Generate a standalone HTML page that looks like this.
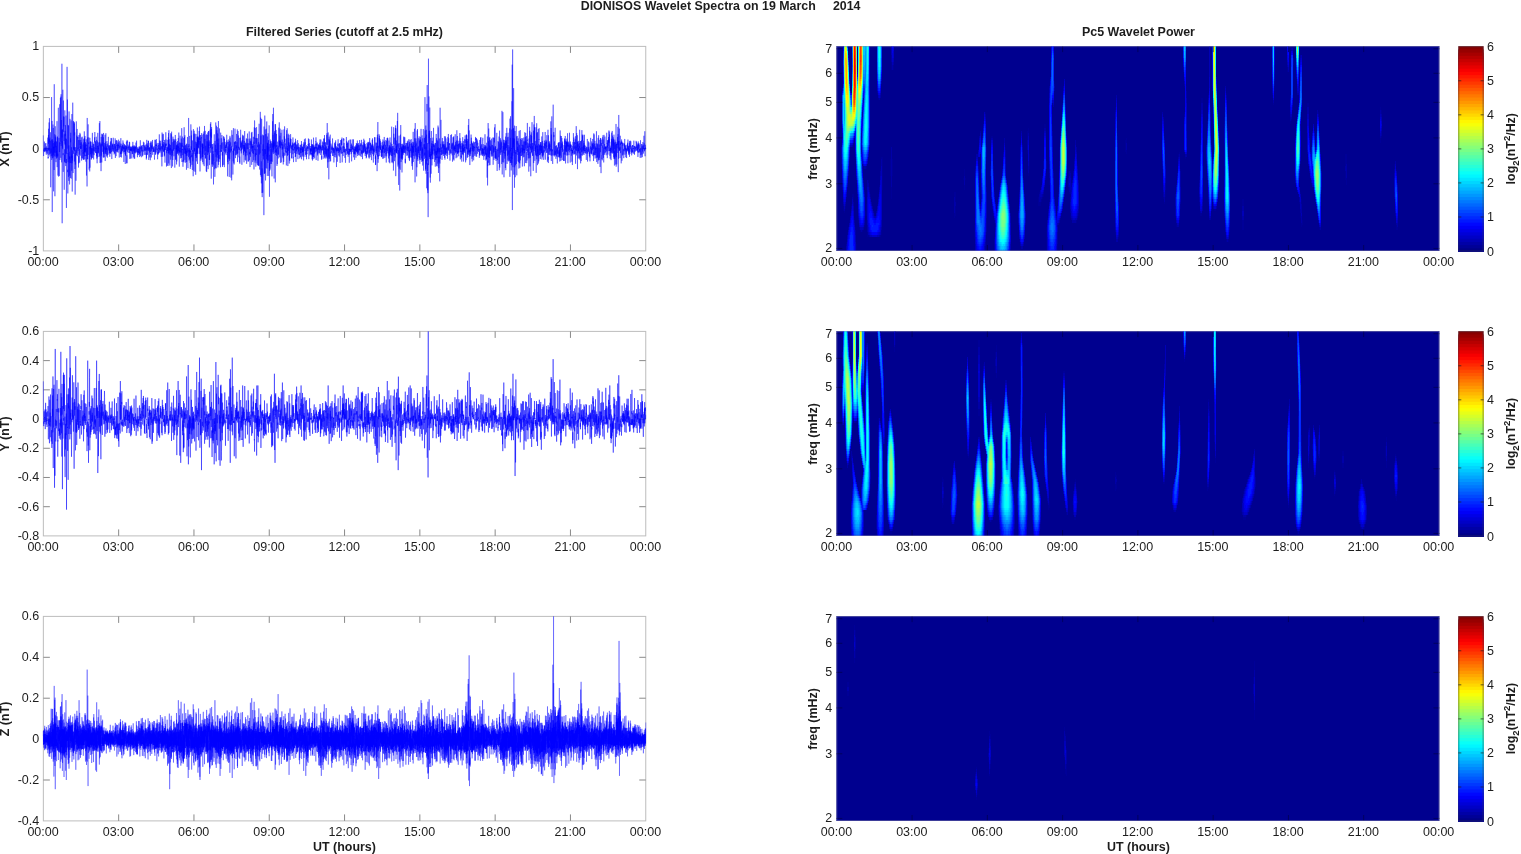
<!DOCTYPE html>
<html><head><meta charset="utf-8"><title>DIONISOS Wavelet Spectra</title><style>html,body{margin:0;padding:0;background:#fff;overflow:hidden}body{font-family:"Liberation Sans",sans-serif}svg{display:block}</style></head><body><svg width="1521" height="854" viewBox="0 0 1521 854" font-family="'Liberation Sans', sans-serif" fill="#1c1c1c"><defs></defs><rect width="1521" height="854" fill="#fff"/><rect x="43.35" y="46.40" width="602.40" height="204.50" fill="none" stroke="#bdbdbd" stroke-width="1"/>
<rect x="118.15" y="46.40" width="1" height="6.50" fill="#8a8a8a"/>
<rect x="118.15" y="244.40" width="1" height="6.50" fill="#8a8a8a"/>
<rect x="193.45" y="46.40" width="1" height="6.50" fill="#8a8a8a"/>
<rect x="193.45" y="244.40" width="1" height="6.50" fill="#8a8a8a"/>
<rect x="268.75" y="46.40" width="1" height="6.50" fill="#8a8a8a"/>
<rect x="268.75" y="244.40" width="1" height="6.50" fill="#8a8a8a"/>
<rect x="344.05" y="46.40" width="1" height="6.50" fill="#8a8a8a"/>
<rect x="344.05" y="244.40" width="1" height="6.50" fill="#8a8a8a"/>
<rect x="419.35" y="46.40" width="1" height="6.50" fill="#8a8a8a"/>
<rect x="419.35" y="244.40" width="1" height="6.50" fill="#8a8a8a"/>
<rect x="494.65" y="46.40" width="1" height="6.50" fill="#8a8a8a"/>
<rect x="494.65" y="244.40" width="1" height="6.50" fill="#8a8a8a"/>
<rect x="569.95" y="46.40" width="1" height="6.50" fill="#8a8a8a"/>
<rect x="569.95" y="244.40" width="1" height="6.50" fill="#8a8a8a"/>
<rect x="43.35" y="97.03" width="6.50" height="1" fill="#8a8a8a"/>
<rect x="639.25" y="97.03" width="6.50" height="1" fill="#8a8a8a"/>
<rect x="43.35" y="148.15" width="6.50" height="1" fill="#8a8a8a"/>
<rect x="639.25" y="148.15" width="6.50" height="1" fill="#8a8a8a"/>
<rect x="43.35" y="199.28" width="6.50" height="1" fill="#8a8a8a"/>
<rect x="639.25" y="199.28" width="6.50" height="1" fill="#8a8a8a"/>
<path transform="translate(43.35 148.65) scale(0.08325 .1)" d="M0 -133l1 95 1 45 1 67 1-49 1-15 1-2 1 12 1-13 1 18 1 4 1-53 1-24 1-23 1 61 1 20 1 13 1 5 1-38 1 37 1 8 1-33 1-55 1 44 1 33 1-8 1-25 1 11 1 14 1-13 1-33 1-25 1 72 1 1 1 11 1 31 1-29 1-11 1-42 1 25 1 24 1-32 1 16 1 30 1-19 1-7 1 1 1-5 1 45 1-43 1-59 1-22 1-27 1-15 1 5 1 124 1-28 1 109 1-15 1 8 1-175 1-55 1 89 1-151 1 211 1-14 1 4 1 61 1-127 1-198 1 284 1-117 1 30 1-240 1 146 1 11 1 37 1 103 1 64 1-167 1 191 1-87 1-70 1 126 1-81 1-132 1 160 1 140 1 250 1-224 1-73 1-3 1 4 1-93 1 43 1-33 1-96 1 166 1-77 1-516 1 285 1 344 1-89 1-168 1-133 1 220 1 155 1 536 1-728 1 48 1 142 1-18 1-24 1-134 1 151 1-156 1-156 1 145 1 184 1-295 1 267 1-77 1 295 1 149 1-409 1-73 1 49 1-16 1 161 1 75 1-233 1-625 1 357 1 326 1-108 1 146 1-25 1-196 1 267 1 353 1-185 1-279 1-75 1-161 1 265 1-155 1 52 1 48 1-118 1 69 1 143 1-156 1 211 1-108 1-37 1-15 1 125 1-65 1-40 1-64 1 140 1-50 1 51 1 20 1-367 1 255 1 205 1-298 1 200 1-124 1-84 1 188 1 7 1 1 1-24 1 218 1-96 1-159 1-215 1-24 1-184 1 269 1 182 1 42 1 196 1-68 1-83 1-162 1-75 1 176 1 77 1 128 1-230 1-100 1-6 1 97 1-478 1 3 1 431 1 123 1-41 1-84 1-11 1-118 1-167 1-200 1 84 1 374 1-4 1 145 1-53 1-558 1 449 1-473 1 516 1-69 1-189 1 223 1-6 1 120 1 86 1-54 1-14 1-918 1 738 1-75 1 932 1-659 1-161 1 64 1-183 1 30 1 168 1-147 1-447 1 411 1 142 1 101 1-20 1 187 1-238 1-475 1 196 1 117 1-94 1-62 1 101 1-93 1 157 1 83 1-67 1 554 1-275 1-129 1 121 1-67 1 77 1-112 1-409 1 190 1 144 1-130 1 144 1-115 1 25 1-110 1 377 1-215 1 69 1 178 1-274 1 150 1-381 1 180 1 4 1 66 1-17 1 691 1-489 1 41 1-161 1-10 1-58 1 138 1-329 1-543 1 767 1 51 1-136 1-355 1 67 1 659 1-24 1 175 1 62 1-56 1-348 1 91 1-372 1 64 1 329 1 126 1-191 1-321 1 339 1 213 1-281 1-74 1 59 1-398 1 250 1 64 1 159 1-73 1 42 1 288 1-279 1 191 1-191 1 63 1-440 1 142 1 16 1 17 1 304 1 112 1-221 1-174 1 38 1-95 1 44 1 259 1-194 1-232 1 348 1 234 1-209 1-54 1-51 1 109 1-36 1 162 1-314 1-253 1 104 1 388 1-72 1 355 1-391 1-20 1 101 1-141 1-49 1-389 1 402 1 72 1 219 1 11 1-186 1-83 1-43 1-209 1 328 1-8 1-61 1 23 1-63 1 72 1-283 1 212 1-206 1 131 1-118 1 379 1-144 1 40 1-88 1-100 1 295 1 72 1-32 1-129 1 417 1-391 1 90 1 0 1-108 1-65 1 87 1-18 1-41 1 85 1 222 1-239 1-101 1-109 1-145 1 171 1 101 1 67 1-69 1-98 1-30 1 176 1-58 1-112 1-72 1 150 1 88 1 35 1-22 1-15 1-99 1-58 1 26 1-26 1 124 1-17 1 34 1-38 1-73 1 98 1 179 1-114 1 18 1 54 1-65 1-183 1-35 1 129 1-79 1 16 1 129 1-38 1-20 1 10 1 129 1-109 1-131 1-58 1 0 1 124 1-110 1 96 1 118 1-94 1 27 1-23 1 5 1-72 1 58 1 29 1-52 1 31 1 24 1-68 1 82 1 37 1 19 1 46 1-93 1-138 1 144 1-3 1 65 1-65 1-149 1 42 1 101 1-4 1 42 1 9 1 28 1-21 1-92 1-26 1 6 1 58 1 86 1-72 1 13 1-107 1-4 1 7 1 98 1 69 1-184 1-29 1 207 1-112 1-88 1 129 1-209 1 185 1 64 1-185 1 59 1 84 1-56 1 129 1-234 1 155 1-29 1 20 1-81 1-4 1 105 1-80 1 62 1 52 1-11 1 68 1-60 1-122 1 26 1-68 1 52 1 194 1 117 1-152 1-125 1 18 1 62 1-110 1 234 1 182 1-404 1-281 1 247 1 164 1-155 1-60 1 7 1 148 1 63 1-109 1-62 1-112 1-67 1 278 1 27 1-37 1-14 1-48 1-25 1 17 1-68 1 121 1 175 1 27 1-20 1 2 1 1 1-212 1 0 1 72 1 88 1 87 1-145 1-191 1 298 1-176 1-85 1 57 1 21 1-41 1 91 1-90 1-38 1 137 1 14 1-88 1-61 1 4 1 32 1 86 1 57 1-112 1-4 1 105 1-92 1-24 1-13 1 75 1-47 1 92 1-34 1-61 1-90 1-63 1 122 1 14 1-4 1 120 1-99 1 63 1-105 1-15 1 44 1 38 1-65 1 27 1 10 1 2 1 114 1-114 1-40 1 29 1 17 1 65 1-80 1-1 1 20 1 23 1-95 1-45 1 49 1-41 1-61 1 19 1 118 1 42 1 16 1-31 1-56 1-17 1 83 1 0 1 35 1-111 1 69 1-7 1 51 1-17 1-8 1-139 1 69 1 67 1 58 1-29 1-108 1-25 1 180 1 8 1-67 1 37 1 75 1-136 1-36 1 114 1-91 1-69 1 6 1 50 1-142 1 122 1 69 1-57 1 68 1-56 1 59 1-59 1 17 1-66 1 10 1 23 1 10 1-16 1 117 1-87 1-18 1-20 1-51 1-162 1 199 1 13 1 11 1-32 1 141 1-353 1 316 1 103 1-50 1-76 1-23 1-1 1-36 1 38 1 39 1 105 1-150 1-48 1 92 1 192 1-121 1-221 1 139 1 48 1-13 1-100 1 82 1 60 1 39 1-125 1-163 1 117 1-112 1 91 1 32 1-5 1-9 1-103 1 65 1 105 1-30 1-7 1-57 1 17 1 35 1 98 1-120 1-81 1 164 1-207 1 115 1 69 1 62 1-121 1 83 1-21 1-44 1 81 1 19 1-18 1-59 1-64 1 8 1 16 1 39 1-5 1 5 1-147 1 127 1 136 1-70 1-124 1 121 1-25 1-28 1 38 1-110 1-80 1 161 1-52 1 85 1 17 1-60 1-4 1 21 1-36 1 100 1-6 1-12 1-104 1-31 1 51 1 91 1-65 1-6 1 94 1-41 1-80 1-20 1 29 1-9 1 6 1 17 1 19 1 49 1-34 1-28 1-116 1 85 1 33 1 10 1 0 1-3 1-26 1 8 1-22 1 55 1-41 1-15 1 80 1-45 1-10 1 24 1 22 1 44 1-109 1 68 1 5 1-44 1 50 1-99 1-15 1 21 1 49 1 36 1 5 1-123 1 81 1 0 1-113 1 114 1 4 1-3 1 1 1 26 1-25 1-114 1 82 1 126 1-22 1-79 1-1 1 1 1-29 1 54 1-79 1 26 1-12 1 13 1-19 1 47 1 4 1-36 1 25 1 27 1-104 1-29 1 14 1 72 1 13 1 26 1 19 1-32 1-4 1 7 1-55 1 107 1-5 1-32 1-66 1 46 1 19 1 26 1-9 1 9 1-87 1-4 1 4 1 38 1-100 1 137 1 59 1-69 1-33 1-14 1 49 1-55 1-53 1 106 1 30 1 21 1-76 1-52 1 5 1-9 1-27 1 56 1-6 1 66 1 3 1-31 1 19 1-57 1-47 1 52 1 61 1-10 1-64 1 56 1-11 1 4 1-15 1-43 1 72 1 19 1-104 1 37 1-10 1 26 1-39 1-40 1 12 1 79 1 9 1-24 1-3 1 0 1 53 1 53 1-92 1-29 1-8 1-34 1 31 1 42 1-31 1 18 1-38 1 36 1-4 1 9 1 19 1 48 1-25 1 52 1-90 1-60 1-38 1 81 1 64 1 12 1-101 1 81 1-33 1 89 1-75 1-34 1 6 1 21 1 44 1-18 1-59 1 5 1 22 1 1 1 26 1-58 1-8 1 58 1-24 1-29 1 33 1-81 1 11 1 63 1-40 1-11 1 96 1-47 1 12 1 2 1-23 1 61 1 91 1-32 1-90 1-33 1 20 1 11 1-16 1-40 1 28 1 54 1-25 1-47 1 61 1 5 1-11 1 37 1-62 1 160 1-186 1 48 1 51 1-50 1 55 1-82 1-18 1 46 1-3 1-40 1 45 1-18 1-31 1-40 1 74 1-11 1-13 1 168 1-82 1 79 1-64 1-168 1 37 1-27 1 69 1-4 1 27 1 17 1-25 1-20 1-30 1 36 1 1 1 10 1 5 1 34 1-61 1 30 1-8 1-4 1-30 1 11 1 15 1-2 1-7 1-15 1 4 1-29 1-16 1 50 1 63 1-106 1-2 1 64 1 51 1 53 1-105 1 14 1-36 1 121 1-86 1-29 1 30 1 9 1-21 1 18 1-7 1-5 1 10 1-13 1-23 1 24 1-3 1 16 1-31 1 41 1-28 1 98 1-29 1-14 1-76 1 17 1 58 1-37 1-46 1 21 1 3 1 55 1 4 1-76 1-46 1 66 1-4 1 25 1-40 1 29 1 32 1 47 1-53 1-41 1-24 1 57 1-43 1 24 1 22 1 35 1 36 1-53 1-79 1 73 1-20 1-35 1 114 1-92 1 6 1-18 1-22 1 28 1 3 1-24 1 3 1 39 1 1 1 23 1-64 1 48 1-36 1-56 1 33 1 40 1 28 1-16 1-46 1 9 1-3 1-64 1 95 1 15 1-14 1-20 1-3 1 9 1-18 1 0 1 49 1 53 1-85 1 33 1 5 1-18 1 42 1-27 1-28 1 5 1-11 1 31 1-3 1 15 1-26 1-20 1 20 1 46 1-45 1-25 1-14 1 19 1 34 1 3 1-60 1 52 1 26 1-23 1 52 1-96 1 5 1 4 1 44 1-21 1-35 1-15 1-54 1 63 1 93 1-54 1-12 1-25 1 16 1-1 1 9 1-21 1-12 1 54 1 60 1-40 1-77 1 22 1 24 1 15 1-49 1 8 1 17 1 16 1-12 1-2 1-31 1-13 1 99 1 14 1-65 1 0 1 56 1-32 1-11 1-1 1-3 1-19 1-62 1-9 1 14 1 46 1 38 1-6 1-58 1 11 1-37 1 40 1 14 1 5 1 64 1-28 1-16 1-43 1 48 1-19 1 9 1-35 1-13 1 39 1-4 1-10 1-10 1 28 1 1 1 21 1 32 1-60 1-6 1 27 1-65 1 57 1-30 1 14 1 110 1-62 1 48 1-78 1-52 1-53 1 69 1 77 1-45 1-54 1 16 1-30 1 75 1 20 1 22 1-48 1-43 1 47 1-40 1 1 1-6 1 32 1-15 1-69 1 100 1-41 1-58 1 30 1 6 1 155 1-68 1-5 1-19 1-16 1-10 1 24 1-25 1 45 1-55 1 33 1 49 1 13 1 9 1-31 1-58 1-57 1 37 1 79 1 58 1-71 1 8 1-27 1-19 1-79 1 106 1-38 1-54 1 69 1 13 1-56 1 111 1 9 1-25 1-66 1-18 1 8 1-58 1 68 1 11 1-2 1-46 1 40 1 5 1-79 1-13 1 52 1 96 1 1 1-35 1-6 1 6 1-17 1-19 1 42 1-26 1 17 1 4 1-12 1-35 1 14 1 38 1-35 1-4 1-3 1 10 1-28 1 20 1 76 1 41 1-19 1-86 1 24 1 3 1-35 1-49 1-38 1 65 1-61 1 34 1 2 1 60 1 52 1-81 1-21 1 91 1-37 1-24 1-5 1 52 1-20 1-60 1-52 1 70 1-17 1 21 1 5 1 26 1 1 1 5 1-22 1-51 1 36 1-7 1 38 1-7 1 103 1-16 1-55 1 21 1-66 1 4 1 37 1-16 1 44 1-13 1-13 1 13 1-84 1 43 1-62 1 46 1 7 1 41 1-13 1-6 1-48 1-113 1 154 1-1 1-55 1-36 1 81 1 36 1 9 1-42 1-8 1 35 1-20 1-63 1 52 1 19 1-65 1-31 1 20 1 9 1 54 1-15 1-9 1 24 1 77 1-72 1-33 1-3 1 31 1 7 1 73 1 37 1 55 1-159 1-179 1 43 1 136 1-61 1-37 1 97 1 64 1-131 1 54 1-2 1-144 1 67 1-5 1-68 1 148 1 28 1-70 1 24 1-49 1 44 1 58 1-26 1 10 1-4 1-16 1-21 1 20 1 80 1-80 1 69 1-154 1 101 1-18 1-57 1 67 1 134 1-40 1-103 1-21 1-17 1 27 1 27 1-45 1-16 1 38 1-154 1 135 1-35 1-28 1 25 1 37 1-20 1 13 1 216 1-171 1 12 1 25 1-47 1-11 1-1 1 22 1-28 1 190 1-51 1-18 1-85 1 6 1-33 1 34 1-111 1 26 1 111 1 124 1-39 1-30 1-218 1 40 1 123 1-205 1 179 1 125 1-237 1-95 1 178 1 47 1-135 1 109 1-14 1-49 1 26 1 57 1 24 1-60 1 170 1-165 1-42 1 3 1 47 1-31 1-18 1 99 1-58 1-11 1 117 1-46 1-219 1 72 1 104 1-60 1-35 1-69 1 79 1 258 1-161 1-191 1-12 1 197 1 49 1-68 1 33 1-16 1 38 1-111 1-16 1 41 1 127 1 74 1-79 1-88 1 103 1-164 1-70 1 137 1-12 1-103 1 12 1 107 1-5 1-18 1 7 1-39 1-29 1-19 1 158 1-137 1-11 1 64 1-42 1-43 1 65 1 33 1-9 1 88 1 106 1-46 1-55 1-103 1-63 1 10 1-70 1 129 1 85 1 36 1-27 1-72 1-109 1 198 1-121 1-3 1-44 1 70 1-35 1 39 1-15 1 164 1-173 1-19 1 162 1-141 1 67 1-90 1 18 1-26 1 30 1 63 1-114 1-11 1 108 1-52 1-3 1 64 1-3 1-90 1 44 1-62 1-37 1 67 1 62 1-46 1 91 1-47 1-181 1 159 1 1 1 50 1-40 1 3 1 168 1-124 1-100 1-17 1 45 1 53 1-45 1 31 1 13 1-54 1-112 1 132 1-62 1 50 1 107 1-39 1-41 1-1 1-17 1 72 1-23 1-101 1 49 1 44 1-58 1-83 1 122 1 72 1-173 1-125 1 118 1 175 1 46 1-192 1 40 1-14 1 12 1-101 1 95 1 37 1-6 1 60 1-62 1 27 1 151 1-69 1 21 1-26 1-123 1-89 1 87 1 117 1 24 1-151 1 34 1 22 1 110 1-18 1-334 1 222 1 30 1 10 1-165 1 120 1 8 1-10 1-30 1-105 1 246 1-116 1 41 1 9 1 3 1-47 1 138 1-81 1-93 1 88 1-16 1-71 1 28 1 33 1-8 1 50 1-118 1 156 1 103 1-188 1 111 1-21 1-83 1-79 1 86 1 34 1-28 1-48 1 46 1-60 1-98 1 123 1 70 1 63 1 15 1 24 1 17 1-128 1-82 1-13 1 57 1-19 1 75 1-195 1-197 1 272 1 13 1 5 1-28 1 112 1 52 1-126 1 77 1-56 1 93 1-29 1-170 1-35 1 127 1 38 1-37 1 82 1 59 1-67 1 128 1-185 1 16 1-6 1 152 1-77 1-156 1-190 1 78 1 141 1 111 1-111 1 17 1 14 1-140 1 146 1-194 1 228 1 38 1-22 1 99 1-99 1-19 1 127 1 19 1 23 1-163 1-132 1 109 1-3 1-9 1 111 1-106 1 53 1 73 1 130 1-186 1-248 1-37 1 202 1 11 1 68 1 123 1 12 1-366 1 199 1-83 1-150 1 193 1 8 1-27 1 35 1-31 1 8 1-159 1 97 1 198 1 89 1-108 1-5 1-60 1-129 1 143 1-22 1-9 1 219 1-267 1-86 1-54 1 239 1-31 1-62 1 70 1 57 1-178 1 52 1-3 1 92 1-156 1 92 1 29 1-124 1-48 1 166 1-150 1-110 1 184 1 180 1-189 1-74 1 162 1-177 1 114 1 5 1-104 1 42 1-47 1 81 1 0 1 22 1-15 1-49 1 27 1 47 1-102 1 64 1-137 1 59 1 124 1 48 1-75 1-200 1 135 1-49 1 128 1 50 1 80 1 105 1-221 1-18 1-4 1-60 1 111 1-172 1 236 1-71 1 92 1-100 1-130 1 202 1-86 1-29 1-12 1-36 1-45 1 9 1 2 1-52 1 39 1 138 1 87 1-157 1 33 1-124 1 177 1 47 1-136 1 117 1 70 1-173 1 121 1-130 1 98 1-65 1 20 1 151 1-109 1-12 1-45 1-52 1-88 1 145 1-16 1-151 1 48 1 81 1 208 1 9 1-110 1-48 1-91 1-153 1 291 1-21 1-83 1-1 1-57 1 113 1 13 1-206 1 129 1 148 1-58 1-4 1 59 1-125 1 17 1 40 1 0 1-163 1 131 1 116 1 114 1-133 1-163 1-73 1 233 1 144 1-202 1-38 1-69 1 112 1-1 1 135 1-46 1-55 1-37 1-122 1-48 1 201 1-226 1 195 1-5 1-97 1 274 1-7 1-91 1-116 1-167 1 5 1 210 1-89 1 48 1-175 1 158 1-66 1 139 1-70 1 129 1-63 1 115 1-99 1 47 1-22 1-104 1-58 1 43 1-9 1-83 1-69 1 61 1 6 1-126 1 241 1-23 1 71 1-306 1 242 1-9 1-130 1 171 1 165 1 126 1-280 1-216 1 86 1-106 1 101 1 169 1 103 1-111 1-91 1 50 1-19 1-32 1 102 1 126 1-123 1-78 1 139 1 31 1 3 1-92 1-38 1 24 1 119 1-114 1 63 1 65 1 177 1-171 1-87 1-100 1-52 1 43 1 17 1 117 1-205 1-63 1 63 1 117 1 3 1 61 1 105 1-78 1 154 1-30 1-270 1-57 1-3 1 113 1-32 1-42 1 136 1 98 1-420 1-37 1 70 1 182 1 91 1-75 1-2 1 193 1-115 1-143 1-168 1 135 1 153 1 70 1-313 1 105 1-13 1 103 1 80 1-306 1 56 1 13 1 207 1-68 1-145 1 168 1 99 1 73 1-25 1-218 1 75 1 109 1-212 1-193 1 154 1 284 1-161 1-102 1 186 1 14 1-36 1 70 1-132 1-139 1-6 1-58 1 163 1 42 1 19 1 45 1 39 1-27 1-54 1 5 1-30 1-15 1-23 1 86 1 138 1-106 1-240 1 76 1 99 1 7 1-5 1 17 1-50 1-64 1-24 1 114 1 22 1-2 1-41 1-47 1 59 1-137 1 36 1 45 1 123 1 0 1-14 1-16 1 145 1-153 1 137 1-178 1-53 1 58 1 23 1 4 1-6 1-34 1-53 1-9 1-43 1 104 1 66 1 29 1 87 1-73 1-69 1-138 1 33 1-15 1 285 1-197 1-86 1 64 1 65 1-40 1-3 1-4 1-21 1-31 1 34 1 11 1 11 1-8 1 68 1-66 1 12 1-33 1 67 1-24 1 21 1 40 1-107 1 5 1 15 1-33 1 51 1-9 1-67 1-59 1 95 1-40 1 64 1 60 1-77 1-30 1 38 1 9 1 135 1 162 1-243 1 99 1-94 1-2 1-49 1-10 1 178 1-103 1-59 1-62 1 60 1 108 1-72 1-120 1 127 1-29 1-6 1 126 1 46 1 111 1-170 1-156 1 47 1 117 1-199 1 183 1-42 1-191 1 47 1 50 1-80 1 90 1 6 1 54 1-22 1-27 1-53 1 100 1 35 1 218 1-81 1-225 1 42 1 0 1-53 1 41 1-10 1 62 1 251 1-355 1-146 1 30 1 126 1 9 1-30 1-86 1-3 1 148 1 14 1 11 1 23 1 13 1 2 1 186 1-236 1 26 1 78 1-60 1-11 1-261 1 273 1-55 1-15 1 105 1 43 1-139 1 35 1 103 1 13 1-182 1-43 1 77 1-41 1-31 1-1 1 85 1-47 1-57 1-118 1 151 1-7 1-18 1 49 1 120 1-113 1-54 1 72 1 2 1 61 1-69 1-19 1-10 1 59 1 40 1 2 1-75 1-28 1-110 1 145 1-22 1 73 1-17 1-97 1 19 1 30 1 71 1-247 1 60 1 172 1 94 1-71 1-58 1 42 1-44 1-5 1-174 1 163 1 14 1-133 1 92 1 37 1-1 1-15 1 29 1-8 1 40 1 45 1-57 1-55 1-82 1 78 1 41 1-22 1 3 1 145 1-58 1 72 1-3 1-92 1-45 1-15 1-27 1-81 1 60 1 22 1 18 1-178 1 89 1 119 1 7 1-77 1-24 1 64 1-50 1 108 1-41 1-66 1 73 1-16 1 3 1 39 1 122 1-122 1-51 1-17 1-57 1 20 1 72 1-14 1-131 1 30 1 93 1 9 1-113 1-4 1 99 1-11 1 21 1-22 1-94 1 177 1-64 1 83 1-9 1-91 1 130 1 19 1 23 1-76 1-102 1-35 1 82 1-41 1 61 1-202 1 177 1 28 1-43 1 5 1 42 1 79 1-166 1 3 1 72 1 56 1-92 1-45 1 180 1-42 1-58 1 24 1-14 1-29 1-74 1-4 1-26 1 34 1 116 1 105 1-146 1-56 1 26 1 31 1-103 1 163 1-111 1-40 1-24 1-43 1 88 1 38 1 27 1-60 1 6 1 16 1 127 1 39 1-123 1-16 1 135 1-26 1-66 1-50 1-24 1-14 1 49 1-36 1-59 1 65 1-137 1 162 1 31 1 95 1-76 1 12 1-3 1-44 1 54 1-28 1 153 1-142 1-120 1 40 1 11 1 108 1 0 1-177 1-6 1 4 1 62 1-43 1 79 1-64 1 7 1 86 1-189 1 99 1 5 1 207 1 11 1-109 1-140 1-81 1 97 1 62 1-36 1 48 1-23 1-9 1 75 1-42 1 130 1-57 1-106 1 54 1-49 1 2 1 10 1-107 1 77 1 94 1 2 1-32 1 94 1-186 1 84 1 194 1-113 1-206 1 12 1-114 1 168 1-43 1-194 1 15 1 284 1-52 1 113 1-2 1 64 1-138 1 74 1-37 1-247 1 89 1 147 1 91 1-74 1 135 1-62 1-173 1-50 1 50 1-51 1 88 1 82 1-87 1-192 1 166 1-6 1 17 1 163 1 23 1-3 1-140 1 48 1 80 1 33 1-236 1-34 1 57 1 30 1-23 1 26 1-6 1 90 1 95 1-18 1-185 1-109 1 271 1 50 1-231 1-10 1 156 1 80 1-81 1-172 1-165 1 252 1 1 1 55 1-63 1-36 1 36 1 213 1-72 1-187 1 20 1 7 1-1 1 70 1-414 1 509 1 124 1-78 1-196 1-301 1 255 1 10 1-85 1 195 1 217 1-97 1-58 1 220 1-248 1-133 1-263 1 178 1 118 1 135 1 57 1 253 1-246 1 287 1-412 1-213 1 158 1-10 1 286 1 146 1-368 1-36 1-56 1 1 1-24 1 118 1-135 1-69 1 237 1-37 1-206 1 55 1 221 1 524 1-581 1-305 1 286 1 64 1 124 1-163 1-71 1-14 1 243 1-77 1-502 1 301 1 275 1-177 1-149 1-111 1 155 1 92 1-49 1 312 1-115 1-349 1 106 1 90 1 145 1-1 1-176 1-49 1-168 1 269 1-3 1 33 1 6 1-374 1-4 1 274 1 198 1-195 1-34 1 208 1 94 1-394 1 239 1-177 1 144 1-37 1-100 1 194 1-55 1-84 1-157 1 6 1 155 1 112 1-204 1 103 1 21 1 234 1-216 1-77 1 47 1-117 1-143 1 6 1 293 1 111 1 304 1-335 1 76 1-160 1 135 1-242 1 68 1 187 1-199 1-102 1 15 1 68 1-65 1 19 1 89 1 1 1 93 1-128 1 153 1-39 1 37 1-226 1 79 1 119 1-98 1 1 1-81 1 60 1 31 1 95 1 145 1-280 1-47 1 181 1-174 1-115 1-3 1-113 1 144 1 119 1-335 1 311 1 75 1-179 1 169 1-98 1 122 1-264 1-199 1 420 1-82 1-16 1 70 1-41 1 85 1 156 1 116 1-313 1-79 1-67 1 58 1 25 1 53 1-153 1 223 1-119 1 73 1-17 1-227 1 141 1 440 1-347 1-3 1-232 1 279 1-23 1 52 1-11 1-172 1-67 1 41 1 135 1 52 1-77 1 19 1-130 1 219 1-70 1 143 1 2 1 26 1-7 1-177 1 79 1 87 1-2 1-32 1-92 1-99 1 55 1 19 1-5 1-34 1 92 1-49 1 90 1-17 1-105 1 18 1 32 1 35 1-99 1-172 1 136 1 31 1 23 1-63 1 46 1-226 1 191 1 50 1-56 1 137 1 28 1-33 1-56 1-127 1 127 1-198 1 34 1 2 1 146 1 160 1-48 1-174 1 74 1-23 1-22 1-107 1 38 1 62 1 23 1-31 1 144 1-1 1 60 1-8 1-4 1-176 1 21 1-159 1 174 1 0 1 25 1-101 1 28 1 64 1-16 1 73 1 20 1-3 1-120 1 120 1 21 1-164 1 77 1 149 1-36 1-43 1 6 1-46 1 94 1-17 1-177 1-131 1 64 1 129 1-30 1 6 1-100 1 56 1-19 1-137 1 59 1 152 1 85 1-27 1 15 1-160 1 70 1-23 1 38 1 43 1-40 1-13 1 22 1 0 1-6 1 50 1-24 1 16 1 7 1-16 1 143 1-41 1-120 1-192 1 110 1 86 1-155 1 117 1 58 1-35 1-200 1 111 1 137 1 23 1-72 1 76 1-36 1-62 1 201 1-102 1-71 1-4 1-104 1 77 1-32 1-2 1 86 1-112 1-59 1 152 1 60 1-55 1-144 1 124 1 97 1 64 1-87 1 48 1-143 1 99 1 57 1-184 1 13 1 27 1 66 1-86 1 3 1 14 1-72 1-5 1 65 1-109 1 79 1 57 1-29 1-13 1-45 1 64 1 36 1-11 1-19 1 93 1 28 1-80 1-44 1-7 1 53 1 75 1 7 1-68 1-17 1-27 1-25 1 54 1-77 1 69 1 4 1 0 1 44 1-168 1 93 1-26 1 74 1 60 1-7 1 1 1 52 1-27 1-105 1 17 1-26 1-47 1 64 1-11 1-53 1 29 1 25 1 44 1-3 1-60 1 18 1-62 1-2 1 30 1-21 1 13 1 0 1 126 1-26 1-88 1-69 1 178 1-47 1-59 1-45 1 108 1 97 1-133 1-42 1 14 1 8 1 6 1 40 1-45 1-14 1 34 1 52 1-19 1-45 1 22 1-54 1 30 1 15 1-22 1-2 1-63 1 14 1 89 1 30 1 57 1-117 1-7 1 21 1 47 1-104 1 5 1 60 1 18 1-14 1-32 1 6 1 16 1 14 1 44 1-19 1 20 1-77 1 13 1 9 1 22 1 22 1 46 1-37 1-28 1-14 1-57 1-2 1 86 1-9 1-43 1 91 1-59 1-61 1 33 1 16 1-25 1 41 1 14 1-42 1-1 1-40 1-37 1 21 1 161 1-100 1-50 1-4 1 60 1 0 1-12 1 50 1 30 1-100 1 0 1 55 1-53 1 43 1-17 1 61 1-44 1 11 1-7 1-37 1-3 1 41 1-71 1 95 1 64 1-100 1-81 1 89 1 55 1-21 1-64 1-18 1-5 1-39 1-28 1 72 1 8 1 11 1-18 1-29 1 38 1 36 1-55 1-34 1 23 1-60 1 57 1 107 1-15 1 3 1-17 1 5 1-39 1-3 1 86 1-88 1 0 1-29 1 54 1 87 1-87 1-29 1-4 1 23 1 48 1-8 1 5 1-14 1-35 1-22 1-10 1 13 1 14 1-16 1 20 1 20 1-47 1 22 1-2 1-44 1 18 1-21 1-52 1 38 1 25 1 44 1 69 1 31 1-75 1-125 1 89 1 15 1-34 1-30 1 28 1 0 1 17 1 23 1 19 1 36 1-50 1-16 1-14 1-14 1 74 1 3 1-49 1 58 1-50 1-10 1-6 1 31 1-24 1 31 1-58 1 30 1 16 1-31 1-81 1 143 1-6 1 15 1-105 1 16 1 97 1-23 1 61 1-92 1-52 1 70 1 16 1 71 1-164 1 122 1-48 1-11 1-48 1 46 1 37 1 52 1-116 1 96 1-146 1-49 1 14 1 158 1 21 1-86 1-35 1 84 1-69 1 74 1-63 1 9 1 1 1 2 1-6 1 103 1-113 1 37 1 3 1 15 1-57 1 6 1 42 1 0 1-80 1 44 1-4 1 10 1-56 1-18 1 10 1-49 1 47 1 180 1-31 1-34 1-67 1 12 1 34 1-75 1 14 1-28 1 62 1-35 1-26 1 59 1-8 1 8 1 11 1-5 1 63 1-80 1 11 1 53 1-52 1 121 1-51 1-113 1 22 1 28 1-47 1 40 1 9 1-13 1-21 1 10 1 56 1-25 1-41 1-9 1 15 1-16 1 12 1 70 1-49 1-56 1 48 1-3 1 28 1-108 1 90 1-18 1 11 1 74 1-57 1-39 1 36 1-30 1 19 1-46 1-38 1 109 1-18 1 28 1 12 1-37 1-12 1-5 1 12 1 113 1-40 1 30 1-102 1-31 1 22 1 25 1-32 1-17 1 9 1 41 1-9 1-78 1 54 1 6 1-1 1-49 1 6 1 64 1 13 1-10 1-28 1-7 1 84 1-161 1 149 1-24 1 76 1-38 1-59 1-65 1 11 1-53 1 80 1-113 1 226 1-87 1-23 1 51 1-4 1 51 1-85 1 20 1-78 1 19 1 6 1 40 1 57 1-97 1-21 1 83 1 78 1-60 1-73 1 123 1-85 1 0 1-25 1 98 1-72 1 52 1-104 1-90 1 98 1-116 1 114 1-47 1-169 1 137 1 107 1 204 1-82 1-112 1 81 1 18 1-94 1 133 1-10 1-181 1-107 1 187 1-27 1-23 1 86 1 22 1-80 1 304 1-259 1-146 1 202 1-216 1-8 1 122 1-91 1 73 1 113 1-30 1-35 1-110 1 154 1 54 1-59 1-53 1-158 1 155 1 55 1-6 1 40 1 21 1-85 1 8 1-34 1-65 1 6 1 28 1 64 1-19 1 7 1-7 1-7 1-6 1-29 1 26 1-43 1 17 1 15 1-5 1 22 1-8 1-29 1-1 1-82 1 124 1 51 1-92 1 41 1 39 1 13 1-38 1 7 1-49 1 38 1-25 1-15 1 7 1 50 1 25 1 64 1-22 1-117 1 42 1-2 1-37 1-18 1-39 1 34 1 49 1 56 1-83 1 7 1 14 1 42 1-71 1-59 1 65 1-44 1 46 1 7 1-91 1 86 1 7 1 78 1-107 1 39 1 4 1 2 1-24 1 44 1 138 1-178 1-8 1 24 1-41 1-5 1 51 1-34 1 5 1 115 1 16 1 2 1-144 1 27 1 11 1-45 1-30 1 24 1-28 1-20 1-20 1 102 1 36 1-15 1-34 1 28 1-25 1 71 1-80 1-11 1-26 1 28 1 13 1 10 1 77 1-54 1-36 1-42 1 51 1 36 1-91 1 74 1-4 1 57 1 72 1-138 1 0 1-26 1 35 1-54 1-46 1 41 1 50 1 12 1 1 1 29 1-43 1-16 1 63 1-6 1-128 1 45 1-59 1 38 1 23 1 4 1-79 1 14 1 106 1 128 1-35 1-67 1 10 1-61 1-5 1-3 1 1 1 12 1-1 1 14 1 72 1-58 1-17 1-27 1 54 1 9 1-141 1 25 1-1 1-14 1 89 1-50 1 54 1 43 1-39 1-13 1-7 1 30 1 12 1 12 1-35 1 92 1-64 1-6 1 5 1-24 1 27 1 56 1 55 1-8 1-67 1-35 1-8 1-19 1-3 1 30 1 32 1-22 1-22 1-135 1 56 1 83 1-18 1-79 1 40 1-12 1 26 1 4 1-9 1 56 1 18 1-39 1-72 1 53 1 60 1-92 1-9 1-6 1 33 1 37 1 67 1-56 1 38 1-53 1-92 1 57 1 20 1 20 1-9 1 50 1-40 1-18 1 21 1 50 1 72 1-81 1-13 1-23 1-20 1 57 1-58 1 28 1-121 1 12 1 61 1 45 1-25 1-2 1 30 1-11 1-50 1 3 1-64 1 40 1 45 1-14 1 22 1 52 1-54 1 15 1-66 1 28 1 150 1-91 1-10 1-65 1 32 1-1 1-3 1 46 1-38 1-24 1 35 1-15 1-2 1-81 1-3 1 84 1 13 1-13 1 11 1 14 1-5 1-64 1-39 1 75 1 103 1 0 1-83 1 50 1-22 1-25 1 2 1-31 1 71 1-29 1 37 1-26 1 82 1-79 1-51 1 40 1-19 1 16 1-14 1 5 1-14 1 63 1-44 1-31 1 38 1-54 1-2 1 37 1 87 1-117 1 66 1-30 1-33 1-31 1 49 1 37 1-64 1-17 1 77 1-41 1 10 1 1 1 9 1-22 1-32 1-33 1 133 1-103 1 43 1 82 1-14 1-83 1 57 1-74 1 81 1-37 1 50 1 8 1-43 1-75 1 43 1 2 1-25 1 12 1 39 1-21 1 4 1 23 1 46 1-83 1-2 1 7 1-75 1 97 1 1 1-13 1 23 1-25 1-33 1 76 1 32 1-24 1-4 1-12 1-8 1-30 1-48 1 30 1-26 1 46 1 36 1 51 1-75 1-34 1-62 1 139 1-6 1-24 1-7 1 2 1 25 1-17 1 25 1 8 1-61 1-35 1 77 1 67 1-67 1-29 1-10 1-31 1 73 1-12 1-15 1-80 1 40 1 48 1 14 1-44 1 54 1-104 1-41 1 58 1 31 1 4 1-37 1 41 1-29 1 67 1-90 1 33 1-61 1 62 1 42 1-4 1-2 1-29 1 64 1 22 1-118 1 27 1 45 1-26 1 51 1-32 1 28 1-71 1 21 1 12 1 70 1 17 1-4 1-60 1-6 1 61 1-42 1-36 1-18 1 14 1-26 1-37 1 113 1-73 1 74 1-35 1 7 1-25 1-2 1-46 1 88 1-79 1-19 1-10 1 68 1-72 1 46 1-1 1 13 1-28 1-22 1 81 1 67 1-77 1-31 1 55 1 8 1 56 1-87 1 29 1-75 1-34 1-38 1 3 1 54 1 17 1-37 1 155 1-13 1-127 1 82 1 33 1-23 1-76 1-18 1 28 1 50 1-11 1-26 1 21 1-9 1 45 1-81 1 26 1 22 1 47 1 59 1-141 1 41 1-4 1-12 1-41 1 28 1-75 1 44 1 64 1-15 1-107 1 119 1 19 1 20 1-49 1-10 1-37 1 90 1 10 1-84 1 164 1-79 1 13 1-67 1 22 1-39 1 28 1-8 1 51 1-39 1-25 1-8 1-33 1-23 1-46 1 151 1-37 1-2 1-24 1-58 1-30 1 22 1 159 1 34 1-9 1-31 1 103 1-87 1 84 1-94 1-68 1-60 1 61 1 25 1-36 1 54 1-102 1 45 1-6 1 39 1-3 1 25 1 20 1-60 1-27 1 251 1-217 1-122 1 108 1-134 1 83 1 136 1-47 1-174 1-124 1 210 1 78 1 119 1-77 1 40 1-62 1-31 1-6 1-34 1 34 1 73 1-53 1-132 1-38 1 177 1-56 1-82 1 68 1 28 1-97 1-23 1 106 1 85 1 12 1-114 1-54 1 93 1 4 1-11 1-69 1 90 1-30 1 29 1-42 1-8 1-20 1 60 1 38 1 3 1-1 1-74 1 39 1 79 1-78 1 23 1 51 1-45 1-23 1 26 1 14 1 24 1-20 1-125 1 108 1-52 1-14 1 42 1 85 1-119 1 20 1-94 1 104 1 29 1-74 1 37 1-16 1-20 1 76 1 54 1-94 1-46 1 43 1 5 1-84 1 4 1 41 1-84 1 115 1 3 1 43 1-68 1-44 1 80 1 81 1-90 1-2 1-3 1 79 1-71 1 27 1-71 1 29 1 19 1-19 1-49 1-29 1 81 1 6 1 56 1-19 1 102 1-118 1-99 1 69 1 39 1 37 1 10 1-93 1 45 1 11 1-146 1 34 1 56 1 40 1-111 1-23 1 86 1 4 1-31 1-53 1 63 1 25 1 43 1 22 1-60 1-1 1 52 1 58 1-65 1 4 1-50 1-65 1-3 1 7 1 210 1-169 1 97 1-67 1-2 1-14 1 94 1-74 1 145 1-178 1 61 1-141 1 122 1 24 1-20 1-34 1 38 1 35 1 8 1-55 1-67 1 89 1-16 1 30 1-7 1-48 1 13 1 74 1-77 1 4 1-52 1-169 1 215 1 144 1-186 1 109 1 11 1-15 1-58 1 132 1-20 1-19 1-118 1 11 1 30 1 25 1 88 1 17 1-172 1 74 1-4 1 69 1 106 1-19 1-227 1-187 1 167 1-102 1 151 1 9 1-17 1 69 1-31 1 0 1-19 1 112 1-203 1-32 1 74 1 22 1 32 1 2 1-9 1 76 1-11 1-62 1-220 1 167 1-193 1 310 1 197 1-201 1-98 1-179 1 234 1-27 1 36 1-52 1-18 1 73 1-125 1 41 1 83 1-90 1 71 1-42 1 65 1 9 1-220 1-112 1 65 1 142 1 51 1-339 1 285 1 35 1 139 1 78 1-211 1-16 1 208 1-50 1-95 1 16 1 205 1 127 1-203 1-176 1-39 1 54 1-129 1 329 1-41 1-131 1-32 1 5 1 143 1 48 1 228 1-423 1 101 1-92 1-58 1 68 1 196 1-138 1-104 1-109 1 114 1 28 1-238 1 101 1 121 1 111 1 37 1-97 1-35 1 31 1-41 1 41 1 69 1-149 1 145 1-115 1 68 1 187 1-143 1-121 1 138 1-71 1-90 1 96 1-45 1 97 1-61 1-12 1-7 1 17 1-71 1 100 1-106 1 48 1 39 1-64 1-11 1 32 1 1 1-125 1 107 1 44 1-145 1 56 1 61 1 42 1-70 1 45 1 2 1 20 1-1 1-153 1 55 1 11 1 53 1-28 1 163 1-39 1 46 1-139 1-42 1 23 1 59 1-28 1-12 1-28 1-37 1 65 1-49 1-16 1 23 1 66 1 7 1-1 1 32 1-25 1-1 1-42 1 19 1-36 1 15 1-74 1 59 1 40 1 42 1-97 1-30 1 57 1-39 1-40 1 103 1-39 1 22 1 21 1 66 1-63 1-31 1-20 1 58 1-33 1-99 1 73 1-7 1 24 1 116 1-93 1-3 1 110 1-192 1 90 1 71 1-101 1-39 1-1 1 18 1-58 1 38 1 35 1-6 1 44 1-3 1-32 1 80 1 18 1-79 1 8 1 19 1 6 1-135 1 79 1-43 1 29 1 120 1-88 1-37 1-14 1 207 1 17 1-197 1 132 1 38 1-166 1 13 1-22 1 238 1-241 1-38 1 120 1 17 1-108 1 80 1-209 1 86 1 215 1-92 1-67 1-37 1 100 1-46 1 26 1 57 1-12 1-89 1 15 1-28 1 2 1-3 1-158 1 39 1 115 1 146 1-205 1 52 1 49 1 340 1-318 1-275 1 136 1 101 1 8 1 45 1-73 1 108 1-14 1-157 1 72 1-42 1 152 1-36 1-97 1 22 1 12 1 55 1 242 1-282 1 18 1 172 1-226 1-120 1-22 1 140 1 18 1 129 1-301 1 156 1 20 1 36 1 86 1 20 1-111 1 71 1-98 1 40 1-49 1 30 1 38 1-12 1-72 1-60 1-4 1 165 1-28 1-44 1-111 1 132 1 86 1-19 1 35 1-191 1 39 1 41 1 152 1-96 1 12 1-61 1-105 1 121 1-141 1 95 1-63 1 102 1-40 1-56 1 194 1-141 1-140 1-31 1 69 1 162 1 16 1 49 1-122 1-43 1 148 1 51 1-66 1-36 1-47 1-116 1 182 1-15 1-29 1-17 1 137 1-124 1 63 1 105 1-272 1 172 1 52 1-58 1-64 1-23 1-172 1 106 1 164 1 12 1 134 1-89 1-107 1-66 1 12 1 106 1-29 1-21 1-68 1-5 1 50 1-110 1 211 1-63 1 23 1-64 1-515 1 450 1-117 1 192 1 82 1-212 1 340 1-53 1-61 1 97 1-434 1 236 1-24 1 270 1-180 1-87 1-172 1 283 1 62 1-297 1 232 1 304 1-313 1-150 1-380 1 76 1-36 1-229 1 756 1-176 1 146 1 134 1-77 1 269 1-183 1 212 1-428 1 14 1 654 1-593 1-36 1-282 1-674 1 1064 1-26 1-50 1-359 1-172 1-79 1 476 1-134 1 75 1-49 1 228 1 10 1-263 1 281 1-253 1-260 1 493 1-24 1-59 1 290 1-258 1 237 1 72 1-284 1 46 1-185 1-23 1 48 1 167 1-5 1-50 1 197 1-260 1-103 1-64 1 185 1 61 1-124 1 118 1-89 1 73 1 119 1-122 1-85 1-38 1 52 1 130 1-96 1 43 1-19 1-80 1 105 1-167 1 87 1 129 1-43 1-4 1-16 1-75 1-114 1-62 1 190 1-28 1 66 1-3 1-13 1-47 1 98 1 6 1 7 1-74 1-27 1 24 1 142 1-54 1-43 1-31 1 43 1-90 1-16 1 79 1 159 1-62 1-173 1 71 1 68 1 30 1-69 1-25 1 78 1-60 1-156 1-29 1 188 1 52 1-69 1 40 1-169 1 90 1 187 1-92 1 11 1 87 1-266 1 93 1 29 1-43 1 55 1 48 1-93 1 48 1-123 1 224 1-55 1-326 1 227 1 33 1-241 1 229 1 226 1-139 1-116 1 8 1 199 1-107 1 47 1-58 1 18 1-95 1 34 1-136 1 149 1-53 1 137 1 196 1-282 1 104 1-47 1-21 1-490 1 339 1 52 1 119 1-32 1-6 1-45 1-66 1 65 1 17 1-322 1 156 1 188 1 8 1-65 1 4 1-17 1 37 1 39 1-17 1-16 1-16 1 33 1 66 1-72 1-112 1 67 1-102 1 115 1 49 1-27 1-48 1 2 1-31 1 27 1-20 1 59 1 31 1-85 1-38 1 77 1 69 1-62 1-50 1 50 1 29 1 15 1-94 1-6 1 52 1-41 1-2 1-88 1 121 1 96 1-42 1-77 1 84 1 52 1-152 1 71 1 31 1-65 1 55 1-112 1-60 1 100 1 44 1 39 1-43 1-120 1 68 1 27 1 31 1 15 1-47 1 17 1-10 1 45 1-4 1 11 1 23 1-55 1-36 1 67 1-17 1-10 1-90 1 74 1 94 1-113 1-93 1-1 1-11 1 46 1 16 1 54 1 9 1-52 1-103 1 37 1 108 1 16 1-118 1 70 1 57 1-51 1 25 1 54 1 11 1-12 1-103 1 19 1-20 1 32 1 21 1 1 1 33 1 87 1-86 1-18 1 25 1-26 1 1 1-14 1-7 1-96 1-36 1 28 1 115 1 48 1-50 1 27 1 12 1-51 1-14 1-4 1-117 1 106 1 40 1-52 1-3 1 54 1-35 1 64 1 36 1-38 1-79 1 100 1 80 1-69 1-95 1-26 1 32 1-5 1-43 1-37 1 59 1 71 1-131 1 24 1 153 1 45 1-85 1-147 1 70 1 173 1-100 1-44 1 30 1-21 1 78 1-55 1-21 1-10 1 31 1-45 1 62 1-29 1 12 1-55 1-96 1 159 1 17 1-20 1 34 1-29 1-83 1 73 1-51 1 44 1 96 1-12 1-82 1-83 1 71 1 21 1 25 1-30 1-5 1-63 1-122 1 179 1 93 1-81 1-87 1 55 1-101 1 149 1 28 1-85 1 54 1 31 1-26 1 19 1-21 1 11 1-22 1-57 1 80 1-59 1-26 1 70 1 56 1-112 1-43 1 95 1 22 1-16 1-32 1 2 1 8 1-53 1 6 1 38 1-73 1-38 1-36 1 137 1-85 1 97 1 25 1 3 1 86 1-149 1-6 1 82 1-27 1-82 1 69 1 11 1-30 1 34 1 74 1-10 1 22 1-34 1-40 1 3 1 17 1 89 1-119 1-69 1 76 1 16 1-86 1 76 1-55 1 72 1 17 1-17 1-152 1-4 1 167 1-93 1-2 1 109 1-12 1-25 1-105 1 128 1 77 1-60 1-74 1 40 1-74 1 7 1-9 1 65 1-30 1 35 1-7 1-8 1-34 1 15 1-89 1 137 1-35 1-24 1 8 1-124 1 75 1-34 1 16 1 66 1 110 1 36 1-28 1-82 1-35 1-39 1 163 1-5 1-168 1-82 1 109 1-7 1-104 1 130 1 13 1-111 1-25 1 142 1-107 1 93 1-70 1 56 1 112 1-101 1 41 1 24 1-2 1-33 1 63 1-4 1-48 1-127 1 101 1 26 1-268 1 186 1 80 1 31 1-51 1-307 1 315 1 27 1-7 1-141 1-79 1 109 1 17 1 90 1-22 1 65 1-57 1 40 1 104 1-116 1-34 1-18 1 35 1-78 1 119 1-73 1-12 1 40 1 24 1-58 1 6 1 28 1-86 1-82 1 141 1-91 1-18 1 68 1-25 1-9 1 42 1-2 1 70 1 67 1-43 1-57 1-62 1 189 1-132 1 24 1-53 1-14 1 50 1-26 1-33 1 66 1 73 1-72 1-40 1 37 1 21 1-102 1 90 1 57 1 42 1-84 1-61 1 17 1 6 1 25 1-20 1-65 1 45 1 14 1-11 1 73 1 4 1 12 1-79 1-51 1 17 1 19 1 80 1-50 1-77 1 13 1-61 1 32 1-18 1 119 1 56 1 6 1-11 1-49 1-3 1-37 1 14 1-38 1-61 1 105 1 83 1-90 1-44 1-43 1 61 1 3 1 1 1-39 1-12 1 133 1-33 1-33 1 38 1-54 1-28 1 4 1 13 1 34 1 9 1-6 1-5 1-10 1-4 1 40 1-11 1-2 1 30 1-30 1 6 1 26 1-32 1 15 1 74 1-58 1 2 1 32 1-36 1-89 1-30 1 79 1 19 1 32 1 24 1-30 1-20 1-61 1-66 1 114 1 10 1-38 1 47 1-138 1 39 1 50 1-3 1 3 1 32 1-17 1-33 1 22 1 88 1-18 1-33 1 34 1-48 1 55 1-31 1-30 1 21 1-15 1 73 1-84 1-77 1 2 1-24 1 169 1-50 1-18 1-38 1 12 1 75 1-37 1 50 1 3 1-24 1 12 1 67 1-122 1 87 1-71 1-23 1 2 1-19 1 46 1-6 1-2 1-19 1 87 1-65 1-74 1-77 1 64 1 139 1-16 1-78 1 67 1 27 1-77 1 9 1 9 1-28 1 144 1 3 1-139 1 130 1-15 1 4 1-53 1 56 1-90 1-71 1 33 1 63 1 29 1-64 1 288 1 0 1-207 1-49 1-155 1 65 1 424 1-247 1 53 1-185 1 95 1-25 1-57 1-258 1 203 1 139 1-94 1-66 1 215 1-89 1-253 1 57 1 83 1 45 1 9 1 106 1 67 1-271 1 93 1 105 1-123 1 87 1-173 1 68 1 54 1 159 1-169 1-83 1 28 1 82 1-21 1 5 1-29 1 4 1 34 1-81 1-14 1 70 1 11 1 9 1 14 1 52 1-10 1-59 1-108 1 145 1 12 1-62 1-33 1 45 1 36 1 37 1-54 1-51 1 0 1-5 1-6 1 4 1 46 1 58 1-129 1-54 1 107 1 165 1-94 1-177 1 13 1 106 1-2 1 34 1-64 1 37 1 66 1 32 1-122 1 42 1-46 1-94 1 46 1-137 1-13 1 112 1 32 1 31 1 60 1 69 1-337 1 250 1 8 1-38 1 124 1-82 1-37 1 119 1-74 1 30 1 6 1 20 1 42 1-102 1-18 1 72 1-1 1 27 1-62 1-39 1-140 1-18 1 134 1 18 1 151 1 78 1-173 1-35 1 27 1 57 1 16 1-29 1-86 1 22 1-28 1-20 1-49 1 126 1 102 1-8 1-87 1-33 1-67 1-26 1 154 1-43 1-86 1-1 1-77 1 94 1 13 1 230 1-111 1-225 1-60 1 174 1 195 1-186 1-54 1 34 1 36 1 23 1 4 1-52 1 17 1-115 1 60 1 107 1-1 1-68 1-81 1 85 1-70 1 37 1 71 1 0 1-93 1-5 1 63 1 19 1 134 1-38 1-69 1-425 1 393 1 56 1 187 1-181 1-46 1-13 1 22 1 95 1-97 1-52 1-351 1 212 1 172 1-45 1 31 1 40 1-36 1-67 1-4 1-27 1 227 1-133 1-67 1 348 1-144 1-229 1 88 1-59 1 75 1-19 1 15 1 36 1-15 1 66 1-27 1-121 1 49 1-52 1 127 1-155 1 272 1-313 1 105 1 8 1 75 1 148 1-154 1-133 1 37 1-121 1 157 1 17 1-103 1 77 1-20 1-81 1-57 1-43 1 143 1 176 1 42 1-50 1-7 1-210 1 105 1 80 1-1 1-107 1 116 1 40 1-201 1 2 1-79 1 118 1-77 1 115 1 11 1 15 1 104 1-151 1-13 1 97 1-42 1 36 1 55 1-129 1 62 1 52 1 9 1 16 1-2 1-320 1 163 1 100 1 222 1-582 1 92 1 333 1-13 1 31 1-252 1 135 1-350 1 169 1 105 1 192 1-132 1 85 1-11 1 32 1 102 1-409 1 197 1-12 1 172 1-24 1-101 1 102 1-303 1-314 1 579 1-117 1-828 1 842 1 612 1-360 1-469 1-777 1 1037 1 26 1-177 1 291 1-147 1-234 1 197 1-85 1 68 1-191 1 163 1-561 1 657 1 208 1-223 1-138 1 146 1-129 1-16 1 114 1-14 1 391 1-621 1 127 1 289 1-43 1-209 1-110 1 76 1 228 1 158 1-108 1-113 1-29 1 130 1-48 1-104 1 26 1 13 1-103 1-93 1-47 1-36 1 318 1 61 1-115 1-160 1 64 1 243 1 82 1-282 1-8 1-52 1 33 1-79 1-6 1 36 1 105 1-33 1 53 1-108 1 137 1-60 1 61 1 63 1-150 1-80 1 71 1 45 1 120 1-134 1 1 1-14 1-38 1 251 1-100 1-105 1-171 1 321 1-75 1-105 1-1 1 77 1 41 1 66 1-114 1 159 1-74 1-135 1-56 1-113 1 270 1 33 1-74 1-134 1-5 1 140 1-41 1 71 1-82 1 1 1 10 1-36 1-73 1 87 1 93 1-67 1-9 1-84 1-1 1 45 1 15 1-7 1 68 1-42 1 16 1 171 1-75 1-208 1 22 1 149 1-107 1 43 1 44 1-65 1-16 1 47 1 74 1-41 1-40 1-3 1-2 1 17 1-129 1 119 1-85 1 159 1-148 1 67 1 56 1 119 1-172 1 41 1-113 1-56 1-40 1 29 1 149 1-64 1-23 1 11 1-18 1-37 1 180 1 80 1-186 1-114 1 121 1-29 1 64 1-80 1 53 1 4 1 48 1-86 1-63 1 43 1 70 1 157 1-111 1 68 1 17 1-16 1-71 1-123 1 14 1-180 1 212 1 38 1-53 1 89 1-23 1 35 1-46 1-23 1 91 1-16 1 50 1-4 1-13 1-64 1-68 1 59 1 223 1-172 1-12 1-147 1 158 1 41 1-34 1-193 1 114 1-66 1-137 1 88 1-46 1-2 1 356 1-144 1 57 1-37 1-103 1 59 1-31 1 15 1-129 1 7 1 404 1-220 1-47 1-151 1 5 1 69 1-95 1 20 1 92 1 89 1-165 1 145 1 18 1-176 1-2 1-123 1 315 1-106 1-1 1 64 1-32 1 25 1 71 1-22 1 22 1-21 1-106 1 6 1 178 1 46 1 48 1-212 1-190 1 206 1 83 1 35 1-56 1-23 1-307 1 189 1 76 1-112 1-238 1 233 1-115 1 176 1-182 1 136 1 11 1 190 1-86 1-6 1-6 1-101 1 81 1-36 1 63 1-45 1 81 1-110 1 91 1-1 1-126 1-135 1 306 1 150 1-155 1-38 1 22 1-58 1-161 1-106 1 360 1-132 1 15 1-146 1 235 1-40 1-125 1-79 1 197 1 134 1-196 1 27 1 58 1-51 1 6 1 66 1-106 1-5 1-160 1 222 1 123 1-113 1-27 1-56 1 174 1-46 1-177 1 8 1-117 1 6 1 186 1 14 1 64 1-104 1 26 1 60 1 17 1-91 1 17 1 29 1-39 1-16 1 140 1-7 1-78 1-85 1 123 1-108 1 1 1 62 1 8 1-11 1-75 1 46 1-7 1 71 1-73 1 2 1 20 1 48 1-163 1 144 1 87 1-138 1 21 1 77 1 2 1-147 1 39 1 98 1 26 1-104 1-148 1 158 1 24 1 54 1-43 1 33 1-4 1-48 1-10 1-24 1 6 1 131 1-23 1-2 1-75 1 17 1 12 1-97 1 87 1-3 1-108 1 48 1 24 1 1 1-6 1 13 1-47 1 24 1-78 1-66 1 175 1 102 1-151 1-21 1 81 1-7 1-22 1-24 1 1 1-55 1 38 1-24 1 71 1-1 1-65 1 50 1 60 1-71 1 11 1-116 1 75 1 102 1-12 1-8 1-24 1 85 1 48 1-120 1-19 1-74 1 0 1-67 1-16 1-24 1 169 1 131 1-29 1 62 1-189 1-89 1 136 1 59 1-113 1-19 1 70 1-39 1 26 1 19 1-33 1-26 1 85 1 31 1-65 1-70 1 103 1-48 1-30 1 4 1 24 1-10 1 69 1 20 1 7 1-1 1-56 1-8 1 24 1-298 1 260 1 25 1-218 1 12 1 305 1 13 1-264 1 106 1 74 1 31 1-241 1-153 1 184 1 31 1 174 1-52 1 8 1-18 1 29 1 1 1 5 1 114 1-131 1 3 1-6 1-11 1-170 1-278 1 305 1 114 1 89 1-25 1-108 1-10 1-91 1 51 1-23 1 40 1 33 1 60 1 10 1 67 1 6 1-150 1 138 1-16 1-13 1-19 1 6 1 39 1-219 1-53 1 228 1 48 1-93 1 4 1 15 1 57 1-1 1-23 1 76 1-33 1-99 1 18 1 19 1 64 1-3 1-55 1-46 1 59 1-9 1 42 1 24 1-24 1-38 1-20 1 44 1 103 1-83 1-32 1-47 1 34 1 30 1-58 1 61 1-33 1-7 1-12 1-58 1 54 1-49 1 31 1-43 1 34 1 117 1-71 1 47 1 18 1-40 1-11 1 54 1-15 1-60 1 60 1-134 1 112 1 82 1-63 1-83 1 110 1-108 1-167 1 198 1 53 1-83 1-115 1 85 1 32 1 19 1 116 1-82 1-62 1 13 1-46 1 86 1 58 1-15 1-201 1 28 1 87 1-36 1-59 1 76 1 11 1 106 1 27 1-118 1 18 1-65 1 58 1-78 1 94 1 9 1-15 1 7 1 3 1-21 1 20 1 38 1 22 1 11 1 26 1-85 1 57 1 25 1-61 1-35 1-60 1 50 1 25 1 19 1-7 1-21 1-132 1 129 1 97 1-81 1-62 1-60 1 35 1-50 1 156 1-189 1 135 1-10 1 6 1 144 1-179 1 59 1-57 1 5 1-22 1-31 1 73 1-59 1 22 1 67 1-94 1 48 1 55 1-103 1-32 1 5 1 164 1-116 1-10 1 124 1-40 1-88 1 5 1-98 1 133 1-51 1 139 1 79 1-176 1-27 1 30 1 6 1-18 1 7 1 58 1-35 1-60 1 48 1 11 1 75 1-16 1-45 1-29 1-9 1 29 1 19 1-173 1 148 1 28 1 20 1-88 1 31 1-1 1 14 1 62 1 84 1-80 1-130 1 39 1 25 1-33 1 21 1-24 1 35 1 32 1-37 1-23 1 56 1 50 1-65 1-9 1 28 1-7 1 8 1 64 1 42 1-110 1-5 1-37 1-6 1 87 1 104 1-151 1 31 1-20 1-9 1 30 1-98 1-15 1 47 1 78 1-43 1-25 1-144 1 77 1-5 1 97 1-22 1-103 1 31 1 7 1 133 1-28 1-54 1 24 1-37 1-32 1 7 1 29 1 85 1-33 1 14 1 15 1-110 1 50 1-85 1 50 1-79 1 98 1 177 1-135 1-48 1 45 1-23 1 34 1-42 1 12 1-219 1 151 1 142 1-48 1-45 1-131 1 4 1 155 1 21 1-64 1-21 1-7 1 57 1-123 1 145 1 194 1-145 1-125 1 38 1 72 1-119 1 121 1 51 1-91 1-6 1-45 1 71 1-32 1 4 1 26 1-10 1-93 1 14 1 56 1 106 1-64 1-89 1 102 1-49 1-23 1 16 1-180 1 247 1 51 1-53 1-17 1-10 1 63 1-100 1 24 1-80 1-10 1 78 1 143 1-209 1-1 1-13 1 15 1 39 1 124 1 22 1-68 1 6 1-85 1-60 1 113 1 7 1-23 1-199 1 215 1-45 1 87 1-119 1-93 1 56 1 6 1-51 1 42 1 82 1 67 1-96 1-73 1-32 1 86 1 72 1-46 1 76 1-60 1-23 1-2 1-43 1 96 1-74 1 121 1-40 1-61 1 37 1 6 1-6 1-139 1 180 1-28 1 7 1-48 1-10 1 60 1-6 1-2 1 6 1-26 1 27 1 26 1-41 1 0 1-12 1-19 1 12 1 61 1-25 1 8 1 46 1 36 1-37 1-41 1-49 1 23 1-8 1 29 1-19 1-14 1-14 1 68 1-63 1-85 1 16 1 74 1 136 1-27 1-70 1 8 1-27 1 15 1-16 1-10 1 8 1-21 1-62 1 7 1 101 1-12 1-39 1 22 1-6 1 21 1-83 1 83 1 31 1-7 1 30 1-47 1 29 1 30 1-45 1-33 1 77 1 41 1-38 1 2 1-30 1-56 1-29 1 30 1-45 1-69 1 48 1 52 1 59 1-21 1-35 1 48 1-56 1-2 1 49 1-3 1 26 1-60 1-69 1 73 1 46 1 9 1-108 1 64 1-7 1 13 1-13 1-55 1 37 1 13 1-97 1 30 1 73 1 69 1-61 1-52 1 39 1-59 1 121 1-25 1 86 1-54 1-186 1-37 1 150 1 3 1 2 1-144 1 38 1 145 1 25 1-36 1-13 1-66 1 84 1 26 1-61 1-78 1 24 1 153 1-73 1 28 1 10 1-85 1 20 1 21 1-25 1 40 1 9 1-52 1 10 1-54 1 70 1 75 1-116 1-151 1 141 1 67 1 100 1-100 1-14 1-23 1-6 1 65 1 19 1 9 1-135 1 140 1 2 1-34 1-100 1 119 1 76 1-191 1-32 1-37 1 78 1 42 1 106 1-166 1-1 1-85 1 168 1 73 1-35 1-78 1 37 1 83 1-69 1-60 1-27 1 133 1-80 1-15 1-6 1-78 1 100 1 118 1 53 1-22 1-78 1-43 1-147 1 1 1 142 1-73 1-49 1-18 1 87 1 95 1 167 1-264 1-71 1 61 1-5 1-23 1 3 1 25 1-1 1 28 1 105 1-3 1 7 1-42 1 52 1-149 1 15 1 19 1 64 1-79 1-101 1 42 1 24 1-86 1 128 1-86 1 23 1 58 1 103 1-23 1-79 1 85 1 63 1-66 1-86 1-115 1-9 1 23 1 178 1-1 1-63 1 3 1-48 1 33 1-1 1 62 1-70 1-99 1 73 1 46 1-12 1 15 1 6 1-28 1 59 1-19 1-38 1 26 1-25 1-2 1 62 1 13 1 11 1-82 1-2 1 45 1-10 1-16 1-160 1 108 1-4 1 14 1 31 1-19 1 39 1 85 1-76 1-47 1-56 1 67 1-43 1 79 1 29 1 11 1-145 1 87 1 24 1-36 1 7 1-26 1-87 1 57 1-33 1 64 1-2 1-151 1 69 1 54 1-112 1 180 1 13 1-97 1-67 1 14 1 87 1 63 1-13 1 62 1-101 1 52 1 79 1-98 1-12 1 31 1-31 1 10 1-6 1 47 1-37 1 0 1 110 1-142 1-41 1 55 1 51 1-136 1 28 1-90 1 169 1-45 1-41 1 81 1 42 1-45 1-178 1 64 1 162 1-4 1-175 1 12 1 113 1 34 1-30 1-50 1-46 1 66 1-18 1-64 1 65 1 92 1-136 1 178 1-77 1-80 1 88 1-157 1 97 1 147 1-77 1 72 1-81 1 151 1-229 1 27 1 37 1-13 1-81 1 120 1 63 1 7 1-126 1-15 1 119 1-147 1 142 1 86 1-61 1-16 1-128 1-74 1-127 1 241 1 186 1-174 1-56 1 135 1-64 1-66 1 5 1 197 1-139 1-65 1 8 1-26 1 62 1-16 1-46 1-4 1-46 1 9 1 105 1 44 1-261 1 180 1-102 1-5 1 226 1 154 1-312 1 10 1 168 1-160 1-73 1-205 1 197 1 142 1-79 1 97 1-2 1-194 1-25 1 110 1 113 1-26 1 18 1-2 1-28 1 18 1 93 1-15 1-168 1-41 1 39 1 53 1-18 1 100 1-54 1 5 1-50 1-16 1 102 1-2 1 117 1-136 1-76 1 0 1 17 1-44 1 42 1-24 1 76 1 119 1-55 1-60 1-8 1-57 1 0 1 42 1 85 1-84 1-26 1-19 1 32 1-19 1-4 1-1 1 113 1-19 1-1 1-28 1-7 1 1 1 19 1 70 1-74 1-8 1-13 1 24 1-79 1 54 1 6 1-52 1 26 1-8 1-68 1 3 1 131 1 24 1-99 1 65 1-30 1-23 1 39 1-24 1 2 1 46 1 12 1 37 1-35 1-38 1-49 1 11 1 13 1 62 1-49 1 18 1 45 1 30 1-96 1 0 1 11 1 5 1-5 1 9 1 10 1-71 1 4 1 60 1-80 1 36 1 11 1 20 1-27 1-72 1 91 1 7 1-36 1 33 1 23 1-37 1 60 1-2 1-73 1 11 1 78 1-48 1-10 1 0 1 34 1-41 1-57 1 54 1 86 1-90 1-68 1 44 1 68 1 16 1-51 1-35 1 17 1-63 1 56 1 2 1 21 1 2 1-8 1 2 1-68 1 51 1 35 1 19 1-35 1 20 1-8 1-31 1 41 1 6 1 42 1-46 1 24 1-43 1 21 1-7 1 19 1-65 1 10 1-16 1 0 1 17 1 53 1-38 1 5 1-37 1 37 1 43 1 4 1-26 1-28 1 9 1-2 1-4 1 2 1-29 1-50 1 51 1 79 1-29 1-45 1 0 1 8 1-8 1 85 1-23 1-37 1-7 1-9 1 11 1-23 1 35 1 23 1-34 1 8 1-1 1-10 1-11 1 32 1 7 1-15 1-21 1-36 1-28 1 3 1 14 1-7 1 48 1 13 1-54 1 49 1 20 1 10 1-28 1 31 1-20 1-24 1 36 1-51 1 66 1-38 1-1 1-40 1 22 1 49 1 63 1-29 1-31 1 17 1-112 1 110 1-18 1-70 1 3 1 5 1 44 1-44 1 12 1-24 1 3 1 47 1-8 1-21 1 39 1 13 1-16 1 36 1-35 1 18 1 10 1-26 1 37 1 49 1-37 1-23 1-54 1-62 1 46 1 40 1 32 1 30 1-67 1 12 1-6 1 35 1 52 1-69 1-26 1-41 1 8 1 27 1 3 1-13 1 40 1 39 1-64 1-37 1 71 1 57 1-75 1-9 1 28 1-54 1-5 1 25 1-61 1 17 1 55 1-9 1-8 1 22 1 38 1-30 1-51 1 32 1-29 1-11 1-89 1 81 1 28 1-34 1 50 1 31 1-26 1-8 1 11 1 15 1-46 1-147 1 164 1 69 1 17 1-88 1 20 1-47 1 10 1 32 1-3 1-7 1 6" fill="none" stroke="#0000ff" stroke-width="0.42" stroke-linejoin="round" vector-effect="non-scaling-stroke"/>
<rect x="836.30" y="46.10" width="603.15" height="204.90" fill="#00008f"/>
<g transform="translate(837.5 46)" fill="none" stroke-width="1" shape-rendering="crispEdges"><path stroke="#000097" d="M4 99v2M4 118v5M5 144v2M6 160v5M7 165v2M8 160v3M9 151v2M9 196v2M10 141v3M10 186v3M11 130v2M12 28v3M12 115v3M12 174v3M13 167v3M14 45v2M14 158v2M15 148v3M16 97v2M16 148v8M17 92v2M17 172v2M18 113v2M18 181v3M19 134v3M19 198v7M20 151v5M21 174v3M22 181v3M23 184v2M25 118v2M25 184v2M26 120v3M26 132v2M27 179v2M28 165v5M29 120v3M29 158v12M30 186v5M31 111v2M31 134v3M31 189v2M32 101v3M32 141v3M33 148v3M37 167v3M40 47v2M40 158v2M41 52v2M41 148v3M42 139v2M43 123v2M43 189v2M44 111v2M44 184v5M45 111v33M53 113v17M54 16v8M54 141v12M55 113v17M56 19v5M117 146v5M117 167v5M118 146v10M118 160v10M126 132v2M127 123v7M127 139v5M128 132v2M137 179v14M138 118v2M141 101v3M141 118v2M142 141v3M143 108v3M144 92v2M146 75v3M148 66v2M148 200v5M149 99v2M149 111v4M149 134v7M149 186v3M153 118v2M153 130v4M154 90v2M154 153v3M155 90v2M156 118v2M157 144v2M157 174v3M157 191v2M160 156v2M161 148v3M162 141v3M165 120v3M166 104v2M168 101v3M171 146v2M172 156v2M181 163v2M181 179v2M182 141v3M182 193v3M183 97v2M185 97v2M187 146v2M187 193v3M188 163v2M188 179v2M190 85v9M190 104v4M191 82v5M191 127v3M192 108v15M201 151v9M202 146v2M202 156v4M203 156v4M204 153v3M205 151v2M206 111v4M206 148v3M207 78v4M207 141v3M208 78v4M209 111v4M209 181v24M210 172v2M212 132v7M212 153v3M215 57v2M215 80v5M216 120v5M217 35v3M217 148v3M218 158v2M219 167v3M220 198v7M221 144v2M222 101v3M223 172v2M224 73v2M224 167v3M228 52v2M228 141v3M229 132v2M231 125v7M231 141v3M232 146v2M233 125v2M233 148v3M233 167v5M234 132v5M235 132v2M237 111v2M239 174v3M240 118v2M240 172v2M241 167v3M278 61v3M278 186v3M280 85v5M281 191v2M288 94v12M289 92v5M289 104v4M325 123v4M326 151v2M327 90v2M327 156v2M328 115v3M328 144v7M338 170v2M339 137v2M339 177v4M340 125v2M341 108v3M342 106v2M342 174v3M343 123v2M343 158v5M347 40v2M347 66v2M347 106v2M348 111v2M349 40v5M362 130v4M362 156v4M363 94v3M363 167v3M364 52v5M364 167v3M365 52v5M369 97v2M369 118v2M370 134v3M371 47v2M371 156v4M373 57v4M374 97v2M375 45v2M376 82v3M377 163v2M378 163v2M380 156v2M381 148v3M382 108v3M387 64v7M387 172v2M388 186v3M389 47v2M389 193v3M390 78v2M391 108v3M391 193v3M392 186v3M405 153v7M405 174v10M406 153v7M406 174v10M435 49v3M436 57v2M437 40v5M450 21v5M453 75v3M454 73v2M456 19v21M458 137v2M459 33v2M459 141v3M461 148v3M462 38v2M462 132v2M462 156v2M463 146v2M463 167v5M464 153v5M464 177v4M465 52v2M465 174v5M470 57v4M471 57v4M472 87v3M473 132v2M474 137v2M479 85v2M481 66v2M482 85v2M482 181v3M483 104v2M484 123v2M484 144v2M508 108v12M508 125v9M509 108v10M509 132v7M543 61v3M543 92v5M544 64v4M544 90v2M557 118v5M558 170v2M559 123v2M559 179v5M560 181v3"/><path stroke="#0000a7" d="M4 111v7M5 141v3M6 158v2M7 163v2M8 158v2M9 198v2M11 181v3M12 113v2M14 160v3M15 99v2M15 151v2M16 156v4M17 174v3M18 111v2M18 184v5M20 24v2M20 148v3M21 172v2M24 184v2M25 66v5M26 52v2M26 181v3M27 120v3M27 144v2M27 177v2M28 120v3M30 134v7M30 179v7M31 137v4M32 144v2M32 189v2M33 151v2M34 156v2M35 160v3M36 165v2M39 165v2M40 45v2M41 151v2M42 52v2M42 141v3M42 189v2M43 49v3M43 125v5M44 35v3M44 113v7M44 181v3M54 9v7M54 101v40M55 19v5M56 16v3M117 151v16M118 156v4M127 130v9M138 120v3M139 108v3M140 108v3M141 120v3M142 90v2M142 144v4M143 85v2M143 158v2M144 94v7M145 90v2M148 68v3M148 196v4M149 101v10M149 141v5M149 172v14M153 120v5M154 92v2M155 92v2M155 160v3M156 120v5M156 167v3M157 146v2M157 193v12M158 156v2M166 106v2M167 92v5M168 104v7M169 132v2M173 167v3M173 203v2M181 177v2M182 144v2M183 99v2M183 198v2M184 85v2M184 200v3M185 99v2M185 200v3M186 132v2M186 198v2M188 177v2M190 94v10M191 87v3M191 120v7M202 148v8M203 151v5M204 139v2M204 151v2M205 130v2M205 148v3M206 115v8M206 146v2M207 82v3M208 82v3M208 132v2M209 115v8M211 163v2M212 40v2M212 127v5M215 85v5M216 59v2M216 125v2M217 38v2M217 42v3M217 151v2M220 160v3M220 179v2M220 186v12M221 146v2M221 177v2M222 104v11M222 174v3M223 87v3M225 57v2M225 163v2M226 40v2M226 156v2M228 54v3M229 85v2M231 132v9M232 125v5M232 141v5M233 127v5M233 144v4M233 151v5M233 163v4M234 137v4M234 172v2M235 174v3M236 125v2M236 174v3M237 113v2M237 174v3M238 94v5M238 174v3M239 101v5M240 120v3M240 170v2M241 134v3M241 163v4M278 64v2M278 184v2M279 49v3M279 193v3M280 90v4M280 193v3M281 151v2M281 189v2M289 97v7M325 66v2M325 120v3M326 71v2M326 146v5M327 92v2M327 151v5M328 118v2M328 137v7M338 148v3M338 160v10M340 179v2M341 111v2M341 179v2M342 108v3M343 125v16M343 156v2M346 24v2M347 38v2M347 68v3M348 108v3M349 45v7M349 108v3M362 134v3M362 151v5M363 97v2M363 165v2M364 57v7M365 57v7M365 160v5M369 115v3M370 75v3M371 49v3M371 153v3M372 172v2M373 61v5M373 172v2M374 163v2M375 113v2M375 153v3M376 80v2M376 160v3M379 160v3M380 59v2M381 146v2M382 101v7M387 71v7M387 170v2M388 40v2M389 49v3M390 80v2M390 193v3M392 130v2M392 184v2M405 160v5M405 170v4M406 160v5M406 170v4M435 47v2M436 54v3M437 35v5M450 19v2M451 24v2M453 49v3M453 71v4M454 2v3M454 71v2M455 61v3M456 12v7M458 90v2M459 31v2M459 75v3M460 47v2M461 47v2M461 59v2M462 40v2M462 130v2M462 151v5M463 9v3M463 115v3M463 163v4M464 158v9M464 170v7M470 61v7M470 106v2M471 61v7M471 118v2M472 90v2M472 125v2M473 104v2M475 85v2M477 85v2M479 87v3M479 160v3M480 64v4M480 167v3M481 68v3M481 174v3M483 106v2M483 181v3M508 120v5M509 118v14M543 64v4M543 90v2M544 68v3M544 85v5M557 123v4M557 151v2M558 115v3M558 167v3M559 177v2M560 137v2M560 177v4"/><path stroke="#0000b7" d="M4 101v10M5 42v3M5 137v4M6 156v2M7 160v3M8 156v2M9 148v3M9 200v5M10 139v2M10 189v4M11 127v3M12 31v2M12 111v2M12 177v2M13 99v2M13 170v2M14 99v2M14 163v2M15 153v5M16 160v5M17 177v2M18 189v7M19 132v2M21 170v2M22 179v2M23 181v3M24 87v7M24 101v5M24 181v3M25 120v3M25 181v3M26 134v3M27 146v2M27 174v3M30 115v3M30 141v10M30 174v5M31 108v3M31 141v3M31 186v3M32 99v2M32 146v2M33 189v2M34 158v2M34 189v2M37 170v2M38 170v2M40 160v3M40 189v2M41 49v3M41 153v3M41 189v2M42 144v2M43 47v2M43 130v4M43 186v3M44 120v10M44 174v7M54 0v9M55 16v3M56 12v4M138 123v2M138 198v7M139 111v2M140 111v2M141 104v2M141 123v2M142 92v2M142 148v3M143 87v3M143 160v3M144 148v5M146 78v2M147 66v2M147 200v5M148 71v2M148 193v3M149 146v26M153 125v5M154 151v2M156 125v2M157 148v3M157 172v2M158 177v4M159 163v2M160 158v2M165 123v2M166 108v3M167 97v2M168 111v7M171 148v3M172 158v2M173 170v7M173 198v5M181 165v2M181 172v5M182 146v2M182 191v2M183 101v3M183 196v2M184 87v3M185 101v3M186 196v2M187 148v3M187 191v2M188 165v2M188 172v5M191 90v4M191 115v5M203 144v7M204 148v3M206 144v2M207 85v2M207 139v2M208 85v2M208 130v2M210 174v3M211 165v2M212 42v5M212 123v4M212 156v2M213 31v2M215 90v4M216 57v2M216 127v5M217 40v2M218 160v3M219 170v2M220 163v2M220 177v2M220 181v5M221 148v3M222 115v5M223 170v2M226 42v3M227 33v2M227 148v3M228 57v2M229 87v3M232 130v7M232 139v2M233 132v12M233 156v7M234 141v5M234 170v2M235 134v3M235 172v2M236 127v3M237 115v3M238 99v5M238 172v2M239 106v2M239 172v2M240 123v4M240 167v3M241 137v9M241 160v3M278 66v2M278 181v3M279 52v2M279 191v2M280 94v3M280 191v2M281 153v3M281 186v3M325 68v3M325 118v2M326 73v2M326 144v2M327 148v3M328 120v3M328 132v5M338 151v9M339 139v2M339 174v3M340 127v3M340 177v2M341 113v2M341 177v2M342 111v2M342 172v2M343 141v15M346 21v3M347 35v3M349 52v5M362 137v4M362 148v3M363 99v5M364 64v4M364 165v2M365 64v4M365 156v4M369 99v2M369 113v2M370 78v2M370 132v2M371 52v2M371 151v2M372 0v31M372 170v2M373 66v5M373 170v2M374 99v2M375 115v3M376 78v2M376 108v3M379 31v2M381 80v2M387 78v4M387 97v33M387 167v3M388 42v3M388 184v2M389 52v2M389 191v2M390 82v3M391 111v2M391 191v2M392 132v2M392 181v3M405 165v5M406 165v5M435 42v5M437 33v2M450 16v3M451 21v3M453 52v2M453 68v3M454 68v3M455 2v3M455 59v2M458 134v3M460 45v2M460 144v2M461 45v2M462 42v3M462 127v3M463 12v2M463 78v2M463 148v3M463 156v7M464 9v3M464 64v2M464 167v3M470 68v5M470 104v2M471 68v5M472 92v2M474 101v3M474 134v3M475 139v2M476 78v2M478 101v3M479 90v2M482 87v3M482 179v2M484 125v2M484 141v3M543 68v3M543 87v3M544 71v4M544 82v3M557 127v5M557 146v5M558 118v2M559 125v2M560 139v2M560 174v3"/><path stroke="#0000c7" d="M5 87v5M5 134v3M6 153v3M7 158v2M9 146v2M10 137v2M10 193v3M11 9v3M11 125v2M11 184v2M12 179v2M13 45v2M13 172v2M14 165v2M15 97v2M15 158v2M16 94v3M16 165v5M17 90v2M17 179v2M18 108v3M18 196v9M19 130v2M20 26v2M20 146v2M21 167v3M22 177v2M24 85v2M24 94v3M24 99v2M24 106v2M25 64v2M25 71v2M25 115v3M25 123v2M26 54v3M26 118v2M26 179v2M27 148v3M27 172v2M29 118v2M30 151v23M31 144v2M31 181v5M32 148v3M32 186v3M33 153v3M35 163v2M35 189v2M36 167v3M36 189v2M37 189v2M38 189v2M39 167v3M39 189v2M40 42v3M40 163v2M41 156v2M42 49v3M42 146v2M42 186v3M43 134v5M43 181v5M44 33v2M44 130v44M55 12v4M56 5v7M138 125v2M138 191v7M139 113v2M140 113v2M141 106v5M141 125v2M142 94v3M142 151v2M143 90v2M143 106v2M144 144v4M145 92v2M146 80v2M147 68v3M147 198v2M148 73v2M148 189v4M154 94v3M155 94v3M155 158v2M156 127v3M156 165v2M158 181v3M161 151v2M162 144v2M163 137v2M164 132v2M165 125v2M167 99v2M168 118v7M170 139v2M173 177v12M173 196v2M181 167v5M182 148v3M182 189v2M183 104v4M184 90v2M184 198v2M185 104v2M185 198v2M186 134v3M187 189v2M188 167v5M191 94v5M191 104v11M204 141v3M204 146v2M205 132v2M205 146v2M207 87v3M208 87v3M210 177v2M210 191v14M211 167v3M212 47v5M212 118v5M212 158v2M215 54v3M215 94v7M216 54v3M216 132v2M217 153v3M218 163v2M219 172v2M219 200v5M221 174v3M222 120v3M222 172v2M225 59v2M227 35v3M228 59v2M229 130v2M232 137v2M234 146v2M234 165v5M235 170v2M236 172v2M237 118v5M237 172v2M238 104v4M239 108v5M239 170v2M240 127v3M240 165v2M241 146v14M278 68v5M278 177v4M279 54v3M279 189v2M280 97v4M280 189v2M281 184v2M325 71v4M325 115v3M326 75v3M326 139v5M327 94v3M327 146v2M328 123v9M341 115v3M342 113v2M342 170v2M347 71v2M347 104v2M349 57v28M349 106v2M362 141v7M363 104v2M363 163v2M364 68v3M364 163v2M365 68v3M365 153v3M369 101v3M369 108v5M370 80v2M370 130v2M371 54v3M371 148v3M372 31v11M372 167v3M373 71v4M374 101v3M374 160v3M375 42v3M375 118v7M376 158v2M377 160v3M378 160v3M380 153v3M381 144v2M387 82v15M387 130v4M387 165v2M388 45v2M388 181v3M389 189v2M390 191v2M391 189v2M392 179v2M435 40v2M436 52v2M437 28v5M450 14v2M451 19v2M453 66v2M458 92v2M459 28v3M460 42v3M460 68v3M461 40v5M462 45v2M462 141v3M463 14v2M463 80v5M463 111v4M463 151v5M464 12v2M470 73v7M470 87v17M471 73v7M472 123v2M473 106v2M473 130v2M474 104v7M475 87v3M475 137v2M476 80v2M476 139v2M477 87v3M478 153v3M479 92v2M480 68v3M481 71v2M483 179v2M484 127v14M543 71v2M543 85v2M544 75v3M544 80v2M557 132v14M558 120v3M558 165v2M559 127v3M559 174v3M560 141v3M560 172v2"/><path stroke="#0000d7" d="M5 92v2M5 132v2M6 151v2M7 156v2M8 153v3M10 196v7M11 186v3M12 108v3M13 97v2M13 174v3M14 97v2M14 167v3M15 160v5M16 170v4M17 181v5M18 106v2M20 144v2M21 163v4M22 174v3M23 179v2M24 82v3M24 97v2M24 179v2M25 73v2M25 113v2M25 125v2M25 179v2M26 137v2M26 177v2M27 170v2M30 113v2M31 106v2M31 146v7M31 177v4M32 19v23M32 94v5M32 151v2M33 156v2M33 186v3M34 160v3M35 165v2M36 170v2M38 172v2M39 170v2M40 40v2M40 165v2M41 47v2M41 158v2M41 186v3M42 148v5M43 45v2M43 139v9M43 179v2M44 31v2M55 7v5M56 0v5M138 127v3M138 186v5M139 200v5M141 127v3M142 97v2M142 108v3M142 153v3M143 92v2M143 163v2M144 141v3M144 153v3M146 203v2M147 71v2M147 196v2M148 75v3M148 186v3M154 97v2M154 146v5M155 97v2M156 130v2M157 151v2M157 170v2M158 158v2M158 174v3M158 184v2M159 165v2M166 111v2M167 101v3M168 125v2M171 151v2M172 160v3M173 189v7M182 151v2M182 186v3M183 108v5M184 92v2M185 106v5M187 151v2M187 186v3M191 99v5M204 144v2M205 134v3M205 144v2M206 123v2M206 141v3M207 90v2M207 137v2M208 90v2M208 127v3M210 179v12M211 170v2M212 52v5M212 115v3M213 33v2M214 0v2M215 101v5M216 134v5M217 156v2M218 165v2M219 174v3M219 193v7M220 165v2M220 174v3M221 151v2M222 123v2M224 75v3M224 165v2M225 160v3M226 45v2M226 153v3M227 38v2M228 61v3M228 139v2M229 90v2M234 148v5M234 160v5M235 137v2M235 167v3M236 130v2M236 170v2M237 170v2M238 108v3M238 170v2M239 113v2M239 167v3M240 130v4M240 160v5M278 73v5M278 172v5M279 57v4M279 186v3M280 101v7M281 156v2M281 181v3M325 75v3M325 113v2M326 78v2M326 137v2M327 141v5M339 141v3M339 172v2M340 130v2M340 174v3M341 118v2M341 174v3M342 115v3M346 19v2M347 33v2M347 73v2M348 106v2M349 85v7M363 106v5M363 158v5M364 71v4M364 160v3M365 71v7M365 151v2M369 104v4M370 82v3M371 57v2M371 146v2M372 42v3M372 165v2M373 75v7M373 167v3M374 158v2M375 40v2M375 125v2M375 151v2M376 75v3M379 33v2M379 158v2M380 61v3M387 134v7M387 160v5M388 47v2M388 179v2M389 54v3M390 85v2M391 113v2M392 134v3M392 177v2M435 38v2M437 19v9M450 9v5M451 16v3M453 54v5M453 61v5M454 5v2M454 66v2M455 5v2M455 57v2M458 132v2M460 40v2M461 38v2M461 146v2M462 47v5M462 125v2M462 148v3M463 16v3M463 85v5M463 104v7M464 14v2M470 80v7M471 80v2M471 115v3M472 94v3M474 111v4M477 146v2M479 94v3M480 71v2M481 73v2M482 90v2M482 177v2M483 108v3M483 177v2M543 73v2M543 82v3M544 78v2M558 123v2M558 163v2M559 172v2M560 144v2M560 170v2"/><path stroke="#0000e7" d="M5 45v2M5 85v2M5 130v2M6 0v2M6 146v5M7 153v3M8 151v2M9 144v2M10 134v3M10 203v2M11 123v2M11 189v4M12 33v2M12 106v2M12 181v3M13 177v2M14 47v2M14 170v2M15 165v5M16 174v5M17 186v12M18 104v2M19 127v3M20 141v3M21 158v5M22 172v2M23 177v2M24 108v3M25 61v3M25 75v3M25 111v2M25 177v2M26 49v3M26 57v2M26 139v2M26 174v3M27 118v2M27 151v19M28 118v2M31 153v24M32 9v10M32 42v10M32 90v4M32 153v5M32 181v5M33 158v2M34 163v2M34 186v3M35 167v3M37 172v2M40 38v2M40 167v3M40 186v3M41 160v5M42 47v2M42 153v7M42 181v5M43 42v3M43 148v31M44 28v3M55 2v5M138 130v2M138 151v21M138 177v9M139 115v3M139 196v4M140 115v3M140 203v2M141 130v2M142 99v2M142 106v2M142 156v2M143 94v5M143 104v2M144 101v3M144 137v4M145 203v2M146 82v3M146 198v5M147 73v2M147 193v3M148 177v9M154 99v2M154 144v2M155 99v2M155 156v2M156 132v2M156 163v2M158 160v3M158 172v2M158 186v5M158 198v7M160 160v3M165 127v3M166 113v2M167 104v2M168 127v3M169 134v3M170 141v3M172 203v2M182 153v3M182 184v2M183 113v7M183 193v3M184 94v3M184 196v2M185 111v4M185 196v2M186 137v2M186 193v3M187 153v3M187 184v2M205 137v7M206 125v2M206 139v2M207 92v2M207 134v3M208 92v2M211 172v2M211 200v5M212 57v2M212 111v4M212 160v3M213 146v7M214 2v5M215 52v2M215 106v5M216 52v2M216 139v5M217 158v2M218 167v3M218 203v2M219 177v4M219 186v7M220 167v7M221 153v3M221 172v2M222 125v2M222 170v2M223 90v2M223 167v3M225 61v3M227 40v2M227 146v2M228 64v2M234 153v7M235 139v5M235 163v4M236 132v2M236 167v3M237 123v2M237 167v3M238 111v4M238 167v3M239 115v5M239 163v4M240 134v5M240 158v2M278 78v7M278 167v5M279 61v3M279 184v2M280 108v15M280 186v3M281 158v2M281 177v4M325 78v4M325 111v2M326 80v2M326 134v3M327 97v2M327 139v2M339 144v2M339 170v2M340 132v2M342 118v2M342 165v5M346 16v3M347 31v2M347 75v3M348 38v23M349 92v9M349 104v2M363 111v4M363 156v2M364 75v7M364 158v2M365 78v14M365 146v5M370 127v3M371 59v2M371 144v2M372 45v4M373 82v3M373 165v2M374 104v2M374 156v2M375 19v21M375 146v5M376 73v2M376 156v2M381 82v3M381 141v3M387 141v5M387 156v4M388 49v3M388 177v2M389 57v2M389 186v3M390 87v3M390 189v2M391 186v3M392 137v2M392 174v3M435 35v3M436 49v3M437 0v19M450 5v4M451 12v4M453 59v2M454 7v2M454 64v2M455 54v3M458 94v3M458 130v2M459 26v2M460 38v2M461 35v3M461 61v3M462 52v2M462 144v4M463 75v3M463 90v4M463 101v3M464 16v3M464 61v3M471 82v5M471 113v2M472 97v4M472 120v3M473 127v3M474 115v3M474 132v2M475 90v2M475 123v2M475 134v3M476 82v3M476 137v2M477 90v2M478 104v2M479 97v2M480 73v2M480 165v2M481 172v2M543 75v7M558 125v2M558 160v3M559 130v2M559 170v2M560 146v2M560 167v3"/><path stroke="#0000f7" d="M5 82v3M5 94v3M5 125v5M6 2v3M6 35v3M6 144v2M7 151v2M8 148v3M9 141v3M10 132v2M11 120v3M11 193v7M12 104v2M12 184v5M13 179v2M14 172v5M15 170v4M16 92v2M16 179v5M17 198v7M18 97v7M19 125v2M20 28v3M20 139v2M21 153v5M22 170v2M23 174v3M24 80v2M24 177v2M25 78v2M25 108v3M25 127v3M26 47v2M26 59v2M26 115v3M26 172v2M29 115v3M30 111v2M31 104v2M32 0v9M32 52v12M32 82v8M32 158v9M32 177v4M33 160v5M33 184v2M34 165v2M35 170v2M35 186v3M36 172v2M36 186v3M37 174v3M37 186v3M38 174v3M38 186v3M39 172v2M39 186v3M40 35v3M40 170v2M41 45v2M41 165v5M41 184v2M42 160v14M42 179v2M55 0v2M138 132v19M138 172v5M139 118v2M139 191v5M140 118v2M140 200v3M141 132v2M141 203v2M142 101v5M143 99v5M143 165v2M144 104v2M144 132v5M144 156v4M144 203v2M145 94v3M145 200v3M146 196v2M147 189v4M148 78v4M148 167v10M154 101v3M154 141v3M155 101v3M156 134v5M156 160v3M157 153v3M157 167v3M158 170v2M158 191v7M159 167v3M161 153v3M162 146v2M163 139v2M166 115v3M167 106v5M171 153v3M172 163v2M172 200v3M182 156v2M183 120v5M183 191v2M184 97v2M185 115v3M186 139v2M186 191v2M187 156v2M206 127v3M206 137v2M207 94v7M207 132v2M208 94v7M208 125v2M211 174v3M211 193v7M212 59v35M212 104v7M212 163v4M213 35v3M213 137v9M213 153v3M214 7v2M214 59v9M215 111v7M216 0v5M216 49v3M216 144v7M217 160v3M218 170v2M218 198v5M219 181v5M221 156v4M221 170v2M222 127v5M225 158v2M226 47v2M227 42v3M228 66v2M228 137v2M229 92v2M235 144v7M235 160v3M236 134v3M236 165v2M237 125v5M237 165v2M238 115v5M238 163v4M239 120v7M239 160v3M240 139v19M278 85v5M278 163v4M279 64v2M280 123v16M280 184v2M281 160v17M325 82v3M325 108v3M326 82v3M326 130v4M327 99v2M327 137v2M340 172v2M341 120v3M341 172v2M342 120v3M342 160v5M346 14v2M347 78v26M348 31v7M348 61v5M349 101v3M363 115v5M363 151v5M364 82v5M364 153v5M365 92v14M365 139v7M370 85v2M371 61v3M371 141v3M372 49v3M372 163v2M373 85v2M374 153v3M375 14v5M375 127v5M375 144v2M376 71v2M376 111v2M377 158v2M378 158v2M379 35v3M379 156v2M387 146v10M388 52v2M389 59v2M390 90v2M391 115v3M391 184v2M392 139v2M392 172v2M435 31v4M436 47v2M450 2v3M451 9v3M454 61v3M455 7v2M459 24v2M459 78v2M459 139v2M460 141v3M461 31v4M461 144v2M462 123v2M463 19v2M463 94v7M471 87v5M471 111v2M472 101v3M473 108v3M473 125v2M474 130v2M475 92v2M475 120v3M475 125v5M475 132v2M476 85v2M476 134v3M477 92v2M479 99v2M479 158v2M480 75v3M481 75v3M482 92v2M483 111v2M483 174v3M558 127v3M558 158v2M559 132v2M559 167v3M560 148v19"/><path stroke="#0008ff" d="M5 123v2M6 31v4M6 141v3M7 148v3M8 146v2M10 130v2M11 12v2M11 200v5M12 189v4M13 47v2M13 181v5M14 177v4M15 94v3M15 174v7M16 184v16M17 87v3M18 85v12M19 123v2M20 137v2M21 151v2M22 167v3M23 172v2M24 78v2M24 111v2M24 174v3M25 59v2M25 80v2M25 106v2M25 130v2M25 174v3M26 45v2M26 61v3M26 141v3M26 170v2M32 64v18M32 167v10M33 165v7M33 179v5M34 167v5M34 184v2M35 172v2M36 174v3M37 177v2M38 177v2M39 174v3M40 172v5M40 184v2M41 170v7M41 179v5M42 45v2M42 174v5M43 40v2M44 26v2M139 186v5M140 198v2M141 134v3M141 200v3M142 158v2M142 203v2M143 203v2M144 106v17M144 127v5M144 160v3M144 200v3M145 198v2M146 85v2M146 193v3M147 75v3M147 186v3M148 82v5M148 156v11M154 104v4M154 137v4M155 104v4M155 153v3M156 139v2M157 156v2M157 165v2M158 163v7M159 170v2M160 163v2M164 134v3M166 118v2M167 111v2M170 144v2M172 165v2M172 196v4M182 158v2M182 179v5M183 125v5M183 189v2M184 99v2M184 193v3M185 118v5M185 193v3M186 141v3M186 189v2M187 158v2M187 179v5M206 130v7M207 101v12M207 130v2M208 101v12M208 123v2M211 177v2M211 186v7M212 94v10M212 167v3M212 200v5M213 38v2M213 130v7M213 156v2M214 9v3M214 68v10M215 49v3M215 118v5M216 5v2M216 47v2M216 151v2M217 163v2M217 200v5M218 172v2M218 193v5M221 160v5M221 167v3M222 132v2M222 167v3M223 92v2M224 78v2M224 163v2M225 64v2M226 151v2M227 45v2M227 144v2M229 127v3M235 151v9M236 137v4M236 160v5M237 130v2M237 163v2M238 120v5M238 160v3M239 127v7M239 158v2M278 90v4M278 156v7M279 66v5M279 181v3M280 139v2M280 181v3M325 85v9M325 104v4M326 85v2M326 127v3M327 101v3M327 132v5M339 146v2M339 163v7M340 134v3M341 123v2M341 170v2M342 123v2M342 156v4M346 12v2M347 28v3M348 24v7M348 66v5M348 104v2M363 120v5M363 148v3M364 87v7M364 151v2M365 106v14M365 132v7M370 87v3M370 125v2M371 64v2M372 52v5M372 160v3M373 87v3M373 163v2M374 106v2M374 151v2M375 9v5M375 132v7M375 141v3M376 68v3M380 151v2M381 139v2M388 54v3M388 174v3M389 61v3M389 184v2M390 92v2M390 186v3M391 181v3M392 141v3M392 167v5M435 28v3M436 45v2M450 0v2M451 5v4M454 59v2M455 52v2M458 97v4M458 127v3M459 137v2M460 35v3M461 28v3M461 137v7M462 54v3M463 21v5M464 19v2M471 92v7M471 106v5M472 104v2M472 118v2M473 111v2M473 123v2M474 118v5M474 127v3M475 130v2M481 78v2M481 170v2M483 113v2M483 160v14M558 130v2M558 156v2M559 134v3"/><path stroke="#0018ff" d="M5 47v2M5 80v2M5 97v2M5 118v5M6 5v2M6 26v5M6 137v4M7 146v2M8 144v2M9 139v2M11 118v2M12 35v3M12 101v3M12 193v12M13 94v3M13 186v3M14 94v3M14 181v5M15 181v8M16 200v5M19 120v3M20 134v3M21 148v3M22 163v4M23 170v2M24 75v3M24 113v2M24 172v2M25 82v3M25 104v2M25 172v2M26 113v2M26 144v4M26 165v5M27 115v3M28 115v3M29 113v2M30 108v3M31 101v3M33 172v7M34 172v12M35 174v5M35 181v5M36 177v9M37 179v7M38 179v7M39 177v9M40 33v2M40 177v7M41 42v3M41 177v2M43 38v2M44 24v2M139 120v5M139 184v2M140 120v5M140 193v5M141 137v4M141 198v2M142 160v3M142 200v3M143 167v3M143 200v3M144 123v4M144 163v2M144 198v2M145 148v5M145 196v2M146 191v2M147 78v2M147 181v5M148 87v5M148 123v33M154 108v7M154 134v3M155 108v7M155 151v2M156 141v10M156 156v4M157 158v7M159 172v5M159 203v2M161 156v2M162 148v3M166 120v3M167 113v5M168 130v2M170 146v2M171 156v2M171 203v2M172 193v3M182 160v3M182 177v2M183 130v7M184 101v5M185 123v4M187 160v3M187 177v2M207 113v10M207 125v5M208 113v10M211 179v7M212 170v2M212 193v7M213 40v7M213 123v7M213 158v5M213 200v5M214 12v4M214 57v2M214 78v12M214 203v2M215 123v9M215 203v2M216 7v2M216 45v2M216 153v5M216 203v2M217 165v2M217 196v4M218 174v5M218 186v7M221 165v2M222 134v5M223 165v2M225 156v2M226 49v3M227 47v2M228 68v3M229 94v3M236 141v12M236 158v2M237 132v5M237 160v3M238 125v9M238 158v2M239 134v24M278 94v7M278 148v8M279 71v4M279 177v4M280 141v3M280 179v2M325 94v10M326 87v3M326 123v4M327 104v4M327 130v2M339 148v3M339 153v10M340 137v2M340 170v2M341 125v2M342 125v19M342 153v3M347 26v2M348 21v3M348 71v7M363 125v23M364 94v5M364 148v3M365 120v12M370 90v2M370 123v2M371 66v2M371 139v2M372 57v2M372 158v2M373 90v2M373 160v3M374 108v3M374 148v3M375 5v4M375 139v2M376 153v3M379 38v2M380 64v2M381 85v2M381 137v2M388 57v4M388 172v2M389 64v4M389 181v3M390 94v3M390 184v2M391 118v2M392 144v2M392 165v2M435 21v7M436 42v3M451 0v5M454 9v3M454 57v2M458 101v26M459 21v3M459 80v2M460 33v2M460 71v2M461 26v2M461 134v3M462 120v3M463 26v2M463 73v2M464 21v5M464 59v2M471 99v7M472 106v2M472 115v3M473 113v2M473 120v3M474 123v4M475 94v3M475 118v2M476 87v3M476 132v2M477 94v3M477 144v2M478 106v2M478 151v2M479 101v3M480 78v2M480 163v2M482 94v3M482 174v3M483 156v4M558 132v2M558 153v3M559 137v2M559 163v4"/><path stroke="#0028ff" d="M5 78v2M5 113v5M6 7v5M6 21v5M6 38v2M6 134v3M7 144v2M9 137v2M10 127v3M11 115v3M13 189v16M14 186v19M15 189v16M16 90v2M18 82v3M19 118v2M21 146v2M22 158v5M23 167v3M24 73v2M24 170v2M25 57v2M25 85v2M25 101v3M25 132v2M25 170v2M26 42v3M26 64v2M26 111v2M26 148v3M26 156v9M27 42v5M30 106v2M35 179v2M40 28v5M42 42v3M44 21v3M139 125v2M139 179v5M140 125v2M140 189v4M141 141v5M141 196v2M142 198v2M143 198v2M144 165v5M144 196v2M145 97v2M145 144v4M145 153v3M145 193v3M146 87v3M146 189v2M147 80v2M147 170v11M148 92v5M148 118v5M154 115v8M154 130v4M155 115v8M155 146v5M156 151v5M159 177v4M159 198v5M160 165v2M163 141v3M165 130v2M166 123v2M167 118v5M169 137v2M172 167v12M172 181v12M182 163v4M182 172v5M183 137v4M183 186v3M184 106v5M184 191v2M185 127v3M185 191v2M186 144v2M186 186v3M187 163v4M187 172v5M207 123v2M212 172v2M212 189v4M213 47v24M213 115v8M213 163v2M213 196v4M214 16v8M214 54v3M214 90v11M214 139v17M214 200v3M215 0v2M215 47v2M215 132v21M215 200v3M216 9v3M216 14v21M216 42v3M216 158v5M216 198v5M217 167v5M217 193v3M218 179v7M222 139v2M222 165v2M223 163v2M224 80v2M224 160v3M225 66v2M226 52v2M228 71v2M228 134v3M229 125v2M236 153v5M237 137v23M238 134v24M278 101v14M278 144v4M279 75v7M279 172v5M280 144v4M280 174v5M326 90v4M326 120v3M327 108v22M339 151v2M340 139v2M340 167v3M341 127v5M341 163v7M342 144v9M346 5v7M347 24v2M348 19v2M348 78v26M364 99v9M364 141v7M370 92v2M370 120v3M371 68v5M371 137v2M372 59v5M372 153v5M373 92v2M373 158v2M374 146v2M375 0v5M376 66v2M376 113v2M377 156v2M378 156v2M379 40v2M379 153v3M380 148v3M388 61v5M388 170v2M389 68v3M389 179v2M390 97v2M390 181v3M391 177v4M392 146v2M392 160v5M435 12v9M436 40v2M454 12v9M454 52v5M455 9v3M455 49v3M459 134v3M460 139v2M461 24v2M461 132v2M463 28v3M464 26v5M472 108v7M473 115v5M475 97v2M476 90v2M476 130v2M477 97v2M480 80v2M481 80v2M482 97v2M483 115v3M483 151v5M558 134v7M558 151v2M559 139v2M559 160v3"/><path stroke="#0038ff" d="M5 99v2M5 108v5M6 12v2M6 19v2M6 40v2M6 132v2M7 141v3M8 141v3M9 134v3M10 125v2M11 14v2M11 113v2M12 99v2M14 49v3M15 92v2M20 31v2M20 132v2M21 144v2M22 156v2M23 165v2M24 115v3M24 167v3M25 87v5M25 99v2M25 134v3M25 165v5M26 40v2M26 66v2M26 108v3M26 151v5M27 40v2M27 47v2M27 113v2M28 113v2M29 111v2M31 99v2M40 26v2M41 40v2M43 35v3M44 12v9M139 127v3M139 177v2M140 127v3M140 186v3M141 146v5M141 193v3M142 163v2M142 196v2M143 170v2M143 196v2M144 170v2M144 193v3M145 141v3M145 156v7M145 191v2M146 90v2M146 186v3M147 82v3M147 158v12M148 97v2M148 111v7M154 123v7M155 123v7M155 134v12M159 181v17M161 158v2M166 125v2M167 123v4M168 132v2M170 148v3M171 158v2M171 200v3M172 179v2M182 167v5M183 141v3M183 184v2M184 111v7M184 189v2M185 130v2M185 189v2M186 146v2M186 184v2M187 167v5M212 174v5M212 184v5M213 71v30M213 104v11M213 165v5M213 193v3M214 24v7M214 49v5M214 101v38M214 156v4M214 196v4M215 2v3M215 45v2M215 153v7M215 196v4M216 12v2M216 35v7M216 163v2M216 193v5M217 172v2M217 189v4M222 141v7M222 160v5M223 94v3M226 148v3M227 49v3M227 141v3M228 73v2M229 97v2M229 123v2M278 115v29M279 82v5M279 167v5M280 148v5M280 170v4M326 94v3M326 115v5M340 141v5M340 160v7M341 132v5M341 158v5M346 0v5M347 21v3M348 16v3M364 108v10M364 134v7M370 94v3M370 118v2M371 73v2M371 134v3M372 64v4M372 151v2M373 94v3M373 156v2M374 111v2M374 144v2M376 64v2M376 151v2M380 66v2M381 87v3M381 134v3M388 66v5M388 167v3M389 71v4M389 177v2M390 99v2M390 179v2M391 120v3M391 174v3M392 148v12M435 0v12M436 38v2M454 21v31M455 12v37M459 19v2M459 82v3M460 31v2M460 137v2M461 21v3M461 64v2M461 130v2M463 31v4M463 71v2M464 31v4M464 57v2M475 99v2M475 115v3M476 92v2M477 99v2M479 156v2M480 82v3M481 82v3M481 167v3M482 172v2M483 118v2M483 148v3M558 141v10M559 141v5M559 156v4"/><path stroke="#0048ff" d="M5 75v3M5 101v7M6 14v5M6 127v5M7 137v4M8 139v2M9 132v2M10 123v2M11 111v2M13 49v3M14 52v2M14 92v2M15 19v2M17 85v2M19 115v3M20 130v2M21 141v3M22 151v5M23 160v5M24 71v2M24 118v5M24 165v2M25 54v3M25 92v5M25 137v4M25 160v5M26 38v2M26 68v3M26 106v2M27 38v2M27 49v3M27 111v2M28 111v2M29 108v3M30 104v2M40 24v2M41 38v2M42 40v2M44 0v12M139 130v2M139 163v14M140 130v2M140 181v5M141 151v2M141 189v4M142 165v2M142 193v3M143 172v2M143 193v3M144 172v5M144 191v2M145 99v2M145 137v4M145 163v9M145 189v2M146 148v38M147 85v2M147 148v10M148 99v2M148 106v5M155 130v4M160 167v3M160 203v2M162 151v2M163 144v2M164 137v2M165 132v2M166 127v3M167 127v3M169 139v2M170 203v2M171 160v3M171 196v4M183 144v7M183 181v3M184 118v5M184 186v3M185 132v2M185 186v3M186 148v3M186 181v3M212 179v5M213 101v3M213 170v4M213 189v4M214 31v18M214 160v7M214 193v3M215 5v2M215 40v5M215 160v5M215 193v3M216 165v5M216 191v2M217 174v5M217 184v5M222 148v12M223 160v3M224 158v2M225 153v3M226 54v3M227 52v2M229 99v2M229 120v3M279 87v7M279 165v2M280 153v7M280 165v5M326 97v4M326 108v7M340 146v2M340 153v7M341 137v9M341 153v5M364 118v16M370 97v2M370 115v3M371 75v3M372 68v7M372 148v3M373 97v2M373 153v3M374 113v2M374 137v7M376 61v3M376 115v3M377 153v3M379 42v3M380 146v2M381 132v2M388 71v4M388 165v2M389 75v3M389 174v3M390 177v2M391 123v2M391 172v2M459 132v2M460 28v3M460 134v3M461 127v3M462 57v2M462 118v2M463 35v5M464 35v12M464 54v3M476 127v3M477 141v3M482 99v2M482 170v2M559 146v2M559 151v5"/><path stroke="#0058ff" d="M5 49v26M6 125v2M7 134v3M8 134v5M9 130v2M10 0v2M11 108v3M13 92v2M14 54v5M15 12v7M15 21v3M19 113v2M20 127v3M21 139v2M22 148v3M23 156v4M24 123v4M24 160v5M25 97v2M25 141v3M25 156v4M26 71v2M26 104v2M27 52v2M27 108v3M31 94v5M40 16v8M42 38v2M43 33v2M139 132v31M140 132v7M140 179v2M141 153v5M141 184v5M142 167v3M142 189v4M143 174v3M143 191v2M144 177v2M144 189v2M145 132v5M145 172v17M146 92v2M146 144v4M147 87v3M147 139v9M148 101v5M160 200v3M161 160v3M168 134v3M169 141v3M170 151v2M170 200v3M183 151v2M183 179v2M184 123v7M184 184v2M185 134v3M185 184v2M186 151v2M186 179v2M213 174v5M213 184v5M214 167v5M214 189v4M215 7v2M215 35v5M215 165v5M215 189v4M216 170v4M216 186v5M217 179v5M223 158v2M224 82v3M224 156v2M225 68v3M227 54v3M228 75v3M228 132v2M229 118v2M279 94v7M279 156v9M280 160v5M326 101v7M340 148v5M341 146v7M347 19v2M348 14v2M370 99v2M370 111v4M371 78v4M371 130v4M372 75v5M372 146v2M373 99v2M373 151v2M374 115v10M374 132v5M376 148v3M378 153v3M379 151v2M381 90v2M381 130v2M388 75v5M388 163v2M389 78v4M389 172v2M390 101v3M390 174v3M391 125v2M391 170v2M436 35v3M459 16v3M459 85v2M459 130v2M460 73v2M461 19v2M461 66v2M463 40v5M463 68v3M464 47v7M475 101v7M475 113v2M476 94v3M477 101v3M478 148v3M479 104v2M480 85v2M480 160v3M481 85v2M482 167v3M483 120v3M483 146v2M559 148v3"/><path stroke="#0068ff" d="M6 42v3M6 120v5M7 132v2M8 132v2M9 127v3M10 120v3M11 16v3M11 106v2M12 38v2M12 97v2M15 7v5M15 24v2M15 90v2M16 87v3M18 80v2M19 111v2M20 33v2M20 125v2M21 137v2M22 146v2M23 153v3M24 68v3M24 127v3M24 156v4M25 52v2M25 144v12M26 35v3M26 73v2M27 35v3M27 54v3M28 108v3M29 106v2M30 101v3M31 87v7M40 0v16M41 35v3M140 139v9M140 177v2M141 158v5M141 179v5M142 170v4M142 184v5M143 177v4M143 186v5M144 179v10M145 127v5M146 94v3M146 139v5M147 90v4M147 130v9M160 170v4M160 196v4M161 203v2M162 153v3M163 146v2M164 139v2M166 130v2M167 130v2M170 153v3M171 163v2M171 191v5M183 153v7M183 174v5M184 130v4M185 137v4M186 153v7M186 174v5M213 179v5M214 172v5M214 184v5M215 9v26M215 170v7M215 186v3M216 174v12M223 97v2M223 156v2M225 151v2M226 57v2M226 146v2M227 57v2M228 78v2M229 101v3M229 115v3M279 101v55M347 16v3M348 12v2M370 101v10M371 82v3M371 127v3M372 80v5M372 144v2M373 101v3M373 148v3M374 125v7M376 59v2M380 68v3M380 144v2M388 80v7M388 158v5M389 82v3M389 170v2M390 104v2M390 172v2M391 127v3M391 167v3M436 33v2M460 26v2M460 132v2M461 16v3M461 125v2M462 59v2M463 45v7M463 66v2M475 108v5M476 97v2M476 123v4M477 104v2M478 108v3M480 87v3M481 87v3M481 165v2M482 101v3M482 165v2M483 123v2M483 144v2"/><path stroke="#0078ff" d="M6 118v2M7 127v5M8 130v2M9 125v2M10 118v2M11 104v2M13 52v2M14 90v2M15 0v7M15 26v2M19 108v3M20 123v2M21 134v3M22 144v2M23 97v7M23 148v5M24 66v2M24 130v4M24 151v5M26 31v4M26 75v5M26 101v3M27 31v4M27 57v2M27 106v2M28 24v9M28 106v2M29 104v2M31 40v9M31 82v5M42 35v3M43 31v2M140 148v29M141 163v11M141 177v2M142 174v10M143 181v5M145 101v3M145 111v16M146 134v5M147 94v3M147 123v7M160 174v3M160 193v3M161 163v2M161 200v3M165 134v3M167 132v2M169 144v2M169 203v2M170 198v2M171 165v2M171 186v5M183 160v5M183 172v2M184 134v7M184 181v3M185 141v3M185 181v3M186 160v5M186 172v2M214 177v7M215 177v9M223 99v2M223 151v5M224 153v3M226 59v2M227 59v2M227 139v2M228 80v2M229 104v11M348 5v7M371 85v5M371 125v2M372 85v5M372 139v5M373 104v2M373 144v4M376 118v2M376 146v2M377 151v2M379 45v2M381 92v2M381 125v5M388 87v5M388 156v2M389 85v2M389 167v3M390 106v2M390 170v2M391 130v2M391 165v2M436 31v2M459 14v2M459 87v3M459 127v3M460 24v2M460 130v2M461 14v2M461 123v2M462 115v3M463 52v2M476 99v2M476 120v3M477 139v2M479 153v3M480 90v4M481 90v2M482 104v2M482 163v2M483 125v2M483 141v3"/><path stroke="#0087ff" d="M6 45v2M6 113v5M7 125v2M8 127v3M9 123v2M10 115v3M11 101v3M12 94v3M13 90v2M21 132v2M22 139v5M23 90v7M23 104v4M23 146v2M24 134v17M25 49v3M26 28v3M26 80v5M27 28v3M27 59v2M27 104v2M28 16v8M28 33v9M30 99v2M31 33v7M31 49v33M41 33v2M43 28v3M141 174v3M145 104v7M146 97v2M146 127v7M147 97v2M147 115v8M160 177v16M162 156v2M162 203v2M163 148v3M164 141v3M166 132v2M168 137v2M168 203v2M169 146v2M169 200v3M170 156v2M170 196v2M171 167v3M171 177v9M183 165v7M184 141v7M184 177v4M185 144v4M185 177v4M186 165v7M223 148v3M224 85v2M224 151v2M225 71v2M225 148v3M226 144v2M227 61v3M228 82v3M228 130v2M347 14v2M348 0v5M371 90v4M371 123v2M372 90v4M372 137v2M373 106v2M373 139v5M376 57v2M376 120v3M376 144v2M377 101v3M378 151v2M379 148v3M380 141v3M381 120v5M388 92v5M388 120v21M388 153v3M389 87v5M389 165v2M390 108v3M390 167v3M391 132v5M391 163v2M436 26v5M459 12v2M459 125v2M460 127v3M462 61v3M462 113v2M463 54v5M463 61v5M476 101v3M476 118v2M477 106v2M480 94v3M480 158v2M481 92v2M481 163v2M482 106v2M482 160v3M483 127v14"/><path stroke="#0097ff" d="M6 94v5M6 111v2M7 123v2M8 125v2M9 120v3M10 113v2M11 19v2M12 40v2M14 59v2M15 28v3M15 87v3M19 106v2M20 120v3M21 130v2M22 137v2M23 87v3M23 108v3M23 141v5M24 64v2M25 47v2M26 24v4M26 85v5M26 99v2M27 24v4M27 61v5M28 5v11M28 42v5M28 104v2M31 28v5M41 31v2M42 33v2M43 26v2M146 99v2M146 120v7M147 99v2M147 111v4M161 165v2M161 196v4M162 158v2M162 200v3M165 137v2M167 134v3M168 139v2M169 148v3M169 198v2M170 158v2M170 193v3M171 170v7M184 148v8M184 172v5M185 148v8M185 172v5M223 101v17M223 144v4M225 73v2M226 61v3M227 137v2M347 12v2M371 94v3M371 120v3M372 94v3M372 132v5M373 108v3M373 134v5M376 141v3M377 99v2M377 148v3M379 47v2M380 71v2M381 94v3M381 118v2M388 97v23M388 141v12M389 92v2M389 163v2M390 111v2M391 137v4M391 158v5M436 24v2M459 90v2M459 123v2M460 21v3M460 75v3M460 125v2M461 12v2M461 68v3M462 111v2M463 59v2M476 104v4M476 115v3M477 108v3M477 137v2M478 146v2M480 97v2M482 108v3M482 158v2"/><path stroke="#00a7ff" d="M6 47v2M6 87v7M6 99v2M6 106v5M7 64v11M7 120v3M8 123v2M9 118v2M10 2v3M10 111v2M13 54v3M14 87v3M15 31v2M17 82v3M18 78v2M19 104v2M20 35v3M20 118v2M21 127v3M22 134v3M23 82v5M23 111v4M23 125v16M24 61v3M26 21v3M26 90v9M27 19v5M27 66v2M27 101v3M28 0v5M28 47v2M29 101v3M30 97v2M31 24v4M41 28v3M43 24v2M146 113v7M147 101v10M161 193v3M163 151v2M163 203v2M164 144v2M164 203v2M166 134v3M166 203v2M167 203v2M168 200v3M169 196v2M170 160v3M170 191v2M184 156v16M185 156v16M223 118v12M223 134v10M224 87v3M224 148v3M225 146v2M226 64v2M226 141v3M227 64v2M228 85v2M347 9v3M371 97v4M371 118v2M372 97v4M372 130v2M373 111v4M373 125v9M376 54v3M376 123v2M377 97v2M377 104v2M378 148v3M379 146v2M380 139v2M381 115v3M389 94v3M389 160v3M390 113v2M390 163v4M391 141v5M391 156v2M436 19v5M459 92v2M459 118v5M461 120v3M462 64v2M462 78v7M462 108v3M476 108v7M477 111v2M477 134v3M479 106v2M480 99v2M481 94v3M481 160v3M482 111v2M482 156v2"/><path stroke="#00b7ff" d="M6 82v5M6 101v5M7 57v7M7 75v3M7 115v5M8 120v3M9 115v3M10 108v3M11 21v3M11 99v2M12 92v2M13 57v2M13 87v3M15 33v2M16 85v2M19 99v5M20 115v3M21 125v2M22 130v4M23 80v2M23 115v10M25 45v2M26 9v12M27 9v10M27 68v5M28 49v5M28 101v3M30 90v7M31 19v5M41 24v4M42 31v2M43 21v3M146 101v12M161 167v3M161 189v4M162 160v3M162 198v2M163 200v3M164 146v2M165 139v2M165 203v2M167 137v2M167 200v3M168 141v3M168 198v2M169 151v2M170 186v5M223 130v4M224 146v2M225 75v3M227 66v2M227 134v3M228 87v3M228 127v3M347 5v4M371 101v17M372 101v5M372 123v7M373 115v10M376 125v2M376 137v4M377 94v3M377 146v2M379 49v3M380 73v2M381 97v2M381 111v4M389 97v4M389 158v2M390 115v3M390 160v3M391 146v10M436 16v3M459 9v3M459 94v3M459 115v3M460 19v2M460 123v2M461 9v3M461 71v2M462 66v2M462 73v5M462 85v9M462 104v4M477 113v2M478 111v2M478 144v2M479 151v2M480 101v3M480 156v2M481 97v2M482 113v2M482 153v3"/><path stroke="#00c7ff" d="M6 78v4M7 54v3M7 78v2M7 113v2M8 115v5M9 113v2M10 106v2M11 97v2M12 42v3M15 35v5M19 78v21M20 113v2M21 123v2M22 125v5M23 75v5M24 59v2M25 42v3M26 0v9M27 0v9M27 73v5M27 99v2M28 54v3M29 0v26M29 38v4M29 99v2M30 40v5M30 85v5M31 7v12M41 21v3M42 28v3M43 12v9M161 170v7M161 184v5M162 196v2M163 153v3M163 198v2M164 200v3M165 141v3M165 200v3M166 137v2M166 200v3M167 139v2M168 144v2M168 196v2M169 153v3M169 193v3M170 163v2M170 184v2M224 90v2M224 144v2M225 144v2M226 66v2M227 68v3M228 90v2M347 0v5M372 106v7M372 118v5M376 52v2M376 127v10M377 92v2M377 106v2M379 144v2M380 137v2M381 108v3M389 101v3M389 156v2M390 118v5M390 158v2M436 2v14M459 97v2M459 111v4M460 78v2M460 120v3M461 118v2M462 68v5M462 94v10M477 115v3M477 132v2M481 99v2M481 158v2M482 115v3M482 151v2"/><path stroke="#00d7ff" d="M6 49v29M7 52v2M7 80v5M7 111v2M8 113v2M9 111v2M10 104v2M11 24v2M12 90v2M13 59v2M19 73v5M20 38v2M20 111v2M21 120v3M22 120v5M23 73v2M24 57v2M27 78v9M27 97v2M28 57v4M28 99v2M29 26v12M29 42v7M29 97v2M30 35v5M30 45v40M31 0v7M41 12v9M42 24v4M43 0v12M161 177v7M162 163v2M162 193v3M163 156v2M163 196v2M164 148v3M164 198v2M166 139v2M166 198v2M167 141v3M167 198v2M168 146v2M169 156v2M169 191v2M170 165v2M170 177v7M225 78v2M226 139v2M227 71v2M228 92v2M228 125v2M372 113v5M377 87v5M377 144v2M378 146v2M379 52v2M380 75v3M380 134v3M381 99v2M381 106v2M389 104v7M389 153v3M390 123v4M390 156v2M436 0v2M459 7v2M459 99v2M459 104v7M460 16v3M460 80v2M461 7v2M461 73v2M477 118v5M477 130v2M481 101v3M481 156v2M482 118v2M482 148v3"/><path stroke="#00e7ff" d="M7 47v5M7 85v2M7 106v5M8 111v2M9 108v3M10 101v3M11 94v3M14 85v2M15 40v2M15 85v2M17 80v2M18 75v3M21 118v2M22 118v2M23 71v2M25 40v2M27 87v10M28 61v7M29 49v8M29 92v5M30 28v7M41 2v10M42 21v3M162 165v2M162 189v4M163 158v2M164 151v2M164 196v2M165 144v2M165 198v2M166 141v3M167 144v2M167 196v2M168 148v3M168 193v3M169 158v2M169 189v2M170 167v10M224 92v2M224 141v3M225 141v3M226 68v3M227 73v2M227 132v2M228 123v2M377 85v2M377 108v3M378 144v2M379 141v3M381 101v5M389 111v42M390 127v14M390 153v3M459 5v2M459 101v3M460 82v3M460 118v2M461 5v2M461 75v3M461 115v3M477 123v7M478 141v3M479 108v3M479 148v3M480 104v2M480 153v3M481 104v2M482 120v3M482 146v2"/><path stroke="#00f7ff" d="M7 45v2M7 87v3M7 94v12M8 108v3M9 106v2M11 26v2M12 45v2M12 87v3M14 61v3M16 82v3M19 71v2M20 40v2M20 108v3M21 0v16M21 115v3M22 111v7M23 68v3M24 54v3M28 68v10M28 87v12M29 57v16M29 82v10M30 24v4M41 0v2M42 16v5M162 186v3M163 193v3M165 146v2M165 196v2M166 144v2M166 196v2M167 146v2M167 193v3M168 151v2M168 191v2M169 160v3M169 184v5M224 137v4M225 80v2M226 71v2M226 137v2M227 75v3M228 94v3M228 120v3M376 49v3M377 82v3M377 141v3M378 0v5M379 54v3M380 78v2M380 132v2M390 141v12M459 0v5M460 14v2M460 85v2M460 115v3M461 0v5M461 78v4M461 113v2M478 113v2M481 106v2M481 153v3M482 144v2"/><path stroke="#08fff7" d="M7 42v3M7 90v4M8 71v2M8 106v2M9 104v2M10 5v2M10 99v2M11 28v3M11 92v2M13 85v2M20 106v2M21 16v3M21 111v4M22 97v14M23 66v2M25 38v2M28 78v9M29 73v9M30 12v12M42 5v11M162 167v7M162 181v5M163 160v3M163 191v2M164 153v3M164 193v3M165 148v3M165 193v3M166 146v2M166 193v3M167 148v3M168 153v3M168 189v2M169 163v2M169 181v3M224 94v3M224 134v3M225 139v2M226 73v2M227 78v2M227 130v2M228 97v2M228 118v2M377 80v2M377 111v2M378 5v16M379 57v2M380 130v2M460 87v3M460 113v2M461 82v5M461 111v2M478 139v2M479 146v2M480 106v2M480 151v2M481 108v3M481 151v2M482 123v4M482 139v5"/><path stroke="#18ffe7" d="M7 40v2M8 68v3M8 73v14M8 101v5M9 101v3M10 97v2M12 47v2M13 61v3M19 68v3M20 42v3M20 104v2M21 108v3M22 90v7M23 64v2M24 52v2M30 0v12M42 0v5M162 174v7M163 163v2M163 186v5M164 156v2M164 191v2M165 151v2M166 148v3M167 151v2M167 191v2M168 156v2M168 186v3M169 165v2M169 177v4M224 132v2M225 82v3M225 137v2M226 134v3M227 80v2M228 99v2M376 47v2M377 78v2M377 113v2M377 139v2M378 21v3M378 141v3M379 59v2M379 139v2M380 80v2M460 12v2M460 90v4M460 111v2M461 87v5M461 108v3M478 115v3M478 137v2M479 111v2M481 111v2M481 148v3M482 127v12"/><path stroke="#28ffd7" d="M7 38v2M8 64v4M8 87v14M9 99v2M10 7v2M10 94v3M11 31v2M11 90v2M15 42v3M15 82v3M17 78v2M18 73v2M19 66v2M20 45v4M20 97v7M21 19v2M21 106v2M22 82v8M23 61v3M25 35v3M163 165v2M163 184v2M164 158v2M164 189v2M165 153v3M165 191v2M166 151v2M166 191v2M167 153v3M167 189v2M168 158v2M168 184v2M169 167v10M224 97v2M224 127v5M225 85v2M226 75v3M227 82v3M228 101v17M376 45v2M377 75v3M377 137v2M379 137v2M380 82v3M380 127v3M460 94v3M460 108v3M461 92v5M461 106v2M478 118v2M478 134v3M479 144v2M480 108v3M480 148v3M481 113v2"/><path stroke="#38ffc7" d="M8 61v3M9 94v5M10 92v2M11 87v3M12 49v3M12 85v2M14 82v3M19 64v2M20 49v38M20 92v5M21 21v3M21 101v5M22 75v7M23 59v2M24 49v3M163 181v3M164 160v3M164 186v3M165 156v2M165 189v2M166 153v3M166 189v2M167 156v2M167 186v3M168 160v3M168 181v3M224 99v5M224 120v7M225 134v3M226 78v2M226 132v2M227 85v2M227 127v3M377 73v2M377 115v5M377 134v3M378 24v4M378 139v2M379 61v3M380 123v4M460 97v4M460 104v4M461 97v9M478 120v3M478 132v2M479 113v2M480 111v2M480 146v2M481 115v3M481 144v4"/><path stroke="#48ffb7" d="M7 35v3M8 59v2M9 92v2M10 90v2M11 33v2M13 64v2M13 82v3M14 64v2M16 80v2M20 87v5M21 24v2M21 94v7M22 71v4M25 33v2M163 167v14M164 163v2M164 184v2M165 158v2M165 186v3M166 156v2M166 186v3M167 158v2M167 184v2M168 163v4M168 177v4M224 104v16M225 87v3M225 132v2M226 80v2M227 87v3M227 125v2M376 42v3M377 68v5M377 120v3M377 130v4M378 28v3M378 137v2M379 134v3M380 85v2M380 120v3M460 9v3M460 101v3M478 123v2M478 130v2M479 141v3M480 113v2M480 144v2M481 118v2"/><path stroke="#58ffa7" d="M7 0v2M7 31v4M8 57v2M9 82v10M10 9v3M10 87v3M11 35v3M12 52v2M18 71v2M19 0v5M19 57v7M21 26v2M21 75v19M22 68v3M23 57v2M24 47v2M25 31v2M164 165v2M164 181v3M165 160v3M165 184v2M166 158v2M166 184v2M167 160v3M167 181v3M168 167v10M225 90v2M225 130v2M226 82v3M226 130v2M227 90v2M227 123v2M376 40v2M377 66v2M377 123v7M378 31v2M378 134v3M379 64v2M379 132v2M380 87v3M380 118v2M478 125v5M479 115v3M479 139v2M481 120v3M481 141v3"/><path stroke="#68ff97" d="M7 28v3M8 54v3M9 78v4M10 85v2M11 85v2M12 54v3M15 45v2M15 80v2M17 75v3M19 5v7M19 54v3M21 28v3M21 66v9M22 64v4M23 54v3M24 45v2M164 167v3M164 172v9M165 163v2M165 181v3M166 160v3M166 181v3M167 163v2M167 177v4M225 127v3M226 85v2M226 127v3M227 92v2M227 120v3M376 33v7M377 64v2M378 33v5M379 66v2M379 130v2M380 90v2M380 115v3M479 118v2M479 137v2M480 115v5M480 141v3M481 123v4M481 132v9"/><path stroke="#78ff87" d="M7 2v3M7 24v4M8 52v2M9 68v10M10 12v2M12 57v4M12 82v3M13 66v2M14 66v2M14 80v2M16 78v2M19 12v4M19 52v2M21 59v7M22 59v5M25 26v5M164 170v2M165 165v2M165 174v7M166 163v4M166 174v7M167 165v12M225 92v2M225 125v2M226 87v3M227 94v3M376 26v7M377 61v3M378 38v2M378 99v7M378 132v2M379 68v3M380 92v2M380 111v4M460 7v2M479 120v3M479 132v5M480 120v3M480 139v2M481 127v5"/><path stroke="#87ff78" d="M7 5v4M7 19v5M9 66v2M10 82v3M11 38v2M11 82v3M12 61v3M13 80v2M15 47v2M19 16v5M19 49v3M21 31v2M21 54v5M22 57v2M23 52v2M24 42v3M25 21v5M165 167v7M166 167v7M225 94v3M225 120v5M226 90v2M226 125v2M227 97v4M227 118v2M376 21v5M377 59v2M378 40v5M378 97v2M378 106v2M378 130v2M379 127v3M380 94v3M380 108v3M479 123v4M479 130v2M480 123v2M480 134v5"/><path stroke="#97ff68" d="M7 9v10M8 49v3M9 0v2M9 64v2M10 14v2M10 80v2M11 40v2M12 64v2M12 80v2M17 73v2M18 68v3M19 21v3M19 47v2M21 33v2M21 52v2M25 0v21M225 97v4M225 118v2M226 92v2M226 123v2M227 101v17M376 14v7M377 57v2M378 45v2M378 92v5M378 108v3M378 127v3M379 71v4M379 123v4M380 97v4M380 106v2M460 5v2M479 127v3M480 125v9"/><path stroke="#a7ff58" d="M8 47v2M9 61v3M10 16v3M10 75v5M11 80v2M14 68v3M15 78v2M16 75v3M19 24v4M19 45v2M21 35v3M21 47v5M22 54v3M23 49v3M225 101v17M226 94v3M226 118v5M376 9v5M377 54v3M378 47v5M378 87v5M378 111v16M379 75v3M379 120v3M380 101v5M460 2v3"/><path stroke="#b7ff48" d="M8 45v2M10 68v7M11 42v3M12 66v2M13 68v3M13 78v2M14 78v2M15 49v12M18 66v2M19 28v7M19 42v3M21 38v9M22 52v2M24 40v2M226 97v4M226 115v3M376 2v7M377 52v2M378 52v9M378 80v7M379 78v2M379 115v5M460 0v2"/><path stroke="#c7ff38" d="M9 2v3M9 57v4M10 19v2M10 64v4M11 45v4M11 61v7M11 75v5M12 78v2M13 71v7M14 71v7M15 61v5M15 75v3M17 71v2M19 35v7M22 49v3M23 47v2M24 38v2M226 101v14M376 0v2M377 49v3M378 61v19M379 80v7M379 108v7"/><path stroke="#d7ff28" d="M8 42v3M10 21v3M10 61v3M11 49v5M11 57v4M11 68v7M12 68v10M15 66v5M15 73v2M16 73v2M18 64v2M22 47v2M23 45v2M377 45v4M379 87v21"/><path stroke="#e7ff18" d="M8 0v2M8 40v2M9 54v3M10 24v2M10 59v2M11 54v3M15 71v2M16 71v2M377 28v17"/><path stroke="#f7ff08" d="M8 38v2M9 5v2M9 52v2M10 26v5M10 57v2M17 68v3M22 45v2M23 42v3M24 35v3M377 9v19"/><path stroke="#fff700" d="M8 2v3M9 49v3M10 31v2M10 54v3M16 68v3M18 61v3M22 42v3M377 0v9"/><path stroke="#ffe700" d="M8 33v5M9 7v2M9 47v2M10 33v5M10 49v5M16 66v2M17 66v2M22 40v2M23 40v2M24 33v2"/><path stroke="#ffd700" d="M8 5v2M8 26v7M9 9v3M9 45v2M10 38v11M18 59v2M22 38v2"/><path stroke="#ffc700" d="M8 7v5M8 19v7M9 12v2M9 42v3M16 0v28M16 64v2M17 64v2M18 57v2M22 0v7M22 35v3M23 38v2M24 31v2"/><path stroke="#ffb700" d="M8 12v7M9 14v5M9 38v4M16 28v14M16 61v3M18 54v3M22 7v28M23 35v3M24 28v3"/><path stroke="#ffa700" d="M9 19v19M17 61v3M24 26v2"/><path stroke="#ff9700" d="M16 42v3M16 59v2M18 52v2M23 33v2M24 24v2"/><path stroke="#ff8700" d="M16 45v2M16 57v2M18 49v3M24 19v5"/><path stroke="#ff7800" d="M16 47v2M16 52v5M17 59v2M18 47v2M23 31v2M24 0v9M24 16v3"/><path stroke="#ff6800" d="M16 49v3M18 45v2M23 28v3M24 9v7"/><path stroke="#ff5800" d="M17 57v2M18 0v5M18 42v3M23 24v4"/><path stroke="#ff4800" d="M17 54v3M18 5v7M23 19v5"/><path stroke="#ff3800" d="M17 52v2M18 12v7M18 28v14M23 0v14M23 16v3"/><path stroke="#ff2800" d="M17 47v5M18 19v9M23 14v2"/><path stroke="#ff1800" d="M17 40v7"/><path stroke="#ff0800" d="M17 0v9M17 28v12"/><path stroke="#f70000" d="M17 9v19"/></g>
<rect x="911.57" y="46.10" width="1" height="6.00" fill="#000050" fill-opacity="0.75"/>
<rect x="911.57" y="245.00" width="1" height="6.00" fill="#000050" fill-opacity="0.75"/>
<rect x="986.84" y="46.10" width="1" height="6.00" fill="#000050" fill-opacity="0.75"/>
<rect x="986.84" y="245.00" width="1" height="6.00" fill="#000050" fill-opacity="0.75"/>
<rect x="1062.11" y="46.10" width="1" height="6.00" fill="#000050" fill-opacity="0.75"/>
<rect x="1062.11" y="245.00" width="1" height="6.00" fill="#000050" fill-opacity="0.75"/>
<rect x="1137.38" y="46.10" width="1" height="6.00" fill="#000050" fill-opacity="0.75"/>
<rect x="1137.38" y="245.00" width="1" height="6.00" fill="#000050" fill-opacity="0.75"/>
<rect x="1212.64" y="46.10" width="1" height="6.00" fill="#000050" fill-opacity="0.75"/>
<rect x="1212.64" y="245.00" width="1" height="6.00" fill="#000050" fill-opacity="0.75"/>
<rect x="1287.91" y="46.10" width="1" height="6.00" fill="#000050" fill-opacity="0.75"/>
<rect x="1287.91" y="245.00" width="1" height="6.00" fill="#000050" fill-opacity="0.75"/>
<rect x="1363.18" y="46.10" width="1" height="6.00" fill="#000050" fill-opacity="0.75"/>
<rect x="1363.18" y="245.00" width="1" height="6.00" fill="#000050" fill-opacity="0.75"/>
<rect x="836.30" y="247.91" width="6.00" height="1" fill="#000050" fill-opacity="0.75"/>
<rect x="1433.45" y="247.91" width="6.00" height="1" fill="#000050" fill-opacity="0.75"/>
<rect x="836.30" y="183.28" width="6.00" height="1" fill="#000050" fill-opacity="0.75"/>
<rect x="1433.45" y="183.28" width="6.00" height="1" fill="#000050" fill-opacity="0.75"/>
<rect x="836.30" y="137.42" width="6.00" height="1" fill="#000050" fill-opacity="0.75"/>
<rect x="1433.45" y="137.42" width="6.00" height="1" fill="#000050" fill-opacity="0.75"/>
<rect x="836.30" y="101.86" width="6.00" height="1" fill="#000050" fill-opacity="0.75"/>
<rect x="1433.45" y="101.86" width="6.00" height="1" fill="#000050" fill-opacity="0.75"/>
<rect x="836.30" y="72.79" width="6.00" height="1" fill="#000050" fill-opacity="0.75"/>
<rect x="1433.45" y="72.79" width="6.00" height="1" fill="#000050" fill-opacity="0.75"/>
<rect x="836.30" y="48.22" width="6.00" height="1" fill="#000050" fill-opacity="0.75"/>
<rect x="1433.45" y="48.22" width="6.00" height="1" fill="#000050" fill-opacity="0.75"/>
<rect x="836.80" y="46.60" width="602.15" height="203.90" fill="none" stroke="#8a8aa8" stroke-opacity=".45" stroke-width="1"/>
<rect x="1458.30" y="46.200" width="25.30" height="205.350" fill="#870000"/>
<rect x="1458.30" y="49.409" width="25.30" height="202.141" fill="#970000"/>
<rect x="1458.30" y="52.617" width="25.30" height="198.933" fill="#a70000"/>
<rect x="1458.30" y="55.826" width="25.30" height="195.724" fill="#b70000"/>
<rect x="1458.30" y="59.034" width="25.30" height="192.516" fill="#c70000"/>
<rect x="1458.30" y="62.243" width="25.30" height="189.307" fill="#d70000"/>
<rect x="1458.30" y="65.452" width="25.30" height="186.098" fill="#e70000"/>
<rect x="1458.30" y="68.660" width="25.30" height="182.890" fill="#f70000"/>
<rect x="1458.30" y="71.869" width="25.30" height="179.681" fill="#ff0800"/>
<rect x="1458.30" y="75.077" width="25.30" height="176.473" fill="#ff1800"/>
<rect x="1458.30" y="78.286" width="25.30" height="173.264" fill="#ff2800"/>
<rect x="1458.30" y="81.495" width="25.30" height="170.055" fill="#ff3800"/>
<rect x="1458.30" y="84.703" width="25.30" height="166.847" fill="#ff4800"/>
<rect x="1458.30" y="87.912" width="25.30" height="163.638" fill="#ff5800"/>
<rect x="1458.30" y="91.120" width="25.30" height="160.430" fill="#ff6800"/>
<rect x="1458.30" y="94.329" width="25.30" height="157.221" fill="#ff7800"/>
<rect x="1458.30" y="97.537" width="25.30" height="154.013" fill="#ff8700"/>
<rect x="1458.30" y="100.746" width="25.30" height="150.804" fill="#ff9700"/>
<rect x="1458.30" y="103.955" width="25.30" height="147.595" fill="#ffa700"/>
<rect x="1458.30" y="107.163" width="25.30" height="144.387" fill="#ffb700"/>
<rect x="1458.30" y="110.372" width="25.30" height="141.178" fill="#ffc700"/>
<rect x="1458.30" y="113.580" width="25.30" height="137.970" fill="#ffd700"/>
<rect x="1458.30" y="116.789" width="25.30" height="134.761" fill="#ffe700"/>
<rect x="1458.30" y="119.998" width="25.30" height="131.552" fill="#fff700"/>
<rect x="1458.30" y="123.206" width="25.30" height="128.344" fill="#f7ff08"/>
<rect x="1458.30" y="126.415" width="25.30" height="125.135" fill="#e7ff18"/>
<rect x="1458.30" y="129.623" width="25.30" height="121.927" fill="#d7ff28"/>
<rect x="1458.30" y="132.832" width="25.30" height="118.718" fill="#c7ff38"/>
<rect x="1458.30" y="136.041" width="25.30" height="115.509" fill="#b7ff48"/>
<rect x="1458.30" y="139.249" width="25.30" height="112.301" fill="#a7ff58"/>
<rect x="1458.30" y="142.458" width="25.30" height="109.092" fill="#97ff68"/>
<rect x="1458.30" y="145.666" width="25.30" height="105.884" fill="#87ff78"/>
<rect x="1458.30" y="148.875" width="25.30" height="102.675" fill="#78ff87"/>
<rect x="1458.30" y="152.084" width="25.30" height="99.466" fill="#68ff97"/>
<rect x="1458.30" y="155.292" width="25.30" height="96.258" fill="#58ffa7"/>
<rect x="1458.30" y="158.501" width="25.30" height="93.049" fill="#48ffb7"/>
<rect x="1458.30" y="161.709" width="25.30" height="89.841" fill="#38ffc7"/>
<rect x="1458.30" y="164.918" width="25.30" height="86.632" fill="#28ffd7"/>
<rect x="1458.30" y="168.127" width="25.30" height="83.423" fill="#18ffe7"/>
<rect x="1458.30" y="171.335" width="25.30" height="80.215" fill="#08fff7"/>
<rect x="1458.30" y="174.544" width="25.30" height="77.006" fill="#00f7ff"/>
<rect x="1458.30" y="177.752" width="25.30" height="73.798" fill="#00e7ff"/>
<rect x="1458.30" y="180.961" width="25.30" height="70.589" fill="#00d7ff"/>
<rect x="1458.30" y="184.170" width="25.30" height="67.380" fill="#00c7ff"/>
<rect x="1458.30" y="187.378" width="25.30" height="64.172" fill="#00b7ff"/>
<rect x="1458.30" y="190.587" width="25.30" height="60.963" fill="#00a7ff"/>
<rect x="1458.30" y="193.795" width="25.30" height="57.755" fill="#0097ff"/>
<rect x="1458.30" y="197.004" width="25.30" height="54.546" fill="#0087ff"/>
<rect x="1458.30" y="200.213" width="25.30" height="51.338" fill="#0078ff"/>
<rect x="1458.30" y="203.421" width="25.30" height="48.129" fill="#0068ff"/>
<rect x="1458.30" y="206.630" width="25.30" height="44.920" fill="#0058ff"/>
<rect x="1458.30" y="209.838" width="25.30" height="41.712" fill="#0048ff"/>
<rect x="1458.30" y="213.047" width="25.30" height="38.503" fill="#0038ff"/>
<rect x="1458.30" y="216.255" width="25.30" height="35.295" fill="#0028ff"/>
<rect x="1458.30" y="219.464" width="25.30" height="32.086" fill="#0018ff"/>
<rect x="1458.30" y="222.673" width="25.30" height="28.877" fill="#0008ff"/>
<rect x="1458.30" y="225.881" width="25.30" height="25.669" fill="#0000f7"/>
<rect x="1458.30" y="229.090" width="25.30" height="22.460" fill="#0000e7"/>
<rect x="1458.30" y="232.298" width="25.30" height="19.252" fill="#0000d7"/>
<rect x="1458.30" y="235.507" width="25.30" height="16.043" fill="#0000c7"/>
<rect x="1458.30" y="238.716" width="25.30" height="12.834" fill="#0000b7"/>
<rect x="1458.30" y="241.924" width="25.30" height="9.626" fill="#0000a7"/>
<rect x="1458.30" y="245.133" width="25.30" height="6.417" fill="#000097"/>
<rect x="1458.30" y="248.341" width="25.30" height="3.209" fill="#000087"/>
<rect x="1458.80" y="46.70" width="24.30" height="204.35" fill="none" stroke="#3a3a4a" stroke-opacity=".5" stroke-width="1"/>
<rect x="1458.30" y="216.49" width="3.00" height="1" fill="#222" fill-opacity="0.7"/>
<rect x="1480.60" y="216.49" width="3.00" height="1" fill="#222" fill-opacity="0.7"/>
<rect x="1458.30" y="182.43" width="3.00" height="1" fill="#222" fill-opacity="0.7"/>
<rect x="1480.60" y="182.43" width="3.00" height="1" fill="#222" fill-opacity="0.7"/>
<rect x="1458.30" y="148.38" width="3.00" height="1" fill="#222" fill-opacity="0.7"/>
<rect x="1480.60" y="148.38" width="3.00" height="1" fill="#222" fill-opacity="0.7"/>
<rect x="1458.30" y="114.32" width="3.00" height="1" fill="#222" fill-opacity="0.7"/>
<rect x="1480.60" y="114.32" width="3.00" height="1" fill="#222" fill-opacity="0.7"/>
<rect x="1458.30" y="80.26" width="3.00" height="1" fill="#222" fill-opacity="0.7"/>
<rect x="1480.60" y="80.26" width="3.00" height="1" fill="#222" fill-opacity="0.7"/>
<rect x="43.35" y="331.40" width="602.40" height="204.50" fill="none" stroke="#bdbdbd" stroke-width="1"/>
<rect x="118.15" y="331.40" width="1" height="6.50" fill="#8a8a8a"/>
<rect x="118.15" y="529.40" width="1" height="6.50" fill="#8a8a8a"/>
<rect x="193.45" y="331.40" width="1" height="6.50" fill="#8a8a8a"/>
<rect x="193.45" y="529.40" width="1" height="6.50" fill="#8a8a8a"/>
<rect x="268.75" y="331.40" width="1" height="6.50" fill="#8a8a8a"/>
<rect x="268.75" y="529.40" width="1" height="6.50" fill="#8a8a8a"/>
<rect x="344.05" y="331.40" width="1" height="6.50" fill="#8a8a8a"/>
<rect x="344.05" y="529.40" width="1" height="6.50" fill="#8a8a8a"/>
<rect x="419.35" y="331.40" width="1" height="6.50" fill="#8a8a8a"/>
<rect x="419.35" y="529.40" width="1" height="6.50" fill="#8a8a8a"/>
<rect x="494.65" y="331.40" width="1" height="6.50" fill="#8a8a8a"/>
<rect x="494.65" y="529.40" width="1" height="6.50" fill="#8a8a8a"/>
<rect x="569.95" y="331.40" width="1" height="6.50" fill="#8a8a8a"/>
<rect x="569.95" y="529.40" width="1" height="6.50" fill="#8a8a8a"/>
<rect x="43.35" y="360.11" width="6.50" height="1" fill="#8a8a8a"/>
<rect x="639.25" y="360.11" width="6.50" height="1" fill="#8a8a8a"/>
<rect x="43.35" y="389.33" width="6.50" height="1" fill="#8a8a8a"/>
<rect x="639.25" y="389.33" width="6.50" height="1" fill="#8a8a8a"/>
<rect x="43.35" y="418.54" width="6.50" height="1" fill="#8a8a8a"/>
<rect x="639.25" y="418.54" width="6.50" height="1" fill="#8a8a8a"/>
<rect x="43.35" y="447.76" width="6.50" height="1" fill="#8a8a8a"/>
<rect x="639.25" y="447.76" width="6.50" height="1" fill="#8a8a8a"/>
<rect x="43.35" y="476.97" width="6.50" height="1" fill="#8a8a8a"/>
<rect x="639.25" y="476.97" width="6.50" height="1" fill="#8a8a8a"/>
<rect x="43.35" y="506.19" width="6.50" height="1" fill="#8a8a8a"/>
<rect x="639.25" y="506.19" width="6.50" height="1" fill="#8a8a8a"/>
<path transform="translate(43.35 419.04) scale(0.09990 .1)" d="M0 -377l1 291 1 72 1 33 1 52 1-47 1 24 1-39 1-5 1-81 1 71 1 13 1 23 1-50 1 10 1-66 1-19 1 14 1 98 1 84 1-43 1-118 1-102 1 5 1 171 1 16 1-115 1-11 1 81 1 25 1 45 1-51 1-71 1 87 1-1 1-10 1 20 1 50 1-38 1-18 1-11 1 1 1-3 1 3 1-90 1 52 1-77 1-28 1 123 1 92 1 117 1-69 1-99 1-31 1 44 1-47 1-226 1 173 1 122 1-69 1 103 1 139 1-195 1 10 1-77 1-173 1 173 1 49 1-93 1 246 1-12 1-353 1-62 1 254 1 66 1-83 1-21 1 30 1 105 1 118 1-18 1-81 1-7 1-7 1 39 1 139 1-399 1-197 1 399 1 157 1-248 1-103 1 77 1-211 1 308 1 62 1-560 1 447 1 161 1 308 1-353 1-54 1-82 1-302 1 295 1 91 1-420 1-8 1 52 1 266 1 58 1 203 1 451 1-520 1-79 1 23 1 456 1-327 1-157 1-784 1 747 1 21 1-61 1 6 1 212 1-63 1-181 1-12 1-2 1-67 1 194 1-47 1-8 1-22 1 50 1-116 1-339 1 229 1 89 1-127 1 13 1-63 1 302 1 157 1 165 1-163 1 10 1-324 1 41 1 11 1 23 1 27 1 67 1 53 1-230 1 43 1-236 1 173 1 298 1-42 1-28 1 48 1-25 1-28 1 77 1 25 1-158 1 17 1 105 1-155 1 61 1-75 1-25 1-76 1 316 1-878 1 639 1-225 1 343 1-34 1-56 1 95 1 53 1-114 1-248 1 594 1-300 1-426 1 307 1-86 1 376 1 455 1-392 1-41 1-98 1-136 1 162 1-167 1-24 1-17 1-429 1 340 1-363 1 480 1-24 1 11 1 58 1-195 1-218 1 184 1 89 1-363 1 205 1 267 1 345 1-296 1-103 1 223 1 382 1-325 1-113 1 161 1-184 1-72 1 152 1-117 1-222 1 190 1 110 1-151 1-65 1 69 1 892 1-871 1-642 1 671 1-30 1-144 1-137 1 268 1-4 1 73 1-13 1 241 1-452 1-20 1-5 1 256 1 511 1-263 1-304 1-347 1 199 1-140 1 248 1 149 1-70 1-214 1 35 1 197 1-81 1-64 1-368 1 94 1 451 1 73 1-24 1-909 1 725 1 61 1-568 1 464 1 48 1-61 1 45 1 167 1-114 1-132 1 54 1 55 1 75 1 170 1 118 1-195 1-177 1-7 1 34 1-69 1-178 1 182 1 8 1-413 1 344 1 98 1-96 1 100 1-13 1-81 1-79 1 159 1-31 1 163 1-102 1-60 1-113 1-218 1 291 1 81 1 492 1-493 1-92 1-39 1-73 1 166 1-138 1 21 1 58 1-36 1 44 1 81 1 53 1 264 1-36 1-248 1-657 1 501 1 161 1 96 1-125 1 42 1 92 1-260 1-197 1 339 1 238 1-204 1-20 1 89 1-127 1-51 1-70 1 155 1-14 1-39 1-76 1 158 1-81 1-344 1 365 1 51 1-208 1 73 1 193 1-62 1 41 1-73 1-107 1 42 1 144 1-43 1-197 1 96 1 62 1 4 1 97 1 84 1-54 1-121 1 12 1-72 1-51 1 85 1 67 1-12 1 14 1-71 1-124 1 30 1-148 1 189 1 115 1 99 1-9 1-43 1-102 1-40 1-149 1 30 1 110 1 113 1-15 1-75 1 23 1 72 1-30 1-53 1-71 1 52 1 49 1-6 1-51 1 45 1 218 1-100 1-178 1-187 1 125 1 218 1-39 1-348 1 203 1 104 1-40 1-38 1 48 1-44 1-106 1 173 1 28 1-73 1 21 1 12 1-1 1 59 1-38 1-15 1-159 1 170 1-23 1-115 1 132 1-3 1 89 1 23 1 11 1-38 1 1 1 226 1-266 1-29 1 127 1 23 1-129 1-56 1-575 1 279 1 301 1 51 1-14 1 233 1-52 1-165 1 389 1-288 1-11 1-109 1-30 1 12 1-90 1 34 1-127 1 47 1-290 1-88 1 510 1 304 1-138 1-103 1 115 1-90 1-182 1 132 1-38 1-114 1 246 1 16 1-99 1 72 1-122 1-137 1 40 1 127 1 37 1-73 1 5 1-85 1-156 1 345 1-151 1 58 1-80 1 64 1 26 1-27 1-207 1 29 1 82 1 197 1-21 1 1 1-56 1-138 1 10 1 155 1 98 1-72 1 21 1-28 1-91 1-94 1-196 1 369 1 85 1-3 1-176 1 90 1-52 1-113 1 147 1-24 1 65 1-76 1 152 1-5 1-58 1-63 1-160 1-97 1-82 1 120 1 388 1-194 1-217 1-370 1 309 1 246 1-111 1 160 1 100 1-244 1 99 1 15 1-103 1 11 1 225 1 417 1-276 1-72 1-183 1-89 1 98 1 153 1 200 1-358 1-19 1-207 1-167 1 204 1 165 1-274 1-166 1 528 1-131 1-87 1 60 1 81 1 126 1-88 1-104 1 192 1 20 1-54 1-216 1-64 1 292 1 95 1 203 1-465 1-231 1 190 1 173 1-186 1-179 1 355 1-8 1-176 1 116 1-63 1 102 1 39 1 90 1-82 1-91 1-52 1-86 1 55 1 66 1-150 1 40 1 104 1-12 1-25 1 51 1 28 1-39 1 19 1 68 1-61 1-36 1 56 1 34 1-267 1-60 1 68 1 129 1 118 1 143 1-254 1-68 1 158 1-23 1-17 1-38 1 83 1-109 1 65 1 143 1 30 1-175 1-53 1 106 1 11 1-20 1-52 1 38 1 57 1 51 1-7 1-120 1-56 1 91 1 44 1 74 1-127 1-11 1-18 1 123 1-137 1 28 1 6 1 0 1 26 1-35 1-2 1 15 1-38 1 30 1 43 1-6 1-21 1-64 1-121 1 138 1 8 1 130 1 36 1-72 1-39 1-24 1-47 1 44 1 2 1-17 1 53 1-32 1-40 1 22 1-101 1 61 1 39 1-11 1 17 1 118 1-97 1-4 1-57 1 102 1-57 1-131 1-44 1 134 1 13 1 11 1 45 1 39 1-8 1-61 1-26 1 40 1-14 1 23 1 80 1-84 1 33 1-64 1-10 1 18 1 7 1 57 1 47 1-111 1 15 1-213 1 116 1 277 1 3 1-167 1 31 1 60 1 43 1-68 1-4 1 70 1-70 1 28 1-39 1 18 1-123 1 46 1 149 1-9 1-192 1-123 1 158 1 195 1-83 1-59 1 39 1-90 1-40 1-8 1-31 1 89 1 118 1 25 1-111 1 155 1-375 1-44 1 178 1 149 1-5 1 120 1-85 1-86 1 36 1 192 1-167 1 1 1-45 1-28 1 71 1-104 1-223 1-47 1 211 1 18 1 45 1 9 1 125 1-148 1-376 1 388 1-15 1 8 1-141 1 135 1-252 1 234 1 74 1-23 1 35 1-14 1-40 1-180 1 24 1-131 1 209 1 85 1 110 1-47 1-49 1-3 1-21 1 61 1-31 1-5 1 36 1-27 1-24 1-50 1-29 1-51 1 99 1 73 1 21 1-8 1-71 1-139 1 129 1 8 1 4 1 24 1-48 1 50 1 2 1 36 1-196 1 36 1 102 1-6 1-43 1 110 1-80 1-84 1 64 1-43 1 61 1 6 1-163 1 96 1-20 1 74 1 29 1-14 1 140 1 5 1-127 1-53 1-39 1-14 1 189 1-72 1-111 1 84 1-71 1 54 1 36 1-17 1 16 1-217 1 136 1 75 1 80 1-89 1-41 1 23 1-65 1 87 1 34 1 103 1-46 1-163 1 78 1 32 1-86 1 84 1-59 1-69 1-41 1 15 1 68 1-69 1 144 1 134 1 9 1-198 1-74 1 6 1 144 1 108 1-102 1-191 1 30 1 219 1-195 1-33 1 79 1 39 1 32 1 16 1-1 1-21 1-86 1 5 1 46 1-34 1-12 1 4 1 58 1-17 1 6 1 22 1-39 1 81 1-69 1 92 1-131 1-159 1 89 1 91 1 14 1-13 1 140 1-52 1-32 1 1 1-12 1-23 1-6 1 24 1-31 1 0 1-43 1 47 1 69 1-43 1-252 1 219 1 183 1-50 1-95 1 10 1-22 1 27 1-37 1 3 1 60 1-30 1-31 1-29 1 115 1-25 1-7 1-54 1-114 1 120 1 114 1-95 1-25 1 69 1-8 1-62 1 32 1 5 1-11 1 22 1-77 1 29 1-1 1 13 1-136 1-13 1 41 1 42 1 111 1 23 1-39 1-153 1 87 1 42 1-17 1-53 1 43 1-13 1 19 1 169 1-75 1-61 1 68 1-390 1 167 1 108 1 21 1 13 1-49 1-49 1 16 1 20 1 43 1-90 1-17 1-50 1 85 1 128 1-21 1-68 1-92 1 94 1-177 1 109 1-11 1-119 1 182 1 36 1-31 1 32 1 29 1 29 1 21 1-209 1 150 1 131 1-101 1-25 1 67 1 46 1 24 1-159 1-131 1-41 1 95 1 81 1-39 1-138 1-32 1 193 1-51 1-118 1 149 1 51 1-8 1 29 1 109 1-88 1 52 1 24 1 27 1 35 1-76 1-39 1-21 1-124 1-75 1-70 1 133 1-22 1 74 1 74 1 5 1-47 1 66 1-41 1 77 1-122 1 85 1-90 1-42 1 37 1-69 1-33 1 188 1 125 1-252 1-11 1 39 1-54 1 46 1-42 1 93 1 200 1-66 1-165 1-33 1 13 1 54 1-20 1 75 1-94 1-31 1 57 1-76 1 6 1 62 1 53 1-19 1-227 1 188 1 269 1-246 1 89 1 133 1-147 1-82 1-14 1-3 1-24 1-60 1 62 1 97 1-69 1 47 1 107 1-93 1-43 1-104 1 71 1 44 1-36 1 39 1 6 1-44 1-3 1-23 1 47 1-46 1-48 1 57 1-44 1-117 1 160 1 82 1-28 1-108 1 28 1 49 1 35 1-73 1 7 1-63 1 106 1 49 1-75 1 44 1 42 1 22 1 94 1 47 1-26 1-199 1 24 1-54 1-68 1-18 1 53 1-67 1 277 1-86 1-53 1 33 1-215 1 142 1 196 1-43 1-141 1-61 1-119 1 241 1 138 1-215 1 13 1 31 1 18 1-26 1 193 1-140 1-43 1 47 1-90 1-73 1 39 1 47 1 11 1-72 1-43 1 36 1 81 1-90 1 101 1-70 1 37 1 33 1 14 1 30 1 71 1 25 1-79 1-34 1 134 1 3 1-48 1-306 1 192 1-4 1-112 1-23 1 104 1-85 1 109 1 26 1 13 1-20 1-3 1 27 1-32 1-7 1-94 1 99 1 71 1-72 1 9 1-45 1 19 1 94 1 1 1-114 1 19 1 170 1-142 1-3 1 127 1-117 1-169 1 66 1-71 1-1 1 153 1 7 1 25 1 39 1-144 1 130 1-27 1-61 1-56 1-194 1 294 1 8 1-10 1 38 1-74 1 29 1 12 1 6 1-78 1-302 1 384 1 50 1-20 1-38 1 53 1 91 1-20 1 4 1-125 1-19 1 44 1 99 1-56 1-212 1-170 1 186 1 74 1 49 1-7 1-45 1 39 1 1 1 24 1-16 1 6 1-91 1 81 1 11 1-16 1-16 1-27 1 59 1-135 1 41 1 53 1 21 1 42 1 185 1-177 1-207 1 32 1 43 1 101 1-10 1-1 1 16 1-11 1-21 1 89 1-117 1 45 1-1 1 137 1-156 1-87 1 10 1-21 1-115 1 214 1 226 1-202 1 10 1-115 1 35 1 43 1 99 1-90 1-26 1 199 1-184 1-64 1 201 1-101 1-128 1 64 1 69 1-40 1-61 1 19 1 64 1 36 1-36 1 6 1 53 1-16 1 8 1-53 1-286 1 215 1 319 1 115 1-367 1-98 1 188 1 80 1-9 1-23 1-125 1 38 1-83 1 38 1 25 1-86 1-319 1 236 1 150 1 74 1-210 1 113 1-34 1-110 1 29 1 88 1-104 1-143 1 159 1 123 1 25 1 82 1 236 1 32 1-175 1-172 1-6 1-256 1 189 1-7 1 23 1 5 1 471 1-444 1-4 1-46 1-63 1 24 1 68 1-71 1-19 1 69 1 40 1-39 1 13 1 13 1-6 1-70 1 34 1 207 1 17 1-134 1-13 1 104 1-123 1-74 1 164 1-30 1 276 1-266 1-245 1 348 1 125 1-150 1 140 1-295 1 51 1-52 1-144 1 155 1-64 1 35 1-26 1 58 1 78 1-162 1 59 1 24 1-91 1-4 1-18 1 14 1 69 1 44 1 78 1-41 1-100 1 43 1-78 1-54 1-288 1 16 1 303 1 170 1 133 1 177 1-175 1-84 1-202 1 115 1 184 1-124 1-42 1 46 1 0 1-23 1-86 1-522 1 620 1 373 1-441 1 10 1 253 1-277 1-222 1 149 1 80 1 1 1 193 1-172 1-64 1 186 1-171 1 123 1-30 1-77 1 155 1 124 1 111 1-408 1-2 1 51 1 63 1-98 1-247 1-40 1 451 1-2 1-173 1-171 1 86 1 249 1 101 1-110 1-92 1 74 1-107 1-12 1 203 1-174 1-147 1 186 1 22 1-105 1-46 1 167 1-128 1 42 1-29 1 207 1-268 1 64 1 101 1-122 1 125 1 9 1-81 1-29 1 11 1 97 1 97 1 25 1-209 1-60 1 12 1-103 1-154 1 212 1 105 1-49 1-44 1-25 1-40 1 47 1 258 1 142 1-224 1-17 1-114 1 52 1-47 1-130 1-307 1 458 1-99 1 182 1 110 1-164 1-40 1-28 1-39 1 55 1 61 1-12 1-86 1 23 1-100 1-65 1 262 1 12 1-23 1 177 1-203 1-174 1 139 1-344 1 315 1 67 1 20 1-106 1-541 1 525 1-3 1 84 1 295 1-28 1-15 1-168 1-71 1 157 1-103 1-60 1 132 1 25 1-149 1-289 1 275 1-397 1 420 1 198 1 297 1-337 1-252 1-1 1-34 1 111 1 142 1-59 1-53 1 40 1-59 1-141 1-85 1 38 1-6 1 113 1 133 1 54 1-25 1-206 1-105 1 186 1 118 1-87 1-212 1 72 1-56 1-100 1 123 1 174 1 160 1 90 1-324 1 39 1-153 1-59 1 50 1 121 1 122 1-60 1 145 1-132 1 96 1 115 1-85 1-34 1-222 1 124 1-39 1 15 1 146 1 64 1-49 1-47 1-60 1 47 1-112 1-30 1 202 1-31 1-93 1-48 1 69 1 182 1-146 1 41 1-78 1 1 1 147 1-161 1 49 1-110 1 43 1 21 1-61 1 28 1-39 1 103 1-20 1 260 1-351 1-206 1 141 1 3 1 53 1 59 1 49 1 66 1 94 1-85 1-151 1-75 1 88 1-91 1 135 1-253 1-100 1 340 1 80 1-67 1-23 1-159 1 258 1 102 1-74 1 103 1 160 1-269 1 7 1 97 1-320 1 228 1 15 1-103 1-35 1 132 1-39 1 150 1-232 1-390 1 315 1 182 1 97 1-72 1-2 1-27 1-119 1 458 1-473 1-75 1 63 1 82 1-28 1 127 1-90 1 61 1-130 1 351 1-180 1-223 1 9 1 154 1 22 1-423 1-270 1 284 1 242 1 467 1-378 1-190 1-109 1 427 1 37 1-324 1-171 1-33 1 119 1 80 1 161 1-86 1 20 1 287 1-247 1-13 1-2 1-2 1-76 1-365 1 160 1 134 1-3 1-72 1 251 1 14 1 180 1 189 1-316 1-179 1 181 1-95 1-39 1 81 1-55 1-37 1-163 1 144 1 534 1-301 1-187 1 0 1 243 1-548 1-8 1 377 1-346 1-40 1 335 1-249 1 624 1 47 1-87 1-38 1-40 1-263 1-241 1 316 1 78 1-110 1 183 1-4 1-140 1-233 1 54 1 188 1-28 1-81 1 101 1-120 1 107 1-67 1-81 1 37 1 55 1-29 1-22 1-7 1 111 1-32 1-19 1 36 1-21 1 6 1-72 1-217 1 141 1 63 1 62 1 15 1 17 1 36 1 199 1-118 1-133 1-4 1 29 1-57 1 13 1-43 1 8 1 10 1-92 1 7 1-75 1 167 1 23 1-88 1 80 1-6 1-114 1 163 1 63 1-31 1-53 1-27 1 4 1-6 1 106 1 125 1-254 1 23 1 114 1-147 1 19 1-106 1-92 1 83 1-20 1 49 1 74 1 93 1-37 1-85 1-335 1 259 1 210 1 51 1-106 1 80 1 347 1-423 1-512 1 559 1-11 1-365 1 137 1 10 1 93 1 83 1 12 1-142 1 133 1 46 1-73 1-67 1 83 1-51 1 175 1-80 1-659 1 449 1 174 1-9 1 156 1 6 1-354 1-138 1 324 1 29 1 1 1 15 1-8 1-10 1 12 1-43 1-16 1-119 1 185 1-22 1 354 1-188 1-1 1-165 1-36 1 8 1 38 1 20 1 144 1-55 1-138 1-31 1-58 1-2 1 89 1-108 1 119 1 386 1-404 1-22 1-5 1 51 1-30 1-112 1 141 1-278 1 204 1 32 1-144 1 90 1 84 1 33 1-75 1 33 1-61 1 34 1-25 1-25 1 81 1-2 1-63 1 111 1 102 1-196 1-25 1 58 1 239 1-67 1-169 1-12 1-174 1-89 1 267 1 21 1-20 1 205 1-86 1 116 1-88 1-105 1 78 1-36 1-79 1-20 1-152 1 174 1 46 1 13 1 73 1-195 1-44 1 107 1 98 1-48 1-55 1 60 1-77 1 247 1-12 1 10 1-281 1 50 1 137 1-74 1-375 1 346 1-9 1-30 1-88 1 395 1-390 1 5 1 93 1 2 1-85 1 116 1-15 1 52 1-111 1-16 1 79 1 2 1-10 1-16 1-91 1-223 1 150 1 185 1 4 1-12 1 171 1 26 1-61 1-115 1 13 1-31 1 55 1 10 1-82 1-36 1-108 1-25 1 69 1 137 1-58 1-57 1 102 1-16 1 18 1-10 1-25 1 45 1 83 1 53 1-169 1-58 1 108 1-55 1-122 1-146 1 290 1 21 1-211 1 0 1 42 1 150 1-2 1 26 1-59 1 182 1 92 1-176 1-52 1 20 1-108 1 80 1 3 1-24 1 38 1 7 1 45 1-65 1 49 1-39 1-1 1-65 1 44 1-142 1-94 1 168 1-8 1 65 1 64 1 31 1 83 1-309 1-113 1 229 1-96 1-1 1 124 1 65 1 76 1-86 1-129 1 32 1 5 1-29 1-11 1 62 1-46 1-115 1 77 1-133 1-72 1 331 1-47 1-58 1 32 1 40 1 3 1 215 1-11 1 124 1-70 1-126 1-171 1 67 1 14 1-74 1 27 1 40 1-76 1-116 1 49 1 65 1 51 1 94 1-259 1 67 1-106 1 89 1 151 1-50 1 373 1-377 1-323 1 222 1 194 1-89 1 71 1-177 1 282 1-197 1 20 1 136 1-148 1-315 1 374 1 195 1-278 1-45 1 132 1 136 1-44 1-136 1-30 1 31 1 62 1-58 1 77 1-85 1 6 1 123 1-75 1-24 1-46 1 5 1-126 1 94 1 95 1-38 1-79 1-74 1 78 1-183 1 230 1 308 1-173 1-24 1 24 1-133 1-52 1 60 1 66 1-49 1 99 1-97 1-91 1 39 1-30 1 41 1-14 1 37 1-57 1-26 1 52 1 122 1 8 1 91 1 11 1-114 1-38 1 56 1-117 1 179 1-206 1 58 1-40 1-25 1 117 1 105 1-223 1-131 1 310 1-28 1-110 1-24 1 19 1 48 1-7 1-80 1 50 1 140 1 15 1-148 1 147 1-38 1 45 1 9 1-121 1-65 1-13 1 16 1-30 1-6 1 57 1-96 1-60 1 44 1 100 1 17 1-28 1-51 1 110 1 10 1-37 1 32 1-29 1-10 1 59 1-28 1 103 1-81 1-78 1 19 1-19 1 22 1-24 1 27 1 26 1-24 1-32 1-4 1 71 1 7 1-89 1 64 1 3 1-84 1 13 1 66 1-62 1-69 1-114 1 187 1 115 1 62 1-107 1 53 1-63 1-20 1-247 1 82 1 161 1 284 1-242 1 6 1 139 1 79 1-314 1-54 1 170 1 31 1 82 1 88 1-116 1-232 1-3 1 114 1 6 1-152 1 177 1 77 1-112 1-197 1 91 1-16 1 41 1 20 1-40 1-86 1-291 1 368 1 7 1 388 1-335 1 25 1 438 1-450 1-234 1 224 1-24 1 4 1-49 1-167 1 129 1 54 1-50 1 125 1-21 1-110 1 149 1 81 1 27 1-52 1-151 1-60 1 24 1 103 1 13 1 91 1-17 1-168 1-3 1 51 1 101 1-22 1 123 1 34 1-48 1-129 1-238 1 126 1 33 1 45 1-92 1-75 1 104 1 11 1-140 1 180 1 12 1 18 1 36 1 24 1-113 1 55 1 10 1-2 1-41 1 70 1-126 1 152 1-31 1-23 1-99 1-118 1 204 1-102 1 70 1-235 1 107 1 144 1 186 1 53 1-192 1-10 1 45 1-12 1-79 1 34 1-372 1 358 1 28 1 179 1-168 1-26 1-5 1 54 1-29 1 13 1-65 1 121 1-71 1-249 1-62 1 212 1 112 1-2 1-31 1 0 1 11 1-74 1-87 1 149 1-21 1-61 1-33 1 54 1 90 1 53 1-75 1 2 1-44 1 135 1-32 1-123 1 286 1-298 1 14 1 17 1 84 1 131 1-165 1 34 1-74 1-155 1 150 1 96 1 49 1 34 1-146 1-174 1 94 1 235 1-61 1-94 1-16 1 61 1-39 1 12 1 51 1-19 1 60 1-52 1-23 1-15 1-126 1-138 1 239 1 102 1 53 1-111 1-54 1-147 1 203 1 134 1-180 1 6 1 89 1-114 1 1 1 6 1 76 1 11 1-16 1-69 1-29 1 48 1 108 1-117 1 28 1 3 1 3 1-33 1-52 1-198 1 71 1 191 1 66 1-46 1-29 1-144 1 146 1 21 1 14 1-26 1-46 1 8 1-101 1 86 1 8 1-61 1-49 1 70 1 109 1-16 1-82 1 37 1 50 1 70 1-42 1-56 1 23 1-23 1 11 1 43 1 31 1 30 1-20 1-59 1-121 1-111 1 218 1-3 1-91 1-173 1 249 1-158 1 88 1-78 1 151 1-43 1-288 1 150 1-62 1-23 1 221 1-41 1 84 1-14 1-59 1 77 1-57 1 95 1-59 1 24 1-3 1 16 1-176 1-76 1 281 1 47 1 50 1-43 1-27 1-132 1 70 1 0 1 68 1-61 1-65 1-59 1 85 1 81 1-170 1-161 1 79 1 131 1 13 1 3 1-77 1 152 1 67 1-68 1-63 1-131 1 29 1-208 1 336 1 36 1-238 1 163 1 216 1-150 1-61 1-3 1 6 1-109 1 142 1-14 1-47 1-202 1 77 1 180 1-28 1-61 1-123 1 139 1 70 1-2 1-143 1 158 1 107 1-107 1-47 1 251 1-231 1-40 1 112 1 168 1-249 1 25 1 23 1-163 1-72 1 190 1 154 1-94 1 75 1-116 1-4 1-10 1 1 1-158 1-3 1 173 1 5 1 190 1 18 1-328 1-65 1 79 1 61 1 45 1 1 1 19 1 68 1-100 1 14 1 31 1-35 1-51 1-38 1 61 1-29 1 55 1 9 1 22 1-23 1 30 1-4 1-22 1-21 1 26 1-52 1-14 1 167 1-108 1-71 1 18 1 184 1-180 1-161 1 234 1 53 1 11 1 79 1-87 1-66 1-24 1 14 1-6 1-40 1-67 1 45 1 65 1-15 1 10 1-11 1 24 1-3 1-9 1-59 1 28 1 10 1 39 1 25 1-29 1 21 1-23 1 28 1 35 1 74 1-97 1-10 1-19 1-16 1-31 1-5 1 65 1-53 1-55 1-18 1 43 1 72 1-20 1-3 1-124 1-14 1-9 1 143 1-33 1 19 1 16 1-51 1 90 1 69 1-22 1-104 1 4 1 153 1-82 1-47 1-46 1-81 1 10 1 67 1 2 1-29 1 86 1 17 1-80 1-41 1 63 1 22 1-28 1-22 1 104 1 87 1-105 1-39 1 93 1-111 1 23 1-29 1 25 1-23 1 131 1-16 1-89 1 46 1 83 1-154 1-44 1 47 1 43 1-79 1-16 1 54 1 19 1-14 1-80 1 102 1-101 1 96 1-5 1-93 1-54 1 23 1 130 1 175 1-16 1-268 1 125 1 124 1-184 1 33 1 105 1-22 1-123 1 7 1 4 1 141 1-108 1 72 1-63 1-5 1-7 1 17 1 48 1 45 1-121 1 4 1-146 1 130 1 58 1-108 1 72 1 88 1-139 1 54 1-81 1 35 1 34 1 189 1-3 1-171 1-7 1 27 1-37 1-31 1-39 1 17 1 196 1-118 1-34 1 37 1 125 1-56 1-154 1-102 1 15 1 44 1 52 1-15 1 242 1-52 1-172 1-103 1 247 1 57 1 28 1-198 1-110 1 113 1 18 1-10 1 90 1-49 1-3 1-87 1-60 1 223 1-35 1-116 1 62 1-29 1-122 1-188 1 189 1 241 1 29 1-103 1-70 1-60 1 103 1 40 1-4 1 219 1-137 1-111 1-51 1-73 1 114 1 3 1 29 1 126 1 1 1-202 1 72 1-74 1-27 1 225 1-171 1-102 1 126 1-137 1-17 1 129 1 250 1-138 1-13 1-37 1-20 1-38 1 112 1-88 1-178 1 88 1 86 1 43 1 27 1 118 1-51 1-134 1-112 1 100 1-5 1 15 1 24 1 69 1-102 1 13 1-11 1 40 1 82 1-75 1 123 1-144 1-51 1-62 1-61 1 60 1 74 1 29 1 65 1-196 1-118 1 142 1 105 1 1 1 87 1-159 1-56 1 95 1 1 1-28 1 5 1-16 1 62 1 24 1 9 1-82 1-18 1-57 1 98 1 31 1 13 1 82 1 34 1-10 1-127 1-34 1 48 1 59 1-128 1-47 1-59 1-37 1 217 1-79 1 94 1 12 1 49 1-80 1-21 1-60 1 62 1 17 1 72 1-58 1-20 1 189 1-168 1-31 1 50 1-102 1-12 1 31 1-186 1 33 1 153 1-24 1 45 1 37 1-1 1 13 1 9 1-31 1-2 1 25 1-41 1 234 1-143 1-133 1-31 1 70 1 63 1 41 1 29 1-327 1 194 1-2 1-128 1 140 1-103 1 118 1-56 1-287 1 296 1-116 1-2 1 104 1 5 1-102 1 254 1-23 1-148 1 65 1-207 1-46 1 152 1 126 1 61 1-183 1 92 1-41 1 53 1-1 1-2 1-1 1-97 1-18 1-48 1 167 1-88 1 82 1-200 1 165 1 124 1 45 1-169 1-161 1 214 1 8 1 151 1-57 1-94 1 108 1-128 1-90 1 116 1-19 1 26 1 22 1-5 1-42 1-8 1 39 1 25 1-51 1-2 1-227 1 68 1 145 1 86 1-93 1 27 1 129 1-140 1-146 1 145 1 0 1-66 1-64 1-27 1 130 1 19 1-106 1 84 1 18 1 93 1-80 1 51 1 29 1 7 1-283 1 162 1 52 1-43 1-91 1 72 1-23 1-27 1 46 1 57 1 48 1-58 1-1 1 27 1-32 1-151 1-24 1 165 1 98 1-73 1 9 1 38 1-26 1-55 1 15 1-98 1 88 1 104 1-60 1-42 1-45 1 160 1-79 1-17 1-9 1-18 1-42 1-56 1 109 1 32 1-41 1-44 1 16 1-135 1-26 1 205 1 4 1 11 1 61 1 69 1 15 1-166 1-115 1 4 1-119 1 110 1 79 1-31 1 100 1 66 1-91 1-76 1 79 1 9 1-3 1 28 1 163 1-169 1-202 1-41 1 245 1-166 1-186 1 306 1-11 1 3 1 27 1 14 1-2 1-8 1 64 1-22 1 19 1-60 1-27 1-177 1 108 1 67 1 14 1-39 1 142 1-47 1 18 1 148 1-153 1-90 1 32 1-6 1-174 1 4 1 171 1-50 1 24 1 14 1-256 1 283 1 1 1-274 1 193 1 18 1 67 1-208 1 264 1-151 1-196 1-4 1 109 1-95 1 265 1 88 1-4 1-52 1 115 1 24 1-91 1-33 1-8 1 95 1-22 1-86 1 28 1-146 1 92 1-4 1 80 1-36 1-109 1-49 1 77 1 39 1-232 1 57 1 273 1-52 1-69 1 93 1 58 1-78 1 29 1-210 1-110 1-12 1 40 1 216 1 52 1-170 1-17 1 44 1 135 1 185 1-160 1 9 1-129 1-12 1 117 1-5 1-208 1 187 1-14 1 51 1 60 1-42 1-174 1 124 1-295 1 90 1 224 1-120 1 99 1-3 1 14 1-87 1-42 1 60 1 36 1 133 1-49 1-63 1 30 1 33 1-118 1 64 1-4 1-100 1 57 1 17 1-5 1-4 1 3 1-9 1-17 1 17 1 13 1 116 1-18 1-120 1-64 1 52 1-19 1 37 1-52 1 77 1-35 1-196 1 62 1 221 1 2 1-61 1-16 1-63 1 78 1 86 1-94 1-58 1 0 1 68 1-43 1 12 1 49 1 162 1-179 1 54 1-76 1-25 1 113 1-50 1 22 1-126 1 151 1-97 1-18 1 283 1-64 1 86 1-18 1-136 1-200 1 261 1-144 1-245 1 43 1 98 1 55 1-142 1 147 1 369 1-311 1-315 1 136 1 120 1 71 1 185 1 49 1-91 1-210 1-13 1-3 1 78 1 385 1-456 1-7 1-105 1 58 1 129 1 27 1-405 1 173 1 129 1 21 1-92 1 53 1 182 1 190 1-384 1-218 1 169 1 78 1-79 1 80 1 166 1 27 1-205 1 7 1-120 1 34 1 81 1 26 1 25 1 20 1 9 1 26 1-59 1-72 1-2 1 61 1 112 1-53 1 60 1 58 1-148 1 44 1-237 1 34 1 115 1-48 1 49 1 31 1-49 1-26 1 53 1 28 1-62 1 9 1 59 1-24 1-41 1-134 1 156 1 77 1-68 1-34 1 124 1 58 1-94 1-282 1 15 1 200 1 154 1-79 1 17 1-175 1 10 1 174 1-53 1-51 1 245 1-114 1 50 1-142 1-169 1 68 1 79 1 27 1-222 1 57 1 174 1 24 1 7 1-34 1-31 1-47 1 56 1-2 1-110 1-280 1 348 1 144 1-113 1 146 1 93 1-248 1-76 1 119 1 14 1-54 1 25 1 3 1-16 1-33 1-217 1-42 1 367 1-48 1 30 1 24 1-169 1-114 1 112 1-19 1 145 1 46 1-1 1-49 1-50 1-66 1 287 1-190 1-100 1 57 1-205 1-7 1 322 1-70 1-33 1 39 1 41 1 6 1 112 1-197 1 8 1 61 1 15 1 211 1-254 1 46 1 4 1 31 1 49 1-180 1-3 1-19 1 54 1-6 1-233 1 34 1 103 1-36 1 3 1 34 1-9 1 83 1 125 1-126 1-93 1-127 1-53 1 166 1 109 1 3 1 104 1-13 1 165 1-6 1-63 1-115 1 119 1-154 1 33 1-48 1 13 1-234 1 98 1 531 1-369 1-43 1-34 1-231 1 210 1 92 1-36 1-118 1-24 1 93 1-134 1-121 1 58 1 172 1 69 1 73 1-56 1 48 1-44 1-31 1 524 1-407 1-528 1 442 1-233 1 218 1-6 1 152 1 216 1-137 1-131 1-145 1-166 1 137 1-84 1 147 1-99 1 112 1 122 1-8 1-94 1 151 1-134 1-184 1 202 1 62 1 65 1 55 1-65 1-75 1-252 1 101 1-127 1 205 1 224 1-207 1-20 1 27 1 33 1-28 1 8 1-56 1-49 1 63 1 41 1-29 1-27 1 18 1 96 1-50 1 3 1-61 1 29 1 14 1 1 1-72 1-38 1 58 1-23 1-151 1 92 1 83 1 16 1-34 1-93 1 84 1-38 1 61 1 44 1-84 1-60 1-172 1 235 1 225 1-25 1-207 1-27 1 25 1 46 1 45 1 6 1-47 1-20 1 24 1-2 1 42 1 45 1-175 1 70 1 24 1-7 1-78 1-166 1 168 1-67 1 157 1 26 1-42 1 25 1-26 1 13 1-76 1 21 1-109 1 162 1 17 1-344 1 249 1 110 1-34 1 45 1 30 1 20 1 0 1-74 1 7 1-31 1-20 1 28 1 1 1-351 1 365 1 32 1-73 1 8 1 87 1 38 1-118 1-117 1-46 1-16 1-130 1 208 1 115 1 7 1-19 1-160 1 164 1-33 1 27 1-127 1 66 1 58 1 16 1-13 1 75 1-106 1-105 1 105 1 96 1 59 1-157 1 31 1 13 1-48 1 36 1 42 1-103 1-150 1 141 1 49 1-122 1-46 1 156 1 127 1 71 1-92 1-68 1-71 1 58 1-17 1 126 1-67 1-106 1-18 1 132 1-18 1-143 1 79 1 134 1-98 1 46 1-40 1 54 1 27 1-36 1-135 1-31 1 5 1 83 1 64 1-72 1-214 1-9 1 139 1 49 1 50 1 118 1-47 1-181 1 113 1 21 1 21 1-27 1-21 1-15 1 37 1 0 1 31 1-93 1 130 1-28 1 34 1-169 1 84 1-131 1 161 1 160 1-92 1-112 1 41 1-2 1-182 1 128 1 142 1-52 1-48 1 25 1 42 1-1 1-54 1 44 1-2 1-53 1 138 1 11 1-52 1-71 1 36 1-92 1 69 1 177 1-64 1-182 1-7 1-39 1 25 1-270 1 255 1 30 1 32 1 12 1-6 1 101 1-118 1-108 1-91 1 44 1 40 1 137 1 33 1-46 1 55 1 54 1 189 1-164 1-152 1-47 1 81 1-8 1-20 1 22 1 151 1-150 1-4 1-43 1 34 1-44 1-104 1-95 1 25 1 226 1 134 1-166 1-295 1 126 1 65 1 9 1-309 1 198 1 397 1 228 1-320 1-64 1-26 1-85 1 196 1-105 1 157 1 444 1-562 1-898 1 877 1-162 1 0 1-58 1 90 1 157 1 36 1-16 1-336 1 415 1 185 1-131 1-128 1-102 1-36 1 133 1 45 1-18 1-16 1-61 1-55 1 101 1-64 1 33 1-47 1-62 1 96 1-6 1 94 1-54 1-212 1 107 1 18 1 47 1-37 1 19 1 24 1-22 1 6 1-7 1 25 1-30 1-26 1 11 1 27 1 207 1-103 1-125 1 46 1 107 1-104 1-9 1 5 1 54 1-14 1-61 1-5 1 12 1-81 1-141 1 107 1 102 1 0 1 13 1-34 1 29 1 14 1-22 1 20 1-51 1 13 1-17 1 52 1 72 1-70 1-27 1 36 1 71 1-29 1 142 1-136 1-67 1-80 1-47 1 24 1 59 1-134 1 208 1-18 1-35 1 47 1-10 1 13 1-86 1-35 1 26 1 126 1 102 1-64 1-90 1-120 1 175 1-1 1 130 1-64 1-100 1 21 1 136 1-172 1-4 1-245 1 209 1 98 1-25 1-66 1-69 1 103 1 15 1-11 1-5 1 19 1 214 1-231 1-69 1 233 1-10 1-39 1-69 1-39 1 53 1-77 1 16 1 96 1-79 1-56 1 7 1 16 1 74 1 15 1-81 1 9 1-1 1-77 1-122 1 119 1 109 1 2 1-24 1 3 1-14 1 3 1-5 1 5 1-7 1-56 1 8 1 95 1-7 1-62 1 6 1 74 1 63 1-111 1 11 1-74 1-7 1 74 1 14 1-69 1 51 1 110 1-53 1-1 1 3 1-69 1-24 1 85 1-5 1-78 1 21 1 6 1-58 1-109 1 40 1 150 1-20 1-114 1 48 1 70 1 45 1 6 1-3 1-74 1 22 1 6 1-13 1-81 1 62 1-27 1-31 1 143 1-55 1 77 1 12 1-109 1-55 1-16 1 16 1 156 1-87 1-65 1 5 1 101 1-62 1 10 1 19 1-37 1-118 1 70 1 82 1 7 1-21 1-21 1 54 1 96 1-102 1-9 1 62 1-32 1 114 1-116 1 88 1-157 1 42 1 12 1-18 1 126 1-132 1-54 1-76 1-37 1 65 1 246 1-62 1-80 1 27 1-26 1 58 1 85 1-182 1 46 1 122 1-133 1-46 1 113 1-88 1 39 1 49 1-82 1 24 1-4 1-1 1 199 1-23 1-17 1-122 1-256 1 95 1 80 1 41 1-4 1-24 1 59 1-138 1 111 1-16 1 71 1-157 1 185 1-34 1-78 1 6 1-176 1 99 1 104 1 42 1-11 1-19 1 201 1-213 1-119 1 148 1-8 1-142 1-177 1 383 1-98 1-81 1-4 1 111 1 14 1 71 1 32 1-152 1 63 1-245 1 110 1 84 1-155 1 164 1 43 1-15 1-3 1 4 1-201 1 88 1 0 1 15 1 48 1-4 1-31 1 82 1 57 1 109 1-92 1-84 1-206 1 100 1 7 1 109 1 3 1-218 1 182 1 23 1 18 1-62 1-179 1 168 1-4 1 99 1-24 1-93 1-137 1 164 1-53 1 52 1 48 1 36 1 114 1-52 1-104 1-56 1 44 1-42 1 7 1 60 1 104 1 65 1-70 1-81 1 16 1-41 1 92 1-45 1-53 1-9 1 8 1-10 1-32 1-153 1-41 1-10 1 72 1 225 1-84 1 20 1 55 1-23 1-19 1-181 1 60 1-16 1 80 1 65 1 33 1-57 1-13 1 86 1 151 1-121 1 4 1-88 1-397 1 222 1 75 1 66 1 95 1 30 1 19 1-147 1 23 1 101 1-46 1 29 1-60 1 42 1-25 1 17 1-164 1-361 1 350 1 77 1 10 1-110 1 94 1 62 1 36 1 44 1-57 1-36 1 0 1-322 1 303 1 53 1-9 1-27 1-188 1 38 1 144 1 67 1-43 1 0 1 36 1 82 1-35 1-80 1-78 1 8 1-87 1 69 1 28 1-35 1 52 1-13 1 17 1-6 1-34 1-52 1 103 1 5 1-22 1 26 1-12 1-35 1 17 1-5 1-43 1-49 1-50 1 23 1 112 1 15 1 25 1 45 1 9 1-19 1-23 1-13 1 16 1-49 1-13 1 4 1-28 1 20 1 53 1 30 1 71 1-35 1-33 1 49 1-35 1-140 1-115 1 233 1-28 1-11 1-89 1 95 1 16 1-12 1 16 1-34 1-50 1-38 1 6 1 94 1 7 1 23 1-12 1-28 1 16 1-9 1-138 1 35 1 103 1 42 1 98 1-97 1-21 1 98 1-59 1-49 1-1 1 3 1-40 1-101 1 38 1 102 1 30 1-120 1 53 1 19 1 18 1 0 1-12 1-1 1-77 1-161 1 212 1 40 1 71 1-29 1-69 1-91 1 5 1 16 1-68 1 69 1 89 1 118 1-50 1-111 1 65 1 103 1-115 1 18 1-22 1-247 1 153 1 72 1 59 1-7 1-33 1-25 1 42 1 32 1-125 1 33 1 65 1-22 1 15 1-9 1-2 1 132 1 0 1-130 1-62 1 85 1 14 1-57 1-51 1 45 1 45 1-94 1 65 1-41 1-108 1-16 1 7 1 226 1-33 1 24 1 12 1-216 1 49 1 120 1-42 1 21 1-20 1 24 1 23 1-33 1 12 1 34 1-35 1 20 1-19 1-167 1 106 1 49 1 57 1 84 1-110 1 2 1-8 1-81 1-149 1 219 1 3 1 49 1-23 1 24 1 28 1-47 1-43 1-56 1 16 1 76 1-45 1-25 1 24 1-70 1-69 1-51 1 176 1-6 1 15 1 38 1-74 1-83 1 187 1 35 1 11 1-69 1-118 1 102 1 1 1-37 1-44 1-46 1 209 1 2 1-92 1-84 1 43 1 2 1 3 1 42 1 68 1-70 1-144 1 37 1 58 1-30 1-19 1 53 1-36 1 86 1 118 1-90 1-22 1-111 1 102 1-12 1 7 1 37 1-88 1 39 1-87 1 90 1-114 1 36 1 92 1 17 1-175 1 75 1-50 1 150 1 58 1-43 1-57 1-20 1 32 1 3 1 48 1-34 1-50 1 61 1-17 1-5 1 32 1-23 1-13 1 1 1 10 1 6 1 85 1 16 1-36 1 9 1-74 1-7 1 6 1-32 1 20 1 33 1 25 1-49 1-60 1 74 1-2 1-55 1-39 1-6 1-134 1 110 1 149 1 8 1-57 1-23 1 27 1-1 1 77 1 30 1-43 1-23 1-86 1-23 1 59 1 5 1-21 1 6 1 17 1 83 1 73 1-15 1 26 1-160 1-30 1 158 1-117 1-23 1 41 1 214 1-119 1 188 1-248 1-108 1-214 1 180 1 81 1 92 1-101 1-13 1 8 1-363 1 303 1 57 1-33 1 95 1-136 1 70 1-72 1 80 1 49 1-73 1 78 1 239 1-160 1 66 1-186 1-155 1 232 1-1 1-106 1 90 1-149 1-154 1 227 1 151 1-18 1-36 1 10 1 74 1-122 1 112 1-55 1-30 1-12 1-77 1 52 1 69 1-122 1-23 1 40 1 94 1-146 1 141 1-76 1-82 1-138 1 16 1 193 1 24 1 130 1-247 1 120 1-37 1 0 1 77 1-74 1-58 1 66 1-64 1 173 1-119 1-12 1 10 1 35 1-65 1 6 1 157 1-153 1 35 1 57 1-377 1 269 1 41 1-12 1 73 1-92 1 17 1 221 1-75 1-174 1 33 1 173 1-168 1-130 1 223 1-79 1-19 1-231 1 356 1-42 1-160 1-36 1-336 1 439 1 24 1-34 1 103 1 132 1-325 1 127 1-132 1 125 1-1 1-232 1 125 1-51 1-6 1 149 1-110 1-65 1 69 1 101 1 179 1 406 1-382 1-108 1-213 1 172 1 395 1-431 1-147 1-252 1 256 1 161 1-22 1 63 1-59 1-26 1 117 1-64 1-136 1 107 1-52 1 102 1 82 1-115 1-30 1 18 1-96 1-21 1 62 1 44 1 5 1-87 1 53 1 227 1-95 1 13 1 62 1-164 1-18 1 3 1-27 1 44 1-26 1-27 1 77 1 4 1-52 1 38 1 23 1-49 1 1 1 19 1-17 1 231 1-14 1-243 1-41 1 50 1 54 1 88 1-284 1 145 1 117 1-1 1-106 1 8 1 79 1-49 1-186 1 75 1 132 1 52 1-24 1-5 1 17 1-227 1-48 1 51 1 56 1 78 1-25 1 19 1 32 1-77 1-89 1-44 1 241 1 55 1-162 1 26 1 324 1-309 1-26 1 104 1-75 1 11 1-100 1 39 1 33 1 15 1 217 1-214 1-50 1 34 1 6 1-167 1 102 1 53 1 90 1-62 1 32 1 185 1-244 1-81 1-35 1-36 1 108 1 63 1 49 1-58 1 7 1 112 1-72 1-113 1-49 1 119 1 48 1-25 1 96 1-67 1 155 1-26 1-187 1-44 1 16 1 86 1-165 1-127 1 216 1-3 1 16 1 13 1-71 1 134 1-59 1-4 1-106 1 44 1 149 1-119 1 34 1-95 1-167 1 280 1 180 1-13 1-73 1-57 1-50 1-19 1-6 1 62 1-39 1-88 1-123 1 360 1-48 1 176 1-272 1 11 1 106 1-53 1-45 1 125 1 9 1 19 1-214 1 30 1 41 1 81 1-6 1-72 1-50 1 126 1-78 1 10 1-33 1-84 1 48 1 223 1-229 1-32 1 8 1 52 1-47 1-134 1 144 1-3 1-59 1 8 1 91 1-9 1 57 1-14 1-24 1 45 1-21 1-5 1 41 1-60 1 16 1 63 1 3 1-39 1-142 1-90 1 259 1 144 1-60 1-266 1-48 1 116 1 24 1 61 1-13 1 117 1 114 1-204 1-136 1 6 1 99 1 31 1-163 1-52 1 112 1 59 1-150 1-19 1 178 1-41 1-33 1 73 1-25 1 6 1-203 1 126 1 124 1 16 1-4 1-89 1 94 1-126 1-95 1 143 1 51 1 159 1-152 1-176 1-49 1 197 1-24 1 119 1 62 1-55 1 179 1-311 1-9 1 15 1-36 1-66 1 1 1 25 1 74 1 15 1-34 1 53 1-1 1-126 1-25 1 16 1 107 1-28 1-123 1 50 1 43 1 45 1 75 1-11 1-104 1-78 1 71 1 21 1 84 1 149 1-13 1-180 1-40 1 0 1-170 1 135 1 115 1 124 1-133 1 18 1-95 1 36 1 32 1 5 1-27 1 42 1 44 1-90 1-18 1 32 1 51 1-81 1-117 1 117 1 29 1-72 1-41 1 115 1-13 1-33 1 55 1 38 1 35 1-51 1 11 1 65 1-14 1-98 1-151 1 80 1 58 1-90 1 34 1 63 1-2 1-44 1-55 1 26 1 3 1-56 1 53 1 44 1 15 1-33 1 1 1 42 1-2 1-161 1 126 1-55 1-179 1 289 1-2 1-48 1-174 1 106 1 41 1 15 1-375 1 236 1 242 1 116 1-125 1-239 1-212 1 54 1 201 1 158 1-125 1 118 1 28 1-61 1-105 1 141 1 45 1-137 1-25 1 14 1-504 1 568 1 59 1-90 1 62 1 51 1-43 1-2 1-36 1-8 1 70 1-111 1-291 1 336 1 172 1 17 1-160 1-28 1 204 1-122 1-309 1 69 1 132 1-10 1 60 1-15 1 1 1 29 1 15 1 9 1-56 1 70 1-22 1-127 1 271 1 60 1-114 1-41 1 50 1-96 1 41 1-62 1-291 1 124 1 101 1 68 1 126 1 29 1-75 1-28 1-96 1-60 1 23 1 23 1 140 1 57 1-164 1-70 1-97 1-94 1 276 1-51 1 18 1 34 1 120 1-47 1-34 1-34 1-396 1 400 1-94 1 55 1 20 1-28 1 50 1 254 1-221 1-63 1-35 1 197 1-67 1 108 1 51 1-181 1-43 1-5 1 33 1 58 1-68 1 26 1-44 1 19 1-20 1 92 1-20 1-58 1-89 1 9 1 140 1 6 1-90 1-44 1 166 1-27 1-82 1 4 1 83 1-100 1-55 1-101 1 11 1 61 1 85 1-2 1-55 1 47 1-31 1 32 1 76 1-61 1 9 1 6 1-32 1-4 1 34 1-41 1 67 1 130 1-131 1-168 1 132 1-74 1 7 1-59 1-31 1 75 1 133 1-39 1-74 1 98 1 18 1-12 1-15 1-141 1 16 1 71 1-82 1 55 1 55 1 4 1-170 1 169 1-2 1-43 1-36 1 101 1-14 1 57 1-68 1-13 1-45 1 60 1 96 1-96 1-1 1 68 1-35 1 19 1-49 1 55 1-39 1-333 1 216 1-46 1 201 1-4 1 17 1-163 1 201 1-44 1-49 1 70 1 1 1-59 1-56 1 14 1-181 1 8 1 112 1 115 1-5 1-96 1-209 1 257 1-15 1 55 1 213 1-114 1 78 1-193 1-63 1 96 1 35 1-5 1-114 1-46 1 82 1 65 1-65 1 102 1-25 1-7 1-70 1-92 1-16 1 228 1-39 1 209 1-228 1-93 1 52 1 42 1-54 1-75 1 73 1-27 1-75 1-44 1 68 1 117 1-2 1-25 1 39 1 70 1 2 1 36 1 47 1-200 1-171 1-40 1 57 1 154 1 66 1-42 1-26 1 135 1-8 1-41 1-90 1 10 1-73 1-10 1 99 1-29 1-11 1 212 1-32 1-166 1-23 1-101 1 88 1 11 1 7 1-46 1 28 1 30 1-166 1-35 1 199 1-18 1 26 1 10 1 59 1-38 1 62 1-199 1-4 1-19 1-29 1 137 1 13 1-88 1 70 1 38 1-34 1-30 1 2 1 55 1-89 1-18 1 125 1-55 1 3 1 29 1 105 1 91 1-173 1-130 1 156 1-13 1-55 1-10 1 76 1-143 1 79 1 51 1-9 1-56 1-122 1 121 1 37 1-25 1 82 1-147 1-49 1 20 1 61 1 40 1 33 1 73 1-104 1-31 1 193 1-42 1-118 1 40 1-39 1 59 1-94 1-116 1 127 1-40 1 20 1-97 1 143 1-2 1 26 1 25 1-32 1-38 1-5 1 21 1 81 1-73 1-21 1 68 1 78 1 12 1-30 1-157 1 62 1 46 1-60 1-20 1 14 1-30 1-7 1 46 1 6 1 16 1-37 1-78 1-52 1 40 1 86 1 38 1-29 1-45 1 122 1 128 1-200 1-8 1-58 1 141 1-25 1-88 1 38 1-59 1 76 1 166 1-85 1-170 1-77 1 23 1 125 1 247 1-164 1 19 1-145 1-31 1-14 1 84 1-77 1-13 1 103 1 60 1-12 1-47 1-241 1 75 1-59 1 159 1-120 1 36 1 169 1-79 1 52 1 0 1 72 1-81 1-119 1 37 1 28 1 119 1-58 1-89 1 234 1 34 1-37 1-42 1-47 1-67 1 47 1-42 1-189 1 223 1 122 1-185 1 21 1-7 1-52 1 25 1 88 1-89 1 155 1-28 1-102 1 51 1 144 1-168 1-49 1 107 1-13 1 3 1 26 1 20 1-3 1 54 1-132 1-321 1 432 1-118 1 21 1 60 1-116 1 83 1-61 1 43 1-172 1-4 1-21 1-127 1 212 1 266 1-151 1-41 1-75 1-2 1 1 1 74 1-6 1 172 1-234 1 66 1 23 1-18 1 57 1-218 1 82 1 78 1-76 1 10 1 13 1-11 1 99 1-72 1 45 1-35 1-140 1 179 1-8 1-276 1 212 1 117 1 40 1-87 1 63 1 68 1 35 1-153 1-16 1 21 1 37 1-11 1-218 1 124 1 62 1-48 1-1 1 117 1 27 1 78 1 9 1-191 1-10 1-22 1-70 1 98 1 39 1 4 1-22 1 24 1-46 1-14 1-97 1 105 1-171 1-142 1 111 1 203 1 21 1 20 1 11 1-185 1 141 1-46 1 43 1 39 1-153 1 150 1-13 1-45 1 70 1-51 1 50 1 81 1 0 1-110 1-39 1-57 1-54 1 91 1 34 1-72 1-79 1-41 1 234 1 51 1-26 1-311 1 92 1-10 1-1 1 117 1 48 1-53 1 62 1-347 1 178 1 120 1-101 1 72 1 129 1 14 1-29 1 143 1-38 1-187 1-62 1 140 1 198 1-241 1-44 1 111 1 132 1-58 1 48 1-213 1-2 1 197 1-71 1-55 1-8 1 72 1-56 1 82 1-113 1 72 1-14 1-89 1 9 1 111 1 225 1-341 1 48 1 56 1-37 1-109 1-174 1 114 1-46 1 113 1 39 1-53 1 68 1-73 1-144 1 170 1-8 1 6 1 131 1-57 1 84 1 152 1-85 1-110 1-93 1-83 1-42 1 34 1 101 1 70 1 42 1 72 1-135 1-139 1-86 1 66 1 104 1 155 1-117 1-50 1 45 1 83 1-82 1-150 1-230 1 22 1 365 1-21 1-123 1-32 1-88 1 37 1 204 1 96 1-84 1-459 1 314 1 158 1 85 1-71 1 9 1 106 1-99 1-55 1-235 1 187 1 100 1 2 1 65 1-58 1-67 1 28 1-8 1 6 1 46 1-26 1-68 1-9 1 13 1 20 1-12 1 36 1 137 1-48 1-66 1 28 1 1 1-107 1-109 1 119 1-20 1 59 1-23 1 26 1-6 1-79 1 58 1 29 1-75 1 60 1 7 1-100 1 44 1 27 1 57 1-107 1 67 1 36 1-92 1 110 1-67 1-152 1 56 1 108 1-36 1 100 1 60 1-77 1-52 1 16 1-41 1 45 1 3 1-114 1 45 1 22 1-91 1 92 1 121 1 36 1-134 1-24 1 54 1-176 1 119 1 26 1-11 1-75 1-118 1 185 1 5 1-67 1 114 1-90 1 12 1 5 1-96 1 168 1-101 1 23 1-158 1 210 1-34 1 11 1 10 1 79 1-74 1-84 1 121 1 0 1-63 1 90 1-35 1 99 1-10 1-71 1-62 1 45 1 94 1-85 1 18 1-7 1-41 1-9 1-131 1-118 1 87 1 191 1 29 1-57 1 5 1 35 1 19 1-62 1-34 1-41 1 30 1-244 1 352 1-46 1 47 1-48 1-13 1 41 1-99 1 14 1 34 1 58 1-13 1 59 1-46 1-134 1 31 1 126 1 63 1-90 1 46 1-83 1 21 1-1 1-68 1 35 1 85 1-289 1 144 1 82 1 48 1-92 1-24 1 109 1 7 1-53 1-38 1 15 1 4 1-50 1 49 1 18 1 31 1 51 1-57 1-39 1-38 1-56 1 37 1 35 1 56 1-26 1-57 1 97 1 97 1-126 1-67 1 57 1-46 1-68 1-80 1 182 1-1 1 8 1-20 1-73 1-49 1 67 1 102 1 16 1-48 1 72 1-133 1 53 1 58 1-6 1-40 1 139 1-31 1-87 1-121 1 10 1 4 1 175 1 12 1-98 1 89 1-12 1-246 1 53 1 147 1 52 1-93 1-38 1 24 1 10 1-27 1 23 1-23 1-40 1-168 1 345 1-110 1-156 1 128 1 29 1-168 1 73 1 91 1-4 1 57 1 5 1-44 1 29 1 121 1 30 1-80 1-59 1-86 1 50 1 38 1-17 1-96 1 28 1 118 1-82 1-97 1 63 1-127 1 138 1 74 1-19 1-133 1 16 1 11 1-35 1 62 1 56 1-40 1-2" fill="none" stroke="#0000ff" stroke-width="0.48" stroke-linejoin="round" vector-effect="non-scaling-stroke"/>
<rect x="836.30" y="331.10" width="603.15" height="204.90" fill="#00008f"/>
<g transform="translate(837.5 331)" fill="none" stroke-width="1" shape-rendering="crispEdges"><path stroke="#000097" d="M5 19v2M5 35v3M5 40v2M7 85v2M9 130v2M11 7v2M12 24v2M13 118v2M13 181v15M14 130v2M14 167v3M15 97v2M15 123v2M15 148v3M15 153v3M16 130v2M17 137v2M19 90v2M20 87v3M20 153v3M21 104v2M21 158v2M22 113v2M23 165v2M25 68v3M25 134v3M26 80v2M27 45v4M28 42v3M29 12v2M31 33v2M32 71v2M32 165v2M33 137v2M33 153v5M39 174v10M39 198v7M40 156v2M41 24v2M41 87v7M43 0v2M46 153v3M47 75v5M49 132v7M49 163v4M51 87v3M53 200v3M54 200v3M55 90v2M56 99v2M57 16v5M57 189v2M58 0v14M58 132v5M58 177v2M105 146v5M105 172v5M106 148v8M106 167v7M113 170v4M114 153v3M114 191v2M115 141v3M117 191v2M119 146v2M119 179v2M120 160v3M120 165v2M130 123v2M131 125v2M132 66v2M132 108v5M134 172v2M134 186v7M136 146v2M140 113v2M141 9v7M141 78v7M142 9v7M142 78v7M144 127v3M145 137v2M146 33v2M146 104v2M147 163v2M148 49v3M149 172v2M151 186v3M152 94v3M152 189v2M153 68v3M154 68v3M154 189v2M155 90v2M158 21v7M158 35v7M158 127v3M158 158v5M159 14v7M159 42v5M161 167v5M161 184v5M162 198v7M164 101v3M165 85v2M166 75v3M173 90v2M174 137v7M177 167v5M177 198v7M180 153v3M180 181v8M182 104v4M183 7v2M183 59v2M185 9v3M185 94v7M185 104v4M187 137v2M188 144v2M190 189v7M194 146v2M195 118v2M195 193v3M201 148v3M203 193v5M207 94v3M208 153v3M209 92v2M209 160v3M210 130v2M210 170v2M211 151v2M211 174v5M212 170v7M224 106v2M225 68v3M225 153v3M226 40v2M227 40v2M228 73v2M229 141v3M229 181v3M230 163v2M235 170v4M237 151v2M237 186v3M238 148v3M238 186v3M239 156v2M240 167v3M240 172v2M278 141v5M278 153v7M279 144v4M279 151v7M324 111v7M325 71v2M326 54v3M326 151v2M327 28v5M327 151v2M328 49v3M328 78v4M328 130v2M335 156v2M335 174v3M336 179v2M338 141v3M340 118v2M341 90v2M341 167v3M342 148v5M343 90v4M346 19v2M347 28v3M348 24v2M370 101v7M370 156v4M371 68v3M371 156v2M372 75v5M372 141v3M376 47v2M377 111v7M378 127v5M379 0v24M379 45v2M404 177v4M406 160v3M406 186v3M407 186v3M408 186v3M409 151v2M409 184v2M411 181v3M412 179v2M415 130v2M415 170v2M417 163v2M418 144v2M418 156v2M450 167v3M451 75v3M451 174v3M452 163v4M460 42v3M460 125v2M460 200v3M462 9v3M462 200v3M463 31v2M464 94v10M465 139v2M471 97v2M471 132v5M472 94v3M472 123v4M475 108v5M475 118v7M476 139v2M477 146v2M478 104v2M478 144v2M479 132v2M481 101v3M481 125v5M482 127v3M497 139v2M497 163v2M498 141v3M498 160v3M505 120v5M505 132v5M506 120v5M506 132v5M521 160v5M521 189v2M523 196v2M525 151v2M527 196v2M528 160v3M529 170v2M529 189v2M548 115v12M549 106v5M549 130v7M557 130v2M557 158v2M558 123v2M558 165v2M559 125v2M559 165v5"/><path stroke="#0000a7" d="M5 33v2M5 42v3M5 92v2M8 115v3M10 134v3M11 132v2M12 125v2M14 120v10M15 94v3M15 125v2M15 146v2M15 156v2M16 87v3M17 90v2M18 90v2M18 144v2M19 28v3M20 35v3M21 0v24M24 153v3M25 59v2M25 144v2M26 59v2M26 200v5M27 42v3M27 92v2M29 14v2M30 12v2M31 35v3M32 73v2M33 139v2M33 148v5M39 184v14M40 5v2M40 158v2M41 94v5M42 35v3M43 49v3M43 90v2M44 68v3M45 21v3M46 38v2M46 156v2M47 80v7M47 108v5M49 139v9M49 156v7M50 104v2M50 186v3M52 80v2M54 82v3M55 198v2M56 193v3M57 14v2M57 111v2M58 137v2M58 174v3M105 151v5M105 167v5M106 156v4M106 163v4M113 174v10M114 189v2M116 132v2M117 189v2M118 137v2M118 184v2M119 148v3M119 177v2M120 163v2M129 38v2M129 99v5M130 120v3M131 38v2M131 123v2M132 68v7M132 106v2M134 174v12M135 158v2M137 137v2M141 16v8M141 71v7M141 106v2M142 16v8M142 71v7M142 106v2M143 118v2M145 139v2M146 35v3M146 151v2M147 31v4M149 170v2M150 90v2M150 181v3M151 104v2M152 97v2M153 71v2M153 189v2M154 71v2M156 106v2M156 184v2M157 177v2M158 28v7M158 130v2M158 156v2M159 21v5M159 35v7M161 172v2M161 179v5M162 158v2M162 193v5M167 64v2M168 49v3M169 49v3M170 64v2M172 82v3M174 104v9M174 132v5M176 158v2M177 172v2M177 193v5M180 156v2M180 174v7M181 134v3M182 108v3M183 9v3M183 40v19M183 61v3M185 12v2M185 87v7M185 108v3M186 130v2M189 153v3M190 163v7M190 184v5M194 144v2M195 189v4M196 203v2M202 203v2M203 163v2M203 191v2M209 94v3M210 132v2M210 167v3M211 153v3M211 172v2M224 108v3M224 139v2M226 42v3M227 42v3M228 75v3M229 144v2M230 165v2M230 181v3M236 160v3M236 181v3M237 153v3M238 151v2M239 158v2M239 181v3M240 170v2M278 146v7M279 148v3M325 73v2M325 139v2M327 33v5M327 148v3M328 45v4M328 82v3M328 127v3M335 158v2M337 179v2M338 179v2M339 134v3M339 177v2M340 120v3M341 92v2M341 165v2M342 75v5M342 146v2M343 94v5M343 125v2M346 16v3M348 21v3M370 108v10M370 153v3M371 71v7M371 153v3M372 80v5M372 139v2M376 45v2M377 104v7M378 125v2M379 24v7M379 40v5M405 167v5M405 181v3M406 163v2M406 184v2M407 158v2M407 184v2M408 184v2M410 148v3M411 146v2M412 177v2M413 174v3M414 172v2M416 123v2M416 165v2M417 118v2M417 160v3M418 146v10M450 92v2M450 165v2M451 78v2M451 172v2M452 68v5M452 160v3M458 148v3M458 189v4M459 196v2M460 40v2M461 200v3M463 33v2M463 196v2M464 104v11M464 191v2M465 181v3M471 99v2M471 130v2M472 97v2M472 115v8M475 113v5M476 94v3M476 137v2M477 144v2M479 115v5M479 130v2M481 104v4M481 123v2M482 94v3M482 123v4M497 141v3M497 158v5M498 144v2M498 158v2M505 125v7M506 125v7M521 165v5M521 186v3M522 158v2M522 191v2M523 153v3M523 193v3M524 148v5M524 196v2M526 196v2M527 158v2M527 193v3M528 163v2M528 191v2M529 172v2M529 184v5M549 111v4M549 125v5M557 132v2M557 153v5M558 125v2M558 163v2M559 127v3M559 163v2M560 134v3M560 158v2"/><path stroke="#0000b7" d="M5 21v12M5 90v2M6 92v2M7 82v3M8 113v2M9 127v3M10 132v2M13 33v2M14 108v3M14 170v2M14 203v2M15 19v9M15 92v2M15 144v2M15 158v2M16 132v2M17 139v2M22 163v2M24 127v3M26 179v2M26 196v4M27 40v2M28 45v2M29 16v3M30 14v2M30 174v3M31 38v2M31 170v2M32 75v3M32 163v2M33 141v7M40 160v3M41 21v3M41 99v2M42 87v3M43 47v2M44 12v2M44 66v2M44 97v2M45 101v7M46 40v2M46 111v2M46 158v5M46 200v5M47 87v7M47 106v2M49 148v8M50 106v2M50 184v2M51 191v2M52 196v2M53 78v2M53 198v2M54 198v2M55 92v2M57 2v12M58 139v5M58 172v2M105 156v4M105 163v4M106 160v3M114 156v2M114 186v3M115 144v2M115 191v2M116 134v3M116 191v2M117 130v2M119 174v3M129 40v2M129 97v2M130 26v2M130 118v2M131 40v2M131 120v3M132 75v5M132 97v9M136 148v3M138 130v2M139 123v2M140 115v3M141 24v9M141 66v5M142 24v9M142 66v5M142 108v3M146 38v2M147 165v2M147 200v5M148 52v2M148 118v2M149 71v2M149 123v2M149 167v3M152 99v2M153 73v2M154 73v2M155 92v2M155 186v3M157 113v2M157 174v3M158 151v5M159 26v9M161 174v5M162 160v3M162 191v2M163 151v2M164 146v2M165 87v3M168 52v2M169 52v2M173 92v2M174 113v7M174 127v5M174 146v2M175 151v2M176 160v3M177 174v19M180 158v5M180 167v7M181 137v2M181 198v7M182 111v2M183 12v4M183 19v21M183 64v4M184 2v3M185 14v2M185 80v7M185 111v2M189 203v2M190 170v14M193 106v2M193 132v2M194 111v2M195 184v5M196 200v3M202 156v2M202 200v3M203 189v2M207 97v2M207 144v2M208 82v3M208 151v2M209 158v2M210 134v3M210 165v2M211 156v2M211 167v5M224 111v2M224 134v5M225 71v2M225 151v2M226 45v2M226 160v3M227 45v2M227 167v3M228 78v2M228 174v3M229 146v2M229 179v2M230 167v3M230 179v2M236 163v2M236 179v2M237 156v2M237 184v2M238 153v3M238 184v2M239 160v3M239 179v2M325 137v2M326 57v2M326 148v3M327 38v4M327 146v2M328 14v31M328 85v2M328 125v2M335 160v3M335 172v2M336 177v2M340 172v2M341 94v3M341 163v2M342 80v2M342 144v2M343 99v5M343 123v2M346 14v2M347 26v2M370 118v7M370 151v2M371 78v4M371 151v2M372 85v7M372 137v2M376 42v3M377 82v22M378 120v5M379 31v9M405 172v9M406 165v2M406 181v3M407 160v3M408 156v2M409 153v3M410 181v3M411 179v2M412 144v2M414 137v2M414 170v2M415 132v2M415 167v3M416 125v2M416 163v2M417 120v5M417 158v2M450 94v3M450 163v2M451 80v2M451 170v2M452 73v2M452 158v2M458 186v3M459 137v2M460 38v2M460 198v2M461 71v14M462 12v2M462 198v2M463 35v3M464 115v8M464 189v2M465 141v3M465 179v2M471 101v3M471 125v5M472 99v5M472 106v9M476 134v3M477 99v2M478 106v2M478 141v3M479 120v10M481 108v15M482 97v4M482 120v3M497 144v4M497 156v2M498 146v2M498 156v2M521 170v4M521 177v9M522 189v2M523 156v2M525 153v3M525 196v2M526 156v2M528 165v2M528 189v2M529 174v10M549 115v10M557 134v3M557 151v2M558 127v3M558 160v3M560 137v4M560 153v5"/><path stroke="#0000c7" d="M5 45v2M5 87v3M8 108v5M11 9v3M11 130v2M14 42v3M14 172v2M14 198v5M15 12v7M15 28v3M15 127v5M15 141v3M15 160v3M19 151v2M20 85v2M21 24v2M21 101v3M22 111v2M24 156v2M25 57v2M25 146v2M26 57v2M26 82v3M26 181v15M27 38v2M28 47v2M29 19v2M30 16v3M31 40v2M32 78v4M40 2v3M40 163v2M40 203v2M41 101v5M43 92v2M45 97v4M45 108v3M46 42v3M46 108v3M46 163v4M46 196v4M47 94v12M50 108v3M50 181v3M52 82v3M54 85v2M55 196v2M56 101v3M57 0v2M57 113v2M58 144v4M58 167v5M105 160v3M114 158v2M115 146v2M115 189v2M116 189v2M117 132v2M117 186v3M118 139v2M119 151v2M119 172v2M129 94v3M130 28v3M130 115v3M131 118v2M132 80v17M135 160v3M137 139v2M141 33v7M141 42v24M141 108v3M142 33v7M142 42v24M143 120v3M144 130v2M145 141v3M146 101v3M147 35v3M147 167v3M147 196v4M149 165v2M150 179v2M152 101v3M152 186v3M153 75v3M154 75v3M154 186v3M155 94v3M156 181v3M157 172v2M158 132v19M162 189v2M163 198v7M164 104v7M164 139v7M165 90v2M166 78v2M167 66v2M170 66v2M171 75v3M174 120v7M176 198v7M180 163v4M181 193v5M182 113v2M183 16v3M183 68v5M184 5v2M185 16v15M185 73v7M185 113v2M187 139v2M188 146v2M189 198v5M193 108v3M194 113v2M194 141v3M195 120v3M195 177v7M196 127v3M196 198v2M197 132v2M203 165v2M203 186v3M207 99v2M207 141v3M208 85v2M209 97v2M210 137v4M210 163v2M211 158v9M224 113v2M224 130v4M225 73v2M226 47v2M227 47v2M228 80v5M229 148v3M229 177v2M230 170v4M230 177v2M236 165v2M236 174v5M237 158v2M237 181v3M238 156v2M238 181v3M239 163v2M239 177v2M325 75v3M326 59v2M326 146v2M327 42v3M327 144v2M328 87v5M328 123v2M335 163v4M336 153v3M336 174v3M337 148v3M337 177v2M338 177v2M339 174v3M341 160v3M342 82v5M342 141v3M343 104v11M346 12v2M347 24v2M348 19v2M370 125v12M370 146v5M371 82v3M371 148v3M372 92v9M372 134v3M377 71v11M378 113v7M406 167v3M406 172v9M407 163v2M407 181v3M408 158v2M408 181v3M409 181v3M410 151v2M410 179v2M411 177v2M412 174v3M413 141v3M413 172v2M415 165v2M416 127v3M417 125v2M417 137v4M417 153v5M450 160v3M451 82v3M451 167v3M452 75v5M452 156v2M458 151v2M458 184v2M460 35v3M460 127v3M461 68v3M461 85v21M461 198v2M463 38v2M464 123v2M465 144v2M465 174v5M471 104v11M471 120v5M472 104v2M476 97v2M476 132v2M477 141v3M478 139v2M482 101v3M482 108v12M497 153v3M498 148v3M498 153v3M521 174v3M522 160v5M523 191v2M524 153v3M524 193v3M525 193v3M526 158v2M526 193v3M527 160v3M527 191v2M528 167v5M557 137v7M557 148v3M558 130v2M558 158v2M559 130v2M559 160v3M560 141v3M560 148v5"/><path stroke="#0000d7" d="M5 47v2M6 90v2M8 106v2M9 125v2M12 26v2M12 123v2M14 174v3M14 193v5M15 2v10M15 31v2M15 87v5M15 132v9M15 163v2M16 85v2M16 134v3M18 146v2M19 31v2M19 87v3M20 156v2M23 120v3M24 158v9M25 54v3M25 71v2M25 203v2M26 54v3M27 35v3M27 94v3M28 49v3M29 21v3M29 177v2M30 19v2M31 42v3M32 82v3M32 160v3M40 165v5M40 198v5M41 19v2M41 106v9M42 33v2M42 90v2M43 2v3M43 45v2M44 64v2M45 24v2M45 92v5M45 111v2M46 106v2M46 167v7M46 179v17M50 179v2M51 90v2M51 189v2M52 193v3M53 80v2M56 191v2M57 186v3M58 148v5M58 165v2M114 160v3M114 184v2M115 148v3M116 137v2M117 134v3M118 141v3M118 181v3M119 153v3M119 170v2M129 42v3M129 92v2M130 31v2M130 111v4M131 42v3M131 115v3M135 163v2M135 203v2M138 132v2M141 40v2M141 111v2M142 40v2M142 111v2M146 40v2M146 99v2M146 153v3M147 191v5M148 54v3M149 73v2M149 125v2M149 163v2M150 92v2M150 177v2M151 184v2M153 78v2M153 186v3M154 78v2M157 170v2M162 163v4M162 186v3M163 153v3M163 196v2M164 111v7M164 130v9M165 92v2M168 54v3M169 54v3M175 153v3M176 163v4M176 193v5M181 139v2M181 189v4M182 115v5M183 73v5M184 7v2M185 31v16M185 66v7M185 115v5M186 132v2M189 156v2M189 193v5M193 111v4M193 130v2M195 172v5M196 196v2M197 203v2M198 137v2M199 141v3M200 146v2M201 203v2M202 158v2M202 196v4M203 181v5M207 137v4M208 87v3M209 99v2M209 156v2M210 141v5M210 160v3M224 115v3M224 127v3M225 75v3M225 148v3M227 165v2M228 85v2M228 172v2M229 151v2M230 174v3M236 167v7M237 160v3M238 158v2M239 165v2M239 172v5M325 78v2M325 134v3M327 45v2M328 92v2M328 120v3M335 167v5M339 137v2M340 123v2M340 170v2M341 97v2M341 158v2M342 87v3M343 115v8M346 7v5M348 16v3M370 137v9M371 85v7M372 101v10M372 132v2M376 40v2M377 68v3M378 104v9M406 170v2M407 165v2M407 177v4M408 160v3M408 179v2M409 156v2M409 179v2M410 177v2M411 148v3M411 174v3M412 146v2M413 170v2M414 139v2M414 167v3M415 134v3M415 163v2M416 158v5M417 127v10M417 141v12M450 97v2M450 156v4M451 165v2M452 80v2M452 153v3M458 153v3M458 179v5M459 139v2M459 193v3M460 33v2M460 196v2M461 66v2M461 106v5M462 14v2M462 196v2M463 40v2M463 193v3M464 125v2M464 186v3M465 172v2M471 115v5M476 99v2M476 130v2M477 139v2M478 108v3M478 137v2M482 104v4M497 148v5M498 151v2M522 165v5M522 181v8M523 158v2M523 189v2M524 156v2M524 191v2M525 156v2M526 191v2M527 163v4M527 189v2M528 172v2M528 179v10M557 144v4M558 132v2M558 156v2M559 132v2M559 158v2M560 144v4"/><path stroke="#0000e7" d="M5 85v2M7 80v2M8 104v2M10 130v2M11 12v2M13 115v3M14 177v4M14 184v9M15 0v2M15 33v2M15 85v2M15 165v2M16 137v2M17 87v3M17 141v3M18 87v3M20 82v3M21 99v2M21 160v3M23 167v3M24 59v2M24 167v5M25 148v3M25 200v3M26 139v2M27 31v4M28 52v2M29 24v2M30 21v3M31 45v2M32 85v2M40 170v4M40 189v9M41 115v5M42 31v2M42 92v2M44 14v2M44 61v3M44 99v2M45 26v2M45 87v5M45 113v2M45 200v5M46 45v2M46 104v2M46 174v5M50 111v2M50 177v2M51 92v2M53 196v2M54 196v2M55 94v3M57 115v3M57 184v2M58 153v12M114 163v7M115 151v2M115 186v3M116 139v2M116 186v3M117 137v2M119 156v4M119 167v3M129 45v2M129 90v2M130 33v2M130 108v3M131 45v2M131 111v4M135 198v5M136 151v2M139 125v2M140 118v2M142 113v2M143 123v2M144 132v2M145 144v2M146 42v3M146 97v2M147 38v2M147 111v2M147 170v2M147 189v2M149 160v3M151 106v2M151 181v3M153 80v2M154 80v2M155 97v2M155 184v2M156 179v2M157 167v3M162 167v3M162 181v5M163 193v3M164 118v12M164 200v5M166 80v2M167 68v3M170 68v3M172 85v2M173 94v3M175 200v5M176 167v3M176 189v4M181 141v3M181 186v3M182 120v3M182 200v5M183 78v4M184 9v3M185 47v19M185 120v3M188 148v3M188 203v2M189 158v2M189 189v4M193 115v5M194 115v3M194 139v2M195 163v9M196 193v3M201 151v2M202 193v3M203 174v7M207 101v3M207 134v3M208 90v2M208 148v3M209 101v3M210 146v2M210 158v2M224 118v2M224 123v4M226 49v3M226 158v2M227 49v3M228 87v5M228 170v2M229 153v5M229 174v3M237 163v2M237 177v4M238 160v5M238 177v4M239 167v5M325 80v2M325 132v2M326 61v3M326 144v2M327 47v5M327 141v3M328 94v3M328 118v2M336 156v2M336 172v2M337 174v3M338 144v2M338 174v3M339 172v2M340 167v3M341 99v2M341 156v2M342 90v2M342 139v2M346 2v5M347 21v3M371 92v5M371 146v2M372 111v9M372 130v2M376 38v2M377 64v4M378 73v31M407 167v10M408 163v2M408 174v5M409 158v2M409 177v2M410 153v3M410 174v3M411 151v2M412 172v2M413 144v2M413 167v3M414 165v2M415 160v3M416 130v4M416 156v2M450 99v2M450 153v3M451 85v2M451 163v2M452 82v5M452 148v5M458 156v9M458 172v7M460 31v2M460 130v2M461 0v2M461 64v2M461 111v7M461 196v2M462 16v3M463 42v3M464 127v3M465 146v2M465 170v2M477 101v3M477 137v2M478 111v2M478 134v3M522 170v11M523 160v5M524 158v2M524 189v2M525 158v2M525 191v2M526 160v3M526 189v2M527 167v3M528 174v5M558 153v3M559 134v3M559 153v5"/><path stroke="#0000f7" d="M5 49v3M5 82v3M6 87v3M8 99v5M9 123v2M11 14v2M11 127v3M13 35v3M14 45v2M14 106v2M14 181v3M15 35v5M15 82v3M15 167v3M15 200v5M16 82v3M16 139v2M16 151v2M18 148v3M19 33v2M20 38v2M21 97v2M22 165v2M24 57v2M25 52v2M25 73v2M25 196v4M26 52v2M26 85v2M26 137v2M27 19v12M27 97v2M28 54v10M29 26v2M30 24v2M30 172v2M31 47v2M31 167v3M32 87v5M40 0v2M40 174v15M41 16v3M41 120v12M41 200v5M43 42v3M43 94v3M44 59v2M45 28v3M45 80v7M45 115v3M45 196v4M46 47v7M46 97v7M50 113v2M51 94v3M52 85v2M53 82v3M54 87v3M55 193v3M56 104v2M56 189v2M57 118v2M57 181v3M114 170v9M114 181v3M115 153v3M116 141v3M117 139v2M117 184v2M118 144v2M118 177v4M119 160v3M119 165v2M129 47v2M129 87v3M130 106v2M131 47v2M131 108v3M135 165v2M135 196v2M137 141v3M141 113v2M142 115v3M146 94v3M146 156v2M147 40v2M147 172v17M149 127v3M149 158v2M150 174v3M152 184v2M156 108v3M156 177v2M157 115v3M162 170v4M162 177v4M163 156v2M163 189v4M164 148v3M164 196v4M165 94v3M165 203v2M168 57v2M169 57v2M169 118v9M171 78v2M174 148v3M174 203v2M175 156v2M175 196v4M176 170v4M176 184v5M181 144v2M181 184v2M182 123v2M182 196v4M183 82v8M185 123v2M187 141v3M188 198v5M189 186v3M193 120v10M195 123v2M195 151v12M196 191v2M197 200v3M198 203v2M200 203v2M201 200v3M203 167v7M207 104v7M208 92v2M209 104v7M209 153v3M210 148v10M224 120v3M225 78v2M225 146v2M226 52v2M227 52v2M227 163v2M228 92v2M229 158v5M229 170v4M237 165v5M237 172v5M238 165v5M238 172v5M325 82v3M326 64v2M327 52v9M328 97v2M328 115v3M336 158v2M337 151v2M339 139v2M340 125v2M340 165v2M341 101v3M341 153v3M342 92v2M342 137v2M346 0v2M348 14v2M371 97v4M371 141v5M372 120v10M376 35v3M377 61v3M378 68v5M408 165v9M409 160v5M409 172v5M410 156v2M410 172v2M411 170v4M412 148v3M412 167v5M413 165v2M414 141v3M414 163v2M415 137v2M415 158v2M416 134v5M416 148v8M450 101v3M450 151v2M451 87v3M451 158v5M452 87v7M452 139v9M458 165v7M459 141v3M459 191v2M460 26v5M461 2v3M461 61v3M461 118v5M463 45v2M463 191v2M464 130v2M464 184v2M465 148v3M465 165v5M476 101v7M476 125v5M477 134v3M478 113v2M478 132v2M523 165v5M523 181v8M524 160v5M525 160v3M525 189v2M526 163v4M527 170v4M527 179v10M558 134v5M558 151v2M559 137v4M559 151v2"/><path stroke="#0008ff" d="M5 80v2M6 0v2M7 78v2M8 97v2M15 40v5M15 80v2M15 170v2M15 198v2M16 141v10M16 153v5M17 144v2M19 85v2M19 153v3M20 80v2M20 158v2M22 108v3M23 118v2M24 54v3M24 61v3M24 172v2M24 203v2M25 132v2M25 151v2M25 179v2M25 191v5M27 2v17M28 64v54M29 28v3M29 174v3M30 26v2M31 49v3M32 92v2M32 158v2M41 14v2M41 132v14M41 196v4M42 28v3M42 94v3M42 203v2M43 5v2M43 203v2M44 16v3M44 57v2M44 200v5M45 31v2M45 75v5M45 118v2M45 191v5M46 54v10M46 82v15M50 172v5M51 186v3M52 191v2M53 193v3M57 179v2M114 179v2M115 156v2M115 184v2M116 184v2M118 146v5M118 174v3M119 163v2M129 49v3M129 85v2M130 35v3M130 101v5M131 49v3M131 104v4M135 167v3M135 191v5M136 153v3M138 134v3M139 127v3M140 120v3M141 115v3M143 125v2M144 134v3M145 146v2M146 45v2M146 92v2M146 158v2M148 57v2M149 75v3M149 156v2M150 94v3M150 172v2M151 179v2M152 104v2M153 82v3M153 184v2M154 82v3M154 184v2M155 99v2M155 181v3M157 118v2M157 165v2M162 174v3M163 158v2M163 186v3M164 193v3M165 200v3M166 82v3M167 71v2M168 59v2M169 59v2M169 111v7M172 87v3M173 97v2M174 200v3M175 158v2M175 193v3M176 174v10M181 146v5M181 179v5M182 125v2M182 193v3M183 90v7M183 203v2M184 12v2M185 125v2M186 134v3M187 203v2M188 151v2M188 196v2M189 160v3M189 184v2M194 118v2M194 137v2M195 148v3M196 189v2M197 198v2M198 139v2M198 200v3M199 203v2M200 200v3M201 153v3M201 198v2M202 160v3M202 191v2M207 111v7M207 130v4M208 94v3M208 146v2M209 111v7M209 151v2M225 80v5M226 54v3M226 156v2M227 54v3M228 94v3M228 167v3M229 163v7M237 170v2M238 170v2M325 85v2M325 130v2M326 141v3M327 61v3M327 139v2M328 99v2M328 108v7M336 160v12M337 172v2M338 172v2M339 170v2M340 160v5M341 104v4M341 151v2M342 94v5M347 19v2M371 101v10M371 137v4M376 31v4M377 59v2M378 64v4M409 165v7M410 158v14M411 153v5M411 167v3M412 151v2M412 165v2M413 146v5M413 163v2M414 144v2M414 158v5M415 139v5M415 151v7M416 139v9M450 104v7M450 144v7M451 90v4M451 156v2M452 94v7M452 132v7M459 189v2M460 0v2M460 21v5M460 132v2M460 193v3M461 59v2M462 19v2M462 193v3M463 47v5M463 189v2M464 132v2M464 181v3M465 151v2M465 160v5M476 108v17M477 104v4M477 132v2M478 115v5M478 127v5M523 170v11M524 165v5M524 181v8M525 163v7M525 184v5M526 167v5M526 181v8M527 174v5M558 139v5M558 146v5M559 141v3M559 146v5"/><path stroke="#0018ff" d="M5 52v2M5 78v2M6 2v3M6 85v2M8 92v5M9 120v3M10 127v3M11 16v3M12 28v3M12 120v3M14 104v2M15 45v21M15 78v2M15 172v2M15 193v5M16 80v2M16 158v2M16 203v2M17 85v2M17 146v2M18 85v2M18 151v2M19 35v3M21 26v2M21 94v3M21 163v2M24 52v2M24 125v2M24 200v3M25 49v3M25 174v5M25 181v10M26 49v3M26 141v3M27 0v2M27 99v2M28 118v5M28 177v2M29 31v4M30 28v3M31 52v2M31 165v2M32 94v3M32 156v2M41 146v7M41 191v5M42 97v2M42 198v5M43 40v2M43 97v2M43 200v3M44 52v5M44 196v4M45 33v2M45 71v4M45 120v10M45 184v7M46 64v18M50 115v5M50 170v2M51 97v2M52 87v3M53 85v2M54 90v2M54 193v3M55 97v2M55 191v2M56 106v2M57 120v3M115 158v2M116 144v4M117 141v3M117 181v3M118 151v2M118 172v2M129 52v2M129 82v3M130 38v2M130 99v2M131 101v3M135 189v2M137 144v2M142 118v2M146 47v2M146 90v2M146 160v3M146 200v5M147 42v3M149 130v2M149 153v3M150 170v2M152 181v3M153 85v2M154 85v2M155 179v2M156 174v3M157 163v2M163 160v3M163 184v2M164 191v2M165 97v2M165 196v4M166 200v5M167 73v2M169 127v3M170 71v2M171 80v2M173 200v5M174 196v4M175 160v3M175 189v4M181 151v5M181 174v5M182 127v3M182 191v2M183 97v9M183 198v5M184 14v21M184 97v9M184 203v2M186 203v2M187 200v3M188 193v3M189 174v10M194 120v3M195 125v2M196 130v2M196 184v5M197 134v3M197 196v2M199 144v2M199 200v3M200 148v3M201 196v2M202 189v2M207 118v7M207 127v3M208 97v2M208 144v2M209 118v7M209 148v3M225 85v2M225 144v2M227 160v3M228 97v4M228 165v2M325 87v3M325 127v3M326 66v2M326 139v2M327 64v4M327 137v2M328 101v7M337 153v3M338 146v2M339 167v3M340 127v3M340 158v2M341 108v3M341 148v3M342 99v2M342 134v3M347 16v3M348 12v2M371 111v12M371 130v7M376 24v7M377 57v2M378 59v5M411 158v9M412 153v12M413 151v12M414 146v12M415 144v7M450 111v9M450 134v10M451 94v3M451 153v3M452 101v31M459 144v2M459 186v3M460 2v10M460 14v7M461 5v2M461 54v5M461 123v2M461 193v3M462 21v3M463 52v2M464 134v3M465 153v7M477 108v5M477 130v2M478 120v7M524 170v11M525 170v4M525 177v7M526 172v9M558 144v2M559 144v2"/><path stroke="#0028ff" d="M5 54v7M5 75v3M6 5v2M7 75v3M8 90v2M11 125v2M13 38v2M13 113v2M14 47v2M15 66v5M15 73v5M15 174v3M15 189v4M16 160v3M16 200v3M17 148v5M19 82v3M19 156v2M20 78v2M23 170v2M24 49v3M24 174v3M24 198v2M25 42v7M25 75v3M25 153v3M25 172v2M26 45v4M26 87v3M26 177v2M27 177v2M28 123v2M29 35v3M30 31v4M30 170v2M31 54v3M31 163v2M32 97v4M32 151v5M41 12v2M41 153v7M41 181v10M42 26v2M42 99v2M42 196v2M43 7v2M43 38v2M43 196v4M44 19v2M44 49v3M44 101v3M44 193v3M45 35v3M45 66v5M45 130v18M45 174v10M50 120v3M50 167v3M51 99v2M51 184v2M52 189v2M56 186v3M57 123v2M57 177v2M115 160v7M115 181v3M116 148v5M116 181v3M117 144v4M117 179v2M118 153v5M118 167v5M129 54v3M129 78v4M130 40v2M130 97v2M131 52v2M131 97v4M135 170v2M135 179v10M136 156v2M137 146v2M140 123v2M141 118v2M142 120v3M143 127v3M144 137v2M145 148v3M146 49v3M146 87v3M146 198v2M147 45v2M147 108v3M148 59v2M148 115v3M149 78v2M149 146v7M150 167v3M151 108v3M151 177v2M153 87v3M153 181v3M154 87v3M154 181v3M155 101v3M156 172v2M157 120v3M157 160v3M163 163v2M163 181v3M164 151v2M164 189v2M165 193v3M166 85v2M166 198v2M167 203v2M168 61v3M168 203v2M169 61v3M171 203v2M172 90v2M172 203v2M173 99v2M173 198v2M174 151v2M174 193v3M175 163v2M175 186v3M181 156v4M181 167v7M182 130v4M182 189v2M183 106v5M183 196v2M184 35v62M184 106v5M184 200v3M185 127v3M185 203v2M186 200v3M187 144v2M187 196v4M188 153v3M188 189v4M189 163v11M194 134v3M195 146v2M196 179v5M197 193v3M198 198v2M199 198v2M200 198v2M201 193v3M202 163v2M202 184v5M207 125v2M208 99v2M208 139v5M209 125v23M225 87v3M226 57v2M226 153v3M227 57v2M228 101v3M228 163v2M325 90v2M325 125v2M326 68v3M326 137v2M327 68v5M327 134v3M337 156v4M337 163v9M338 167v5M339 163v4M340 130v2M340 156v2M341 111v4M341 146v2M342 101v5M342 132v2M348 9v3M371 123v7M376 7v17M378 57v2M450 120v14M451 97v4M451 148v5M459 146v2M459 184v2M460 12v2M460 191v2M461 7v2M461 52v2M462 24v2M462 191v2M463 54v57M463 186v3M464 137v2M464 177v4M477 113v17M525 174v3"/><path stroke="#0038ff" d="M5 61v14M6 7v2M6 82v3M8 87v3M9 118v2M10 0v2M10 125v2M11 19v2M15 71v2M15 177v12M16 78v2M16 163v4M16 198v2M17 82v3M17 153v3M18 153v3M19 38v2M20 40v2M20 160v3M21 92v2M22 106v2M22 167v3M23 115v3M23 203v2M24 45v4M24 64v2M24 193v5M25 38v4M25 130v2M25 156v2M25 170v2M26 42v3M26 144v2M27 101v3M28 125v2M28 174v3M29 38v2M29 172v2M30 35v3M31 57v2M32 101v36M32 146v5M41 9v3M41 160v21M42 24v2M42 189v7M43 35v3M43 99v2M43 191v5M44 47v2M44 104v2M44 186v7M45 38v4M45 57v9M45 148v26M50 123v2M50 163v4M51 101v3M51 181v3M52 90v2M53 87v3M53 191v2M54 92v2M54 191v2M55 99v2M55 189v2M56 108v3M57 125v2M57 174v3M115 167v14M116 153v3M116 179v2M117 148v5M117 174v5M118 158v9M129 57v4M129 75v3M130 42v3M130 94v3M131 54v3M131 94v3M135 172v7M136 158v2M136 200v5M138 137v2M139 130v2M143 130v2M144 139v2M146 82v5M146 163v2M146 196v2M149 80v2M149 132v14M150 97v2M151 174v3M152 179v2M153 90v2M155 177v2M156 170v2M157 123v2M157 158v2M163 165v5M163 177v4M164 153v3M164 186v3M165 99v2M166 196v2M167 75v3M167 200v3M168 64v2M168 200v3M169 64v2M169 130v2M169 203v2M170 73v2M170 123v4M170 203v2M171 82v3M171 200v3M172 200v3M173 196v2M174 153v3M174 191v2M175 165v5M175 181v5M181 160v7M182 134v3M182 186v3M183 111v2M183 193v3M184 111v2M184 198v2M185 198v5M186 137v2M186 198v2M187 193v3M188 186v3M194 123v2M194 132v2M195 127v3M195 144v2M196 132v2M196 174v5M197 191v2M198 196v2M199 196v2M200 196v2M201 156v2M201 191v2M202 165v2M202 179v5M208 101v5M208 137v2M225 90v2M225 141v3M226 59v2M226 151v2M227 59v2M227 158v2M228 104v7M228 158v5M325 92v5M325 123v2M326 71v2M327 73v5M327 130v4M337 160v3M338 148v3M338 163v4M339 141v3M339 160v3M340 153v3M341 115v3M341 144v2M342 106v5M342 130v2M347 14v2M348 5v4M376 0v7M377 54v3M451 101v5M451 141v7M459 148v3M459 179v5M460 134v3M460 189v2M461 9v3M461 47v5M461 125v2M461 191v2M462 26v2M462 80v31M462 189v2M463 111v9M463 184v2M464 139v2M464 174v3"/><path stroke="#0048ff" d="M6 9v5M7 73v2M8 85v2M11 123v2M12 118v2M13 111v2M14 49v3M14 101v3M16 167v3M16 196v2M17 156v2M17 203v2M18 82v3M18 156v2M19 80v2M19 158v2M20 75v3M21 90v2M21 165v2M23 172v2M23 200v3M24 123v2M24 177v2M24 189v4M25 33v5M25 78v2M25 158v12M26 40v2M26 90v2M26 134v3M26 174v3M29 40v2M30 38v2M30 167v3M31 59v2M31 160v3M32 137v9M42 101v5M42 184v5M43 9v3M43 186v5M44 21v3M44 45v2M44 106v2M44 181v5M45 42v15M50 125v5M50 160v3M51 179v2M52 92v2M56 184v2M57 127v3M57 170v4M116 156v7M116 170v9M117 153v7M117 167v7M129 61v3M129 71v4M130 45v2M130 92v2M131 57v2M131 92v2M136 198v2M137 148v3M140 125v2M141 120v3M142 123v2M145 151v2M146 52v2M146 80v2M146 165v2M146 191v5M147 47v2M148 61v3M149 120v3M150 165v2M152 177v2M153 92v2M153 179v2M154 90v2M154 179v2M156 111v2M157 125v2M157 156v2M163 170v7M164 156v2M164 184v2M165 191v2M166 87v3M166 193v3M167 196v4M168 66v2M168 198v2M169 108v3M169 132v2M169 200v3M170 118v5M170 127v3M170 200v3M171 198v2M172 196v4M173 139v9M173 193v3M174 156v2M174 189v2M175 170v11M182 137v2M182 184v2M183 113v5M183 191v2M184 113v5M184 193v5M185 130v2M185 196v2M186 196v2M187 146v2M187 191v2M188 156v2M188 184v2M194 125v7M195 141v3M196 170v4M197 137v2M197 189v2M198 141v3M198 193v3M199 146v2M200 193v3M201 158v2M201 189v2M202 174v5M208 106v12M208 132v5M225 92v2M226 61v3M227 61v3M227 156v2M228 111v7M228 134v7M228 151v7M325 97v2M325 120v3M326 73v2M326 134v3M327 78v2M327 127v3M338 151v12M339 156v4M340 132v2M340 151v2M341 118v2M342 111v4M342 127v3M347 12v2M348 2v3M377 52v2M378 54v3M451 106v12M451 134v7M459 151v2M459 174v5M460 186v3M461 12v4M461 42v5M461 189v2M462 28v5M462 68v12M462 111v7M463 120v5M464 141v3M464 172v2"/><path stroke="#0058ff" d="M6 14v2M6 38v2M6 80v2M8 82v3M9 115v3M10 2v3M10 123v2M11 21v3M12 31v2M13 40v2M14 52v2M14 99v2M16 75v3M16 170v2M16 191v5M17 80v2M17 158v5M17 198v5M18 158v2M18 203v2M19 40v2M20 163v2M21 87v3M22 104v2M22 203v2M23 196v4M24 42v3M24 66v2M24 179v2M24 184v5M25 28v5M26 35v5M26 146v2M27 104v4M27 174v3M28 127v3M29 42v3M30 40v2M31 61v3M41 7v2M42 21v3M42 106v5M42 177v7M43 31v4M43 181v5M44 24v2M44 40v5M44 108v3M44 174v7M50 130v2M50 156v4M51 104v2M51 177v2M52 186v3M53 90v2M53 189v2M54 94v3M54 189v2M56 181v3M57 130v2M57 167v3M116 163v7M117 160v7M129 64v7M130 47v2M130 90v2M131 59v2M131 87v5M136 160v3M136 196v2M138 139v2M139 132v2M141 123v2M142 125v2M143 132v2M144 141v3M145 153v3M145 203v2M146 54v5M146 75v5M146 167v3M146 189v2M147 49v3M149 82v3M150 99v2M150 163v2M151 172v2M152 106v2M153 94v3M154 92v2M154 177v2M155 104v2M155 174v3M156 167v3M157 127v3M157 153v3M164 158v2M164 181v3M165 146v2M165 189v2M166 90v2M167 78v2M168 196v2M169 66v2M169 198v2M170 75v3M170 113v5M170 130v2M170 198v2M171 196v2M172 92v2M172 193v3M173 132v7M173 148v3M173 191v2M174 158v2M174 186v3M182 139v2M182 179v5M183 118v5M183 189v2M184 118v5M185 132v2M185 193v3M186 139v2M186 193v3M187 148v3M187 189v2M188 158v2M188 181v3M195 130v2M195 139v2M196 158v12M197 186v3M198 191v2M199 193v3M200 151v2M200 191v2M202 167v3M202 172v2M208 118v14M225 94v3M225 139v2M226 64v2M226 148v3M227 64v4M227 153v3M228 118v16M228 141v10M325 99v2M325 118v2M326 75v3M326 132v2M327 80v5M339 144v4M339 151v5M340 134v3M340 148v3M341 120v3M341 141v3M342 115v5M342 123v4M347 9v3M348 0v2M378 52v2M451 118v16M459 153v3M459 170v4M460 137v2M460 184v2M461 16v8M461 35v7M461 127v3M461 186v3M462 33v7M462 61v7M462 118v5M462 186v3M463 125v2M463 181v3M464 144v2M464 170v2"/><path stroke="#0068ff" d="M6 16v3M6 35v3M6 78v2M7 71v2M8 80v2M9 113v2M10 5v2M11 24v2M14 54v3M14 97v2M16 172v5M16 186v5M17 163v2M17 196v2M18 80v2M18 200v3M19 78v2M19 160v3M19 203v2M20 42v3M20 73v2M20 203v2M21 28v3M21 203v2M22 170v2M22 200v3M23 113v2M23 174v3M23 193v3M24 181v3M25 26v2M25 80v2M26 33v2M26 92v2M26 148v3M26 172v2M27 108v3M28 172v2M29 45v2M29 170v2M30 42v3M30 165v2M31 64v2M31 158v2M41 5v2M42 0v2M42 19v2M42 111v4M42 170v7M43 12v4M43 28v3M43 101v3M43 174v7M44 26v14M44 111v2M44 167v7M50 132v24M51 106v2M52 94v3M52 184v2M53 92v2M55 101v3M55 186v3M56 111v2M56 179v2M57 132v5M57 165v2M130 49v3M130 87v3M131 61v3M131 85v2M136 163v2M136 193v3M137 151v2M140 127v3M145 200v3M146 59v16M146 184v5M147 106v2M148 64v2M150 160v3M151 170v2M152 174v3M153 97v2M153 177v2M154 94v3M155 172v2M156 165v2M157 146v7M164 160v3M164 179v2M165 141v5M165 148v3M165 186v3M166 191v2M167 80v2M167 193v3M168 68v3M168 193v3M169 68v3M169 134v3M169 196v2M170 111v2M170 132v2M170 196v2M171 85v2M171 193v3M173 101v3M173 127v5M173 189v2M174 160v3M174 181v5M182 141v5M182 174v5M183 123v4M183 186v3M184 123v4M184 191v2M185 191v2M186 191v2M187 186v3M188 177v4M195 132v7M196 134v3M196 148v10M197 139v2M197 181v5M198 189v2M199 191v2M201 160v3M201 184v5M202 170v2M225 97v2M225 137v2M226 66v2M227 68v3M325 101v10M325 115v3M326 78v4M326 130v2M327 85v2M327 123v4M339 148v3M340 137v2M340 144v4M341 123v4M341 139v2M342 120v3M347 7v2M377 49v3M378 49v3M459 156v14M460 139v2M460 181v3M461 24v11M461 130v2M462 40v21M462 123v2M462 184v2M463 127v5M463 179v2M464 146v2M464 165v5"/><path stroke="#0078ff" d="M6 19v5M6 28v7M7 68v3M8 78v2M9 111v2M10 7v2M10 120v3M11 120v3M12 33v2M12 115v3M13 108v3M14 57v2M14 94v3M16 73v2M16 177v9M17 78v2M17 165v5M17 193v3M18 160v3M18 198v2M19 42v3M19 163v2M19 200v3M20 71v2M20 165v2M20 200v3M21 85v2M21 167v3M21 200v3M22 101v3M22 196v4M23 111v2M23 177v2M23 189v4M24 40v2M24 68v3M25 127v3M26 21v12M26 94v3M26 151v2M26 170v2M27 111v4M27 137v4M27 172v2M29 47v2M30 45v2M30 163v2M31 66v5M31 156v2M41 2v3M42 2v3M42 14v5M42 115v3M42 160v10M43 16v3M43 24v4M43 104v4M43 170v4M44 113v2M44 160v7M51 108v3M51 174v3M52 97v2M53 186v3M54 186v3M55 184v2M57 137v7M57 160v5M130 52v2M131 64v2M131 68v17M136 165v2M136 191v2M137 203v2M138 141v3M139 134v3M141 125v2M142 127v3M143 134v3M144 144v2M145 156v2M145 198v2M146 170v2M146 177v7M147 52v2M148 66v2M149 85v2M150 101v3M150 158v2M153 99v2M153 174v3M154 97v2M154 174v3M155 106v2M157 130v2M157 137v9M164 163v9M164 177v2M165 101v3M165 137v4M165 151v2M165 184v2M166 92v2M166 189v2M167 191v2M168 71v2M169 71v2M169 106v2M169 137v2M169 193v3M170 78v2M170 108v3M170 134v5M170 193v3M172 191v2M173 104v23M173 151v2M173 186v3M174 163v9M174 177v4M182 146v7M182 170v4M183 127v3M183 184v2M184 127v3M184 189v2M185 134v3M185 189v2M186 141v3M186 189v2M187 151v2M188 160v3M188 167v10M196 137v2M196 146v2M197 177v4M198 144v2M199 148v3M199 189v2M200 153v3M200 189v2M201 181v3M225 99v2M225 134v3M226 68v5M226 146v2M227 71v4M227 151v2M325 111v4M326 82v3M326 127v3M327 87v3M340 139v5M341 127v12M347 5v2M377 47v2M378 47v2M460 141v3M460 179v2M461 132v2M461 184v2M462 125v2M462 181v3M463 132v2M463 177v2M464 148v5M464 160v5"/><path stroke="#0087ff" d="M6 24v4M6 40v5M6 75v3M7 66v2M8 75v3M9 108v3M13 42v3M14 59v2M14 92v2M16 71v2M17 170v2M17 189v4M18 78v2M18 163v4M18 196v2M19 45v2M19 75v3M19 198v2M20 45v2M20 198v2M21 82v3M21 198v2M22 99v2M22 172v2M22 193v3M23 179v2M23 186v3M24 120v3M25 0v26M25 82v3M26 0v21M26 153v3M26 163v7M27 115v3M27 141v3M27 170v2M28 130v2M28 170v2M29 49v3M29 167v3M30 47v2M31 71v2M31 151v5M41 0v2M42 5v9M42 118v42M43 19v5M43 108v3M43 163v7M44 115v5M44 153v7M51 172v2M52 181v3M53 94v3M54 97v2M55 104v2M56 113v2M56 177v2M57 144v16M130 54v3M130 82v5M131 66v2M136 167v3M136 189v2M137 153v3M137 200v3M138 144v2M140 130v2M141 127v3M142 130v2M143 137v2M144 146v2M145 158v2M145 196v2M146 172v5M147 54v3M147 104v2M148 113v2M150 156v2M151 111v2M151 167v3M152 172v2M153 101v3M154 99v2M155 170v2M156 113v2M156 163v2M157 132v5M164 172v5M165 130v7M165 153v3M165 181v3M166 186v3M167 82v3M167 189v2M168 73v2M168 191v2M169 73v2M169 191v2M170 80v2M170 191v2M171 87v3M171 191v2M172 94v3M172 189v2M173 153v3M173 184v2M174 172v5M182 153v7M182 165v5M183 130v4M183 181v3M184 130v2M184 186v3M185 137v2M186 144v2M186 186v3M187 153v3M187 184v2M188 163v4M196 139v7M197 141v3M197 174v3M198 146v2M198 184v5M200 156v2M200 186v3M201 163v2M201 177v4M225 101v5M225 132v2M226 73v2M226 144v2M227 75v3M227 148v3M326 85v2M326 125v2M327 90v4M327 120v3M377 45v2M378 42v5M460 144v2M460 177v2M461 181v3M462 127v3M463 134v3M463 174v3M464 153v7"/><path stroke="#0097ff" d="M6 45v4M7 64v2M8 73v2M9 104v4M10 9v3M10 118v2M11 26v2M11 118v2M14 61v3M14 90v2M17 75v3M17 172v5M17 186v3M18 167v3M18 193v3M19 47v2M19 165v2M19 196v2M20 47v2M20 68v3M20 167v3M20 196v2M21 170v2M21 196v2M22 97v2M22 174v3M22 191v2M23 108v3M23 181v5M24 38v2M24 71v2M25 85v2M26 97v2M26 132v2M26 156v7M27 118v2M27 134v3M29 52v2M29 165v2M30 49v3M30 160v3M31 73v5M31 148v3M43 111v2M43 158v5M44 120v33M51 111v2M51 167v5M52 99v2M52 179v2M53 184v2M54 184v2M55 181v3M56 115v3M56 174v3M130 57v4M130 78v4M136 181v8M137 198v2M139 137v2M140 132v2M142 132v2M144 148v3M144 203v2M145 160v3M145 193v3M148 68v3M149 87v3M149 118v2M150 104v2M150 125v2M151 165v2M152 170v2M153 172v2M154 172v2M155 167v3M156 160v3M165 104v19M165 127v3M165 156v4M165 179v2M166 94v3M166 184v2M167 85v2M167 186v3M168 75v3M168 189v2M169 75v3M169 189v2M170 106v2M170 189v2M171 90v2M171 189v2M172 186v3M173 156v4M173 179v5M182 160v5M183 134v5M183 179v2M184 132v2M184 184v2M185 186v3M186 146v2M186 184v2M187 181v3M197 144v4M197 170v4M198 181v3M199 151v2M199 184v5M200 158v2M200 181v5M201 165v2M201 174v3M225 106v5M225 127v5M226 75v3M227 78v7M227 144v4M326 87v5M326 123v2M327 94v5M327 118v2M347 2v3M377 42v3M378 40v2M460 146v2M460 172v5M461 134v3M461 179v2M462 130v4M462 177v4M463 137v4M463 172v2"/><path stroke="#00a7ff" d="M6 49v3M6 73v2M7 61v3M8 71v2M9 101v3M10 12v2M12 35v3M12 113v2M13 106v2M14 64v2M14 85v5M16 68v3M17 177v9M18 75v3M18 170v2M18 189v4M19 73v2M19 167v3M19 193v3M20 49v3M20 193v3M21 31v2M21 80v2M21 172v2M21 193v3M22 94v3M22 177v2M22 186v5M24 73v2M24 118v2M25 125v2M26 99v2M27 120v5M27 144v4M27 165v5M28 132v2M28 167v3M29 54v5M29 163v2M30 52v2M30 158v2M31 78v7M31 141v7M43 113v5M43 153v5M51 113v2M51 165v2M52 101v3M52 177v2M53 97v2M53 181v3M54 99v2M55 106v2M55 179v2M56 118v2M56 172v2M130 61v3M130 73v5M136 170v2M136 174v7M137 156v2M137 196v2M138 146v2M138 203v2M141 130v2M143 139v2M144 200v3M145 191v2M147 57v4M147 101v3M149 90v2M150 123v2M150 153v3M152 108v3M153 104v2M154 101v3M154 170v2M156 158v2M165 123v4M165 160v5M165 177v2M166 181v3M167 87v3M167 184v2M168 78v2M168 118v9M168 186v3M169 78v2M170 82v3M171 125v2M171 186v3M172 184v2M173 160v5M173 177v2M183 139v5M183 174v5M184 134v3M184 181v3M185 139v2M185 184v2M186 148v3M187 156v4M187 174v7M197 148v22M198 148v3M198 177v4M199 153v3M199 181v3M200 160v3M200 179v2M201 167v7M225 111v4M225 125v2M226 78v4M226 141v3M227 85v2M227 141v3M326 92v5M326 120v3M327 99v2M327 111v7M347 0v2M377 40v2M378 35v5M460 148v5M460 167v5M461 137v2M461 177v2M462 134v3M462 174v3M463 141v5M463 167v5"/><path stroke="#00b7ff" d="M6 52v2M6 64v9M8 68v3M9 97v4M10 14v2M10 115v3M13 45v2M14 66v2M14 82v3M16 66v2M17 73v2M18 172v5M18 186v3M19 49v3M19 71v2M19 170v2M19 189v4M20 52v2M20 66v2M20 170v2M20 191v2M21 78v2M21 174v3M21 189v4M22 92v2M22 179v7M23 106v2M25 87v3M26 130v2M27 125v9M27 148v3M27 160v5M28 134v3M28 165v2M29 59v9M30 54v3M30 156v2M31 85v7M31 134v7M43 118v2M43 127v26M51 115v3M51 163v2M53 99v2M54 181v3M56 120v3M56 170v2M130 64v2M130 68v5M136 172v2M137 158v2M137 193v3M138 148v3M139 139v2M140 134v3M141 132v2M142 134v3M143 141v3M144 151v2M145 163v2M145 189v2M147 61v3M147 99v2M148 71v2M148 111v2M150 106v2M150 127v3M150 148v5M151 163v2M152 167v3M153 170v2M155 108v3M155 165v2M156 115v3M156 156v2M165 165v12M166 97v2M166 153v3M166 179v2M167 90v2M168 80v2M168 111v7M168 127v3M168 184v2M169 80v2M169 104v2M169 186v3M170 85v2M170 186v3M171 118v7M171 127v12M171 184v2M172 97v2M172 125v23M172 153v3M172 181v3M173 165v12M183 144v7M183 170v4M184 137v4M184 179v2M185 141v3M185 181v3M186 151v2M186 181v3M187 170v4M198 151v5M198 174v3M199 156v2M199 177v4M200 163v2M200 174v5M225 115v5M225 123v2M226 82v3M226 139v2M227 87v7M227 137v4M326 97v2M326 118v2M327 101v10M377 38v2M378 16v19M460 153v14M461 139v5M461 172v5M462 137v2M462 172v2M463 146v2M463 163v4"/><path stroke="#00c7ff" d="M6 54v10M7 0v5M7 59v2M9 94v3M10 16v3M10 113v2M11 28v3M11 115v3M12 111v2M13 104v2M14 68v3M14 78v4M16 64v2M18 73v2M18 177v9M19 52v2M19 172v5M19 186v3M20 54v3M20 64v2M20 172v5M20 186v5M21 75v3M21 177v2M21 184v5M22 90v2M23 59v2M24 35v3M24 75v3M24 115v3M25 90v2M25 123v2M26 101v3M26 127v3M27 151v9M28 137v2M28 160v5M29 68v62M29 160v3M30 57v4M30 151v5M31 92v7M31 130v4M43 120v7M51 118v5M51 160v3M52 104v2M52 174v3M53 179v2M54 101v3M54 179v2M55 108v3M55 177v2M56 123v2M56 167v3M130 66v2M137 160v3M137 191v2M138 200v3M139 141v3M139 203v2M141 134v3M143 144v2M143 203v2M144 153v3M144 196v4M145 165v2M145 186v3M147 64v2M147 94v5M148 73v2M149 92v2M149 115v3M150 130v2M150 141v7M151 113v2M151 160v3M153 167v3M154 104v2M154 167v3M155 163v2M156 118v2M156 153v3M166 148v3M166 156v4M166 177v2M167 181v3M168 82v3M168 108v3M168 130v4M169 82v3M169 184v2M170 87v3M170 104v2M170 139v2M170 184v2M171 92v2M171 113v5M171 181v3M172 99v2M172 118v7M172 148v5M172 156v4M172 177v4M183 151v9M183 165v5M184 141v3M184 174v5M185 144v4M185 179v2M186 153v3M186 174v7M187 160v10M198 156v9M198 170v4M199 158v5M199 174v3M200 165v2M200 172v2M225 120v3M226 85v5M226 137v2M227 94v3M227 132v5M326 99v7M326 115v3M377 31v7M378 0v16M461 144v4M461 170v2M462 139v5M462 170v2M463 148v5M463 158v5"/><path stroke="#00d7ff" d="M7 5v4M7 57v2M8 66v2M9 0v2M9 90v4M10 19v2M10 111v2M12 38v2M13 47v2M14 71v7M16 61v3M17 71v2M19 54v3M19 68v3M19 177v9M20 57v2M20 61v3M20 177v2M20 184v2M21 33v2M21 179v5M22 87v3M23 57v2M23 61v3M23 104v2M24 78v2M24 113v2M25 92v2M26 104v7M26 125v2M28 139v5M28 158v2M29 158v2M30 61v5M30 146v5M31 99v31M51 123v2M51 156v4M52 106v2M52 172v2M53 101v3M53 177v2M54 177v2M55 174v3M56 125v2M56 165v2M137 163v2M137 189v2M138 151v2M138 198v2M140 137v2M142 137v2M142 203v2M143 200v3M145 167v3M145 181v5M147 66v2M147 92v2M148 75v3M148 108v3M149 94v3M150 108v3M150 120v3M150 132v9M151 158v2M152 165v2M153 106v2M156 120v3M166 99v2M166 137v11M166 151v2M166 160v17M167 92v2M167 179v2M168 85v5M168 106v2M168 134v5M168 181v3M169 85v2M169 139v2M169 181v3M170 90v2M170 141v3M170 181v3M171 108v5M171 139v5M171 179v2M172 108v10M172 160v17M183 160v5M184 144v7M184 172v2M185 148v3M185 174v5M186 156v2M186 170v4M198 165v5M199 163v4M199 170v4M200 167v5M226 90v4M226 132v5M227 97v4M227 127v5M326 106v9M377 26v5M461 148v3M461 163v7M462 144v4M462 163v7M463 153v5"/><path stroke="#00e7ff" d="M7 9v7M7 52v5M8 64v2M9 2v3M9 87v3M10 21v3M10 108v3M11 31v2M11 113v2M12 108v3M13 49v3M13 101v3M16 59v2M18 71v2M19 57v2M20 59v2M20 179v5M21 73v2M22 85v2M23 54v3M23 64v2M23 101v3M24 80v2M24 111v2M25 94v3M25 120v3M26 111v9M26 123v2M28 144v14M29 130v4M29 151v7M30 66v5M30 141v5M51 125v5M51 153v3M52 108v3M52 170v2M53 174v3M54 104v2M55 111v2M55 172v2M56 127v3M56 160v5M137 165v2M137 186v3M138 196v2M139 144v2M139 200v3M140 139v2M140 203v2M141 137v2M141 203v2M142 139v2M143 146v2M144 156v2M144 193v3M145 170v2M145 174v7M147 68v3M147 85v7M148 78v2M149 97v2M150 118v2M152 111v2M152 163v2M153 165v2M154 106v2M154 165v2M155 111v2M155 160v3M156 123v4M156 148v5M166 130v7M167 153v3M167 177v2M168 90v2M168 104v2M168 179v2M169 87v3M169 101v3M169 141v3M169 179v2M170 101v3M170 179v2M171 94v3M171 106v2M171 144v2M171 153v3M171 177v2M172 101v7M184 151v7M184 167v5M185 151v5M185 170v4M186 158v5M186 165v5M199 167v3M226 94v5M226 130v2M227 101v17M227 123v4M377 16v10M461 151v12M462 148v5M462 158v5"/><path stroke="#00f7ff" d="M7 16v5M7 35v5M7 45v7M8 61v3M9 5v4M9 82v5M10 24v2M11 111v2M12 40v2M13 52v2M13 97v4M16 57v2M17 68v3M18 0v7M19 59v9M21 71v2M22 82v3M23 52v2M23 66v2M23 97v4M24 33v2M24 82v5M24 108v3M25 97v2M25 115v5M26 120v3M29 134v17M30 71v16M30 134v7M51 130v23M52 167v3M53 104v2M54 106v2M54 174v3M55 170v2M56 130v4M56 156v4M137 167v3M137 181v5M138 153v3M138 193v3M139 146v2M140 141v3M140 200v3M141 139v2M142 141v3M142 200v3M143 148v3M143 198v2M144 158v2M144 191v2M145 172v2M147 71v14M148 80v5M148 106v2M149 99v5M149 113v2M150 111v7M151 115v3M151 156v2M154 163v2M155 158v2M156 127v3M156 141v7M166 101v3M166 115v15M167 94v3M167 123v7M167 134v5M167 156v21M168 177v2M169 90v2M169 144v2M169 177v2M170 92v2M170 144v2M170 177v2M171 104v2M171 146v2M171 156v21M184 158v9M185 156v4M185 165v5M186 163v2M226 99v5M226 127v3M227 118v5M377 0v16M462 153v5"/><path stroke="#08fff7" d="M7 21v14M7 40v5M8 0v2M8 59v2M9 9v3M9 80v2M10 106v2M11 33v2M12 106v2M13 54v3M13 94v3M16 54v3M18 7v7M18 68v3M21 35v3M21 68v3M22 78v4M23 49v3M23 68v5M23 92v5M24 87v3M24 104v4M25 99v16M30 87v47M52 111v2M52 165v2M53 106v2M53 170v4M54 172v2M55 113v2M55 167v3M56 134v22M137 170v2M137 177v4M138 156v2M138 191v2M139 148v3M139 198v2M141 141v3M141 200v3M142 144v2M143 151v2M143 196v2M144 160v3M144 189v2M148 85v2M148 104v2M149 104v2M151 153v3M152 160v3M153 108v3M153 163v2M155 156v2M156 130v2M156 137v4M166 104v11M167 111v12M167 130v4M167 139v5M168 92v2M168 101v3M168 139v5M168 153v10M168 165v12M169 92v2M169 99v2M169 153v3M169 170v7M170 94v3M170 99v2M170 146v2M170 153v10M170 165v12M171 97v7M171 148v5M185 160v5M226 104v11M226 123v4"/><path stroke="#18ffe7" d="M8 2v7M8 57v2M9 12v4M9 75v5M10 26v2M10 101v5M11 108v3M12 42v3M13 57v4M13 92v2M16 52v2M18 14v7M21 66v2M22 75v3M23 47v2M23 73v19M24 90v14M52 113v2M52 160v5M53 108v3M53 167v3M54 108v3M54 170v2M55 115v3M55 165v2M137 172v5M138 158v2M138 189v2M139 196v2M140 144v2M140 198v2M141 198v2M142 146v2M142 198v2M143 193v3M144 163v4M144 184v5M148 87v17M149 106v7M151 118v2M151 151v2M152 113v2M152 158v2M153 160v3M154 108v3M154 160v3M155 113v2M156 132v5M167 97v4M167 106v5M167 144v9M168 94v3M168 99v2M168 144v2M168 163v2M169 94v5M169 146v2M169 156v14M170 97v2M170 148v3M170 163v2M226 115v8"/><path stroke="#28ffd7" d="M8 9v7M8 54v3M9 16v5M9 73v2M10 97v4M11 35v3M11 106v2M12 104v2M13 61v3M13 87v5M16 47v5M17 66v2M18 21v5M21 38v2M21 64v2M22 71v4M23 45v2M24 31v2M52 115v3M52 158v2M54 111v2M54 167v3M55 118v5M55 163v2M138 160v3M138 186v3M139 151v2M139 193v3M140 146v2M140 196v2M141 144v2M141 196v2M142 148v3M142 196v2M143 153v3M143 191v2M144 167v3M144 181v3M151 120v7M151 146v5M152 156v2M154 158v2M155 153v3M167 101v5M168 97v2M168 146v5M169 148v3M170 151v2"/><path stroke="#38ffc7" d="M8 16v5M8 52v2M9 21v3M9 71v2M10 28v3M10 94v3M11 104v2M12 45v2M12 101v3M13 64v2M13 82v5M16 40v7M17 64v2M18 26v2M18 64v4M21 40v2M21 61v3M22 59v12M23 42v3M52 118v5M52 156v2M53 111v2M53 163v4M54 165v2M55 123v2M55 160v3M138 163v4M138 184v2M139 153v3M139 191v2M140 148v3M140 193v3M141 146v2M142 193v3M143 156v2M143 189v2M144 170v2M144 177v4M151 127v3M151 141v5M153 111v2M153 158v2M154 111v2M154 156v2M155 115v5M155 151v2M168 151v2M169 151v2"/><path stroke="#48ffb7" d="M8 21v7M8 49v3M9 24v2M9 68v3M10 31v2M10 90v4M11 38v2M11 101v3M12 47v2M12 97v4M13 66v5M13 78v4M16 33v7M17 61v3M18 28v3M18 61v3M21 42v19M22 0v24M22 57v2M52 123v4M52 153v3M53 113v2M53 160v3M54 113v2M54 163v2M55 125v2M55 156v4M138 167v3M138 179v5M139 156v2M139 189v2M140 151v2M141 148v3M141 193v3M142 151v2M142 191v2M143 158v5M143 186v3M144 172v5M151 130v2M151 137v4M152 115v3M152 153v3M153 156v2M155 120v3M155 146v5"/><path stroke="#58ffa7" d="M8 28v21M9 26v5M9 64v4M10 33v2M10 85v5M11 40v2M11 99v2M12 49v3M12 94v3M13 71v7M16 28v5M17 57v4M18 31v7M18 57v4M22 24v2M22 54v3M23 40v2M24 28v3M52 127v5M52 141v12M53 115v3M53 158v2M54 115v3M54 160v3M55 127v5M55 153v3M138 170v2M138 174v5M139 158v2M139 186v3M140 153v3M140 191v2M141 151v2M141 191v2M142 153v3M142 189v2M143 163v2M143 184v2M151 132v5M152 118v2M152 151v2M153 113v2M154 113v2M154 153v3M155 123v4M155 141v5"/><path stroke="#68ff97" d="M9 31v2M9 61v3M10 35v3M10 80v5M11 94v5M12 52v2M12 90v4M16 0v28M18 38v19M22 26v2M22 49v5M52 132v9M53 118v5M53 156v2M54 118v5M54 156v4M55 132v21M138 172v2M139 160v3M139 184v2M140 189v2M141 153v3M141 189v2M142 156v2M143 165v2M143 179v5M152 120v3M152 148v3M153 153v3M154 151v2M155 127v3M155 137v4"/><path stroke="#78ff87" d="M9 33v5M9 57v4M10 38v2M10 75v5M11 42v3M11 90v4M12 54v5M12 85v5M17 54v3M22 47v2M23 38v2M24 26v2M53 123v4M53 153v3M54 123v4M54 153v3M139 163v4M139 181v3M140 156v4M140 186v3M141 156v2M141 186v3M142 158v5M142 184v5M143 167v5M143 177v2M152 123v2M152 144v4M153 115v3M153 151v2M154 115v3M154 148v3M155 130v7"/><path stroke="#87ff78" d="M9 38v4M9 52v5M10 40v2M10 71v4M11 45v2M11 85v5M12 59v7M12 80v5M17 52v2M22 28v3M22 42v5M53 127v3M53 144v9M54 127v3M54 148v5M139 167v3M139 177v4M140 160v3M140 184v2M141 158v2M141 184v2M142 163v2M142 181v3M143 172v5M152 125v5M152 139v5M153 118v2M153 148v3M154 118v5M154 144v4"/><path stroke="#97ff68" d="M9 42v10M10 42v3M10 66v5M11 47v5M11 78v7M12 66v5M12 73v7M17 49v3M22 31v2M22 40v2M23 35v3M53 130v14M54 130v18M139 170v7M140 163v4M140 179v5M141 160v5M141 181v3M142 165v5M142 177v4M152 130v2M152 134v5M153 120v5M153 144v4M154 123v4M154 139v5"/><path stroke="#a7ff58" d="M10 45v2M10 57v9M11 52v9M11 73v5M12 71v2M17 42v7M22 33v7M23 33v2M24 0v26M140 167v3M140 177v2M141 165v5M141 177v4M142 170v2M142 174v3M152 132v2M153 125v5M153 139v5M154 127v5M154 134v5"/><path stroke="#b7ff48" d="M10 47v10M11 61v12M17 0v2M17 38v4M140 170v7M141 170v2M141 174v3M142 172v2M153 130v2M153 134v5M154 132v2"/><path stroke="#c7ff38" d="M17 2v10M17 33v5M23 31v2M141 172v2M153 132v2"/><path stroke="#d7ff28" d="M17 12v9M17 26v7M23 28v3"/><path stroke="#e7ff18" d="M17 21v5M23 26v2"/><path stroke="#f7ff08" d="M23 0v26"/></g>
<rect x="911.57" y="331.10" width="1" height="6.00" fill="#000050" fill-opacity="0.75"/>
<rect x="911.57" y="530.00" width="1" height="6.00" fill="#000050" fill-opacity="0.75"/>
<rect x="986.84" y="331.10" width="1" height="6.00" fill="#000050" fill-opacity="0.75"/>
<rect x="986.84" y="530.00" width="1" height="6.00" fill="#000050" fill-opacity="0.75"/>
<rect x="1062.11" y="331.10" width="1" height="6.00" fill="#000050" fill-opacity="0.75"/>
<rect x="1062.11" y="530.00" width="1" height="6.00" fill="#000050" fill-opacity="0.75"/>
<rect x="1137.38" y="331.10" width="1" height="6.00" fill="#000050" fill-opacity="0.75"/>
<rect x="1137.38" y="530.00" width="1" height="6.00" fill="#000050" fill-opacity="0.75"/>
<rect x="1212.64" y="331.10" width="1" height="6.00" fill="#000050" fill-opacity="0.75"/>
<rect x="1212.64" y="530.00" width="1" height="6.00" fill="#000050" fill-opacity="0.75"/>
<rect x="1287.91" y="331.10" width="1" height="6.00" fill="#000050" fill-opacity="0.75"/>
<rect x="1287.91" y="530.00" width="1" height="6.00" fill="#000050" fill-opacity="0.75"/>
<rect x="1363.18" y="331.10" width="1" height="6.00" fill="#000050" fill-opacity="0.75"/>
<rect x="1363.18" y="530.00" width="1" height="6.00" fill="#000050" fill-opacity="0.75"/>
<rect x="836.30" y="532.91" width="6.00" height="1" fill="#000050" fill-opacity="0.75"/>
<rect x="1433.45" y="532.91" width="6.00" height="1" fill="#000050" fill-opacity="0.75"/>
<rect x="836.30" y="468.28" width="6.00" height="1" fill="#000050" fill-opacity="0.75"/>
<rect x="1433.45" y="468.28" width="6.00" height="1" fill="#000050" fill-opacity="0.75"/>
<rect x="836.30" y="422.42" width="6.00" height="1" fill="#000050" fill-opacity="0.75"/>
<rect x="1433.45" y="422.42" width="6.00" height="1" fill="#000050" fill-opacity="0.75"/>
<rect x="836.30" y="386.86" width="6.00" height="1" fill="#000050" fill-opacity="0.75"/>
<rect x="1433.45" y="386.86" width="6.00" height="1" fill="#000050" fill-opacity="0.75"/>
<rect x="836.30" y="357.79" width="6.00" height="1" fill="#000050" fill-opacity="0.75"/>
<rect x="1433.45" y="357.79" width="6.00" height="1" fill="#000050" fill-opacity="0.75"/>
<rect x="836.30" y="333.22" width="6.00" height="1" fill="#000050" fill-opacity="0.75"/>
<rect x="1433.45" y="333.22" width="6.00" height="1" fill="#000050" fill-opacity="0.75"/>
<rect x="836.80" y="331.60" width="602.15" height="203.90" fill="none" stroke="#8a8aa8" stroke-opacity=".45" stroke-width="1"/>
<rect x="1458.30" y="331.200" width="25.30" height="205.350" fill="#870000"/>
<rect x="1458.30" y="334.409" width="25.30" height="202.141" fill="#970000"/>
<rect x="1458.30" y="337.617" width="25.30" height="198.933" fill="#a70000"/>
<rect x="1458.30" y="340.826" width="25.30" height="195.724" fill="#b70000"/>
<rect x="1458.30" y="344.034" width="25.30" height="192.516" fill="#c70000"/>
<rect x="1458.30" y="347.243" width="25.30" height="189.307" fill="#d70000"/>
<rect x="1458.30" y="350.452" width="25.30" height="186.098" fill="#e70000"/>
<rect x="1458.30" y="353.660" width="25.30" height="182.890" fill="#f70000"/>
<rect x="1458.30" y="356.869" width="25.30" height="179.681" fill="#ff0800"/>
<rect x="1458.30" y="360.077" width="25.30" height="176.473" fill="#ff1800"/>
<rect x="1458.30" y="363.286" width="25.30" height="173.264" fill="#ff2800"/>
<rect x="1458.30" y="366.495" width="25.30" height="170.055" fill="#ff3800"/>
<rect x="1458.30" y="369.703" width="25.30" height="166.847" fill="#ff4800"/>
<rect x="1458.30" y="372.912" width="25.30" height="163.638" fill="#ff5800"/>
<rect x="1458.30" y="376.120" width="25.30" height="160.430" fill="#ff6800"/>
<rect x="1458.30" y="379.329" width="25.30" height="157.221" fill="#ff7800"/>
<rect x="1458.30" y="382.537" width="25.30" height="154.012" fill="#ff8700"/>
<rect x="1458.30" y="385.746" width="25.30" height="150.804" fill="#ff9700"/>
<rect x="1458.30" y="388.955" width="25.30" height="147.595" fill="#ffa700"/>
<rect x="1458.30" y="392.163" width="25.30" height="144.387" fill="#ffb700"/>
<rect x="1458.30" y="395.372" width="25.30" height="141.178" fill="#ffc700"/>
<rect x="1458.30" y="398.580" width="25.30" height="137.970" fill="#ffd700"/>
<rect x="1458.30" y="401.789" width="25.30" height="134.761" fill="#ffe700"/>
<rect x="1458.30" y="404.998" width="25.30" height="131.552" fill="#fff700"/>
<rect x="1458.30" y="408.206" width="25.30" height="128.344" fill="#f7ff08"/>
<rect x="1458.30" y="411.415" width="25.30" height="125.135" fill="#e7ff18"/>
<rect x="1458.30" y="414.623" width="25.30" height="121.927" fill="#d7ff28"/>
<rect x="1458.30" y="417.832" width="25.30" height="118.718" fill="#c7ff38"/>
<rect x="1458.30" y="421.041" width="25.30" height="115.509" fill="#b7ff48"/>
<rect x="1458.30" y="424.249" width="25.30" height="112.301" fill="#a7ff58"/>
<rect x="1458.30" y="427.458" width="25.30" height="109.092" fill="#97ff68"/>
<rect x="1458.30" y="430.666" width="25.30" height="105.884" fill="#87ff78"/>
<rect x="1458.30" y="433.875" width="25.30" height="102.675" fill="#78ff87"/>
<rect x="1458.30" y="437.084" width="25.30" height="99.466" fill="#68ff97"/>
<rect x="1458.30" y="440.292" width="25.30" height="96.258" fill="#58ffa7"/>
<rect x="1458.30" y="443.501" width="25.30" height="93.049" fill="#48ffb7"/>
<rect x="1458.30" y="446.709" width="25.30" height="89.841" fill="#38ffc7"/>
<rect x="1458.30" y="449.918" width="25.30" height="86.632" fill="#28ffd7"/>
<rect x="1458.30" y="453.127" width="25.30" height="83.423" fill="#18ffe7"/>
<rect x="1458.30" y="456.335" width="25.30" height="80.215" fill="#08fff7"/>
<rect x="1458.30" y="459.544" width="25.30" height="77.006" fill="#00f7ff"/>
<rect x="1458.30" y="462.752" width="25.30" height="73.798" fill="#00e7ff"/>
<rect x="1458.30" y="465.961" width="25.30" height="70.589" fill="#00d7ff"/>
<rect x="1458.30" y="469.170" width="25.30" height="67.380" fill="#00c7ff"/>
<rect x="1458.30" y="472.378" width="25.30" height="64.172" fill="#00b7ff"/>
<rect x="1458.30" y="475.587" width="25.30" height="60.963" fill="#00a7ff"/>
<rect x="1458.30" y="478.795" width="25.30" height="57.755" fill="#0097ff"/>
<rect x="1458.30" y="482.004" width="25.30" height="54.546" fill="#0087ff"/>
<rect x="1458.30" y="485.212" width="25.30" height="51.337" fill="#0078ff"/>
<rect x="1458.30" y="488.421" width="25.30" height="48.129" fill="#0068ff"/>
<rect x="1458.30" y="491.630" width="25.30" height="44.920" fill="#0058ff"/>
<rect x="1458.30" y="494.838" width="25.30" height="41.712" fill="#0048ff"/>
<rect x="1458.30" y="498.047" width="25.30" height="38.503" fill="#0038ff"/>
<rect x="1458.30" y="501.255" width="25.30" height="35.295" fill="#0028ff"/>
<rect x="1458.30" y="504.464" width="25.30" height="32.086" fill="#0018ff"/>
<rect x="1458.30" y="507.673" width="25.30" height="28.877" fill="#0008ff"/>
<rect x="1458.30" y="510.881" width="25.30" height="25.669" fill="#0000f7"/>
<rect x="1458.30" y="514.090" width="25.30" height="22.460" fill="#0000e7"/>
<rect x="1458.30" y="517.298" width="25.30" height="19.252" fill="#0000d7"/>
<rect x="1458.30" y="520.507" width="25.30" height="16.043" fill="#0000c7"/>
<rect x="1458.30" y="523.716" width="25.30" height="12.834" fill="#0000b7"/>
<rect x="1458.30" y="526.924" width="25.30" height="9.626" fill="#0000a7"/>
<rect x="1458.30" y="530.133" width="25.30" height="6.417" fill="#000097"/>
<rect x="1458.30" y="533.341" width="25.30" height="3.209" fill="#000087"/>
<rect x="1458.80" y="331.70" width="24.30" height="204.35" fill="none" stroke="#3a3a4a" stroke-opacity=".5" stroke-width="1"/>
<rect x="1458.30" y="501.49" width="3.00" height="1" fill="#222" fill-opacity="0.7"/>
<rect x="1480.60" y="501.49" width="3.00" height="1" fill="#222" fill-opacity="0.7"/>
<rect x="1458.30" y="467.43" width="3.00" height="1" fill="#222" fill-opacity="0.7"/>
<rect x="1480.60" y="467.43" width="3.00" height="1" fill="#222" fill-opacity="0.7"/>
<rect x="1458.30" y="433.38" width="3.00" height="1" fill="#222" fill-opacity="0.7"/>
<rect x="1480.60" y="433.38" width="3.00" height="1" fill="#222" fill-opacity="0.7"/>
<rect x="1458.30" y="399.32" width="3.00" height="1" fill="#222" fill-opacity="0.7"/>
<rect x="1480.60" y="399.32" width="3.00" height="1" fill="#222" fill-opacity="0.7"/>
<rect x="1458.30" y="365.26" width="3.00" height="1" fill="#222" fill-opacity="0.7"/>
<rect x="1480.60" y="365.26" width="3.00" height="1" fill="#222" fill-opacity="0.7"/>
<rect x="43.35" y="616.40" width="602.40" height="204.50" fill="none" stroke="#bdbdbd" stroke-width="1"/>
<rect x="118.15" y="616.40" width="1" height="6.50" fill="#8a8a8a"/>
<rect x="118.15" y="814.40" width="1" height="6.50" fill="#8a8a8a"/>
<rect x="193.45" y="616.40" width="1" height="6.50" fill="#8a8a8a"/>
<rect x="193.45" y="814.40" width="1" height="6.50" fill="#8a8a8a"/>
<rect x="268.75" y="616.40" width="1" height="6.50" fill="#8a8a8a"/>
<rect x="268.75" y="814.40" width="1" height="6.50" fill="#8a8a8a"/>
<rect x="344.05" y="616.40" width="1" height="6.50" fill="#8a8a8a"/>
<rect x="344.05" y="814.40" width="1" height="6.50" fill="#8a8a8a"/>
<rect x="419.35" y="616.40" width="1" height="6.50" fill="#8a8a8a"/>
<rect x="419.35" y="814.40" width="1" height="6.50" fill="#8a8a8a"/>
<rect x="494.65" y="616.40" width="1" height="6.50" fill="#8a8a8a"/>
<rect x="494.65" y="814.40" width="1" height="6.50" fill="#8a8a8a"/>
<rect x="569.95" y="616.40" width="1" height="6.50" fill="#8a8a8a"/>
<rect x="569.95" y="814.40" width="1" height="6.50" fill="#8a8a8a"/>
<rect x="43.35" y="656.80" width="6.50" height="1" fill="#8a8a8a"/>
<rect x="639.25" y="656.80" width="6.50" height="1" fill="#8a8a8a"/>
<rect x="43.35" y="697.70" width="6.50" height="1" fill="#8a8a8a"/>
<rect x="639.25" y="697.70" width="6.50" height="1" fill="#8a8a8a"/>
<rect x="43.35" y="738.60" width="6.50" height="1" fill="#8a8a8a"/>
<rect x="639.25" y="738.60" width="6.50" height="1" fill="#8a8a8a"/>
<rect x="43.35" y="779.50" width="6.50" height="1" fill="#8a8a8a"/>
<rect x="639.25" y="779.50" width="6.50" height="1" fill="#8a8a8a"/>
<path d="M43.4 734.4H44.3L44.3 734.3H45.3L45.3 733.8H46.3L46.3 734.9H47.3L47.3 730.7H48.3L48.3 732.5H49.3L49.3 728.0H50.3L50.3 726.1H51.3L51.3 732.1H52.3L52.3 729.4H53.3L53.3 724.2H54.3L54.3 723.3H55.3L55.3 723.7H56.3L56.3 726.9H57.3L57.3 726.4H58.3L58.3 727.1H59.3L59.3 729.5H60.3L60.3 730.4H61.3L61.3 728.9H62.3L62.3 729.3H63.3L63.3 729.5H64.3L64.3 727.2H65.3L65.3 726.2H66.3L66.3 731.7H67.3L67.3 723.1H68.3L68.3 724.7H69.3L69.3 725.7H70.3L70.3 726.2H71.3L71.3 724.8H72.3L72.3 724.4H73.3L73.3 731.9H74.3L74.3 727.7H75.3L75.3 725.2H76.3L76.3 729.2H77.3L77.3 725.8H78.3L78.3 730.7H79.3L79.3 725.4H80.3L80.3 729.2H81.3L81.3 727.6H82.3L82.3 730.1H83.3L83.3 725.6H84.3L84.3 728.4H85.3L85.3 730.1H86.3L86.3 730.5H87.3L87.3 728.0H88.3L88.3 723.6H89.3L89.3 725.1H90.3L90.3 729.5H91.3L91.3 732.8H92.3L92.3 728.2H93.3L93.3 728.5H94.3L94.3 730.1H95.3L95.3 733.0H96.3L96.3 727.9H97.3L97.3 730.5H98.3L98.3 724.9H99.3L99.3 726.0H100.3L100.3 727.2H101.3L101.3 727.1H102.3L102.3 730.2H103.3L103.3 730.5H104.3L104.3 734.6H105.3L105.3 731.5H106.3L106.3 732.4H107.3L107.3 732.1H108.3L108.3 734.1H109.3L109.3 733.1H110.3L110.3 733.2H111.3L111.3 733.1H112.3L112.3 735.6H113.3L113.3 733.0H114.3L114.3 734.1H115.3L115.3 731.0H116.3L116.3 735.3H117.3L117.3 730.3H118.3L118.3 733.8H119.3L119.3 731.7H120.3L120.3 731.7H121.3L121.3 730.7H122.3L122.3 730.1H123.3L123.3 729.9H124.3L124.3 733.3H125.3L125.3 732.4H126.3L126.3 731.5H127.3L127.3 734.2H128.3L128.3 732.5H129.3L129.3 732.1H130.3L130.3 732.8H131.3L131.3 733.1H132.3L132.3 731.8H133.3L133.3 733.5H134.3L134.3 734.7H135.3L135.3 733.0H136.3L136.3 735.2H137.3L137.3 731.0H138.3L138.3 732.9H139.3L139.3 734.6H140.3L140.3 733.0H141.3L141.3 730.4H142.3L142.3 731.0H143.3L143.3 729.9H144.2L144.2 733.3H145.2L145.2 729.2H146.2L146.2 731.6H147.2L147.2 732.5H148.2L148.2 731.0H149.2L149.2 730.8H150.2L150.2 730.5H151.2L151.2 730.6H152.2L152.2 729.8H153.2L153.2 727.8H154.2L154.2 732.2H155.2L155.2 730.9H156.2L156.2 728.3H157.2L157.2 732.2H158.2L158.2 731.6H159.2L159.2 730.4H160.2L160.2 730.7H161.2L161.2 733.1H162.2L162.2 728.5H163.2L163.2 730.8H164.2L164.2 728.0H165.2L165.2 732.4H166.2L166.2 731.0H167.2L167.2 728.6H168.2L168.2 730.4H169.2L169.2 729.5H170.2L170.2 731.0H171.2L171.2 728.6H172.2L172.2 730.2H173.2L173.2 732.4H174.2L174.2 727.4H175.2L175.2 728.4H176.2L176.2 731.8H177.2L177.2 729.3H178.2L178.2 731.4H179.2L179.2 729.7H180.2L180.2 730.8H181.2L181.2 731.2H182.2L182.2 723.4H183.2L183.2 725.9H184.2L184.2 722.6H185.2L185.2 722.9H186.2L186.2 723.8H187.2L187.2 723.8H188.2L188.2 728.8H189.2L189.2 725.6H190.2L190.2 730.2H191.2L191.2 730.9H192.2L192.2 732.3H193.2L193.2 723.8H194.2L194.2 725.5H195.2L195.2 723.6H196.2L196.2 727.8H197.2L197.2 731.3H198.2L198.2 724.9H199.2L199.2 727.3H200.2L200.2 726.5H201.2L201.2 726.6H202.2L202.2 731.0H203.2L203.2 729.8H204.2L204.2 724.5H205.2L205.2 730.2H206.2L206.2 731.2H207.2L207.2 725.8H208.2L208.2 723.8H209.2L209.2 726.3H210.2L210.2 729.6H211.2L211.2 724.5H212.2L212.2 730.0H213.2L213.2 725.5H214.2L214.2 729.2H215.2L215.2 727.6H216.2L216.2 731.7H217.2L217.2 728.8H218.2L218.2 731.2H219.2L219.2 733.1H220.2L220.2 729.4H221.2L221.2 728.1H222.2L222.2 732.4H223.2L223.2 731.0H224.2L224.2 733.6H225.2L225.2 733.4H226.2L226.2 733.4H227.2L227.2 732.9H228.2L228.2 727.2H229.2L229.2 732.7H230.2L230.2 726.6H231.2L231.2 729.1H232.2L232.2 732.6H233.2L233.2 725.6H234.2L234.2 732.6H235.2L235.2 731.6H236.2L236.2 728.4H237.2L237.2 726.4H238.2L238.2 729.2H239.2L239.2 728.0H240.2L240.2 731.0H241.2L241.2 729.6H242.2L242.2 731.4H243.2L243.2 730.4H244.1L244.1 729.6H245.1L245.1 728.5H246.1L246.1 730.2H247.1L247.1 730.6H248.1L248.1 730.2H249.1L249.1 727.0H250.1L250.1 728.4H251.1L251.1 729.0H252.1L252.1 729.8H253.1L253.1 728.2H254.1L254.1 731.1H255.1L255.1 728.9H256.1L256.1 730.5H257.1L257.1 727.2H258.1L258.1 731.9H259.1L259.1 732.0H260.1L260.1 732.6H261.1L261.1 732.2H262.1L262.1 732.0H263.1L263.1 731.2H264.1L264.1 728.9H265.1L265.1 733.2H266.1L266.1 730.2H267.1L267.1 727.5H268.1L268.1 730.6H269.1L269.1 732.1H270.1L270.1 729.2H271.1L271.1 732.3H272.1L272.1 726.5H273.1L273.1 726.7H274.1L274.1 728.9H275.1L275.1 726.3H276.1L276.1 723.4H277.1L277.1 731.2H278.1L278.1 731.5H279.1L279.1 729.3H280.1L280.1 726.4H281.1L281.1 725.2H282.1L282.1 727.8H283.1L283.1 727.8H284.1L284.1 729.1H285.1L285.1 729.3H286.1L286.1 725.7H287.1L287.1 729.6H288.1L288.1 732.2H289.1L289.1 731.3H290.1L290.1 731.5H291.1L291.1 730.1H292.1L292.1 727.3H293.1L293.1 728.8H294.1L294.1 728.7H295.1L295.1 729.8H296.1L296.1 732.7H297.1L297.1 732.0H298.1L298.1 730.4H299.1L299.1 728.9H300.1L300.1 729.2H301.1L301.1 728.1H302.1L302.1 729.2H303.1L303.1 732.7H304.1L304.1 728.0H305.1L305.1 726.5H306.1L306.1 731.5H307.1L307.1 727.8H308.1L308.1 731.0H309.1L309.1 731.2H310.1L310.1 727.6H311.1L311.1 727.1H312.1L312.1 732.6H313.1L313.1 727.9H314.1L314.1 733.6H315.1L315.1 728.2H316.1L316.1 726.2H317.1L317.1 730.8H318.1L318.1 727.7H319.1L319.1 732.9H320.1L320.1 730.3H321.1L321.1 732.5H322.1L322.1 726.0H323.1L323.1 727.2H324.1L324.1 731.3H325.1L325.1 732.0H326.1L326.1 732.2H327.1L327.1 731.4H328.1L328.1 728.0H329.1L329.1 732.1H330.1L330.1 727.8H331.1L331.1 728.0H332.1L332.1 732.8H333.1L333.1 730.9H334.1L334.1 732.7H335.1L335.1 727.7H336.1L336.1 731.5H337.1L337.1 733.8H338.1L338.1 731.6H339.1L339.1 727.5H340.1L340.1 730.1H341.1L341.1 731.5H342.1L342.1 730.0H343.1L343.1 732.6H344.1L344.1 732.9H345.0L345.0 725.7H346.0L346.0 727.5H347.0L347.0 727.9H348.0L348.0 732.7H349.0L349.0 728.8H350.0L350.0 732.5H351.0L351.0 724.7H352.0L352.0 725.7H353.0L353.0 724.3H354.0L354.0 727.5H355.0L355.0 732.6H356.0L356.0 728.5H357.0L357.0 725.7H358.0L358.0 730.5H359.0L359.0 733.2H360.0L360.0 726.4H361.0L361.0 728.0H362.0L362.0 727.9H363.0L363.0 726.4H364.0L364.0 732.3H365.0L365.0 726.1H366.0L366.0 725.9H367.0L367.0 725.6H368.0L368.0 732.9H369.0L369.0 729.8H370.0L370.0 731.3H371.0L371.0 726.9H372.0L372.0 731.1H373.0L373.0 727.4H374.0L374.0 726.9H375.0L375.0 728.1H376.0L376.0 730.3H377.0L377.0 732.6H378.0L378.0 727.7H379.0L379.0 733.2H380.0L380.0 732.1H381.0L381.0 733.4H382.0L382.0 732.8H383.0L383.0 730.6H384.0L384.0 732.1H385.0L385.0 731.6H386.0L386.0 733.8H387.0L387.0 728.1H388.0L388.0 732.5H389.0L389.0 732.4H390.0L390.0 729.6H391.0L391.0 731.4H392.0L392.0 728.1H393.0L393.0 729.2H394.0L394.0 727.5H395.0L395.0 727.7H396.0L396.0 733.2H397.0L397.0 733.5H398.0L398.0 726.0H399.0L399.0 732.9H400.0L400.0 726.9H401.0L401.0 728.0H402.0L402.0 724.7H403.0L403.0 730.3H404.0L404.0 725.7H405.0L405.0 732.3H406.0L406.0 730.3H407.0L407.0 728.7H408.0L408.0 729.8H409.0L409.0 733.9H410.0L410.0 730.1H411.0L411.0 729.4H412.0L412.0 733.3H413.0L413.0 730.7H414.0L414.0 731.3H415.0L415.0 731.3H416.0L416.0 731.3H417.0L417.0 730.2H418.0L418.0 732.4H419.0L419.0 727.7H420.0L420.0 726.0H421.0L421.0 729.5H422.0L422.0 725.2H423.0L423.0 725.1H424.0L424.0 725.8H425.0L425.0 731.6H426.0L426.0 729.1H427.0L427.0 729.8H428.0L428.0 727.8H429.0L429.0 731.7H430.0L430.0 726.9H431.0L431.0 725.9H432.0L432.0 732.2H433.0L433.0 729.7H434.0L434.0 728.9H435.0L435.0 730.5H436.0L436.0 728.2H437.0L437.0 728.1H438.0L438.0 732.0H439.0L439.0 732.1H440.0L440.0 731.0H441.0L441.0 732.8H442.0L442.0 728.2H443.0L443.0 732.5H444.0L444.0 730.9H444.9L444.9 730.3H445.9L445.9 731.1H446.9L446.9 728.6H447.9L447.9 730.1H448.9L448.9 732.2H449.9L449.9 726.9H450.9L450.9 729.2H451.9L451.9 732.8H452.9L452.9 729.5H453.9L453.9 732.7H454.9L454.9 728.7H455.9L455.9 733.3H456.9L456.9 730.5H457.9L457.9 730.9H458.9L458.9 727.7H459.9L459.9 732.5H460.9L460.9 726.4H461.9L461.9 727.7H462.9L462.9 725.9H463.9L463.9 726.7H464.9L464.9 723.8H465.9L465.9 719.6H466.9L466.9 721.9H467.9L467.9 725.6H468.9L468.9 726.7H469.9L469.9 719.3H470.9L470.9 728.8H471.9L471.9 723.8H472.9L472.9 722.1H473.9L473.9 731.4H474.9L474.9 727.7H475.9L475.9 730.8H476.9L476.9 728.0H477.9L477.9 733.0H478.9L478.9 732.4H479.9L479.9 732.5H480.9L480.9 726.1H481.9L481.9 725.0H482.9L482.9 724.7H483.9L483.9 727.2H484.9L484.9 727.7H485.9L485.9 726.7H486.9L486.9 732.3H487.9L487.9 730.5H488.9L488.9 731.9H489.9L489.9 733.4H490.9L490.9 729.4H491.9L491.9 731.0H492.9L492.9 730.3H493.9L493.9 729.8H494.9L494.9 729.0H495.9L495.9 733.7H496.9L496.9 734.1H497.9L497.9 731.3H498.9L498.9 731.8H499.9L499.9 726.0H500.9L500.9 727.6H501.9L501.9 730.5H502.9L502.9 732.9H503.9L503.9 727.3H504.9L504.9 730.3H505.9L505.9 732.0H506.9L506.9 726.2H507.9L507.9 727.4H508.9L508.9 732.2H509.9L509.9 725.4H510.9L510.9 727.3H511.9L511.9 727.5H512.9L512.9 724.6H513.9L513.9 726.8H514.9L514.9 731.2H515.9L515.9 724.3H516.9L516.9 728.8H517.9L517.9 725.2H518.9L518.9 727.4H519.9L519.9 733.4H520.9L520.9 733.8H521.9L521.9 733.4H522.9L522.9 731.5H523.9L523.9 731.5H524.9L524.9 727.0H525.9L525.9 730.7H526.9L526.9 732.1H527.9L527.9 726.7H528.9L528.9 728.0H529.9L529.9 727.8H530.9L530.9 729.0H531.9L531.9 728.2H532.9L532.9 728.2H533.9L533.9 732.5H534.9L534.9 727.4H535.9L535.9 726.5H536.9L536.9 729.2H537.9L537.9 728.0H538.9L538.9 730.6H539.9L539.9 733.2H540.9L540.9 728.9H541.9L541.9 734.0H542.9L542.9 732.5H543.9L543.9 731.0H544.9L544.9 730.2H545.8L545.8 732.2H546.8L546.8 730.1H547.8L547.8 724.0H548.8L548.8 729.9H549.8L549.8 722.5H550.8L550.8 715.4H551.8L551.8 727.8H552.8L552.8 720.3H553.8L553.8 726.9H554.8L554.8 722.8H555.8L555.8 716.0H556.8L556.8 715.7H557.8L557.8 729.1H558.8L558.8 722.8H559.8L559.8 731.4H560.8L560.8 728.4H561.8L561.8 722.2H562.8L562.8 727.0H563.8L563.8 728.2H564.8L564.8 729.7H565.8L565.8 727.1H566.8L566.8 729.4H567.8L567.8 731.7H568.8L568.8 727.8H569.8L569.8 730.8H570.8L570.8 729.5H571.8L571.8 730.0H572.8L572.8 730.0H573.8L573.8 733.3H574.8L574.8 730.7H575.8L575.8 727.6H576.8L576.8 723.8H577.8L577.8 722.1H578.8L578.8 724.9H579.8L579.8 727.6H580.8L580.8 724.3H581.8L581.8 726.8H582.8L582.8 727.7H583.8L583.8 724.2H584.8L584.8 725.4H585.8L585.8 727.7H586.8L586.8 731.8H587.8L587.8 729.6H588.8L588.8 728.0H589.8L589.8 732.2H590.8L590.8 728.7H591.8L591.8 728.4H592.8L592.8 731.4H593.8L593.8 730.2H594.8L594.8 733.1H595.8L595.8 728.6H596.8L596.8 725.7H597.8L597.8 730.4H598.8L598.8 727.4H599.8L599.8 729.9H600.8L600.8 731.4H601.8L601.8 731.2H602.8L602.8 728.6H603.8L603.8 730.0H604.8L604.8 727.7H605.8L605.8 725.6H606.8L606.8 729.2H607.8L607.8 728.4H608.8L608.8 725.7H609.8L609.8 729.0H610.8L610.8 730.3H611.8L611.8 728.3H612.8L612.8 729.9H613.8L613.8 726.9H614.8L614.8 729.7H615.8L615.8 722.0H616.8L616.8 723.2H617.8L617.8 718.0H618.8L618.8 729.6H619.8L619.8 719.5H620.8L620.8 721.9H621.8L621.8 730.4H622.8L622.8 725.4H623.8L623.8 727.4H624.8L624.8 727.8H625.8L625.8 728.1H626.8L626.8 731.1H627.8L627.8 730.3H628.8L628.8 731.5H629.8L629.8 730.3H630.8L630.8 733.3H631.8L631.8 733.4H632.8L632.8 734.3H633.8L633.8 734.6H634.8L634.8 733.1H635.8L635.8 732.4H636.8L636.8 732.4H637.8L637.8 734.0H638.8L638.8 734.9H639.8L639.8 735.3H640.8L640.8 736.2H641.8L641.8 733.2H642.8L642.8 734.7H643.8L643.8 733.9H644.8L644.8 733.9H645.8L645.8 743.1H644.8L644.8 743.4H643.8L643.8 743.3H642.8L642.8 742.2H641.8L641.8 744.1H640.8L640.8 744.4H639.8L639.8 744.8H638.8L638.8 744.5H637.8L637.8 743.7H636.8L636.8 745.6H635.8L635.8 745.8H634.8L634.8 745.5H633.8L633.8 743.3H632.8L632.8 743.2H631.8L631.8 746.3H630.8L630.8 744.5H629.8L629.8 745.6H628.8L628.8 746.4H627.8L627.8 747.2H626.8L626.8 744.5H625.8L625.8 744.5H624.8L624.8 748.3H623.8L623.8 746.1H622.8L622.8 750.5H621.8L621.8 748.0H620.8L620.8 746.4H619.8L619.8 745.4H618.8L618.8 750.2H617.8L617.8 744.9H616.8L616.8 744.7H615.8L615.8 747.0H614.8L614.8 746.1H613.8L613.8 746.8H612.8L612.8 745.2H611.8L611.8 745.1H610.8L610.8 744.0H609.8L609.8 744.0H608.8L608.8 744.1H607.8L607.8 744.7H606.8L606.8 746.4H605.8L605.8 744.2H604.8L604.8 745.8H603.8L603.8 750.3H602.8L602.8 744.7H601.8L601.8 748.7H600.8L600.8 746.3H599.8L599.8 751.0H598.8L598.8 751.3H597.8L597.8 745.3H596.8L596.8 744.6H595.8L595.8 744.4H594.8L594.8 748.0H593.8L593.8 748.5H592.8L592.8 747.5H591.8L591.8 746.2H590.8L590.8 744.7H589.8L589.8 745.8H588.8L588.8 743.9H587.8L587.8 746.8H586.8L586.8 748.3H585.8L585.8 746.1H584.8L584.8 749.7H583.8L583.8 748.3H582.8L582.8 747.0H581.8L581.8 746.7H580.8L580.8 751.0H579.8L579.8 745.9H578.8L578.8 746.4H577.8L577.8 747.7H576.8L576.8 746.2H575.8L575.8 748.1H574.8L574.8 749.2H573.8L573.8 748.5H572.8L572.8 746.7H571.8L571.8 745.9H570.8L570.8 747.5H569.8L569.8 748.2H568.8L568.8 749.1H567.8L567.8 744.5H566.8L566.8 748.6H565.8L565.8 744.9H564.8L564.8 749.8H563.8L563.8 746.1H562.8L562.8 749.5H561.8L561.8 749.1H560.8L560.8 748.4H559.8L559.8 750.3H558.8L558.8 751.0H557.8L557.8 748.3H556.8L556.8 748.5H555.8L555.8 753.0H554.8L554.8 748.1H553.8L553.8 752.1H552.8L552.8 749.2H551.8L551.8 755.0H550.8L550.8 748.7H549.8L549.8 747.6H548.8L548.8 747.5H547.8L547.8 752.4H546.8L546.8 753.9H545.8L545.8 752.8H544.9L544.9 750.1H543.9L543.9 749.4H542.9L542.9 746.6H541.9L541.9 751.9H540.9L540.9 753.3H539.9L539.9 754.7H538.9L538.9 748.5H537.9L537.9 753.8H536.9L536.9 752.5H535.9L535.9 750.0H534.9L534.9 752.9H533.9L533.9 750.5H532.9L532.9 745.7H531.9L531.9 748.9H530.9L530.9 747.4H529.9L529.9 746.9H528.9L528.9 749.4H527.9L527.9 751.0H526.9L526.9 745.1H525.9L525.9 750.5H524.9L524.9 746.8H523.9L523.9 746.6H522.9L522.9 746.1H521.9L521.9 747.4H520.9L520.9 747.7H519.9L519.9 751.6H518.9L518.9 753.9H517.9L517.9 751.8H516.9L516.9 751.2H515.9L515.9 752.2H514.9L514.9 750.6H513.9L513.9 752.5H512.9L512.9 752.3H511.9L511.9 747.1H510.9L510.9 746.4H509.9L509.9 747.7H508.9L508.9 748.1H507.9L507.9 751.2H506.9L506.9 747.7H505.9L505.9 751.5H504.9L504.9 746.7H503.9L503.9 745.3H502.9L502.9 752.7H501.9L501.9 750.8H500.9L500.9 750.2H499.9L499.9 744.9H498.9L498.9 745.7H497.9L497.9 744.9H496.9L496.9 748.9H495.9L495.9 745.3H494.9L494.9 747.3H493.9L493.9 749.1H492.9L492.9 744.7H491.9L491.9 745.1H490.9L490.9 745.2H489.9L489.9 745.9H488.9L488.9 745.0H487.9L487.9 745.8H486.9L486.9 748.8H485.9L485.9 748.9H484.9L484.9 747.3H483.9L483.9 747.9H482.9L482.9 744.5H481.9L481.9 745.2H480.9L480.9 747.9H479.9L479.9 745.2H478.9L478.9 746.5H477.9L477.9 744.4H476.9L476.9 748.5H475.9L475.9 745.8H474.9L474.9 747.6H473.9L473.9 750.3H472.9L472.9 751.9H471.9L471.9 751.9H470.9L470.9 750.1H469.9L469.9 746.8H468.9L468.9 750.6H467.9L467.9 750.3H466.9L466.9 750.5H465.9L465.9 751.9H464.9L464.9 752.2H463.9L463.9 749.8H462.9L462.9 746.0H461.9L461.9 750.2H460.9L460.9 749.6H459.9L459.9 749.5H458.9L458.9 751.0H457.9L457.9 745.7H456.9L456.9 748.1H455.9L455.9 750.2H454.9L454.9 744.8H453.9L453.9 749.9H452.9L452.9 748.7H451.9L451.9 746.5H450.9L450.9 751.0H449.9L449.9 746.4H448.9L448.9 748.0H447.9L447.9 749.5H446.9L446.9 748.2H445.9L445.9 749.8H444.9L444.9 749.1H444.0L444.0 747.4H443.0L443.0 749.0H442.0L442.0 747.2H441.0L441.0 747.0H440.0L440.0 744.6H439.0L439.0 750.4H438.0L438.0 750.8H437.0L437.0 749.1H436.0L436.0 745.8H435.0L435.0 747.7H434.0L434.0 746.3H433.0L433.0 750.6H432.0L432.0 746.2H431.0L431.0 749.3H430.0L430.0 747.6H429.0L429.0 749.1H428.0L428.0 746.7H427.0L427.0 751.0H426.0L426.0 752.9H425.0L425.0 747.9H424.0L424.0 749.5H423.0L423.0 747.6H422.0L422.0 751.2H421.0L421.0 745.3H420.0L420.0 748.0H419.0L419.0 745.9H418.0L418.0 749.9H417.0L417.0 744.2H416.0L416.0 749.2H415.0L415.0 748.8H414.0L414.0 748.1H413.0L413.0 750.5H412.0L412.0 750.3H411.0L411.0 750.2H410.0L410.0 746.7H409.0L409.0 745.5H408.0L408.0 748.2H407.0L407.0 750.3H406.0L406.0 746.5H405.0L405.0 749.3H404.0L404.0 748.0H403.0L403.0 748.7H402.0L402.0 748.7H401.0L401.0 745.5H400.0L400.0 751.7H399.0L399.0 746.8H398.0L398.0 744.4H397.0L397.0 744.3H396.0L396.0 750.5H395.0L395.0 746.3H394.0L394.0 746.9H393.0L393.0 749.3H392.0L392.0 750.3H391.0L391.0 749.4H390.0L390.0 745.7H389.0L389.0 749.9H388.0L388.0 747.8H387.0L387.0 750.9H386.0L386.0 747.3H385.0L385.0 744.5H384.0L384.0 746.0H383.0L383.0 747.0H382.0L382.0 746.6H381.0L381.0 751.8H380.0L380.0 746.1H379.0L379.0 750.8H378.0L378.0 750.5H377.0L377.0 748.5H376.0L376.0 747.0H375.0L375.0 750.6H374.0L374.0 744.8H373.0L373.0 747.6H372.0L372.0 746.8H371.0L371.0 750.9H370.0L370.0 748.4H369.0L369.0 752.3H368.0L368.0 745.9H367.0L367.0 747.0H366.0L366.0 750.9H365.0L365.0 751.4H364.0L364.0 750.9H363.0L363.0 748.0H362.0L362.0 751.5H361.0L361.0 745.3H360.0L360.0 747.4H359.0L359.0 747.1H358.0L358.0 748.6H357.0L357.0 744.7H356.0L356.0 748.0H355.0L355.0 752.5H354.0L354.0 745.5H353.0L353.0 747.6H352.0L352.0 749.0H351.0L351.0 747.1H350.0L350.0 751.2H349.0L349.0 750.7H348.0L348.0 747.1H347.0L347.0 747.5H346.0L346.0 750.6H345.0L345.0 748.9H344.1L344.1 750.8H343.1L343.1 746.7H342.1L342.1 750.1H341.1L341.1 749.9H340.1L340.1 750.3H339.1L339.1 749.2H338.1L338.1 749.1H337.1L337.1 748.9H336.1L336.1 750.5H335.1L335.1 750.0H334.1L334.1 747.3H333.1L333.1 745.2H332.1L332.1 746.7H331.1L331.1 746.1H330.1L330.1 748.6H329.1L329.1 749.3H328.1L328.1 745.1H327.1L327.1 751.8H326.1L326.1 748.9H325.1L325.1 749.1H324.1L324.1 747.1H323.1L323.1 745.4H322.1L322.1 749.6H321.1L321.1 747.8H320.1L320.1 748.7H319.1L319.1 750.3H318.1L318.1 751.9H317.1L317.1 745.8H316.1L316.1 745.9H315.1L315.1 747.6H314.1L314.1 744.6H313.1L313.1 744.6H312.1L312.1 746.5H311.1L311.1 750.8H310.1L310.1 749.6H309.1L309.1 745.4H308.1L308.1 752.0H307.1L307.1 746.2H306.1L306.1 751.2H305.1L305.1 748.4H304.1L304.1 749.8H303.1L303.1 748.5H302.1L302.1 746.8H301.1L301.1 749.9H300.1L300.1 746.3H299.1L299.1 747.0H298.1L298.1 748.0H297.1L297.1 743.9H296.1L296.1 745.7H295.1L295.1 748.2H294.1L294.1 749.0H293.1L293.1 746.8H292.1L292.1 750.4H291.1L291.1 748.7H290.1L290.1 750.9H289.1L289.1 752.5H288.1L288.1 748.5H287.1L287.1 750.8H286.1L286.1 748.5H285.1L285.1 746.1H284.1L284.1 745.0H283.1L283.1 748.9H282.1L282.1 745.1H281.1L281.1 746.9H280.1L280.1 746.9H279.1L279.1 746.3H278.1L278.1 751.0H277.1L277.1 745.2H276.1L276.1 748.1H275.1L275.1 751.1H274.1L274.1 746.4H273.1L273.1 746.5H272.1L272.1 748.1H271.1L271.1 746.3H270.1L270.1 747.9H269.1L269.1 744.0H268.1L268.1 747.2H267.1L267.1 745.8H266.1L266.1 743.7H265.1L265.1 744.7H264.1L264.1 749.7H263.1L263.1 746.6H262.1L262.1 747.9H261.1L261.1 749.8H260.1L260.1 750.7H259.1L259.1 745.4H258.1L258.1 749.4H257.1L257.1 748.8H256.1L256.1 745.5H255.1L255.1 745.7H254.1L254.1 749.2H253.1L253.1 749.9H252.1L252.1 751.3H251.1L251.1 747.4H250.1L250.1 749.0H249.1L249.1 749.8H248.1L248.1 749.0H247.1L247.1 745.3H246.1L246.1 744.5H245.1L245.1 747.9H244.1L244.1 749.3H243.2L243.2 745.2H242.2L242.2 750.5H241.2L241.2 751.7H240.2L240.2 745.5H239.2L239.2 747.9H238.2L238.2 746.4H237.2L237.2 752.0H236.2L236.2 746.2H235.2L235.2 747.3H234.2L234.2 754.2H233.2L233.2 751.6H232.2L232.2 753.0H231.2L231.2 754.3H230.2L230.2 750.6H229.2L229.2 750.5H228.2L228.2 746.7H227.2L227.2 748.9H226.2L226.2 748.7H225.2L225.2 753.0H224.2L224.2 746.9H223.2L223.2 750.9H222.2L222.2 748.0H221.2L221.2 752.1H220.2L220.2 749.3H219.2L219.2 754.1H218.2L218.2 753.0H217.2L217.2 751.6H216.2L216.2 750.1H215.2L215.2 747.8H214.2L214.2 747.6H213.2L213.2 748.2H212.2L212.2 746.5H211.2L211.2 750.3H210.2L210.2 749.8H209.2L209.2 750.4H208.2L208.2 752.8H207.2L207.2 748.4H206.2L206.2 751.7H205.2L205.2 747.2H204.2L204.2 748.5H203.2L203.2 752.2H202.2L202.2 747.2H201.2L201.2 754.2H200.2L200.2 748.0H199.2L199.2 754.9H198.2L198.2 750.6H197.2L197.2 751.5H196.2L196.2 747.0H195.2L195.2 753.1H194.2L194.2 748.6H193.2L193.2 748.7H192.2L192.2 747.7H191.2L191.2 752.2H190.2L190.2 746.5H189.2L189.2 752.4H188.2L188.2 755.0H187.2L187.2 746.6H186.2L186.2 747.9H185.2L185.2 748.3H184.2L184.2 747.5H183.2L183.2 748.7H182.2L182.2 751.9H181.2L181.2 753.1H180.2L180.2 752.2H179.2L179.2 750.9H178.2L178.2 745.1H177.2L177.2 749.4H176.2L176.2 745.2H175.2L175.2 747.5H174.2L174.2 747.1H173.2L173.2 749.1H172.2L172.2 749.1H171.2L171.2 746.1H170.2L170.2 746.9H169.2L169.2 749.4H168.2L168.2 750.2H167.2L167.2 748.5H166.2L166.2 748.6H165.2L165.2 745.6H164.2L164.2 746.6H163.2L163.2 746.6H162.2L162.2 746.8H161.2L161.2 743.7H160.2L160.2 743.7H159.2L159.2 748.0H158.2L158.2 746.8H157.2L157.2 748.5H156.2L156.2 748.7H155.2L155.2 748.8H154.2L154.2 745.0H153.2L153.2 749.5H152.2L152.2 743.9H151.2L151.2 745.6H150.2L150.2 743.6H149.2L149.2 745.8H148.2L148.2 746.1H147.2L147.2 746.2H146.2L146.2 748.4H145.2L145.2 748.0H144.2L144.2 745.0H143.3L143.3 744.0H142.3L142.3 743.9H141.3L141.3 743.4H140.3L140.3 744.9H139.3L139.3 743.6H138.3L138.3 745.9H137.3L137.3 747.1H136.3L136.3 746.0H135.3L135.3 747.6H134.3L134.3 748.0H133.3L133.3 748.0H132.3L132.3 744.7H131.3L131.3 743.7H130.3L130.3 744.7H129.3L129.3 747.3H128.3L128.3 742.9H127.3L127.3 747.3H126.3L126.3 746.1H125.3L125.3 743.7H124.3L124.3 744.6H123.3L123.3 745.1H122.3L122.3 746.4H121.3L121.3 743.4H120.3L120.3 745.0H119.3L119.3 745.0H118.3L118.3 746.6H117.3L117.3 743.5H116.3L116.3 744.6H115.3L115.3 745.1H114.3L114.3 745.7H113.3L113.3 743.5H112.3L112.3 744.6H111.3L111.3 744.7H110.3L110.3 742.8H109.3L109.3 745.3H108.3L108.3 745.5H107.3L107.3 745.4H106.3L106.3 744.8H105.3L105.3 743.9H104.3L104.3 746.0H103.3L103.3 745.8H102.3L102.3 743.9H101.3L101.3 745.6H100.3L100.3 747.6H99.3L99.3 745.4H98.3L98.3 747.8H97.3L97.3 750.8H96.3L96.3 747.2H95.3L95.3 749.8H94.3L94.3 751.1H93.3L93.3 748.7H92.3L92.3 745.2H91.3L91.3 745.3H90.3L90.3 751.5H89.3L89.3 746.9H88.3L88.3 746.5H87.3L87.3 749.6H86.3L86.3 751.3H85.3L85.3 748.2H84.3L84.3 745.0H83.3L83.3 749.0H82.3L82.3 749.0H81.3L81.3 748.4H80.3L80.3 748.8H79.3L79.3 748.4H78.3L78.3 749.9H77.3L77.3 749.2H76.3L76.3 744.7H75.3L75.3 751.2H74.3L74.3 750.6H73.3L73.3 751.4H72.3L72.3 748.0H71.3L71.3 748.4H70.3L70.3 746.7H69.3L69.3 749.6H68.3L68.3 747.6H67.3L67.3 755.2H66.3L66.3 752.1H65.3L65.3 752.7H64.3L64.3 755.5H63.3L63.3 753.0H62.3L62.3 747.0H61.3L61.3 754.4H60.3L60.3 752.3H59.3L59.3 751.4H58.3L58.3 750.2H57.3L57.3 747.9H56.3L56.3 745.9H55.3L55.3 752.2H54.3L54.3 749.1H53.3L53.3 751.7H52.3L52.3 746.4H51.3L51.3 749.4H50.3L50.3 747.3H49.3L49.3 744.7H48.3L48.3 742.5H47.3L47.3 744.9H46.3L46.3 743.2H45.3L45.3 742.0H44.3L44.3 742.5H43.4Z" fill="#0000ff" fill-opacity=".8"/>
<path transform="translate(43.35 739.10) scale(0.06244 .1)" d="M0 -30l1-51 1 134 1-14 1 19 1-44 1 5 1-110 1 177 1-117 1 62 1-26 1-86 1 130 1-46 1 48 1-98 1 89 1-92 1 61 1-118 1 218 1-244 1 100 1 109 1 26 1-123 1 32 1 6 1-113 1 84 1 100 1-163 1 49 1 3 1 0 1 12 1 34 1-28 1 103 1-93 1 85 1-95 1 32 1-43 1 43 1-13 1 11 1-35 1-112 1 48 1-12 1 108 1-97 1 17 1 73 1 12 1-39 1 19 1-71 1 22 1 60 1 90 1-118 1 74 1-81 1-19 1 3 1 0 1 77 1-14 1 112 1-198 1-38 1 84 1 81 1-104 1 61 1-28 1-140 1 140 1 65 1-97 1 59 1 68 1-84 1-78 1 126 1-155 1 145 1 124 1-152 1 91 1-151 1 142 1-44 1 27 1-67 1-34 1 54 1 110 1-225 1 37 1 217 1-254 1 123 1-52 1-57 1-88 1 145 1 32 1-49 1-35 1 197 1-86 1-31 1 53 1-55 1-37 1 3 1-150 1 213 1-115 1 2 1-128 1-113 1 314 1-32 1 56 1-48 1 11 1 43 1 32 1-11 1 137 1-382 1 261 1 60 1-273 1 138 1-302 1 405 1-145 1 92 1-65 1 84 1-50 1 34 1-26 1-331 1 258 1-165 1 234 1-138 1 229 1-25 1-260 1 193 1 201 1-181 1 42 1-180 1 90 1-141 1 145 1 108 1 96 1-80 1-3 1 254 1-400 1 204 1-265 1-35 1-411 1 444 1 162 1-50 1-207 1-127 1 374 1-366 1-91 1 590 1 56 1 16 1-206 1-478 1 492 1 132 1-451 1 743 1-317 1-319 1-13 1 321 1-337 1 191 1-197 1-9 1-45 1-5 1 333 1-34 1-70 1 75 1-73 1-43 1-136 1-95 1 227 1-38 1 304 1-166 1-47 1 2 1 26 1-88 1 135 1-28 1-45 1-237 1 192 1 137 1 15 1-56 1-26 1 72 1-95 1-123 1 40 1-70 1 152 1-199 1 72 1 35 1 129 1 48 1-45 1-40 1 187 1 11 1-102 1-140 1 34 1-121 1 225 1 23 1-174 1 25 1-167 1 145 1-23 1 76 1-102 1 70 1 36 1-37 1 49 1 21 1-102 1-131 1 101 1-103 1 173 1 117 1-187 1 224 1-4 1-123 1 280 1-167 1-66 1-381 1 221 1 135 1 91 1-352 1 273 1 180 1-556 1 205 1 73 1-139 1 161 1-134 1 113 1-172 1-3 1 215 1 151 1-101 1-411 1 575 1-226 1 106 1-55 1-6 1-80 1 36 1-428 1 480 1 83 1 31 1-123 1 297 1-364 1-141 1 426 1-322 1-166 1 123 1 135 1 154 1-257 1 78 1-94 1-9 1 106 1 68 1-48 1 141 1-254 1-90 1 225 1 78 1-128 1 136 1-144 1-102 1 238 1 272 1-544 1 122 1 115 1 113 1-141 1-157 1 289 1-193 1-65 1 87 1 140 1-412 1 136 1 114 1-15 1-3 1 108 1-196 1 1 1 129 1-7 1-35 1 116 1-84 1-49 1 368 1-248 1-106 1 228 1-111 1-469 1 301 1-1 1 117 1-106 1 153 1 335 1-518 1 199 1-6 1-160 1 42 1-54 1-86 1 64 1 121 1 94 1-51 1-47 1-38 1 19 1 28 1-13 1 16 1-72 1-18 1-19 1 1 1 102 1-112 1 86 1 17 1-126 1 66 1 263 1-104 1-157 1 304 1-55 1-65 1-328 1 323 1-143 1-109 1 47 1 143 1 177 1-464 1 54 1 466 1-470 1 85 1 71 1-34 1 11 1-164 1 177 1-8 1-19 1 242 1-122 1 18 1 24 1-246 1 115 1 134 1-53 1-119 1 68 1 13 1-145 1 100 1-212 1 279 1-90 1 47 1-32 1-80 1-52 1 103 1 82 1 61 1 51 1-271 1 78 1-103 1 73 1 105 1-42 1-72 1 48 1 82 1-71 1 125 1-40 1-178 1 148 1 215 1-181 1-34 1-186 1 247 1-137 1 39 1-53 1 20 1-11 1 102 1-128 1-131 1 223 1 24 1 9 1 138 1-196 1 137 1-108 1-4 1 71 1-34 1 101 1-90 1 94 1-202 1-17 1 161 1 122 1-104 1-137 1 132 1-29 1-32 1-195 1 180 1 76 1-34 1-115 1 92 1 34 1-49 1-9 1-267 1 88 1 149 1-151 1 94 1-112 1 22 1 27 1 133 1-194 1 159 1-110 1 176 1-138 1-80 1 229 1 53 1 215 1-291 1 134 1-98 1-165 1-96 1 83 1-107 1 31 1 17 1 128 1 104 1-134 1 97 1 18 1 100 1-227 1-184 1 320 1-214 1 215 1 85 1-230 1 68 1-87 1 65 1 75 1 32 1 23 1-280 1 141 1-163 1 34 1 228 1 137 1 46 1-247 1 27 1 42 1 8 1-141 1 192 1-63 1 64 1-130 1-132 1 37 1 148 1-95 1-43 1 133 1 192 1-593 1 418 1-58 1 72 1 75 1-83 1 29 1-81 1-1 1-244 1 42 1 267 1-3 1-33 1 146 1-213 1 65 1 19 1 28 1-112 1-93 1 176 1 2 1 158 1-196 1 26 1-148 1 34 1 65 1 94 1-171 1 91 1 94 1 83 1-61 1-30 1-105 1 35 1 14 1-102 1 161 1 38 1-168 1 118 1-108 1 148 1-318 1 30 1 68 1 75 1-15 1 80 1-65 1 57 1 15 1 29 1-135 1-43 1 111 1 109 1-193 1-87 1 197 1 50 1-126 1-112 1 234 1-156 1 263 1-314 1 203 1-75 1 126 1-98 1 49 1-98 1-14 1-29 1-50 1 144 1-36 1 26 1 97 1-83 1-21 1-75 1 83 1 24 1-130 1-24 1 22 1 89 1-54 1 52 1-225 1 259 1-254 1-21 1 259 1 80 1-149 1 185 1 90 1 20 1-132 1-139 1-192 1 108 1 51 1 85 1-77 1 17 1 46 1 27 1-163 1 207 1 150 1-170 1-194 1 410 1-198 1 26 1-275 1 193 1 16 1-67 1 111 1 8 1-70 1-11 1-687 1 749 1 24 1 147 1-19 1-405 1 265 1-125 1 84 1-186 1-274 1 488 1-6 1 176 1 247 1-520 1-144 1 171 1 100 1-89 1 150 1-105 1-137 1 15 1 170 1-240 1 184 1-112 1 24 1 253 1 7 1-280 1-6 1 140 1-74 1-69 1-96 1 261 1-93 1 115 1-52 1 66 1-186 1 0 1-85 1 213 1-22 1 60 1-19 1 5 1-167 1-30 1 164 1-55 1-34 1 81 1-216 1 341 1-142 1-64 1 73 1 10 1-70 1 115 1-204 1 98 1 108 1-108 1 98 1-131 1 12 1-29 1 314 1-133 1-198 1-20 1-50 1 213 1 100 1-196 1 101 1-60 1-117 1 12 1 157 1-96 1-81 1 158 1-93 1 185 1-152 1-27 1 16 1 68 1 86 1-182 1 67 1 36 1 36 1-179 1 67 1 194 1 79 1-446 1 163 1-53 1-144 1 153 1 27 1 78 1 5 1 65 1 23 1-18 1-135 1 116 1-115 1-132 1 184 1-110 1 35 1 137 1-135 1 6 1 186 1-13 1-166 1-39 1 209 1-30 1-104 1-39 1-18 1 96 1-34 1-98 1 10 1 419 1-375 1 16 1 106 1 49 1-217 1 72 1 76 1-32 1 84 1-214 1 53 1 181 1-89 1 304 1-695 1 414 1-93 1-78 1-56 1 164 1 24 1-42 1-68 1 61 1-94 1 150 1 111 1-100 1-10 1 81 1-74 1-56 1-44 1-5 1 98 1 9 1 21 1-70 1-194 1 128 1 155 1-178 1 57 1 58 1-1 1-83 1 143 1 65 1-277 1-145 1 243 1 138 1-51 1-77 1-24 1-40 1-1 1 364 1-262 1-120 1 158 1-189 1 350 1-132 1 35 1-157 1 23 1 82 1-74 1-7 1 39 1 176 1-207 1 37 1 46 1 64 1-209 1 201 1-142 1-48 1 191 1-35 1-313 1 176 1-73 1 102 1-102 1 17 1-7 1 47 1 197 1-65 1 3 1 59 1 18 1-26 1-50 1 62 1-263 1-37 1 19 1 133 1 63 1 106 1-155 1 52 1-56 1 23 1 62 1-261 1 234 1-88 1-55 1-4 1 15 1 0 1 199 1-65 1-3 1 28 1-110 1-16 1 82 1 101 1-45 1 3 1-15 1-42 1-30 1 39 1 11 1-163 1 108 1 124 1-123 1-39 1 45 1-48 1 163 1-107 1-37 1 74 1-85 1 33 1 31 1-55 1 21 1-15 1 45 1-99 1 88 1-93 1 102 1-12 1 16 1-47 1 17 1-16 1-32 1 17 1 59 1 16 1-12 1-128 1 154 1-45 1-12 1-68 1 222 1-66 1-119 1 73 1 45 1-37 1-89 1-16 1 91 1-54 1 18 1 31 1-50 1-54 1 37 1 58 1 20 1-42 1 35 1-110 1 85 1 0 1-56 1 115 1-67 1 12 1-27 1 85 1-120 1 39 1-22 1 35 1 63 1-93 1-20 1 78 1 42 1 8 1-34 1 2 1 21 1 31 1-100 1 26 1 76 1-56 1-47 1-72 1 95 1-74 1 95 1-126 1 112 1 10 1 21 1-68 1 23 1-8 1 132 1-129 1-89 1 32 1 25 1 59 1-172 1 147 1 77 1-110 1 109 1-31 1-31 1 88 1-174 1 37 1-24 1 93 1 28 1 40 1-174 1 16 1 73 1-26 1-36 1 87 1-127 1 91 1-31 1 8 1-22 1-19 1 40 1 51 1-104 1-18 1 94 1 26 1-96 1 75 1 31 1-81 1-22 1-17 1 137 1-14 1-75 1 88 1-38 1-158 1 52 1 132 1-46 1-15 1 90 1-98 1 72 1-58 1 1 1-86 1 52 1 9 1 26 1-6 1-1 1 12 1 3 1 19 1 7 1-58 1-1 1 59 1 85 1-44 1-98 1-48 1 58 1 39 1-6 1 30 1-122 1 31 1-70 1 131 1-7 1 11 1-11 1-171 1 130 1-37 1 62 1-120 1 51 1 135 1 4 1 16 1-154 1 53 1-8 1-24 1 105 1-98 1 23 1-28 1-93 1 70 1 62 1 11 1-18 1 22 1 67 1 106 1-108 1-159 1-50 1 229 1-55 1-46 1 73 1-110 1-2 1 79 1 12 1-114 1-64 1 66 1 52 1 71 1-37 1 14 1 45 1-31 1-11 1 123 1-210 1 48 1 51 1-63 1 39 1-68 1 31 1 72 1-47 1-40 1-64 1-57 1 157 1-86 1 138 1 34 1-112 1 95 1-76 1 47 1 18 1-89 1-85 1 1 1 105 1-93 1 89 1 104 1 35 1-119 1 119 1-22 1-252 1-23 1 97 1-125 1 303 1-203 1 186 1-255 1 217 1-34 1 34 1 15 1 9 1-60 1 26 1 17 1-148 1 142 1-13 1-128 1 248 1-155 1 21 1 28 1 10 1-63 1 22 1 172 1-128 1-46 1-15 1 48 1-50 1 74 1 21 1-211 1 93 1-161 1 208 1-98 1 30 1 85 1-177 1 42 1 0 1 47 1 31 1 65 1-20 1 133 1-226 1 64 1 121 1-98 1 73 1-52 1-193 1 113 1-31 1 37 1 180 1-149 1 61 1-89 1-89 1 187 1-107 1 69 1-3 1-23 1-68 1 21 1 113 1-76 1-165 1 272 1-124 1-109 1 31 1 64 1 24 1-146 1 21 1 106 1-7 1 53 1-59 1-123 1 169 1 23 1 28 1-72 1-32 1-41 1-3 1-38 1 125 1 44 1-22 1 80 1-74 1-4 1 10 1 18 1-60 1 20 1-37 1 67 1-67 1-10 1 49 1-29 1-59 1 196 1-90 1-52 1 75 1-37 1 20 1-26 1 102 1 4 1-47 1-126 1-15 1 91 1-81 1 128 1-93 1 91 1 22 1-190 1 35 1 56 1 65 1 16 1-114 1-82 1 34 1 159 1-147 1-54 1 111 1 28 1-4 1-38 1-35 1 83 1-68 1 139 1-88 1-16 1 66 1 12 1 125 1-145 1-29 1-51 1 31 1 6 1-76 1 159 1-118 1 7 1 15 1 193 1-76 1-32 1 12 1 24 1-144 1 155 1-225 1 197 1-38 1-76 1-102 1 84 1-40 1 156 1-129 1 50 1 24 1-58 1 107 1-76 1-22 1 39 1-48 1 119 1-47 1 17 1-86 1-52 1 99 1-5 1-2 1 108 1-86 1 20 1 24 1-68 1 55 1 4 1-32 1 37 1-74 1-139 1 244 1-49 1-97 1 101 1-29 1-32 1-63 1 70 1 173 1-115 1-51 1 42 1-69 1 21 1 58 1 73 1-50 1-138 1 31 1-10 1 42 1 27 1-33 1 70 1-27 1-67 1-27 1 11 1 2 1 42 1-11 1 91 1-33 1 57 1-122 1 61 1 19 1-128 1 100 1-11 1-49 1 127 1 38 1-85 1 85 1-114 1-41 1 73 1-122 1 114 1-219 1 173 1-13 1 170 1-290 1 91 1 62 1 102 1-188 1 151 1-26 1 93 1-27 1-220 1 39 1 211 1-42 1 47 1-155 1-7 1 24 1-53 1-34 1 173 1-128 1-103 1 133 1 44 1-111 1 51 1 18 1-64 1 60 1 15 1-23 1-84 1-1 1 88 1-180 1 173 1 21 1-102 1 163 1-254 1 195 1 12 1 69 1-29 1-82 1-97 1 45 1 31 1 41 1-74 1 92 1-133 1 285 1-138 1-32 1-92 1 97 1-54 1-54 1 81 1-136 1 242 1-116 1-54 1 53 1 101 1-80 1 17 1 99 1-218 1 76 1 96 1-11 1-221 1-37 1 272 1-194 1 169 1 30 1-224 1 153 1-123 1-7 1 72 1 106 1-185 1 155 1 44 1 6 1-27 1-57 1-112 1 297 1-380 1 170 1-1 1-54 1 128 1 5 1 14 1-16 1 0 1 54 1-259 1 30 1 202 1-27 1-63 1 10 1 121 1-52 1-25 1-122 1 123 1 71 1-4 1-111 1 189 1-208 1 139 1-151 1-117 1 192 1 8 1 4 1 89 1-135 1 70 1-145 1 55 1 126 1-106 1 12 1 19 1 18 1 24 1 38 1-137 1-76 1 301 1-235 1-150 1 141 1 75 1-30 1 0 1-86 1 112 1-130 1 122 1 39 1-93 1 130 1-52 1-3 1-23 1 29 1-59 1 51 1 73 1-157 1 72 1-24 1-101 1 72 1-62 1 95 1-5 1-85 1 51 1 45 1 83 1 12 1 42 1-31 1-159 1-16 1 148 1-203 1 89 1 19 1 116 1 27 1 74 1-412 1 218 1 120 1-154 1-49 1 20 1-71 1 99 1 112 1 10 1-103 1-107 1 194 1-194 1-25 1 134 1 15 1-163 1 82 1 56 1-40 1-127 1 100 1 204 1-132 1-135 1 24 1 169 1-48 1 70 1-83 1-1 1-95 1 90 1 130 1 55 1-220 1 180 1-191 1 84 1 66 1-150 1 23 1-3 1 82 1-204 1 170 1 102 1-83 1-73 1 89 1 2 1-85 1 73 1-115 1 122 1-3 1-32 1 19 1 129 1-126 1-46 1 64 1 0 1-29 1-66 1 86 1-89 1 16 1 101 1-135 1-73 1 86 1-107 1 129 1-15 1 62 1-63 1 84 1 8 1-102 1 59 1-63 1 50 1-93 1 176 1 31 1-217 1 36 1-52 1 196 1-239 1 131 1-57 1 142 1-57 1 129 1-78 1-10 1 79 1-277 1 284 1-6 1 36 1-84 1-102 1 2 1 51 1 166 1-263 1 132 1-85 1 58 1-122 1 112 1-13 1-8 1 32 1-49 1 119 1-63 1-79 1-17 1-34 1 211 1-117 1 92 1-4 1-155 1-76 1 63 1 68 1 109 1-80 1 73 1-91 1 61 1-174 1-16 1 127 1 243 1-309 1 83 1 85 1-229 1-47 1 149 1 48 1-10 1 50 1 40 1-243 1 171 1 138 1-92 1-31 1 65 1-6 1-8 1 63 1-288 1 25 1 178 1-81 1-26 1 84 1-55 1-53 1 252 1-251 1 53 1 44 1-28 1 15 1-155 1-23 1 111 1 141 1-118 1-87 1 83 1 22 1 88 1 44 1-101 1 71 1-54 1-186 1 133 1-50 1-91 1 172 1-8 1 1 1-50 1 69 1-260 1 56 1 54 1 219 1 2 1-72 1 9 1-72 1-3 1 162 1-165 1 81 1-73 1 52 1-69 1 198 1-158 1 149 1-130 1-49 1 144 1-181 1 87 1-43 1-95 1 120 1-68 1-134 1 306 1-94 1 120 1-251 1 28 1 43 1 0 1 193 1-57 1-272 1 265 1-236 1 124 1 136 1-127 1 15 1 67 1-101 1-67 1 3 1 182 1-107 1 84 1 58 1-26 1-151 1 31 1 85 1 19 1 144 1-132 1-75 1-70 1 131 1-78 1 78 1-67 1 52 1-7 1-113 1 178 1 18 1-65 1-155 1 157 1-24 1 17 1-268 1 215 1 141 1-256 1 70 1 4 1 182 1-279 1 66 1 95 1-32 1 19 1-91 1 61 1 142 1 19 1-89 1-47 1 60 1-97 1 82 1-31 1-32 1-47 1 117 1-110 1 9 1 58 1 155 1-102 1-105 1 22 1 46 1 75 1-285 1 191 1 155 1-249 1 66 1 115 1 182 1-186 1 3 1-95 1 37 1-57 1-23 1 118 1-161 1 54 1 196 1 96 1-292 1 122 1 91 1-192 1 84 1-78 1 107 1 147 1-48 1-244 1-5 1 205 1-174 1 45 1-42 1-102 1-51 1-76 1 259 1 59 1-31 1 107 1 362 1-617 1 102 1 91 1 18 1 255 1-209 1-176 1 112 1-167 1 322 1-162 1-111 1-12 1 31 1 20 1 11 1-142 1 322 1-3 1-271 1-34 1-74 1 55 1 175 1 25 1-295 1 259 1 150 1-169 1 192 1-266 1 75 1-41 1-39 1 203 1-43 1-47 1-65 1-11 1-46 1 8 1 109 1 17 1-70 1 35 1-74 1 91 1 93 1-12 1-7 1 11 1-209 1 224 1-89 1 84 1-123 1 2 1 22 1-133 1 23 1 314 1-208 1-198 1 67 1 79 1 81 1-128 1 137 1-167 1-80 1 7 1 306 1-49 1 45 1-130 1 50 1-38 1-29 1-63 1 65 1 82 1-78 1-64 1-77 1 109 1 156 1-177 1 30 1 92 1-104 1-10 1-64 1 121 1 122 1-29 1-77 1 24 1-141 1-5 1 62 1 137 1-147 1 70 1 152 1-132 1 51 1-104 1 163 1-405 1 255 1-188 1 172 1 224 1-37 1-134 1 31 1-31 1 45 1-61 1 176 1 57 1-227 1-173 1 434 1-175 1 108 1-165 1-88 1-69 1-50 1 80 1 147 1-165 1-59 1 291 1 152 1-50 1-253 1-375 1 361 1 93 1-238 1 240 1-37 1 89 1-28 1-119 1 138 1-160 1 140 1 68 1-41 1 14 1-289 1-80 1 239 1 51 1 112 1 27 1-117 1 50 1-33 1-257 1-138 1 278 1 238 1-281 1 33 1-153 1 253 1-147 1 4 1 79 1-159 1 282 1-32 1-122 1-125 1 422 1-89 1-191 1-20 1-339 1 442 1 61 1-150 1 146 1 47 1-273 1 14 1 87 1 219 1 21 1-134 1-177 1-3 1-88 1 229 1-35 1-32 1-35 1-128 1 86 1-91 1 283 1-146 1-207 1-19 1 444 1-91 1 106 1-105 1 122 1-208 1 129 1-222 1 327 1-160 1-130 1 269 1-201 1 208 1-274 1 182 1-102 1 161 1-238 1 235 1-95 1-292 1 201 1-35 1 192 1-284 1-238 1 218 1 329 1-14 1-295 1-28 1-6 1 171 1 32 1 76 1-145 1 173 1-155 1-84 1-2 1-5 1-7 1 87 1-3 1-139 1 120 1-113 1-32 1-83 1 222 1 65 1-98 1-125 1 170 1-169 1 272 1 32 1 89 1-406 1 275 1-219 1 113 1 216 1-111 1-17 1-151 1-69 1 229 1-87 1 53 1 254 1-298 1 163 1-153 1 27 1 133 1-112 1 41 1-69 1-49 1-81 1 192 1-366 1 285 1-37 1-182 1 374 1 243 1-470 1 164 1-159 1 107 1-6 1-178 1 19 1 124 1 196 1-59 1-93 1 274 1-199 1 70 1-428 1 199 1-62 1-127 1 167 1 107 1 56 1-83 1 23 1 125 1-333 1 179 1-128 1 73 1-100 1 147 1-135 1 232 1-5 1-213 1 234 1-86 1-8 1-102 1 77 1-239 1 75 1 179 1-3 1-237 1 134 1-39 1 182 1 85 1-197 1-56 1 250 1-214 1-26 1 162 1 261 1-329 1-197 1 256 1 50 1-87 1 115 1-207 1 109 1-213 1 303 1-110 1 34 1 139 1-273 1 67 1 36 1-11 1-90 1-22 1 76 1-169 1 5 1 25 1 254 1-414 1 275 1 180 1-129 1 133 1 125 1-181 1 30 1-155 1-229 1 233 1-2 1 48 1 125 1 158 1-130 1-181 1 101 1-58 1-2 1 77 1 29 1-171 1 90 1 80 1 45 1-248 1 237 1-152 1 77 1-78 1 164 1 59 1-314 1 132 1-20 1-88 1 40 1-53 1 327 1-185 1 178 1-246 1-28 1-212 1 278 1-16 1-73 1 68 1 9 1 142 1-394 1 214 1 116 1-146 1 156 1-68 1 140 1-170 1-2 1-32 1 136 1-95 1 192 1-166 1 184 1-6 1-178 1-50 1-8 1-69 1 257 1-171 1 228 1-42 1 120 1 49 1-338 1-133 1 304 1-149 1-111 1 285 1-89 1-151 1 83 1-343 1 321 1 71 1 196 1-98 1-115 1-125 1-29 1 212 1 32 1-306 1 202 1-83 1 83 1-194 1 242 1 170 1-294 1 181 1 54 1 104 1 59 1-333 1 365 1-269 1-127 1 27 1-62 1-230 1 128 1 173 1-61 1 65 1-47 1-163 1 285 1-212 1 43 1 218 1-222 1-42 1 101 1 131 1-48 1-132 1-76 1 161 1 115 1-81 1-2 1-58 1-180 1 232 1-182 1 96 1 41 1-155 1 253 1-74 1-248 1 215 1-43 1 66 1-43 1-47 1 56 1-83 1 222 1 128 1-284 1 36 1-75 1-20 1 197 1-303 1-82 1-20 1 355 1-152 1-68 1 246 1-49 1-143 1-73 1 170 1-28 1-172 1 84 1 139 1-113 1 77 1 3 1 1 1-208 1 31 1 424 1-241 1 58 1-52 1-108 1 50 1 89 1-46 1-148 1 155 1 29 1-104 1-134 1 166 1-92 1 34 1 70 1-20 1-57 1 27 1-57 1 175 1 15 1 90 1 1 1-25 1-247 1 51 1 65 1 124 1-99 1 107 1-270 1 70 1-219 1 197 1 244 1-380 1 264 1-63 1 54 1-23 1-109 1 76 1 154 1-57 1 55 1-168 1-163 1 338 1-254 1 361 1-272 1 18 1-142 1 402 1-79 1-104 1-41 1 52 1 48 1 95 1 15 1-352 1 0 1-4 1 60 1-24 1 60 1-127 1-83 1 165 1-39 1-84 1 68 1 168 1-86 1-204 1 176 1 145 1 283 1-306 1-2 1 241 1-453 1 177 1-72 1-10 1 115 1 257 1-187 1-416 1 188 1 87 1 246 1-210 1-88 1 199 1-154 1 28 1 241 1-80 1-264 1 101 1-53 1 68 1-29 1 226 1-165 1-200 1 77 1 118 1-129 1 310 1-530 1 397 1-120 1 61 1 247 1-179 1-97 1 27 1 18 1 102 1-83 1-90 1-134 1 164 1 267 1-487 1 109 1 155 1-48 1 187 1-102 1 0 1-269 1 206 1-34 1-35 1 97 1-8 1-26 1 7 1 57 1-149 1 163 1-76 1 8 1-134 1 346 1-138 1-93 1-129 1 322 1-261 1-42 1 108 1 2 1 78 1-163 1 172 1-68 1-28 1-21 1-4 1 118 1-468 1 336 1 156 1-86 1 37 1 10 1 73 1-203 1 136 1-4 1-241 1 86 1 142 1 200 1-186 1-165 1 156 1-62 1-97 1 40 1 59 1 290 1-420 1 272 1-78 1-146 1 180 1-39 1-14 1-4 1-149 1-24 1 17 1 38 1 274 1-2 1-341 1-93 1 232 1-40 1 22 1 156 1-232 1-24 1 4 1 154 1-14 1-71 1-181 1 393 1 86 1-129 1-177 1 227 1-22 1-243 1 184 1-60 1 35 1-100 1 170 1-192 1 234 1-14 1-210 1-4 1 121 1 115 1-257 1 81 1-125 1 152 1-209 1 47 1 70 1-46 1-94 1 452 1-426 1 164 1 212 1-100 1 268 1-578 1 389 1-334 1 136 1 5 1-164 1 111 1 237 1-22 1 7 1-262 1-31 1 436 1-45 1-135 1-212 1 53 1-37 1 265 1-123 1-165 1 187 1-96 1-167 1 72 1 145 1 12 1 105 1-87 1-96 1 108 1-38 1-65 1-49 1 172 1-338 1 88 1 202 1 45 1-88 1 43 1-71 1-60 1 174 1-83 1 18 1 19 1-113 1 54 1-76 1-9 1 304 1-120 1-43 1 22 1-87 1 31 1 62 1-103 1 35 1-156 1 39 1-58 1 127 1-118 1 213 1-90 1 103 1 26 1 52 1-405 1 188 1 115 1-7 1-254 1 237 1 130 1-110 1-146 1 156 1-222 1 315 1-148 1-41 1-15 1 170 1-150 1 3 1-44 1 30 1 75 1 56 1-79 1 156 1-165 1 45 1-106 1 266 1-420 1 281 1-126 1-158 1 169 1-35 1-31 1 210 1-57 1-82 1-42 1 83 1 157 1-225 1-8 1-198 1 375 1-41 1 176 1-326 1 8 1 59 1 131 1 49 1-198 1 164 1-95 1 156 1-141 1-139 1 142 1 172 1-105 1-105 1 107 1-179 1 106 1-61 1 111 1 158 1-196 1-37 1 39 1-217 1 87 1 187 1 132 1-117 1-214 1 141 1-311 1 339 1-52 1 119 1-105 1-127 1 140 1 4 1 287 1-270 1 43 1 31 1 20 1-157 1-74 1 125 1-53 1 38 1-23 1 20 1-170 1-40 1 227 1 91 1-239 1 207 1-255 1 270 1-146 1 115 1-166 1-32 1-95 1-36 1 352 1-180 1 126 1-260 1 278 1-370 1 441 1 15 1-94 1-21 1 11 1-217 1 540 1-411 1 35 1-36 1 214 1-205 1-73 1 18 1 22 1 134 1-237 1 289 1-43 1-15 1-12 1-218 1 275 1-93 1-53 1 33 1-214 1 230 1 116 1-133 1-90 1-33 1 120 1 1 1 39 1-181 1 63 1 153 1 218 1-304 1 100 1-175 1 111 1 154 1-232 1-213 1 309 1-54 1 22 1-34 1-80 1 70 1-40 1 90 1-159 1 202 1-58 1-121 1 208 1 3 1-375 1 321 1 30 1-130 1-50 1 154 1 149 1-365 1 157 1-39 1 78 1-83 1-34 1 218 1-105 1 12 1 55 1-211 1 181 1-143 1-46 1 101 1-19 1-284 1 185 1 145 1-205 1 299 1-156 1 330 1-386 1 404 1-40 1-256 1-214 1 241 1 75 1 82 1-317 1 24 1 89 1-103 1 51 1 2 1 125 1 55 1-365 1 296 1 10 1-299 1 279 1-14 1-94 1-75 1 61 1 42 1 130 1-60 1 175 1-132 1-33 1-76 1 55 1-130 1 147 1 39 1-97 1 236 1-209 1-99 1 192 1-2 1-146 1-35 1-96 1 290 1 48 1-37 1-149 1-11 1 94 1 69 1 29 1-147 1 89 1 21 1-364 1 247 1-51 1 28 1 94 1 74 1-5 1-103 1-13 1 37 1 75 1 22 1-169 1 72 1-48 1 0 1-91 1 66 1 11 1 80 1 208 1-216 1 28 1-149 1 5 1-207 1 276 1-112 1 45 1-20 1 149 1-16 1 50 1-247 1 319 1-332 1 48 1 73 1 8 1 44 1-135 1 91 1-8 1 31 1 78 1-177 1-52 1 275 1-133 1 114 1 85 1-315 1 19 1 139 1 84 1 11 1-91 1-184 1 193 1 142 1-116 1-141 1-29 1 328 1-149 1-14 1-80 1 47 1-97 1-44 1 104 1-23 1-187 1 146 1 118 1 91 1-206 1 132 1 53 1 93 1-179 1-228 1 252 1-150 1 160 1-176 1 247 1-98 1 40 1-162 1 86 1-130 1 230 1-170 1 86 1-8 1 54 1 55 1-55 1-20 1 87 1-11 1-153 1 135 1 19 1-11 1-222 1 40 1 158 1-200 1-121 1 168 1 113 1 5 1-124 1 181 1-132 1 134 1 1 1 39 1-90 1-201 1 365 1-177 1-79 1-147 1 146 1 153 1-232 1 120 1-25 1 24 1-90 1-43 1-52 1 224 1-39 1 55 1-82 1 55 1-244 1 56 1 60 1 194 1-116 1 163 1-240 1 62 1 7 1-22 1 117 1-434 1 554 1-45 1-76 1 22 1 60 1-128 1-80 1-36 1 84 1 48 1 189 1-166 1-32 1 193 1-256 1 64 1-103 1 77 1 82 1-205 1-291 1 447 1 57 1-30 1-195 1 61 1 220 1 99 1-110 1-98 1-118 1 34 1-15 1 19 1-45 1 229 1-142 1-295 1 450 1-179 1 74 1 111 1-199 1-18 1 112 1 102 1 108 1-422 1 246 1-299 1 268 1 30 1-170 1-44 1 112 1 107 1-263 1 57 1 14 1-279 1 506 1-200 1-9 1-92 1 59 1-23 1-23 1 216 1-82 1-77 1-190 1 192 1 204 1-140 1-98 1-90 1 203 1-39 1 25 1 60 1 142 1-167 1 2 1 118 1-7 1 80 1-372 1 237 1 207 1-347 1 172 1-159 1 169 1 170 1-327 1 178 1-228 1-62 1 32 1 51 1 11 1 147 1-46 1-127 1 7 1-15 1 368 1-293 1 38 1-63 1 149 1 0 1 72 1-136 1 81 1-285 1 157 1 4 1 320 1-144 1-299 1 169 1 140 1-386 1-7 1 114 1 138 1-63 1 138 1-290 1 116 1 42 1-15 1 33 1-300 1 293 1-85 1 132 1 138 1-281 1 184 1 131 1-226 1 143 1-98 1-24 1 75 1-143 1 100 1-53 1 243 1-176 1-105 1 3 1-92 1 76 1 49 1-39 1-4 1 197 1-143 1-163 1 37 1 123 1 10 1-30 1-86 1-135 1 239 1-121 1 144 1-27 1 55 1-73 1 38 1-125 1 214 1-32 1-153 1 130 1 153 1 13 1-206 1 50 1-172 1 58 1 74 1-79 1 114 1-268 1 260 1-28 1-52 1-171 1 0 1 177 1 191 1-65 1-123 1 153 1-124 1 31 1-52 1 110 1-104 1-152 1 90 1 119 1-157 1 85 1 68 1 3 1 47 1-242 1 148 1 25 1-82 1 134 1-35 1 22 1-6 1-173 1 176 1 5 1-166 1 273 1-115 1-39 1-9 1 54 1-67 1 204 1-120 1-55 1 17 1 32 1 45 1-225 1 172 1 11 1-116 1 113 1 39 1-137 1 41 1 105 1-128 1 54 1-6 1-137 1-112 1 212 1-51 1 93 1 128 1-117 1 52 1 97 1-118 1-100 1 162 1-125 1-44 1-67 1 132 1 19 1-83 1-72 1 21 1 180 1-48 1-18 1-78 1-33 1 165 1 1 1-60 1-2 1-265 1 166 1 17 1-7 1 3 1 92 1-92 1 20 1-44 1-72 1 121 1 160 1-58 1-119 1 38 1-1 1-10 1 53 1-99 1 215 1-149 1 180 1-118 1-79 1 47 1 39 1-60 1 69 1-133 1 3 1 85 1-67 1 79 1-20 1-114 1-115 1 253 1 44 1-348 1 185 1 60 1 52 1 1 1 25 1-96 1 50 1-212 1 48 1 100 1-184 1 99 1 197 1-103 1 15 1 68 1 16 1 161 1-151 1-37 1 9 1 72 1-165 1 183 1 62 1 28 1-273 1 78 1 51 1-262 1 255 1-255 1 79 1 104 1 3 1-100 1 45 1-46 1 209 1 56 1-73 1-112 1-116 1-127 1 296 1 71 1-85 1-71 1-7 1-13 1 35 1-77 1-42 1-20 1 122 1-44 1 119 1-112 1 162 1-210 1 69 1 155 1-59 1-125 1 68 1-126 1 88 1 106 1 40 1-144 1 61 1-23 1 72 1 36 1-38 1-210 1-136 1 390 1 224 1-211 1-140 1 50 1-187 1 218 1-152 1 370 1-125 1-103 1-237 1 226 1 72 1-386 1 400 1 31 1-186 1 33 1 113 1 10 1-79 1-4 1-147 1 168 1-326 1 281 1-214 1 7 1 267 1-222 1 108 1-107 1 198 1-203 1 74 1 165 1-3 1-85 1-232 1 284 1 58 1-26 1-135 1 49 1-4 1-115 1 278 1-277 1-311 1 477 1 132 1-125 1 101 1-161 1 81 1-107 1 112 1-110 1 211 1 43 1-259 1-79 1 192 1 88 1-18 1-117 1-155 1 406 1-293 1 162 1-80 1-122 1-100 1 183 1-73 1-59 1 191 1-38 1-80 1 210 1-381 1 141 1-139 1 179 1 41 1-69 1 128 1-78 1-181 1 289 1-80 1-7 1-47 1 26 1-33 1 125 1-217 1 221 1-299 1 155 1 312 1-296 1-51 1 107 1-46 1 182 1-160 1-1 1-261 1 211 1-36 1 21 1 27 1 19 1 55 1-133 1 164 1-135 1 57 1 205 1-161 1 60 1-78 1 147 1-78 1-24 1-233 1 201 1-76 1-13 1-2 1 159 1-80 1-189 1 243 1 76 1-82 1-181 1 170 1-266 1 234 1 26 1 45 1-79 1 104 1-172 1 280 1-199 1-34 1 227 1-210 1 8 1-16 1 198 1-200 1 5 1 15 1 82 1-19 1-110 1-209 1 177 1 164 1-42 1-32 1 49 1 18 1-287 1 95 1 156 1-89 1 139 1-215 1 24 1 121 1-53 1 47 1-141 1 118 1-99 1 152 1 20 1 94 1-194 1-27 1-98 1 111 1 269 1-173 1-138 1 315 1-91 1 72 1-41 1-105 1 83 1 71 1-232 1 116 1-271 1 130 1 58 1 139 1-83 1-125 1 35 1 176 1-270 1 118 1 73 1 2 1-64 1 3 1 145 1-172 1-68 1-189 1 221 1 97 1 43 1-160 1 51 1-170 1 538 1-309 1-14 1 19 1-110 1 224 1-219 1 1 1-68 1-13 1 52 1 187 1 34 1-164 1-91 1-194 1 358 1-11 1 168 1-360 1 125 1-46 1 111 1-52 1-21 1-78 1 23 1 181 1 30 1-77 1-54 1 93 1 65 1-183 1-78 1-37 1 159 1-109 1-57 1 117 1 26 1-113 1 162 1-257 1 124 1 193 1-231 1 46 1 210 1 50 1-123 1-23 1 111 1-73 1 5 1-60 1 132 1-228 1 33 1 13 1 108 1-289 1 167 1-120 1 85 1 122 1 23 1-159 1 224 1-66 1 38 1 19 1-60 1 8 1 72 1-147 1-106 1 320 1-164 1-138 1-148 1 186 1 128 1-151 1 49 1 29 1 28 1-133 1 205 1-43 1 10 1-140 1 13 1 87 1-91 1 128 1-96 1 58 1 29 1-146 1-7 1 139 1-41 1-110 1 126 1 38 1 58 1 89 1-280 1 144 1-216 1 32 1 140 1 42 1-229 1 17 1 173 1 28 1 49 1-107 1 168 1-181 1-13 1 55 1 66 1-177 1 138 1 89 1-51 1-49 1 108 1-147 1 140 1-49 1-171 1 148 1-130 1 28 1 40 1 37 1 21 1-22 1-23 1 117 1-203 1-52 1 191 1 15 1 15 1-67 1-135 1 47 1 80 1-49 1-88 1 185 1-25 1-1 1-5 1-78 1-5 1 73 1-30 1 220 1-214 1 3 1-68 1-79 1 138 1 260 1-391 1 81 1-130 1 34 1 344 1-332 1-59 1 42 1 55 1 61 1 166 1-207 1 52 1 52 1-262 1 164 1 92 1-41 1-16 1 40 1 138 1-202 1 154 1-228 1 128 1 30 1 124 1-251 1 42 1-53 1 206 1-44 1 158 1-104 1-62 1-90 1-84 1 106 1-5 1 60 1-116 1-1 1 159 1-70 1 71 1 67 1-89 1-55 1-122 1 193 1-121 1-144 1 128 1 52 1 84 1-189 1 182 1-63 1-65 1-95 1 16 1 186 1-65 1 156 1 200 1-340 1 102 1-113 1 168 1-9 1 63 1-108 1 50 1-56 1-382 1 306 1 20 1-169 1 220 1-166 1 94 1 55 1-27 1-114 1 5 1 139 1 91 1-109 1-56 1-94 1 223 1-174 1 101 1 87 1-30 1-65 1-223 1-72 1 633 1-477 1 111 1 67 1-193 1 36 1-11 1-19 1 293 1-137 1 15 1-19 1 170 1-237 1 40 1 260 1-270 1-124 1 119 1 47 1-51 1-84 1 46 1 148 1-67 1 131 1-236 1 299 1-105 1-288 1 140 1 89 1-5 1 112 1-133 1 152 1-165 1 162 1 53 1-153 1-25 1 64 1-165 1-157 1 159 1-55 1-1 1 82 1 103 1-133 1-68 1 106 1 111 1-239 1 176 1-102 1 168 1-102 1-164 1 70 1-116 1 203 1 61 1-58 1-108 1 1 1 5 1 114 1 54 1-146 1-21 1 40 1 111 1-155 1 131 1-133 1 54 1 45 1-20 1 24 1 34 1 134 1-110 1 27 1-210 1 114 1 55 1-27 1 32 1-33 1 75 1-81 1 31 1-81 1-17 1-104 1 100 1 76 1-45 1 122 1-86 1 10 1-175 1 73 1-31 1 138 1 58 1-260 1 348 1-55 1 43 1-223 1-201 1 308 1-112 1 25 1 114 1 35 1 7 1-176 1 106 1-62 1 117 1-103 1 43 1-113 1 3 1 28 1 86 1-91 1 62 1 48 1-60 1 13 1 162 1-280 1 190 1-75 1-211 1 239 1-9 1-5 1-277 1 78 1 217 1-363 1 305 1 91 1-153 1 89 1 31 1-19 1-26 1-9 1-98 1 192 1-150 1 105 1 52 1-49 1 102 1 88 1-130 1-15 1-109 1 37 1-82 1 32 1 39 1-59 1 121 1 66 1-147 1 43 1-58 1 30 1 51 1-298 1 240 1 53 1-21 1-11 1 2 1-131 1 72 1-21 1 24 1 17 1 116 1-133 1 106 1-73 1 52 1-127 1 16 1 88 1 8 1-63 1 122 1-136 1 203 1-87 1 80 1 29 1 15 1-241 1 170 1 148 1-315 1 141 1-51 1 27 1-147 1 24 1-80 1 242 1-129 1 3 1-44 1 48 1 186 1-75 1 173 1-222 1-39 1 132 1-81 1 25 1 52 1-52 1-105 1-113 1 402 1-258 1 111 1-245 1 179 1-119 1-196 1 60 1 493 1-278 1 224 1-228 1-106 1 231 1 49 1-99 1 98 1 188 1-326 1-227 1 71 1-71 1 50 1 27 1 95 1-6 1 54 1-248 1 151 1 57 1 146 1 119 1-262 1-154 1 284 1 42 1-189 1-33 1 61 1-175 1 107 1 2 1 231 1-36 1-130 1 299 1-488 1 189 1 223 1-200 1 173 1-214 1-265 1 352 1-199 1-59 1 226 1-45 1-56 1 71 1-40 1-115 1 28 1 290 1-526 1 432 1 110 1-126 1-145 1-97 1 197 1 73 1 80 1-158 1 58 1-3 1-10 1-98 1 155 1-322 1 257 1-18 1-198 1 133 1 233 1-187 1 54 1-131 1 175 1-162 1 126 1-9 1 45 1 74 1-187 1-314 1 531 1-219 1 27 1-211 1 332 1 1 1-90 1-31 1-192 1 172 1 42 1 103 1-36 1-31 1-206 1 24 1 132 1-82 1-83 1 69 1 76 1-50 1 47 1 55 1-206 1 265 1-288 1 242 1-55 1-8 1-145 1 196 1-194 1 379 1-172 1-8 1-33 1-26 1 1 1-15 1-178 1 204 1-20 1 60 1-89 1 76 1 66 1-79 1 7 1-29 1-36 1 121 1-170 1-138 1 235 1 25 1-126 1-56 1 68 1-15 1 76 1 57 1-77 1 60 1 20 1-119 1 16 1-17 1 68 1-50 1-69 1 255 1-159 1 97 1-176 1 78 1-84 1-10 1 142 1 3 1-123 1 150 1 156 1-342 1 177 1 22 1-115 1 322 1-340 1-130 1 219 1-196 1 267 1 12 1-113 1-47 1-101 1 326 1-162 1 218 1-134 1-225 1 139 1 60 1 123 1-7 1-179 1 12 1 148 1-205 1-200 1 226 1 56 1-262 1 135 1 192 1-140 1-12 1 141 1-43 1-97 1 238 1-275 1 95 1 143 1-58 1-260 1 112 1-21 1 156 1 14 1-148 1-35 1 141 1-32 1-122 1 242 1-21 1 49 1-302 1 135 1 68 1 45 1-240 1 113 1 179 1-178 1 194 1-284 1 54 1 115 1-42 1-179 1 167 1-90 1-13 1-140 1 101 1 188 1-115 1-55 1 142 1 178 1-30 1-32 1-179 1-70 1 42 1 217 1-254 1-49 1 122 1-71 1 53 1 5 1 114 1 34 1-255 1 238 1-142 1-142 1 165 1 16 1-212 1 284 1-117 1 17 1 61 1 25 1 8 1-75 1-65 1-7 1 7 1 52 1 45 1-122 1 165 1-94 1-74 1 184 1-93 1 53 1 66 1-179 1 284 1-168 1-93 1 225 1-197 1-232 1 232 1 59 1-9 1 55 1-101 1-47 1 120 1-8 1-59 1-35 1 5 1-66 1 147 1 86 1-86 1-188 1 73 1 30 1 145 1 52 1-80 1 100 1-188 1-19 1-60 1 67 1 111 1-223 1 56 1 68 1-45 1-31 1 47 1-25 1 185 1 46 1-173 1-65 1 5 1 96 1-23 1-195 1 280 1-140 1 94 1 1 1-101 1-93 1 195 1-146 1-83 1 37 1 162 1 42 1 142 1-246 1-87 1 109 1 134 1-198 1 193 1-4 1-101 1-58 1 107 1-70 1 22 1 62 1-90 1-23 1 52 1 256 1-370 1 111 1-167 1 105 1-41 1 59 1-22 1 109 1-34 1-156 1 93 1 71 1 72 1-164 1 12 1 8 1 109 1-44 1-118 1 181 1-320 1 255 1-26 1 41 1 10 1 118 1-134 1-82 1-62 1 98 1 109 1 3 1-123 1 59 1-178 1-81 1 235 1 71 1-204 1 382 1-299 1 17 1 24 1-73 1 76 1 3 1 82 1-138 1 44 1-18 1 199 1-362 1-38 1 98 1 14 1 26 1 320 1-261 1 10 1 52 1-85 1-145 1 44 1 7 1 83 1 200 1-68 1-103 1-101 1 379 1 56 1-401 1-99 1 224 1-70 1 65 1 82 1-30 1 27 1-34 1-4 1-4 1-96 1-139 1 262 1-78 1 189 1-65 1-248 1 39 1 251 1-423 1 33 1 202 1 186 1-309 1-63 1 247 1-247 1 259 1 82 1-309 1 364 1-14 1-427 1 309 1-124 1 18 1-34 1 154 1-59 1 1 1-122 1 223 1 151 1-216 1 154 1-254 1-83 1 54 1-25 1-57 1 123 1-283 1 299 1-78 1 244 1-302 1 90 1 237 1-96 1 260 1-514 1 237 1-255 1 287 1-195 1-187 1 309 1-56 1 63 1 109 1-29 1-309 1 194 1-137 1-28 1 334 1-182 1 295 1-427 1 402 1-92 1-115 1 64 1-379 1 117 1 58 1 58 1-56 1 100 1 86 1-119 1-83 1 191 1 34 1-56 1 73 1 41 1-136 1-54 1 29 1 147 1 37 1-82 1 90 1-88 1-258 1 126 1-212 1 402 1-248 1 221 1-134 1-1 1 12 1 178 1-49 1-50 1 6 1-37 1 73 1 140 1-231 1-78 1-99 1 117 1 261 1-400 1 66 1 122 1 45 1-72 1-135 1 179 1-59 1 20 1 99 1-311 1 269 1-125 1 124 1-1 1-72 1 16 1 50 1 33 1-132 1 212 1-160 1 68 1 131 1-7 1-129 1 104 1-93 1-45 1-215 1 224 1 150 1-408 1 220 1 107 1-217 1-113 1 191 1 99 1-66 1 159 1-203 1-40 1-33 1-16 1 128 1 55 1-42 1 72 1-44 1 99 1-25 1-227 1 61 1-29 1 146 1-121 1 130 1-114 1-83 1 35 1-3 1 166 1-9 1 93 1-167 1-113 1 171 1-106 1-51 1 161 1 60 1-42 1 8 1 8 1-16 1-6 1-88 1-53 1 177 1-50 1-52 1 143 1-164 1 63 1-91 1 10 1 160 1 60 1-259 1-191 1 201 1-15 1 119 1-151 1 163 1-75 1-19 1 173 1-194 1 131 1 141 1-243 1 53 1 38 1-59 1-28 1 60 1-7 1 35 1-134 1-42 1 137 1-147 1 165 1 32 1-64 1-263 1 388 1-36 1-238 1-31 1 5 1 116 1 16 1-292 1 247 1 43 1 21 1 17 1 8 1 11 1 33 1-75 1-51 1 236 1-78 1-338 1 176 1-66 1-33 1 202 1 281 1-363 1 106 1-250 1 119 1-96 1 239 1-119 1 215 1-413 1 62 1 82 1-2 1 75 1 266 1-375 1 0 1 85 1 120 1-66 1 101 1-195 1 69 1-42 1 242 1-199 1-16 1 27 1 84 1-240 1 299 1-207 1 208 1-58 1 167 1-124 1-22 1-145 1 34 1-33 1 29 1 76 1 18 1-93 1 125 1-206 1 135 1-106 1 124 1 29 1-302 1 227 1-1 1-9 1-96 1 226 1-187 1 312 1-480 1 64 1 237 1 43 1-106 1-5 1 49 1-22 1 7 1-97 1 332 1-293 1 163 1-68 1-253 1 7 1 64 1 170 1-247 1 322 1-156 1 39 1-49 1 126 1 18 1-97 1-10 1 15 1 50 1-156 1 247 1-64 1-208 1 44 1 62 1 182 1-53 1-107 1-215 1 57 1 127 1-81 1-29 1 206 1-216 1 241 1-99 1-254 1 421 1-258 1 65 1-15 1 111 1-50 1-117 1 278 1-18 1-258 1-157 1 272 1-109 1-41 1 259 1-166 1 104 1-129 1 4 1 165 1-166 1-86 1 28 1 60 1-91 1 269 1-53 1-159 1 277 1-32 1 22 1-64 1-187 1 10 1-96 1 167 1 150 1-52 1-204 1-58 1 370 1-162 1-92 1 170 1 40 1-200 1-93 1 113 1-184 1 152 1-66 1 87 1-14 1 102 1 87 1-311 1 240 1-353 1 237 1 82 1 13 1-35 1-20 1-19 1-113 1 15 1 106 1 132 1 90 1-178 1 18 1 129 1-266 1-109 1 412 1-178 1-5 1-23 1-179 1 134 1 315 1-386 1 9 1 110 1-206 1 256 1-109 1 168 1-25 1 72 1-431 1 214 1-36 1 348 1-123 1-213 1 11 1-33 1-98 1-155 1 276 1 156 1-243 1 30 1 72 1 41 1-146 1 49 1 107 1-187 1 581 1-242 1-189 1-174 1 278 1 121 1-393 1 282 1-130 1 144 1-113 1-99 1-85 1 94 1 78 1 10 1-111 1 101 1-141 1 205 1 255 1-324 1-26 1-112 1 85 1 20 1-4 1 12 1-93 1 146 1-70 1-95 1 208 1-98 1 145 1-206 1 48 1 75 1 27 1 19 1-119 1 49 1 62 1-35 1 41 1-112 1 81 1 38 1-72 1 54 1-103 1 145 1-78 1-17 1-23 1-58 1 152 1 52 1-276 1 236 1-137 1 117 1-9 1 196 1-100 1-189 1 44 1 117 1-132 1 93 1-126 1 204 1-42 1-206 1 5 1 75 1-24 1-105 1 301 1-105 1-31 1-101 1-27 1 164 1-19 1 74 1-38 1-179 1 43 1 84 1-83 1 177 1-284 1 142 1 8 1-7 1 259 1-114 1-160 1 205 1-92 1 60 1-220 1 297 1-164 1-145 1 137 1 41 1-228 1-15 1 141 1 136 1-145 1 182 1-91 1-3 1 121 1 30 1-22 1-58 1-252 1 127 1-32 1-72 1-46 1 366 1-269 1-94 1 71 1 35 1 116 1-134 1-38 1 26 1 342 1-331 1 53 1-5 1 74 1-66 1-24 1-5 1-95 1 219 1-78 1-12 1-19 1 220 1-80 1-50 1-79 1 59 1-44 1-102 1-2 1-182 1 303 1-38 1 109 1 52 1-99 1-1 1 18 1-40 1 6 1-106 1 268 1-71 1-221 1 35 1 186 1 24 1-145 1-29 1-31 1-43 1-13 1 317 1-278 1 69 1-292 1 283 1 171 1-79 1-62 1-98 1 162 1-121 1 85 1-100 1 65 1-43 1-201 1 52 1 177 1 101 1-59 1-73 1 86 1-17 1 72 1-46 1-132 1-63 1-112 1 132 1 137 1 89 1-35 1 160 1-151 1-253 1 179 1-22 1 85 1 39 1-228 1 172 1 11 1 38 1-164 1-103 1 169 1 138 1-118 1-104 1 60 1 3 1 37 1-32 1 151 1-118 1-55 1 72 1 110 1-157 1 181 1-215 1 4 1 115 1 11 1-59 1-95 1-131 1 64 1 361 1-45 1-150 1-59 1-116 1 181 1 24 1-206 1 271 1-117 1-78 1 109 1-102 1 87 1-40 1 147 1-57 1-71 1-103 1-106 1 241 1-167 1 117 1-97 1 145 1 59 1-32 1-211 1-23 1 239 1-101 1-77 1 173 1 147 1-219 1 110 1-159 1-102 1 298 1-115 1-271 1 269 1 110 1-131 1 7 1-54 1 86 1-42 1 84 1 84 1-185 1-46 1 161 1-188 1 173 1 1 1-65 1-15 1-195 1 136 1 124 1-160 1 27 1 323 1-343 1 114 1 12 1-84 1 94 1 1 1-12 1 43 1-10 1-176 1 136 1-56 1 160 1-206 1 204 1-25 1-194 1 62 1 81 1-39 1 21 1 157 1 19 1-222 1-170 1-107 1 408 1-183 1 71 1-11 1-84 1 317 1-90 1-109 1 260 1-355 1 122 1-111 1-38 1-54 1 117 1 154 1-174 1 101 1 126 1-66 1-200 1-190 1 276 1-17 1-74 1-17 1 261 1-72 1 128 1-261 1-12 1 27 1 214 1-228 1 104 1-249 1 165 1 15 1 95 1 27 1-143 1-85 1 128 1 7 1 212 1-515 1 244 1 38 1-19 1 157 1-157 1-123 1 125 1-30 1 61 1 275 1-323 1 123 1 9 1-32 1 42 1-149 1 8 1 105 1 161 1-374 1 17 1 55 1 91 1-19 1-30 1 36 1-28 1 83 1-133 1-24 1-220 1 266 1 141 1-192 1 95 1 49 1 17 1-30 1-120 1 67 1 8 1 9 1 58 1 104 1-156 1-126 1-125 1 169 1 218 1-119 1-28 1 34 1 85 1-172 1 48 1 283 1-271 1 31 1-111 1 15 1-10 1 50 1 66 1-155 1-7 1-47 1 144 1 205 1-310 1 169 1-65 1 39 1-71 1 138 1-85 1 139 1-28 1-15 1-138 1 54 1-77 1 30 1-7 1 163 1-70 1-5 1-133 1-66 1 196 1-16 1-17 1 178 1-205 1-80 1-24 1-4 1-37 1 216 1 221 1-313 1-18 1-2 1 8 1-11 1 141 1-46 1 6 1 9 1-34 1-3 1 113 1 12 1-8 1-47 1 22 1-150 1 244 1-267 1-49 1 170 1 3 1-9 1-171 1 199 1-146 1 320 1-353 1 126 1 167 1-207 1 25 1-161 1 313 1-94 1 46 1-136 1-20 1 97 1-63 1 127 1 22 1-106 1 19 1-25 1 142 1-1 1-136 1-15 1 105 1-57 1-49 1 67 1-38 1 70 1-104 1 29 1 39 1 25 1-76 1 40 1-232 1 250 1-22 1 93 1 73 1-181 1-170 1 77 1 49 1-65 1 52 1 16 1 257 1-127 1 11 1-156 1-54 1 68 1-20 1 39 1 100 1 34 1-115 1 121 1-86 1-144 1 24 1 59 1-59 1 121 1-66 1-91 1 78 1 6 1 21 1-34 1 40 1-38 1-47 1 25 1 165 1-134 1 66 1-86 1-7 1-89 1 269 1-179 1 89 1 9 1-52 1-198 1 152 1 112 1 2 1-108 1-32 1 134 1-129 1 15 1 55 1-34 1 76 1-74 1 202 1-166 1 96 1-147 1 40 1-219 1 61 1 68 1 50 1 218 1-113 1-160 1 113 1 38 1-86 1-44 1 79 1 10 1-64 1 118 1-352 1 408 1-81 1-193 1 233 1 128 1-234 1 146 1-297 1-4 1 300 1-205 1-22 1-17 1 30 1 41 1 102 1-14 1-298 1 199 1 164 1-423 1 535 1-383 1 81 1 239 1-59 1-111 1 34 1-109 1 146 1 87 1-70 1-1 1 113 1-146 1 12 1-135 1-66 1 201 1-149 1 74 1 75 1 82 1-103 1 57 1-43 1-33 1 13 1 188 1-168 1-132 1 227 1-30 1-496 1 361 1 67 1 6 1-86 1 55 1-95 1-87 1 93 1 158 1-25 1-419 1 418 1-66 1-56 1-49 1 178 1-147 1 231 1-190 1-61 1 138 1 44 1 0 1-59 1 165 1-83 1-151 1-94 1 70 1-8 1 333 1-201 1-2 1 57 1 9 1 15 1-80 1-67 1 3 1 144 1-32 1-57 1-224 1 20 1-82 1 371 1-180 1 72 1-13 1-109 1 238 1-47 1-40 1-95 1 115 1-295 1 172 1 70 1-28 1 43 1 18 1 32 1-15 1-176 1 79 1-122 1 44 1 130 1 16 1-77 1 79 1 90 1-109 1-4 1 52 1-7 1-18 1 33 1-56 1-39 1 81 1-119 1-241 1 343 1-276 1 418 1-205 1 12 1-43 1 219 1-301 1 68 1-82 1 3 1 426 1-73 1-402 1 269 1-331 1 104 1 62 1-43 1 296 1-164 1-42 1 191 1 53 1-122 1-37 1 303 1-720 1 489 1-156 1 378 1-382 1 220 1-11 1 235 1-421 1 12 1 214 1-253 1 54 1 124 1-145 1-201 1 121 1 195 1-236 1-262 1 308 1-81 1 220 1-17 1 77 1 140 1-295 1-12 1 338 1-259 1-210 1 100 1 95 1 137 1-93 1-145 1-98 1 434 1-402 1 31 1 90 1 162 1 6 1-197 1-28 1 126 1 251 1-178 1-276 1 222 1-76 1 82 1-81 1 177 1-9 1-71 1-34 1 43 1-23 1 79 1-160 1-19 1 165 1 70 1-247 1-106 1 24 1 32 1 58 1 107 1 135 1-530 1 180 1 421 1-215 1-14 1 39 1-144 1-114 1 263 1-222 1 284 1-327 1 291 1-289 1 171 1-18 1-196 1 204 1-72 1-132 1 198 1-20 1 51 1-190 1 247 1 16 1-93 1 161 1-21 1-3 1-163 1 79 1 166 1-229 1 54 1 30 1 119 1-189 1-92 1 215 1 30 1-43 1-304 1 319 1 8 1-184 1-8 1-73 1 117 1 17 1 140 1 70 1-91 1-201 1 141 1 44 1-156 1 51 1 246 1-121 1-297 1 92 1 1 1 89 1 224 1-33 1-230 1 30 1-85 1 227 1-92 1-176 1 192 1-282 1 153 1 12 1 188 1 100 1-145 1-101 1-42 1-135 1 189 1 72 1 3 1-274 1 174 1 41 1 39 1-94 1 16 1-117 1 212 1-70 1 106 1 9 1-75 1 19 1 25 1-53 1-70 1 21 1 90 1-76 1 139 1-390 1 195 1 196 1-46 1-51 1-62 1 39 1-260 1 205 1 167 1-158 1 113 1 60 1-89 1-246 1 46 1 201 1 46 1 91 1 61 1-73 1-79 1-291 1 188 1-10 1-21 1 83 1-91 1 112 1-62 1-26 1 29 1 86 1-151 1 227 1-288 1 217 1-114 1 127 1-19 1-188 1-191 1 140 1 77 1-137 1 94 1-60 1 250 1 113 1-104 1-15 1-178 1-72 1 5 1 62 1-85 1 413 1-319 1 66 1-127 1 57 1-85 1 228 1 79 1 39 1-198 1 23 1 4 1 45 1-10 1 56 1-116 1 33 1-41 1-66 1 205 1 82 1 33 1-114 1 133 1-349 1 25 1-18 1 122 1 124 1-245 1 254 1-176 1-18 1 58 1-167 1 369 1-506 1 547 1-112 1 3 1 75 1-73 1-175 1-50 1 52 1 196 1-242 1 196 1 17 1-145 1 73 1-83 1 83 1 166 1-309 1 134 1 129 1-46 1-114 1 71 1-46 1 98 1-294 1 344 1-338 1 237 1 31 1-40 1-19 1-133 1 40 1 207 1-184 1-43 1-176 1 387 1-105 1-113 1 78 1 200 1 10 1-319 1 130 1-45 1 90 1 16 1 35 1-189 1 171 1-267 1 232 1 21 1 142 1-109 1-264 1 276 1 139 1-275 1 206 1-195 1-124 1-2 1 141 1-133 1 62 1 64 1-118 1 37 1 308 1-263 1 63 1-204 1-7 1 88 1-25 1 125 1-98 1-185 1 267 1-66 1 69 1-75 1 145 1 148 1-73 1-22 1-53 1-231 1 373 1-122 1-60 1 101 1-195 1-100 1 219 1-129 1-7 1 104 1 8 1-47 1-58 1 46 1 68 1-27 1 62 1-131 1 20 1 32 1 111 1 109 1-185 1 146 1-264 1-175 1 90 1 258 1-102 1 11 1 78 1-173 1-94 1 255 1-171 1 28 1-48 1-41 1 156 1-47 1 84 1-142 1 146 1-239 1 133 1 88 1-138 1 82 1 131 1 97 1-231 1 142 1-259 1 157 1 60 1-127 1-161 1 243 1-43 1 230 1-232 1 8 1-8 1 175 1-13 1-196 1 97 1 66 1-224 1 38 1 91 1-196 1 102 1 182 1-46 1-116 1-69 1 280 1-134 1-164 1 263 1-381 1 292 1 80 1-287 1 105 1 212 1 9 1-106 1 8 1-42 1-67 1 68 1 182 1-144 1-44 1-8 1 213 1-88 1-8 1-77 1-83 1 159 1-135 1-25 1 225 1-230 1 3 1-13 1 77 1 211 1-186 1-63 1 67 1-75 1 92 1-66 1-298 1 233 1 27 1 12 1 32 1-13 1 12 1 6 1 255 1-297 1 16 1-216 1 171 1 32 1-59 1 167 1-182 1 105 1 85 1 32 1-203 1 221 1-122 1-16 1-53 1 166 1-125 1-99 1 2 1 117 1-42 1-62 1 17 1 95 1 98 1-130 1 41 1-58 1 21 1-90 1 66 1 209 1-199 1 19 1-44 1 120 1-75 1 6 1 223 1-138 1-149 1 26 1 240 1-177 1 85 1-64 1-34 1 115 1-142 1 168 1-60 1-62 1-113 1 65 1 31 1-27 1 1 1 77 1 54 1 3 1-49 1 198 1-553 1 141 1 41 1 209 1-206 1 147 1-39 1-36 1 24 1-38 1-190 1 265 1-40 1 130 1-215 1 53 1 228 1 30 1-267 1-40 1-72 1 30 1 171 1-96 1 16 1-25 1-70 1 107 1 46 1 89 1 31 1-239 1 127 1 75 1 47 1-148 1-19 1-83 1 155 1-280 1 293 1 36 1-4 1-156 1 162 1-232 1 242 1-95 1-162 1 244 1-96 1-25 1 111 1-66 1-349 1 118 1 5 1 358 1-87 1-390 1-49 1 443 1 176 1-138 1-168 1-192 1 406 1-40 1-322 1 72 1 327 1-457 1 446 1 116 1-180 1-187 1 221 1-524 1 473 1 24 1-52 1-236 1 261 1-267 1 295 1-40 1 159 1-427 1 18 1-79 1 364 1-304 1 18 1-13 1 85 1-456 1 534 1-583 1 507 1 114 1-142 1 176 1 83 1 277 1-582 1 185 1-305 1 240 1 105 1 6 1-901 1 578 1 516 1-251 1 256 1-64 1 273 1-230 1-129 1 154 1-111 1-206 1-382 1 268 1 420 1-68 1 89 1-126 1-314 1-238 1-19 1 326 1-198 1 302 1 35 1-164 1 72 1 163 1-70 1-252 1 295 1-161 1 75 1-182 1 175 1-23 1-72 1 28 1 2 1 163 1-207 1 113 1 136 1-367 1 249 1-217 1 216 1-46 1 224 1-114 1-48 1 64 1-250 1 195 1 107 1 3 1-82 1-10 1-167 1 156 1-20 1-208 1 243 1 59 1-236 1-68 1 86 1 103 1 96 1-98 1 42 1-70 1-148 1 64 1 26 1 23 1 166 1-61 1 45 1 1 1-69 1 35 1 2 1 0 1-295 1 205 1 156 1-56 1 29 1 6 1-217 1 205 1 123 1-210 1 57 1-8 1-201 1-28 1 183 1 161 1 45 1-449 1 304 1-112 1-101 1 58 1 67 1 45 1-50 1 147 1 6 1-217 1-6 1 217 1-51 1-210 1 100 1-5 1 90 1 20 1-48 1-11 1-25 1 31 1 112 1-207 1 68 1-74 1 88 1-7 1-10 1 110 1-116 1-55 1-179 1 102 1 137 1 99 1-230 1 79 1 228 1-239 1 111 1 180 1-115 1-21 1 22 1-163 1-131 1 260 1-141 1-38 1 101 1-101 1 260 1-101 1-184 1 252 1-85 1-62 1-118 1 137 1 75 1 66 1 45 1-134 1 128 1-220 1 27 1 119 1-229 1-190 1 99 1 276 1-106 1-41 1 237 1-421 1 217 1 105 1 181 1-31 1-99 1-105 1 48 1-165 1 43 1 75 1 24 1 126 1-300 1-3 1-53 1 90 1 281 1-50 1-219 1-38 1-96 1 303 1-181 1 162 1-125 1 121 1 156 1-6 1-34 1-69 1-70 1-256 1 326 1-185 1-39 1 39 1 20 1-297 1 497 1 110 1-101 1 81 1-136 1 2 1 100 1-262 1 181 1 53 1-172 1-21 1-2 1-55 1 231 1-246 1 12 1 203 1-178 1 291 1-235 1-263 1 283 1 24 1-103 1 183 1-238 1 219 1-24 1 42 1-20 1-166 1 168 1-117 1 55 1 22 1 2 1-89 1-4 1-33 1 160 1-58 1 92 1-45 1-54 1 8 1 16 1-175 1 76 1-79 1 117 1 42 1 11 1 2 1 9 1-16 1-96 1 115 1 109 1-95 1 23 1-36 1-166 1 126 1 150 1-222 1 94 1-82 1 13 1 43 1 25 1-95 1 18 1 127 1 134 1-179 1-131 1 48 1-28 1 20 1 4 1 150 1-189 1 14 1 102 1 60 1-151 1 73 1-43 1 1 1-55 1-14 1 46 1 45 1-4 1 109 1-10 1-297 1 131 1 91 1-44 1 21 1 75 1-16 1-5 1-122 1 28 1 266 1-100 1-124 1-46 1 95 1-50 1 12 1 65 1-2 1-17 1-155 1 64 1-5 1 9 1 116 1-65 1-6 1-3 1-27 1 74 1-51 1-13 1 114 1-121 1-1 1 112 1-195 1 19 1 97 1 165 1-139 1-49 1 84 1-34 1 87 1-134 1 44 1-27 1-36 1-28 1 153 1-238 1 102 1 11 1-60 1 123 1 66 1-85 1-1 1 25 1-21 1-1 1-193 1 115 1 82 1 10 1-30 1-45 1 2 1 46 1-113 1 284 1-147 1-17 1-56 1-25 1 198 1-55 1-18 1-144 1 116 1-74 1 52 1-7 1-160 1 154 1-110 1 48 1 14 1 74 1-39 1 137 1-35 1 77 1-185 1-36 1 150 1-181 1 124 1-37 1 136 1-51 1-9 1-36 1 27 1 45 1-102 1 71 1 59 1-101 1-71 1 30 1 36 1-78 1 99 1-24 1-82 1 3 1 88 1-68 1 244 1-110 1-126 1 222 1-119 1 20 1-28 1-46 1-32 1-150 1 73 1-103 1 200 1-29 1-24 1 0 1-25 1 91 1 1 1-12 1-137 1 58 1 129 1-36 1-18 1 75 1 178 1-283 1 36 1-44 1 135 1 48 1-26 1-7 1-202 1 25 1 90 1 51 1-64 1-91 1 145 1 25 1-16 1-100 1 57 1-60 1 103 1-21 1-27 1-180 1 141 1-185 1-11 1 139 1-167 1 367 1-52 1 85 1-136 1-136 1 93 1 114 1-143 1 25 1-132 1 155 1-71 1 65 1 32 1 185 1-157 1-7 1 102 1 66 1-12 1-82 1-107 1 128 1-100 1-4 1 71 1-149 1 95 1 165 1-144 1-14 1 67 1-58 1-58 1 17 1 120 1-220 1 241 1 26 1-158 1-64 1-264 1 137 1-127 1 295 1-53 1 230 1 45 1-303 1 236 1-62 1-61 1-240 1 301 1-37 1-29 1 234 1-225 1 176 1 37 1-229 1-72 1-9 1 251 1-196 1-348 1 539 1-55 1-341 1 335 1 218 1-269 1-230 1 135 1 103 1-138 1 226 1-265 1-8 1 286 1-91 1 219 1-258 1 103 1-125 1-170 1 151 1-71 1 19 1 134 1-4 1-197 1 198 1 104 1-167 1-46 1 59 1-318 1 302 1 123 1 28 1-254 1 173 1-125 1 132 1-132 1 17 1 123 1-234 1 323 1-170 1 83 1-273 1 144 1-35 1 318 1-340 1 15 1 53 1 180 1-169 1-79 1 55 1-24 1-6 1-49 1 0 1 46 1-23 1 24 1 241 1-336 1 215 1-151 1 24 1-41 1-136 1 67 1 267 1-148 1 70 1 92 1-97 1 5 1-32 1 112 1-91 1-100 1 134 1 38 1-79 1 108 1-190 1 73 1-27 1 28 1 127 1 117 1-304 1-170 1 224 1 11 1 66 1-32 1 130 1 6 1-126 1-106 1 280 1-138 1-225 1-106 1 310 1-125 1 129 1 11 1-197 1 184 1-42 1 44 1-69 1 64 1-223 1 242 1 72 1-244 1-18 1 214 1-49 1-187 1 241 1 148 1-450 1 53 1 170 1-37 1-208 1 198 1-19 1-106 1 228 1 159 1-57 1-220 1 15 1 80 1-289 1 494 1 49 1-250 1-6 1 21 1-99 1 160 1-140 1 213 1-589 1 376 1-162 1 313 1-144 1-39 1 293 1-522 1 451 1-32 1 215 1-554 1-109 1-380 1 711 1-179 1 244 1-101 1-93 1 340 1-163 1-218 1 182 1-31 1 226 1 67 1-485 1-289 1 757 1-704 1 460 1 63 1-98 1-143 1 326 1-95 1-59 1-222 1 294 1-230 1 113 1 116 1-323 1 109 1 108 1-53 1 171 1-71 1 8 1 131 1-246 1 163 1 12 1 46 1-19 1 125 1-317 1 73 1-81 1 128 1-102 1-79 1 6 1-43 1 88 1-35 1 72 1 9 1 83 1-189 1-46 1-28 1 336 1-114 1-8 1 27 1 185 1-192 1-21 1 219 1-30 1-292 1 5 1 4 1 48 1 114 1-160 1 35 1 272 1-250 1-43 1 264 1 22 1-265 1-128 1 175 1-154 1 92 1-54 1 131 1 25 1-44 1 96 1-79 1-48 1-121 1 233 1-37 1-131 1 40 1-15 1 212 1-376 1 211 1-39 1 77 1 1 1-16 1 91 1-77 1 115 1-138 1-76 1 281 1-222 1-35 1-37 1 107 1 35 1-155 1 274 1-106 1-83 1 251 1-138 1-292 1 240 1 20 1 161 1-156 1-112 1 120 1-107 1 101 1-144 1-41 1-80 1 415 1-105 1-69 1 61 1-133 1-37 1 157 1-224 1 170 1 112 1 88 1-270 1-135 1-1 1 228 1-41 1-65 1-116 1 174 1 40 1 79 1-203 1 48 1-78 1-115 1 170 1-87 1 54 1-11 1-104 1 86 1-65 1 117 1-75 1 114 1 68 1-179 1 108 1 37 1-38 1-38 1 151 1-277 1 99 1 108 1-111 1 42 1-28 1-78 1 195 1-52 1-114 1-134 1 261 1 23 1-20 1 61 1-111 1-67 1 74 1 108 1-35 1-89 1-139 1-107 1 333 1 177 1-314 1 125 1-33 1-144 1 81 1 45 1-22 1 54 1-107 1-189 1 263 1 38 1-219 1 44 1 91 1 52 1-46 1 87 1-28 1 94 1-175 1 119 1-45 1 68 1-80 1 48 1-126 1-243 1 173 1 143 1-145 1 80 1 121 1-74 1-1 1 3 1-14 1 117 1-56 1-60 1 158 1 94 1-140 1-283 1 304 1-192 1-76 1 77 1 135 1 35 1-18 1-71 1-99 1 73 1 96 1 43 1-128 1 157 1-66 1-179 1 202 1-338 1 407 1-271 1 163 1 100 1-40 1-177 1 266 1-274 1 105 1-70 1-55 1 348 1-192 1-221 1 63 1 4 1-14 1 268 1 50 1 95 1-301 1 50 1 31 1 130 1-20 1-303 1 44 1 52 1 47 1-53 1-245 1 270 1 37 1-62 1-10 1 123 1-297 1 496 1-469 1 186 1-173 1 167 1 248 1-369 1 127 1 23 1-99 1 155 1 25 1-311 1 177 1 29 1-100 1 239 1-140 1-58 1 51 1 164 1-148 1-47 1-62 1 33 1 279 1-50 1 21 1-350 1 43 1 83 1 28 1 263 1-14 1-529 1 346 1-49 1-167 1 234 1-310 1 121 1 337 1-283 1-110 1 5 1 289 1-92 1-40 1-71 1 302 1-245 1-87 1 280 1-106 1-78 1 287 1-330 1-44 1 293 1-297 1 69 1-23 1 182 1-110 1-10 1-1 1 130 1-185 1 222 1-114 1-192 1 362 1-477 1 475 1-109 1-169 1-89 1 286 1-339 1 0 1 371 1-315 1 334 1 54 1-133 1-190 1 47 1 112 1-216 1 90 1 89 1-221 1 345 1-203 1 174 1 83 1-241 1-168 1 412 1 98 1-393 1 112 1-55 1 101 1-126 1 112 1-110 1 177 1-203 1-180 1 222 1 245 1-159 1-118 1-108 1 54 1 111 1-42 1 70 1 10 1 149 1 5 1-72 1-177 1 201 1 50 1-244 1 318 1-99 1-72 1-10 1-148 1-22 1-87 1 144 1-143 1 174 1 76 1 168 1 96 1-138 1-67 1-121 1 321 1-142 1-238 1 159 1-129 1-30 1 36 1-166 1 237 1 104 1-322 1 78 1-70 1 254 1-99 1 109 1-46 1-183 1 290 1 179 1-457 1 213 1-146 1 216 1-269 1 274 1-198 1 281 1-344 1 135 1 30 1-59 1 32 1-180 1 140 1 232 1-356 1 28 1 237 1-312 1-2 1 72 1 234 1-106 1-3 1-114 1 68 1-54 1-87 1 440 1-447 1 41 1-44 1 237 1 49 1-224 1 231 1-155 1 37 1 198 1-248 1-14 1-209 1 289 1 56 1-185 1 121 1 4 1-3 1 32 1-125 1-146 1 155 1-10 1 100 1-106 1-178 1 87 1 115 1-72 1 77 1-147 1 34 1 26 1 130 1-35 1 226 1-129 1-50 1-102 1-19 1 34 1-27 1-39 1 53 1-258 1 369 1-33 1-181 1 310 1-188 1-11 1-26 1 31 1 155 1-149 1 286 1-171 1-47 1 63 1-270 1 280 1-354 1 541 1-341 1 36 1 83 1-58 1-78 1 224 1-32 1-16 1 155 1-212 1 42 1-278 1-21 1 92 1 129 1-13 1 26 1-261 1 178 1 245 1-122 1 118 1-33 1-230 1 96 1-91 1-39 1 136 1 153 1-189 1 43 1-19 1-22 1-280 1 239 1 102 1-31 1 143 1 150 1-213 1-89 1 192 1-265 1 70 1-258 1 393 1-205 1 252 1-113 1 176 1-172 1-35 1 201 1-298 1 92 1 348 1-667 1 323 1 91 1-282 1-32 1 57 1 151 1 123 1-419 1-387 1-80 1 758 1-123 1 340 1 70 1-93 1-207 1-52 1-92 1 187 1-402 1-26 1-843 1 1341 1-674 1 654 1-78 1-86 1 510 1-233 1-360 1-2 1 163 1 227 1 6 1-415 1-154 1 139 1 310 1-75 1-175 1-103 1 277 1 317 1-469 1 246 1-400 1-27 1 173 1-86 1-64 1 296 1 272 1-624 1 355 1-65 1-8 1-10 1 31 1-24 1-83 1 80 1 223 1-2 1-251 1-94 1 241 1 68 1-150 1-73 1 111 1 81 1 24 1-114 1 59 1 163 1-79 1-206 1 70 1 145 1-147 1-105 1-101 1 144 1-78 1-123 1 394 1-24 1 14 1-122 1 78 1 8 1-178 1 75 1-292 1 218 1-161 1-36 1 78 1 173 1-254 1 421 1-50 1-399 1 184 1-11 1 70 1 4 1-192 1 10 1 316 1-399 1 141 1 206 1-234 1-310 1 443 1 226 1-151 1-319 1 295 1-172 1 172 1 115 1-137 1-100 1 322 1-229 1 128 1-10 1 27 1 9 1-171 1 129 1-452 1 319 1 105 1-379 1 385 1 36 1 65 1 73 1-285 1 111 1 98 1-368 1 284 1 98 1-24 1-32 1 168 1-189 1 107 1-226 1 20 1-45 1 123 1 38 1 31 1-274 1 81 1-72 1 209 1 55 1-134 1 37 1-203 1 272 1-323 1 9 1 219 1-140 1 85 1 132 1-157 1-29 1 69 1 171 1-62 1 97 1-152 1 13 1 101 1-122 1 103 1-192 1-53 1 124 1 0 1-12 1-72 1-139 1 248 1 122 1-232 1 261 1-220 1 60 1 97 1-130 1 155 1-62 1-42 1-187 1 170 1 48 1-117 1 205 1 31 1-158 1-51 1-132 1 156 1 56 1-180 1 420 1-310 1-80 1 70 1-207 1 247 1 70 1-71 1 21 1-99 1 23 1 18 1-39 1-47 1 136 1 21 1-66 1 50 1-149 1 88 1 306 1-297 1-62 1 109 1-102 1-16 1 180 1 52 1-20 1-92 1-107 1 3 1 33 1 154 1-262 1-20 1 108 1 53 1-81 1 150 1-30 1 112 1-40 1 71 1-106 1-14 1-9 1-50 1-122 1 12 1 171 1 83 1 117 1-245 1-10 1-13 1-60 1 69 1-60 1-100 1 106 1 148 1-98 1 81 1-184 1-87 1 153 1-98 1 219 1-91 1-61 1 119 1-34 1-131 1 170 1-15 1 93 1-59 1-88 1 123 1 39 1-111 1-157 1-39 1 83 1 308 1-180 1-35 1-124 1 142 1 12 1-60 1-10 1-130 1 34 1 173 1 53 1 93 1-58 1-254 1 136 1 117 1-95 1-54 1-56 1-9 1 28 1 75 1-169 1 104 1-33 1 130 1-42 1 55 1-285 1 242 1-81 1-21 1 65 1 0 1 82 1-208 1 67 1-138 1 252 1-210 1 133 1 90 1 168 1-180 1 91 1-82 1-68 1-32 1 56 1 145 1-42 1-213 1 119 1 1 1 14 1-123 1 82 1-14 1 100 1-294 1 128 1-7 1-17 1-3 1 141 1 28 1-220 1-42 1 272 1-194 1 7 1-35 1 305 1-77 1 23 1-68 1 17 1-128 1 123 1 75 1-60 1-206 1-31 1 212 1-181 1 160 1-60 1 38 1-66 1 177 1-37 1-32 1 210 1-330 1 77 1-4 1 45 1-109 1 10 1-83 1 152 1-204 1 294 1-46 1 116 1-434 1 152 1 71 1-117 1 210 1-5 1-84 1-140 1-3 1 53 1 195 1-159 1-40 1 55 1 50 1-43 1-48 1 35 1-245 1 303 1 239 1-248 1 207 1 16 1 71 1-49 1-24 1-263 1 49 1-207 1 321 1 57 1-103 1-153 1-5 1 349 1-130 1-15 1-184 1 186 1 11 1-70 1-250 1 58 1-2 1 128 1 199 1-170 1 86 1-53 1-219 1-278 1 536 1 147 1-187 1 130 1-158 1-546 1 284 1 107 1 301 1-404 1 97 1 88 1 65 1-103 1-220 1 377 1-309 1-16 1 155 1 224 1-40 1-118 1 76 1-220 1 536 1-400 1 138 1-49 1 18 1 162 1-249 1 202 1 126 1-245 1-10 1-41 1 215 1-357 1 193 1 250 1-208 1-195 1 1 1 41 1 92 1-32 1-91 1 7 1 65 1 167 1-270 1 414 1-262 1-39 1 239 1-87 1-23 1-223 1 130 1-68 1-31 1 109 1 77 1-112 1 54 1-63 1-158 1 313 1-52 1-185 1 192 1-35 1 37 1-294 1 253 1 83 1 16 1-71 1-125 1 24 1 95 1-91 1 150 1-50 1-136 1 59 1 137 1 19 1-113 1-62 1-1 1-36 1 305 1-305 1 146 1-276 1 181 1 51 1 95 1-172 1 0 1-147 1 84 1-36 1 177 1-14 1-86 1-208 1 155 1 10 1 246 1-52 1-42 1 37 1-1 1-127 1 156 1 9 1-246 1 178 1-81 1 16 1 119 1-23 1-65 1-312 1 197 1 276 1-21 1-21 1-115 1-7 1-117 1-114 1 41 1 171 1-19 1 101 1 104 1-83 1-254 1 222 1-6 1-103 1-8 1 105 1 50 1-99 1 11 1 56 1-69 1 60 1-19 1-76 1-29 1 51 1 28 1 93 1-156 1-89 1 135 1 23 1 40 1 8 1-82 1-157 1 79 1 16 1 132 1-48 1-3 1 86 1-161 1-29 1 220 1-142 1 96 1 133 1-445 1 161 1 151 1-30 1-10 1-179 1 5 1-75 1 146 1-106 1 43 1 193 1-46 1-24 1-7 1 102 1-141 1 32 1-15 1 91 1-1 1-145 1 111 1-6 1-39 1-3 1-48 1 185 1-165 1 91 1-44 1 46 1-241 1 238 1-101 1-41 1 68 1 80 1 25 1-28 1 128 1-103 1 5 1-174 1 46 1-95 1 223 1-150 1 62 1 93 1-209 1 240 1 110 1-24 1-237 1 70 1 39 1-91 1-195 1 198 1 104 1-170 1 91 1 135 1 65 1 82 1-272 1 187 1-118 1-116 1 84 1 2 1-156 1 289 1-29 1-211 1 170 1-133 1 67 1 171 1-205 1 71 1-5 1-65 1 138 1-24 1-373 1 181 1-19 1 64 1 65 1-78 1 7 1 111 1 233 1-365 1-46 1 238 1-7 1-3 1 21 1-2 1-167 1 193 1 130 1-268 1-45 1 83 1 105 1-200 1-36 1-27 1 74 1 19 1 105 1-436 1 331 1-176 1 225 1-74 1 151 1-99 1 137 1-175 1-58 1-67 1 225 1-54 1-116 1 116 1 168 1-426 1 277 1 3 1 106 1-88 1-91 1 252 1-193 1-17 1-260 1 42 1 117 1-6 1-90 1 34 1 106 1 125 1-55 1-70 1-133 1 81 1-14 1 302 1-158 1-112 1 211 1-105 1 25 1-127 1 90 1-96 1 66 1-19 1-40 1 42 1 4 1 41 1 15 1-122 1 62 1 20 1-240 1 89 1 144 1-38 1 98 1-50 1 58 1 83 1-203 1-13 1 154 1-104 1 24 1 80 1 40 1-22 1-382 1 261 1-13 1 251 1-312 1-7 1 143 1-80 1-8 1-16 1-20 1 18 1 37 1-133 1 200 1-143 1 95 1 60 1 39 1 20 1-125 1-111 1 63 1-128 1 168 1-53 1 92 1-97 1 20 1-16 1-4 1 126 1 53 1-171 1-26 1 107 1 62 1-68 1 136 1-270 1 94 1-13 1 209 1-135 1-174 1 143 1-102 1-110 1 94 1-59 1 211 1-100 1 21 1-192 1 219 1 35 1 24 1-2 1 62 1-247 1-117 1 267 1 1 1 19 1 137 1-96 1 63 1-136 1-69 1 5 1-12 1-4 1 100 1 105 1 23 1-234 1 61 1 100 1-115 1 185 1-179 1-29 1 106 1 92 1-79 1 149 1-370 1 185 1-21 1 86 1-224 1 87 1-220 1 121 1 157 1 114 1-80 1-47 1-228 1 338 1-191 1-146 1 38 1 16 1 49 1 234 1-71 1 70 1-145 1 99 1-77 1 120 1-57 1 59 1-65 1 3 1-201 1 225 1-321 1 226 1-134 1 188 1 114 1-32 1-145 1-23 1-51 1 200 1-186 1 247 1-85 1-3 1-104 1 85 1 15 1-43 1 48 1-9 1-96 1 71 1-119 1 115 1 50 1 60 1-141 1 129 1-125 1 81 1 46 1 35 1 2 1-185 1-11 1-100 1 71 1 50 1-23 1 56 1-12 1 79 1-37 1-182 1 184 1 68 1 5 1-171 1 106 1-123 1 112 1-277 1 307 1-147 1 54 1-56 1 146 1-68 1-80 1 46 1 48 1-47 1 56 1-55 1 93 1-28 1-60 1 133 1-78 1 156 1-110 1-83 1 93 1-30 1-81 1 162 1 115 1-227 1-257 1 129 1 105 1 61 1-58 1 62 1-103 1 101 1-64 1-263 1 448 1-183 1-92 1 257 1-371 1 53 1-200 1 227 1-286 1 499 1-202 1-222 1 286 1 157 1-273 1 25 1-26 1 339 1-115 1-193 1-57 1 253 1-9 1-39 1-235 1 235 1 44 1-15 1 68 1-358 1 428 1-586 1 372 1 23 1 56 1 26 1 28 1-45 1 95 1-61 1-606 1-457 1 948 1 49 1-343 1 359 1-22 1-90 1 449 1-266 1-83 1-392 1 384 1-573 1 508 1-167 1 195 1-45 1-395 1 540 1-258 1 312 1-416 1 446 1-391 1 253 1 55 1-74 1 22 1-2 1-86 1 36 1 33 1-5 1 68 1-109 1 77 1 51 1 16 1-27 1-253 1 165 1-63 1 59 1 79 1-49 1 42 1-46 1-4 1 67 1 13 1-113 1 31 1 145 1-27 1-208 1 37 1 95 1 33 1-184 1 141 1-92 1 29 1-62 1-82 1-34 1 168 1-14 1 97 1 12 1-46 1-57 1 28 1 19 1 49 1 10 1-92 1-30 1 16 1-111 1 122 1 55 1 63 1-39 1-92 1 52 1 20 1 33 1-63 1 95 1-86 1-231 1 238 1 79 1-120 1 63 1-71 1-13 1 46 1 76 1-43 1 24 1-49 1-23 1 44 1-30 1 140 1-235 1 181 1-114 1 72 1-272 1 94 1 120 1-46 1 0 1 0 1 204 1-50 1-16 1-78 1 105 1-123 1 22 1-41 1 44 1 91 1-161 1-7 1 151 1 34 1-221 1 28 1 138 1-30 1 70 1 12 1 68 1-179 1 45 1 47 1-54 1-42 1-53 1 73 1 14 1 11 1 77 1-87 1-38 1 19 1-192 1 61 1 71 1-113 1 230 1-43 1-27 1 73 1-103 1 100 1 5 1-9 1-25 1 58 1-81 1-70 1-57 1 162 1-2 1-94 1 143 1-169 1 37 1-45 1 101 1-82 1 70 1-74 1 159 1-83 1-192 1 171 1 16 1-50 1 57 1 4 1-169 1 139 1-52 1 56 1 98 1-79 1 73 1-154 1 25 1 39 1-17 1-50 1 53 1 38 1-18 1-19 1 134 1-58 1-110 1 216 1-173 1 35 1 10 1-44 1 109 1-77 1 89 1-102 1-76 1 173 1-97 1-63 1 10 1 178 1-240 1 163 1 34 1-215 1 193 1 54 1-104 1 20 1-150 1 26 1 68 1-88 1 137 1-72 1 71 1-105 1-34 1 135 1 25 1-12 1-130 1 140 1-159 1 90 1-74 1-10 1 103 1 36 1-161 1 211 1-116 1 20 1 5 1 82 1-221 1 115 1-65 1 196 1-223 1 136 1 7 1 53 1-16 1-94 1 55 1 6 1-126 1 62 1 45 1-146 1 155 1 12 1 23 1-59 1 21 1-21 1 80 1-39 1 3 1-34 1 21 1 26 1-162 1 235 1-160 1 53 1-88 1 92 1-53 1 78 1-48 1 57 1-7 1-10 1-48 1 8 1 29 1-59 1-60 1-42 1 71 1 60 1 38 1 36 1-27 1-88 1 105 1-76 1 95 1-121 1 118 1-119 1-74 1 111 1 78 1-60 1 39 1-75 1-42 1 15 1-12 1-67 1 223 1-168 1 56 1 66 1-44 1 44 1-75 1 66 1 8 1 27 1-42 1 68 1-40 1 16 1 14 1-204 1 124 1-56 1 76 1-72 1 37 1 25 1-45 1-1 1-68 1 96 1 16 1-20 1 95 1-146 1 76 1 95 1-97 1-8 1 56 1-97 1 71 1 46 1-70 1-3 1-30 1 59 1-21 1-54 1-67 1 74 1 17 1 59 1-40 1 26 1-79 1-4 1 128 1-72 1 47 1-83 1 46 1-36 1-26 1-20 1 53 1 1 1 60 1-61 1 44 1 8 1-39 1-47 1 189 1-155 1 19 1 66 1 1 1-6 1-105 1 121 1-123 1 13 1 88 1-35 1 43 1-27 1-49 1-86 1 102 1-59 1 149 1-64 1-77 1 4 1 10 1 87 1-14 1-84 1-34 1 85 1-1 1 31 1-91 1-59 1 177 1-101 1-70 1 149 1-59 1-3 1-151" fill="none" stroke="#0000ff" stroke-width="0.36" stroke-linejoin="round" vector-effect="non-scaling-stroke"/>
<rect x="836.30" y="616.10" width="603.15" height="204.90" fill="#00008f"/>
<g transform="translate(837.5 616)" fill="none" stroke-width="1" shape-rendering="crispEdges"><path stroke="#000097" d="M10 66v5M10 75v5M11 66v5M11 75v5M17 9v5M17 42v5M18 14v7M18 33v9M138 156v2M138 174v3M139 151v2M139 181v3M140 160v3M140 174v5M151 132v5M151 141v5M152 115v5M152 158v2M153 118v5M153 148v5M227 111v4M227 141v3M228 118v2M228 153v5M229 132v2M229 148v12M416 61v7M416 78v7M417 45v9M417 94v10"/><path stroke="#0000a7" d="M10 71v4M11 71v4M17 14v5M17 35v7M18 21v12M138 158v2M139 153v3M139 179v2M140 172v2M151 137v4M152 120v3M152 153v5M153 123v7M153 144v4M227 115v10M227 139v2M228 120v5M228 148v5M229 134v14M416 68v10M417 54v7M417 87v7"/><path stroke="#0000b7" d="M17 19v7M17 31v4M138 160v3M138 170v4M139 156v2M139 177v2M140 163v4M140 170v2M152 123v4M152 148v5M153 130v4M153 141v3M227 125v14M228 125v5M228 144v4M417 61v7M417 80v7"/><path stroke="#0000c7" d="M17 26v5M138 163v4M139 158v2M139 174v3M140 167v3M152 127v5M152 144v4M153 134v7M228 130v4M228 137v7M417 68v12"/><path stroke="#0000d7" d="M138 167v3M139 160v3M139 172v2M152 132v5M152 139v5M228 134v3"/><path stroke="#0000e7" d="M139 163v4M139 170v2M152 137v2"/><path stroke="#0000f7" d="M139 167v3"/></g>
<rect x="911.57" y="616.10" width="1" height="6.00" fill="#000050" fill-opacity="0.75"/>
<rect x="911.57" y="815.00" width="1" height="6.00" fill="#000050" fill-opacity="0.75"/>
<rect x="986.84" y="616.10" width="1" height="6.00" fill="#000050" fill-opacity="0.75"/>
<rect x="986.84" y="815.00" width="1" height="6.00" fill="#000050" fill-opacity="0.75"/>
<rect x="1062.11" y="616.10" width="1" height="6.00" fill="#000050" fill-opacity="0.75"/>
<rect x="1062.11" y="815.00" width="1" height="6.00" fill="#000050" fill-opacity="0.75"/>
<rect x="1137.38" y="616.10" width="1" height="6.00" fill="#000050" fill-opacity="0.75"/>
<rect x="1137.38" y="815.00" width="1" height="6.00" fill="#000050" fill-opacity="0.75"/>
<rect x="1212.64" y="616.10" width="1" height="6.00" fill="#000050" fill-opacity="0.75"/>
<rect x="1212.64" y="815.00" width="1" height="6.00" fill="#000050" fill-opacity="0.75"/>
<rect x="1287.91" y="616.10" width="1" height="6.00" fill="#000050" fill-opacity="0.75"/>
<rect x="1287.91" y="815.00" width="1" height="6.00" fill="#000050" fill-opacity="0.75"/>
<rect x="1363.18" y="616.10" width="1" height="6.00" fill="#000050" fill-opacity="0.75"/>
<rect x="1363.18" y="815.00" width="1" height="6.00" fill="#000050" fill-opacity="0.75"/>
<rect x="836.30" y="817.91" width="6.00" height="1" fill="#000050" fill-opacity="0.75"/>
<rect x="1433.45" y="817.91" width="6.00" height="1" fill="#000050" fill-opacity="0.75"/>
<rect x="836.30" y="753.28" width="6.00" height="1" fill="#000050" fill-opacity="0.75"/>
<rect x="1433.45" y="753.28" width="6.00" height="1" fill="#000050" fill-opacity="0.75"/>
<rect x="836.30" y="707.42" width="6.00" height="1" fill="#000050" fill-opacity="0.75"/>
<rect x="1433.45" y="707.42" width="6.00" height="1" fill="#000050" fill-opacity="0.75"/>
<rect x="836.30" y="671.86" width="6.00" height="1" fill="#000050" fill-opacity="0.75"/>
<rect x="1433.45" y="671.86" width="6.00" height="1" fill="#000050" fill-opacity="0.75"/>
<rect x="836.30" y="642.79" width="6.00" height="1" fill="#000050" fill-opacity="0.75"/>
<rect x="1433.45" y="642.79" width="6.00" height="1" fill="#000050" fill-opacity="0.75"/>
<rect x="836.30" y="618.22" width="6.00" height="1" fill="#000050" fill-opacity="0.75"/>
<rect x="1433.45" y="618.22" width="6.00" height="1" fill="#000050" fill-opacity="0.75"/>
<rect x="836.80" y="616.60" width="602.15" height="203.90" fill="none" stroke="#8a8aa8" stroke-opacity=".45" stroke-width="1"/>
<rect x="1458.30" y="616.200" width="25.30" height="205.350" fill="#870000"/>
<rect x="1458.30" y="619.409" width="25.30" height="202.141" fill="#970000"/>
<rect x="1458.30" y="622.617" width="25.30" height="198.933" fill="#a70000"/>
<rect x="1458.30" y="625.826" width="25.30" height="195.724" fill="#b70000"/>
<rect x="1458.30" y="629.034" width="25.30" height="192.516" fill="#c70000"/>
<rect x="1458.30" y="632.243" width="25.30" height="189.307" fill="#d70000"/>
<rect x="1458.30" y="635.452" width="25.30" height="186.098" fill="#e70000"/>
<rect x="1458.30" y="638.660" width="25.30" height="182.890" fill="#f70000"/>
<rect x="1458.30" y="641.869" width="25.30" height="179.681" fill="#ff0800"/>
<rect x="1458.30" y="645.077" width="25.30" height="176.473" fill="#ff1800"/>
<rect x="1458.30" y="648.286" width="25.30" height="173.264" fill="#ff2800"/>
<rect x="1458.30" y="651.495" width="25.30" height="170.055" fill="#ff3800"/>
<rect x="1458.30" y="654.703" width="25.30" height="166.847" fill="#ff4800"/>
<rect x="1458.30" y="657.912" width="25.30" height="163.638" fill="#ff5800"/>
<rect x="1458.30" y="661.120" width="25.30" height="160.430" fill="#ff6800"/>
<rect x="1458.30" y="664.329" width="25.30" height="157.221" fill="#ff7800"/>
<rect x="1458.30" y="667.538" width="25.30" height="154.012" fill="#ff8700"/>
<rect x="1458.30" y="670.746" width="25.30" height="150.804" fill="#ff9700"/>
<rect x="1458.30" y="673.955" width="25.30" height="147.595" fill="#ffa700"/>
<rect x="1458.30" y="677.163" width="25.30" height="144.387" fill="#ffb700"/>
<rect x="1458.30" y="680.372" width="25.30" height="141.178" fill="#ffc700"/>
<rect x="1458.30" y="683.580" width="25.30" height="137.970" fill="#ffd700"/>
<rect x="1458.30" y="686.789" width="25.30" height="134.761" fill="#ffe700"/>
<rect x="1458.30" y="689.998" width="25.30" height="131.552" fill="#fff700"/>
<rect x="1458.30" y="693.206" width="25.30" height="128.344" fill="#f7ff08"/>
<rect x="1458.30" y="696.415" width="25.30" height="125.135" fill="#e7ff18"/>
<rect x="1458.30" y="699.623" width="25.30" height="121.927" fill="#d7ff28"/>
<rect x="1458.30" y="702.832" width="25.30" height="118.718" fill="#c7ff38"/>
<rect x="1458.30" y="706.041" width="25.30" height="115.509" fill="#b7ff48"/>
<rect x="1458.30" y="709.249" width="25.30" height="112.301" fill="#a7ff58"/>
<rect x="1458.30" y="712.458" width="25.30" height="109.092" fill="#97ff68"/>
<rect x="1458.30" y="715.666" width="25.30" height="105.884" fill="#87ff78"/>
<rect x="1458.30" y="718.875" width="25.30" height="102.675" fill="#78ff87"/>
<rect x="1458.30" y="722.084" width="25.30" height="99.466" fill="#68ff97"/>
<rect x="1458.30" y="725.292" width="25.30" height="96.258" fill="#58ffa7"/>
<rect x="1458.30" y="728.501" width="25.30" height="93.049" fill="#48ffb7"/>
<rect x="1458.30" y="731.709" width="25.30" height="89.841" fill="#38ffc7"/>
<rect x="1458.30" y="734.918" width="25.30" height="86.632" fill="#28ffd7"/>
<rect x="1458.30" y="738.127" width="25.30" height="83.423" fill="#18ffe7"/>
<rect x="1458.30" y="741.335" width="25.30" height="80.215" fill="#08fff7"/>
<rect x="1458.30" y="744.544" width="25.30" height="77.006" fill="#00f7ff"/>
<rect x="1458.30" y="747.752" width="25.30" height="73.798" fill="#00e7ff"/>
<rect x="1458.30" y="750.961" width="25.30" height="70.589" fill="#00d7ff"/>
<rect x="1458.30" y="754.170" width="25.30" height="67.380" fill="#00c7ff"/>
<rect x="1458.30" y="757.378" width="25.30" height="64.172" fill="#00b7ff"/>
<rect x="1458.30" y="760.587" width="25.30" height="60.963" fill="#00a7ff"/>
<rect x="1458.30" y="763.795" width="25.30" height="57.755" fill="#0097ff"/>
<rect x="1458.30" y="767.004" width="25.30" height="54.546" fill="#0087ff"/>
<rect x="1458.30" y="770.212" width="25.30" height="51.337" fill="#0078ff"/>
<rect x="1458.30" y="773.421" width="25.30" height="48.129" fill="#0068ff"/>
<rect x="1458.30" y="776.630" width="25.30" height="44.920" fill="#0058ff"/>
<rect x="1458.30" y="779.838" width="25.30" height="41.712" fill="#0048ff"/>
<rect x="1458.30" y="783.047" width="25.30" height="38.503" fill="#0038ff"/>
<rect x="1458.30" y="786.255" width="25.30" height="35.295" fill="#0028ff"/>
<rect x="1458.30" y="789.464" width="25.30" height="32.086" fill="#0018ff"/>
<rect x="1458.30" y="792.673" width="25.30" height="28.877" fill="#0008ff"/>
<rect x="1458.30" y="795.881" width="25.30" height="25.669" fill="#0000f7"/>
<rect x="1458.30" y="799.090" width="25.30" height="22.460" fill="#0000e7"/>
<rect x="1458.30" y="802.298" width="25.30" height="19.252" fill="#0000d7"/>
<rect x="1458.30" y="805.507" width="25.30" height="16.043" fill="#0000c7"/>
<rect x="1458.30" y="808.716" width="25.30" height="12.834" fill="#0000b7"/>
<rect x="1458.30" y="811.924" width="25.30" height="9.626" fill="#0000a7"/>
<rect x="1458.30" y="815.133" width="25.30" height="6.417" fill="#000097"/>
<rect x="1458.30" y="818.341" width="25.30" height="3.209" fill="#000087"/>
<rect x="1458.80" y="616.70" width="24.30" height="204.35" fill="none" stroke="#3a3a4a" stroke-opacity=".5" stroke-width="1"/>
<rect x="1458.30" y="786.49" width="3.00" height="1" fill="#222" fill-opacity="0.7"/>
<rect x="1480.60" y="786.49" width="3.00" height="1" fill="#222" fill-opacity="0.7"/>
<rect x="1458.30" y="752.43" width="3.00" height="1" fill="#222" fill-opacity="0.7"/>
<rect x="1480.60" y="752.43" width="3.00" height="1" fill="#222" fill-opacity="0.7"/>
<rect x="1458.30" y="718.38" width="3.00" height="1" fill="#222" fill-opacity="0.7"/>
<rect x="1480.60" y="718.38" width="3.00" height="1" fill="#222" fill-opacity="0.7"/>
<rect x="1458.30" y="684.32" width="3.00" height="1" fill="#222" fill-opacity="0.7"/>
<rect x="1480.60" y="684.32" width="3.00" height="1" fill="#222" fill-opacity="0.7"/>
<rect x="1458.30" y="650.26" width="3.00" height="1" fill="#222" fill-opacity="0.7"/>
<rect x="1480.60" y="650.26" width="3.00" height="1" fill="#222" fill-opacity="0.7"/><g opacity="0.996"><text x="720.60" y="9.50" font-size="12.4" text-anchor="middle" font-weight="bold" xml:space="preserve">DIONISOS Wavelet Spectra on 19 March     2014</text>
<text x="344.50" y="36.00" font-size="12.45" text-anchor="middle" font-weight="bold">Filtered Series (cutoff at 2.5 mHz)</text>
<text x="1138.50" y="36.00" font-size="12.45" text-anchor="middle" font-weight="bold">Pc5 Wavelet Power</text>
<text x="344.50" y="851.00" font-size="12.45" text-anchor="middle" font-weight="bold">UT (hours)</text>
<text x="1138.50" y="851.00" font-size="12.45" text-anchor="middle" font-weight="bold">UT (hours)</text>
<text x="43.05" y="266.00" font-size="12.5" text-anchor="middle">00:00</text>
<text x="118.35" y="266.00" font-size="12.5" text-anchor="middle">03:00</text>
<text x="193.65" y="266.00" font-size="12.5" text-anchor="middle">06:00</text>
<text x="268.95" y="266.00" font-size="12.5" text-anchor="middle">09:00</text>
<text x="344.25" y="266.00" font-size="12.5" text-anchor="middle">12:00</text>
<text x="419.55" y="266.00" font-size="12.5" text-anchor="middle">15:00</text>
<text x="494.85" y="266.00" font-size="12.5" text-anchor="middle">18:00</text>
<text x="570.15" y="266.00" font-size="12.5" text-anchor="middle">21:00</text>
<text x="645.45" y="266.00" font-size="12.5" text-anchor="middle">00:00</text>
<text x="39.25" y="50.30" font-size="12.5" text-anchor="end">1</text>
<text x="39.25" y="101.43" font-size="12.5" text-anchor="end">0.5</text>
<text x="39.25" y="152.55" font-size="12.5" text-anchor="end">0</text>
<text x="39.25" y="203.68" font-size="12.5" text-anchor="end">-0.5</text>
<text x="39.25" y="254.80" font-size="12.5" text-anchor="end">-1</text>
<text x="9.40" y="148.95" font-size="12.45" text-anchor="middle" font-weight="bold" transform="rotate(-90 9.40 148.95)">X (nT)</text>
<text x="836.50" y="266.00" font-size="12.5" text-anchor="middle">00:00</text>
<text x="911.77" y="266.00" font-size="12.5" text-anchor="middle">03:00</text>
<text x="987.04" y="266.00" font-size="12.5" text-anchor="middle">06:00</text>
<text x="1062.31" y="266.00" font-size="12.5" text-anchor="middle">09:00</text>
<text x="1137.58" y="266.00" font-size="12.5" text-anchor="middle">12:00</text>
<text x="1212.84" y="266.00" font-size="12.5" text-anchor="middle">15:00</text>
<text x="1288.11" y="266.00" font-size="12.5" text-anchor="middle">18:00</text>
<text x="1363.38" y="266.00" font-size="12.5" text-anchor="middle">21:00</text>
<text x="1438.65" y="266.00" font-size="12.5" text-anchor="middle">00:00</text>
<text x="832.30" y="252.41" font-size="12.5" text-anchor="end">2</text>
<text x="832.30" y="187.78" font-size="12.5" text-anchor="end">3</text>
<text x="832.30" y="141.92" font-size="12.5" text-anchor="end">4</text>
<text x="832.30" y="106.36" font-size="12.5" text-anchor="end">5</text>
<text x="832.30" y="77.29" font-size="12.5" text-anchor="end">6</text>
<text x="832.30" y="52.72" font-size="12.5" text-anchor="end">7</text>
<text x="816.90" y="148.95" font-size="12.45" text-anchor="middle" font-weight="bold" transform="rotate(-90 816.90 148.95)">freq (mHz)</text>
<text x="1487.00" y="255.55" font-size="12.5" text-anchor="start">0</text>
<text x="1487.00" y="221.49" font-size="12.5" text-anchor="start">1</text>
<text x="1487.00" y="187.43" font-size="12.5" text-anchor="start">2</text>
<text x="1487.00" y="153.38" font-size="12.5" text-anchor="start">3</text>
<text x="1487.00" y="119.32" font-size="12.5" text-anchor="start">4</text>
<text x="1487.00" y="85.26" font-size="12.5" text-anchor="start">5</text>
<text x="1487.00" y="51.20" font-size="12.5" text-anchor="start">6</text>
<text x="1514.6" y="148.7" font-size="12.45" font-weight="bold" text-anchor="middle" transform="rotate(-90 1514.6 148.7)">log<tspan dy="4" font-size="9.5">2</tspan><tspan dy="-4">(nT</tspan><tspan dy="-5" font-size="9.5">2</tspan><tspan dy="5">/Hz)</tspan></text>
<text x="43.05" y="551.00" font-size="12.5" text-anchor="middle">00:00</text>
<text x="118.35" y="551.00" font-size="12.5" text-anchor="middle">03:00</text>
<text x="193.65" y="551.00" font-size="12.5" text-anchor="middle">06:00</text>
<text x="268.95" y="551.00" font-size="12.5" text-anchor="middle">09:00</text>
<text x="344.25" y="551.00" font-size="12.5" text-anchor="middle">12:00</text>
<text x="419.55" y="551.00" font-size="12.5" text-anchor="middle">15:00</text>
<text x="494.85" y="551.00" font-size="12.5" text-anchor="middle">18:00</text>
<text x="570.15" y="551.00" font-size="12.5" text-anchor="middle">21:00</text>
<text x="645.45" y="551.00" font-size="12.5" text-anchor="middle">00:00</text>
<text x="39.25" y="335.30" font-size="12.5" text-anchor="end">0.6</text>
<text x="39.25" y="364.51" font-size="12.5" text-anchor="end">0.4</text>
<text x="39.25" y="393.73" font-size="12.5" text-anchor="end">0.2</text>
<text x="39.25" y="422.94" font-size="12.5" text-anchor="end">0</text>
<text x="39.25" y="452.16" font-size="12.5" text-anchor="end">-0.2</text>
<text x="39.25" y="481.37" font-size="12.5" text-anchor="end">-0.4</text>
<text x="39.25" y="510.59" font-size="12.5" text-anchor="end">-0.6</text>
<text x="39.25" y="539.80" font-size="12.5" text-anchor="end">-0.8</text>
<text x="9.40" y="433.95" font-size="12.45" text-anchor="middle" font-weight="bold" transform="rotate(-90 9.40 433.95)">Y (nT)</text>
<text x="836.50" y="551.00" font-size="12.5" text-anchor="middle">00:00</text>
<text x="911.77" y="551.00" font-size="12.5" text-anchor="middle">03:00</text>
<text x="987.04" y="551.00" font-size="12.5" text-anchor="middle">06:00</text>
<text x="1062.31" y="551.00" font-size="12.5" text-anchor="middle">09:00</text>
<text x="1137.58" y="551.00" font-size="12.5" text-anchor="middle">12:00</text>
<text x="1212.84" y="551.00" font-size="12.5" text-anchor="middle">15:00</text>
<text x="1288.11" y="551.00" font-size="12.5" text-anchor="middle">18:00</text>
<text x="1363.38" y="551.00" font-size="12.5" text-anchor="middle">21:00</text>
<text x="1438.65" y="551.00" font-size="12.5" text-anchor="middle">00:00</text>
<text x="832.30" y="537.41" font-size="12.5" text-anchor="end">2</text>
<text x="832.30" y="472.78" font-size="12.5" text-anchor="end">3</text>
<text x="832.30" y="426.92" font-size="12.5" text-anchor="end">4</text>
<text x="832.30" y="391.36" font-size="12.5" text-anchor="end">5</text>
<text x="832.30" y="362.29" font-size="12.5" text-anchor="end">6</text>
<text x="832.30" y="337.72" font-size="12.5" text-anchor="end">7</text>
<text x="816.90" y="433.95" font-size="12.45" text-anchor="middle" font-weight="bold" transform="rotate(-90 816.90 433.95)">freq (mHz)</text>
<text x="1487.00" y="540.55" font-size="12.5" text-anchor="start">0</text>
<text x="1487.00" y="506.49" font-size="12.5" text-anchor="start">1</text>
<text x="1487.00" y="472.43" font-size="12.5" text-anchor="start">2</text>
<text x="1487.00" y="438.38" font-size="12.5" text-anchor="start">3</text>
<text x="1487.00" y="404.32" font-size="12.5" text-anchor="start">4</text>
<text x="1487.00" y="370.26" font-size="12.5" text-anchor="start">5</text>
<text x="1487.00" y="336.20" font-size="12.5" text-anchor="start">6</text>
<text x="1514.6" y="433.6" font-size="12.45" font-weight="bold" text-anchor="middle" transform="rotate(-90 1514.6 433.6)">log<tspan dy="4" font-size="9.5">2</tspan><tspan dy="-4">(nT</tspan><tspan dy="-5" font-size="9.5">2</tspan><tspan dy="5">/Hz)</tspan></text>
<text x="43.05" y="836.00" font-size="12.5" text-anchor="middle">00:00</text>
<text x="118.35" y="836.00" font-size="12.5" text-anchor="middle">03:00</text>
<text x="193.65" y="836.00" font-size="12.5" text-anchor="middle">06:00</text>
<text x="268.95" y="836.00" font-size="12.5" text-anchor="middle">09:00</text>
<text x="344.25" y="836.00" font-size="12.5" text-anchor="middle">12:00</text>
<text x="419.55" y="836.00" font-size="12.5" text-anchor="middle">15:00</text>
<text x="494.85" y="836.00" font-size="12.5" text-anchor="middle">18:00</text>
<text x="570.15" y="836.00" font-size="12.5" text-anchor="middle">21:00</text>
<text x="645.45" y="836.00" font-size="12.5" text-anchor="middle">00:00</text>
<text x="39.25" y="620.30" font-size="12.5" text-anchor="end">0.6</text>
<text x="39.25" y="661.20" font-size="12.5" text-anchor="end">0.4</text>
<text x="39.25" y="702.10" font-size="12.5" text-anchor="end">0.2</text>
<text x="39.25" y="743.00" font-size="12.5" text-anchor="end">0</text>
<text x="39.25" y="783.90" font-size="12.5" text-anchor="end">-0.2</text>
<text x="39.25" y="824.80" font-size="12.5" text-anchor="end">-0.4</text>
<text x="9.40" y="718.95" font-size="12.45" text-anchor="middle" font-weight="bold" transform="rotate(-90 9.40 718.95)">Z (nT)</text>
<text x="836.50" y="836.00" font-size="12.5" text-anchor="middle">00:00</text>
<text x="911.77" y="836.00" font-size="12.5" text-anchor="middle">03:00</text>
<text x="987.04" y="836.00" font-size="12.5" text-anchor="middle">06:00</text>
<text x="1062.31" y="836.00" font-size="12.5" text-anchor="middle">09:00</text>
<text x="1137.58" y="836.00" font-size="12.5" text-anchor="middle">12:00</text>
<text x="1212.84" y="836.00" font-size="12.5" text-anchor="middle">15:00</text>
<text x="1288.11" y="836.00" font-size="12.5" text-anchor="middle">18:00</text>
<text x="1363.38" y="836.00" font-size="12.5" text-anchor="middle">21:00</text>
<text x="1438.65" y="836.00" font-size="12.5" text-anchor="middle">00:00</text>
<text x="832.30" y="822.41" font-size="12.5" text-anchor="end">2</text>
<text x="832.30" y="757.78" font-size="12.5" text-anchor="end">3</text>
<text x="832.30" y="711.92" font-size="12.5" text-anchor="end">4</text>
<text x="832.30" y="676.36" font-size="12.5" text-anchor="end">5</text>
<text x="832.30" y="647.29" font-size="12.5" text-anchor="end">6</text>
<text x="832.30" y="622.72" font-size="12.5" text-anchor="end">7</text>
<text x="816.90" y="718.95" font-size="12.45" text-anchor="middle" font-weight="bold" transform="rotate(-90 816.90 718.95)">freq (mHz)</text>
<text x="1487.00" y="825.55" font-size="12.5" text-anchor="start">0</text>
<text x="1487.00" y="791.49" font-size="12.5" text-anchor="start">1</text>
<text x="1487.00" y="757.43" font-size="12.5" text-anchor="start">2</text>
<text x="1487.00" y="723.38" font-size="12.5" text-anchor="start">3</text>
<text x="1487.00" y="689.32" font-size="12.5" text-anchor="start">4</text>
<text x="1487.00" y="655.26" font-size="12.5" text-anchor="start">5</text>
<text x="1487.00" y="621.20" font-size="12.5" text-anchor="start">6</text>
<text x="1514.6" y="718.6" font-size="12.45" font-weight="bold" text-anchor="middle" transform="rotate(-90 1514.6 718.6)">log<tspan dy="4" font-size="9.5">2</tspan><tspan dy="-4">(nT</tspan><tspan dy="-5" font-size="9.5">2</tspan><tspan dy="5">/Hz)</tspan></text></g></svg></body></html>
